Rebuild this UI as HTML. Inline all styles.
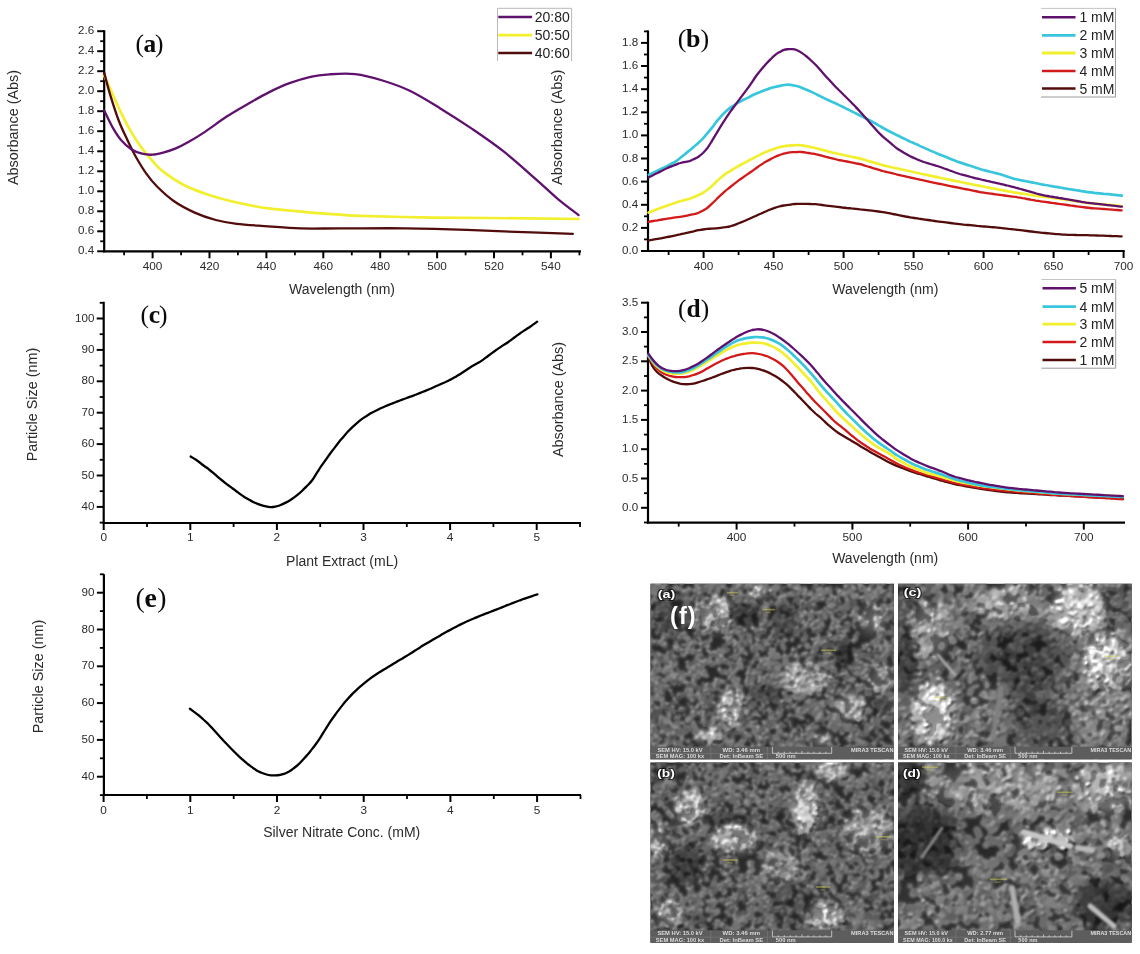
<!DOCTYPE html>
<html><head><meta charset="utf-8"><title>Figure</title>
<style>html,body{margin:0;padding:0;background:#fff;}body{width:1140px;height:954px;overflow:hidden;}svg{display:block;will-change:transform;}</style>
</head><body>
<svg width="1140" height="954" viewBox="0 0 1140 954">
<rect width="1140" height="954" fill="#fff"/>
<defs>
<clipPath id="clipa"><rect x="650.5" y="583.8" width="243.5" height="175.4"/></clipPath>
<clipPath id="clipc"><rect x="898" y="583.8" width="233.7" height="175.4"/></clipPath>
<clipPath id="clipb"><rect x="650.5" y="762.6" width="243.5" height="180.2"/></clipPath>
<clipPath id="clipd"><rect x="898" y="762.6" width="233.7" height="180.2"/></clipPath>
<filter id="bl4" x="-5%" y="-5%" width="110%" height="110%"><feGaussianBlur stdDeviation="4"/></filter>
<filter id="bl06" filterUnits="userSpaceOnUse" x="640" y="575" width="500" height="379" color-interpolation-filters="sRGB"><feGaussianBlur in="SourceGraphic" stdDeviation="0.8" result="b"/><feColorMatrix in="b" type="luminanceToAlpha" result="h"/><feDiffuseLighting in="h" surfaceScale="3" diffuseConstant="1" lighting-color="#fff" result="L"><feDistantLight azimuth="235" elevation="50"/></feDiffuseLighting><feComposite in="b" in2="L" operator="arithmetic" k1="1.38" k2="0" k3="0" k4="0"/></filter>
<filter id="bl06r" filterUnits="userSpaceOnUse" x="640" y="575" width="500" height="379"><feGaussianBlur stdDeviation="0.8"/></filter>
<filter id="grain" filterUnits="userSpaceOnUse" x="640" y="575" width="500" height="379" color-interpolation-filters="sRGB"><feTurbulence type="fractalNoise" baseFrequency="0.28" numOctaves="2" seed="5"/><feColorMatrix type="matrix" values="2.2 0 0 0 -0.6  2.2 0 0 0 -0.6  2.2 0 0 0 -0.6  0 0 0 0 1" result="ng"/><feComposite in="SourceGraphic" in2="ng" operator="arithmetic" k1="0" k2="1" k3="0.22" k4="-0.11"/></filter>
</defs>
<g clip-path="url(#clipa)"><g>
<g filter="url(#bl4)">
<rect x="640.5" y="573.8" width="263.5" height="195.4" fill="#2c2c2c"/>
<ellipse cx="717" cy="615" rx="20" ry="15" fill="#737373" transform="rotate(-20 717 615)"/>
<ellipse cx="761" cy="593" rx="9" ry="5" fill="#737373"/>
<ellipse cx="873" cy="620" rx="13" ry="14" fill="#5a5a5a"/>
<ellipse cx="807" cy="679" rx="22" ry="14" fill="#666666"/>
<ellipse cx="882" cy="680" rx="12" ry="12" fill="#5a5a5a"/>
<ellipse cx="733" cy="710" rx="12" ry="18" fill="#737373"/>
<ellipse cx="852" cy="709" rx="14" ry="12" fill="#666666" transform="rotate(-30 852 709)"/>
<ellipse cx="710" cy="737" rx="12" ry="7" fill="#737373"/>
<ellipse cx="821" cy="741" rx="9" ry="5" fill="#6d6d6d"/>
<ellipse cx="746" cy="615" rx="15" ry="11" fill="#191919"/>
<ellipse cx="845" cy="656" rx="9" ry="13" fill="#151515"/>
<ellipse cx="766" cy="694" rx="17" ry="9" fill="#1d1d1d"/>
<ellipse cx="883" cy="707" rx="10" ry="9" fill="#1d1d1d"/>
<ellipse cx="672" cy="615" rx="20" ry="22" fill="#202020"/>
<ellipse cx="785" cy="620" rx="12" ry="16" fill="#1d1d1d"/>
</g>
<g filter="url(#bl06)" stroke-linecap="round" fill="none">
<path d="M846 658l0 1M750 619l0 1M760 691l0 0M845 653l0 1M744 609l2 1" stroke="#323232" stroke-width="7"/>
<path d="M772 692l0 0M780 627l-1 0M676 633l1 2M887 711l2 0M740 607l0 1M748 624l0 1M778 610l0 0M769 689l0 0M752 611l-1 1M837 658l0 0M791 619l1 2M791 621l0 0M786 625l0 2" stroke="#3c3c3c" stroke-width="7"/>
<path d="M889 702l1 1M754 606l0 2M655 624l0 0M659 625l0 2M669 600l1 0M796 611l0 0M839 644l1 0M658 602l0 0M879 706l0 1M777 615l1 1M774 700l1 1M840 646l0 2M750 625l1 0M784 622l0 1M785 621l2 1M880 715l0 2M658 609l1 0M783 626l0 0" stroke="#464646" stroke-width="7"/>
<path d="M651 708l-1 1M822 719l-1 1M837 589l1 1M776 631l1 0M708 685l1 0M724 646l0 0M746 750l2 1M733 744l0 2M810 708l0 1M787 664l2 1M889 697l1 0M811 594l1 0M669 675l0 0M761 623l0 0M683 618l1 2M683 710l0 0M695 752l1 2M828 590l0 0M775 630l0 0M690 675l2 0M833 598l0 0M691 671l0 0M781 702l-1 1M740 690l0 1M666 664l0 0M814 727l0 0M873 724l-1 1M669 705l-1 0M885 696l1 1M773 695l0 1M832 645l0 1M681 709l0 0M757 632l0 0M696 635l0 1M655 725l-1 0M850 747l0 0M777 747l2 1M692 761l0 0M823 644l0 1M699 709l-1 1M726 594l-1 2M753 602l0 0M675 700l0 0M654 718l0 1M665 639l-1 1M699 651l0 0M758 584l0 0M666 585l0 1M661 725l0 0M813 653l0 0M877 594l0 1M742 629l2 1M846 587l1 2M657 690l0 2M722 659l0 1M728 639l1 2M665 603l-1 2M841 606l-1 1M692 721l0 0M648 675l0 0M743 729l0 2M684 709l0 0M858 754l1 2M879 755l-2 0M789 697l-1 0M883 702l1 1M651 676l0 0M732 671l-1 0M771 741l1 2M720 753l0 0M758 697l0 2M736 745l2 0M878 719l0 1M699 594l0 1M694 713l0 1M750 604l0 1M885 592l2 0M667 622l0 0M747 683l0 0M854 607l0 0M801 749l-1 0M849 687l0 0M720 726l1 0M670 627l0 1M728 753l-1 1M649 713l1 0M867 734l0 0M895 620l-1 0M702 670l1 0M762 731l1 2M766 753l2 0M691 745l0 0M709 706l0 0M757 672l0 2" stroke="#505050" stroke-width="7"/>
<path d="M751 754l1 0M833 722l-2 1M800 591l0 1M883 594l-1 0M821 641l1 0M743 596l0 2M893 599l1 1M761 678l0 1M893 705l1 0M802 608l0 1M689 623l1 0M708 723l0 0M741 586l2 1M722 582l0 2M878 597l-1 1M888 749l-2 0M652 712l0 1M794 650l0 0M692 751l0 1M885 661l0 1M691 646l1 0M766 613l0 0M816 586l-1 1M821 713l-2 0M698 666l0 1M806 706l0 1M698 761l-2 2M650 688l1 0M805 639l-1 1M751 761l0 1M717 686l0 2M866 671l1 0M675 638l1 1M772 651l1 1M763 615l1 2M695 713l0 0M674 674l1 1M663 757l1 0M750 600l-2 1M779 729l0 1M892 736l0 0M652 709l0 0M822 702l-1 2M651 613l-1 0M766 723l0 0M667 663l0 0M737 731l1 1M694 611l0 0M661 642l0 0M706 663l0 0M729 731l0 1M870 694l-2 0M678 743l-2 0M841 726l0 1M687 605l-2 1M758 730l0 0M669 619l-2 0M799 621l0 1M666 587l-1 1M803 630l1 1M834 721l0 1M873 720l0 0M772 713l-1 1M892 595l-1 1M691 650l-1 1M834 624l-1 1M782 742l0 0M648 762l-1 0M795 651l0 1M864 598l-1 2M882 637l-1 1M762 668l-1 0M668 708l2 1M814 653l0 1M648 709l1 0M863 675l-1 1M868 677l0 2M683 654l0 0M886 594l-1 1M847 692l0 0M858 670l1 1M758 636l-1 2M755 723l-1 2M792 749l0 0M894 655l0 2M663 728l0 2M861 586l1 1M797 597l0 0M760 750l1 1M714 653l0 0M683 753l0 0M768 755l0 0M835 682l0 1M870 652l0 1M896 612l1 0M752 581l-2 1M718 661l2 1M895 699l2 1M832 601l0 0M841 618l-1 1M813 602l0 0M718 656l0 1M673 729l0 0M854 602l0 1" stroke="#5a5a5a" stroke-width="7"/>
<path d="M760 682l0 1M658 759l1 1M700 652l0 0M740 663l-1 1M811 727l0 0M867 725l1 1M846 679l0 0M856 617l0 0M847 594l-1 1M770 623l-2 1M793 744l-1 0M654 587l0 1M721 725l-1 1M847 627l0 1M821 718l0 0M839 723l-1 2M726 661l-1 0M729 631l0 0M828 736l0 1M815 713l-1 1M737 748l0 0M830 592l0 0M751 707l0 0M889 747l0 0M781 710l0 0M663 704l0 0M854 732l-1 2M887 607l0 0M824 665l2 1M748 675l0 0M744 740l-1 1M855 613l-1 1M717 683l-1 1M814 649l2 0M845 637l0 2M663 753l0 0M874 754l0 0M891 755l1 1M712 762l1 1M788 755l0 0M648 701l0 2M820 591l-1 1M691 728l-2 0M786 595l0 0M657 680l-1 0M682 675l1 2M846 758l0 0M797 749l1 0M790 741l-1 1M856 654l0 1M732 664l0 1M711 727l2 0M879 760l0 1M752 715l-2 1M754 597l1 0M821 620l0 0M712 664l1 0M867 693l0 0M848 606l-1 1M676 645l0 1M864 656l-1 0M701 755l2 0M760 747l1 2M729 687l1 0M714 595l1 1M717 746l-2 1M650 651l0 2M895 729l0 0M770 760l0 0M779 714l1 1M673 681l1 2M754 748l0 0M819 644l0 0M714 654l0 0M828 600l0 1M797 634l-1 0M658 684l0 0M736 646l0 0M776 664l2 0M746 642l0 2M784 674l1 0M779 583l-2 1M728 689l0 0M729 663l0 0M752 595l1 0M867 666l1 1M839 760l-2 0M654 681l-1 0M769 679l0 1M765 641l0 0M877 657l0 0M883 659l0 0M778 603l1 1M781 732l0 0M698 688l0 1M854 747l0 0M679 729l1 1M876 754l-1 1M832 611l-1 1M873 582l1 0M893 727l0 1M670 730l1 1M866 744l0 0M728 691l0 2M683 635l-1 0M834 729l1 1M668 755l0 1M835 755l-1 2M810 603l1 0M737 582l0 0M873 750l1 1M773 762l-1 2M707 642l0 2M870 588l1 0" stroke="#646464" stroke-width="7"/>
<path d="M697 659l1 2M814 736l-2 0M648 730l0 0M762 583l0 0M726 744l0 0M738 685l-1 1M823 751l-2 1M856 727l-1 1M741 744l-1 1M662 687l0 1M685 637l0 0M694 652l0 0M682 680l0 1M773 725l-1 1M885 749l0 2M855 694l-2 1M667 657l0 2M893 671l1 0M867 760l0 2M836 720l0 2M828 684l0 1M686 594l0 2M849 689l-1 1M850 585l1 2M769 676l-1 0M772 718l-2 0M701 732l0 2M742 651l0 0M770 662l0 2M856 671l-1 1M676 744l0 0M653 592l-1 0M821 625l1 0M808 758l1 0M738 655l0 0M780 746l1 1M723 584l0 1M893 751l0 0M792 594l-1 0M880 649l-1 0M802 692l1 0M824 593l-2 0M833 705l-1 0M648 723l0 1M701 698l0 1M800 710l0 0M658 753l-1 1M844 614l0 2M861 688l-2 1M718 662l0 0M657 663l1 1M874 600l-2 0M761 682l2 0M657 759l-1 0M754 758l-2 1M656 661l-1 0M862 743l1 2M790 585l1 1M692 715l1 0M820 629l0 0M694 669l0 0M655 589l1 1M667 751l0 1M654 750l1 1M830 716l0 2M749 736l0 1M786 661l-1 0M794 733l-1 1M798 751l1 1M858 618l-1 1M777 736l-1 1M808 703l1 0M885 693l-1 0M730 692l0 0M829 701l0 0M687 691l0 0M729 758l1 1M659 697l-2 1M875 666l1 0M774 750l0 0M774 757l1 1M822 612l0 0M661 699l1 1M686 728l0 0M750 672l-1 1M843 630l0 0M809 730l0 1M757 646l2 1M740 692l-1 2M831 715l1 0M701 673l0 0M669 743l-2 1M718 590l0 1M799 592l1 0M894 669l2 1M894 609l-2 0M894 640l0 1M803 749l0 0M709 587l2 1M770 761l0 0M873 745l0 1M803 602l0 1M732 740l0 2M795 696l1 1M827 686l1 1M892 695l-2 0M700 696l0 0M804 696l-2 1M812 665l1 1M843 727l1 1M818 693l1 1M752 724l0 1M652 738l0 0" stroke="#6e6e6e" stroke-width="7"/>
<path d="M771 638l1 0M695 626l2 0M651 687l0 0M885 618l2 1M740 645l1 0M695 662l0 1M840 691l0 1M801 689l0 1M877 627l1 0M697 583l0 1M648 632l0 1M766 666l0 0M678 649l0 0M820 664l0 0M697 621l1 2M716 582l-1 1M804 711l-1 0M711 744l0 1M697 589l-1 1M876 619l0 0M794 680l0 0" stroke="#787878" stroke-width="7"/>
<path d="M818 675l2 1M716 731l2 0M707 631l0 0M884 689l0 0M867 623l-2 1M740 726l-1 2M740 702l-2 0M716 621l0 0M730 623l2 1M796 664l-1 1M787 688l0 1M882 619l0 0M752 595l1 1" stroke="#828282" stroke-width="7"/>
<path d="M698 612l-1 0M867 709l1 2M732 706l-1 1M724 628l2 0M805 692l-1 1M698 736l-1 1M840 703l-2 0M876 618l2 0M732 710l2 1" stroke="#8c8c8c" stroke-width="7"/>
<path d="M857 706l2 1M721 712l0 2M797 692l0 0M809 688l-1 1M737 712l0 0M709 740l1 1M714 600l1 1M824 675l0 0M721 707l-1 1M796 666l0 1M799 680l0 1M721 615l1 1" stroke="#969696" stroke-width="7"/>
<path d="M807 677l1 1M725 719l0 0M858 708l1 1M877 690l0 0M733 725l-1 1M720 603l1 1M712 738l-1 1M822 684l-1 1M854 710l-1 0M858 703l1 2" stroke="#a0a0a0" stroke-width="7"/>
<path d="M853 714l0 0M857 718l2 1M861 702l0 0M723 613l1 1" stroke="#aaaaaa" stroke-width="7"/>
<path d="M803 680l-1 2M855 710l0 0M724 712l0 0M716 737l2 0M797 687l-1 2M727 699l0 0" stroke="#b4b4b4" stroke-width="7"/>
<path d="M847 649l-2 1" stroke="#282828" stroke-width="6"/>
<path d="M750 608l1 1M844 665l-1 1M841 649l1 1" stroke="#323232" stroke-width="6"/>
<path d="M789 628l0 1M749 607l0 2M752 607l-1 0M741 608l0 1M668 627l1 2M788 631l-2 1M756 693l1 0M793 627l0 0M782 619l1 0M683 621l0 0M784 605l-1 1M660 613l-2 1M739 613l1 0M671 616l-1 0M848 666l1 1M667 611l1 1M784 626l0 0M889 714l1 0M891 704l-1 2M840 658l0 0M748 613l0 0M883 709l1 0M759 616l1 1M775 696l0 0M684 614l0 0" stroke="#3c3c3c" stroke-width="6"/>
<path d="M668 611l1 1M677 639l0 0M843 642l0 1M762 696l-1 0M663 629l0 0M689 625l1 0M796 617l0 0M663 598l0 0M684 615l1 0M688 611l0 0M789 631l0 0M749 696l0 0M683 594l0 0M784 601l-1 1M659 614l0 0M882 713l0 1M786 609l-1 0" stroke="#464646" stroke-width="6"/>
<path d="M730 756l1 0M691 642l0 0M872 596l-1 1M826 646l0 1M671 704l-1 0M844 730l-1 0M895 729l1 1M747 645l0 0M803 732l0 1M759 688l0 0M755 693l0 2M808 593l-2 1M885 645l0 1M688 592l-1 1M701 662l1 2M691 758l0 1M697 677l-2 1M813 640l2 1M746 631l0 1M726 731l0 0M791 626l1 1M784 702l-1 1M848 630l0 0M736 652l0 1M832 609l0 0M664 623l0 1M818 613l0 1M769 734l1 1M668 667l1 2M844 683l0 0M662 721l1 1M708 759l0 0M667 747l-1 1M739 586l1 2M674 740l0 0M874 742l1 1M678 676l-1 1M785 666l-1 0M894 712l0 1M756 585l-1 0M716 680l0 0M780 589l0 1M804 591l-1 1M876 652l0 0M821 620l1 1M751 691l0 2M869 757l0 2M846 726l0 1M773 656l-1 1M846 624l0 0M755 747l-1 1M756 604l1 1M661 669l0 1M704 713l1 1M754 629l0 1M807 645l0 2M702 596l0 2M682 590l0 2M650 690l0 1M760 642l0 0M871 748l1 1M783 703l-1 1M694 681l0 1M855 726l0 0M862 663l-2 1M783 598l-2 1M777 688l1 0M807 727l0 2M652 733l-1 1M676 728l1 0M777 679l2 0M806 661l-1 2M659 605l1 1M796 589l0 2M648 762l0 1M864 655l1 1M879 754l0 0M793 653l1 0M706 689l0 0M803 736l0 0M846 642l1 1M779 642l0 1M657 714l0 0M779 588l1 1M853 595l1 0M775 617l-1 1M692 688l-1 0M727 757l-2 0M657 610l0 1M753 744l0 1M732 750l2 1M846 738l0 0M722 762l-1 0M653 689l1 2M684 623l0 0M743 737l0 0M893 749l0 1M662 613l0 0M882 650l0 0M685 593l0 0M732 639l-1 1M825 709l0 0M742 601l-2 1M839 603l-1 1M826 609l0 0M800 759l0 1M733 631l-1 0M682 696l-2 1M820 637l0 0M664 690l-1 2M662 680l1 2M687 754l1 0M679 682l0 2M665 606l-1 0M885 653l-2 1M837 603l0 0M660 711l-1 0M831 607l-1 2M701 673l0 0M869 646l0 1M811 609l-1 0M797 733l0 0M780 758l0 2M774 687l1 0M732 638l-1 1M877 753l1 1M851 682l0 0M765 735l0 0M729 751l0 0M675 734l1 1M761 661l1 0M733 733l1 1M890 734l0 0M670 755l1 1" stroke="#505050" stroke-width="6"/>
<path d="M896 733l0 0M787 735l1 1M863 685l0 1M895 740l0 2M658 709l2 0M885 665l0 1M761 628l0 2M668 636l1 0M838 675l-1 0M778 710l1 0M894 751l-1 1M780 589l0 0M656 665l0 2M706 581l0 0M784 694l1 2M887 647l0 1M876 594l1 2M734 584l0 1M782 595l0 0M740 667l-1 0M802 755l0 1M716 711l-1 1M748 699l0 0M860 669l2 1M839 628l-1 0M894 606l-2 0M701 594l0 2M772 720l0 0M818 760l0 1M675 588l-1 1M858 651l1 0M651 663l0 0M809 711l0 1M660 656l1 1M654 599l1 1M875 702l-2 1M708 599l1 1M728 650l-1 1M827 693l-1 2M766 725l0 2M825 660l1 1M804 736l0 1M816 631l1 1M869 671l-1 1M896 710l-2 0M826 643l1 0M754 704l1 1M819 629l1 1M853 613l0 0M760 728l-1 1M737 587l2 1M771 719l0 0M666 706l0 0M800 758l0 0M719 680l0 2M699 631l1 0M759 674l0 0M830 664l-1 2M795 756l0 0M671 652l1 2M673 673l-1 2M854 615l-1 0M757 734l1 1M760 750l-2 0M809 701l-1 2M843 695l1 1M652 705l2 0M767 609l1 0M653 729l0 0M687 615l-1 1M854 736l2 0M648 709l0 0M813 730l-1 0M821 623l1 0M830 726l0 1M802 752l0 0M807 604l0 0M858 657l-1 0M724 650l-1 2M666 612l0 0M716 653l0 0M833 668l0 0M815 606l0 0M754 605l-1 0M657 642l-1 1M699 761l-2 1M791 744l0 0M842 628l0 0M869 603l0 1M750 636l0 0M662 724l1 1M813 595l0 1M809 661l0 1M702 584l0 0M803 742l0 1M700 675l0 0M663 598l1 0M845 673l1 0M651 675l1 0M850 587l-1 1M816 630l-1 1M648 656l0 1M774 677l-1 0M730 743l-1 1M756 726l0 0M699 654l-1 0M854 693l-1 1M828 696l1 1M689 667l0 2M713 696l-2 1M660 678l0 1M662 757l1 0M672 725l1 1M684 592l0 0M780 741l-1 0M861 750l-1 1M709 701l2 0M778 748l-1 0M718 597l-1 0M722 760l0 1M830 588l0 0M765 606l1 1M761 659l-1 0M789 708l-1 0M801 709l0 0M795 656l0 0M752 585l0 1M874 719l0 0M793 737l0 1M715 655l2 1M857 755l0 0M789 605l1 1M814 625l-1 2M754 760l-1 2M868 710l0 1M766 603l-1 0M697 604l1 1M896 636l1 0M782 734l0 0M659 584l1 1M755 659l0 0M808 654l-2 1M694 662l0 0M648 612l-1 2M662 719l-1 0M835 669l0 2M791 705l0 0M702 633l1 1M762 632l2 0M887 643l-1 0M880 583l0 1" stroke="#5a5a5a" stroke-width="6"/>
<path d="M892 700l0 0M747 726l1 0M805 654l-2 1M650 645l0 0M737 630l-1 1M739 602l-2 0M771 678l1 2M681 745l1 1M684 755l0 1M658 585l-2 0M676 663l0 0M850 725l-2 1M833 619l1 1M688 644l0 1M653 670l0 1M715 685l0 0M656 737l1 1M819 719l-2 1M750 636l-1 0M838 716l0 1M663 733l0 0M783 642l0 0M854 614l2 0M891 633l1 0M886 718l-1 1M751 674l-1 1M895 662l1 1M762 583l-1 2M841 609l1 0M857 687l0 0M690 697l0 1M819 620l-1 2M874 662l0 0M797 630l0 0M757 654l0 1M819 622l-2 0M812 626l0 1M773 637l0 0M704 590l-2 0M890 719l0 1M786 759l0 1M764 741l0 1M864 655l-1 1M735 647l1 0M896 711l2 1M862 664l0 0M761 709l0 0M813 701l1 0M844 672l1 0M730 612l0 1M805 595l0 1M711 752l-1 1M740 686l1 1M880 735l1 1M687 683l0 1M683 651l1 0M651 722l0 0M687 731l-1 1M692 754l1 1M843 675l0 0M749 638l1 2M742 583l-1 0M658 691l0 1M681 673l-2 0M701 590l-1 1M773 593l1 1M733 590l0 2M687 600l1 1M874 754l0 1M833 662l0 1M676 724l1 1M701 645l1 1M654 745l1 2M660 747l-1 1M748 719l0 2M776 739l0 0M873 642l-1 1M670 662l0 0M888 653l-1 2M819 709l-2 1M785 601l1 1M819 614l0 0M897 640l0 0M649 591l-1 0M673 677l-1 0M739 588l-1 1M760 684l0 0M675 648l1 1M724 682l-1 0M872 728l-2 0M827 667l0 0M685 634l-2 1M765 679l2 1M866 592l1 0M816 584l0 0M778 753l-1 0M832 599l1 1M873 721l0 1M888 692l0 0M738 750l0 0M870 590l-1 1M821 712l0 1M836 598l2 1M831 614l1 1M867 590l0 0M757 630l0 0M688 749l-2 1M748 596l-1 0M781 602l1 1M654 600l0 0M734 757l1 1M806 754l0 0M805 637l0 2M771 659l-1 1M758 728l-1 1M802 618l1 1M856 740l0 0M873 723l0 0M824 705l-1 0M704 704l0 2M749 586l1 0M832 605l0 0M722 657l1 2M693 622l0 0M895 742l0 2M753 685l-1 1M891 616l-1 1M757 739l1 1M779 730l-1 0M803 708l0 1M856 638l-1 0M778 605l0 0M711 761l1 1M735 597l-1 2M889 632l1 1M832 671l0 0M657 744l0 0M689 688l0 2M829 702l1 0M753 649l0 0M852 729l-1 1M705 672l0 0M783 647l1 0M699 606l-1 1M772 592l-1 1" stroke="#646464" stroke-width="6"/>
<path d="M666 680l-1 1M876 645l0 2M788 669l2 0M848 592l0 0M730 752l-1 0M754 674l1 2M808 646l0 1M706 661l1 1M662 643l-1 0M729 641l0 2M741 637l0 1M778 655l1 2M659 694l1 0M700 656l0 0M782 684l2 1M713 729l0 0M864 646l0 2M897 733l0 0M838 623l0 0M649 622l1 1M826 667l1 1M664 744l1 1M864 757l1 2M770 757l-1 0M776 588l1 1M669 715l0 2M763 662l-1 0M831 726l-2 1M679 649l-1 0M887 645l0 1M836 621l0 0M865 677l-1 1M810 618l2 0M781 674l-1 1M681 679l2 1M670 735l-1 1M731 753l-1 0M705 692l1 0M663 589l1 1M747 682l0 1M787 663l1 1M788 700l2 1M876 597l-2 0M756 674l-1 1M840 759l0 1M812 705l1 1M861 588l0 2M765 659l-1 0M842 638l1 1M759 667l0 0M769 710l1 1M654 727l-1 1M737 657l0 0M739 632l-1 1M710 640l-2 1M880 637l0 1M724 725l-2 0M775 673l-1 0M798 714l0 1M719 650l-1 2M842 732l0 1M766 610l1 0M738 760l0 1M858 597l0 0M688 663l0 1M859 674l-1 0M741 594l-1 2M691 691l0 2M704 700l-1 1M817 720l0 0M683 654l1 1M712 721l0 1M703 720l0 1M800 617l0 0M714 719l1 1M653 732l-1 0M752 662l0 0M712 654l0 0M761 739l1 1M676 588l0 0M887 618l0 2M698 675l0 2M650 587l1 1M811 615l-1 0M880 752l0 0M863 734l0 1M785 657l1 0M748 586l0 1M771 651l0 2M846 748l1 1M841 592l-1 2M680 589l-1 0M888 611l1 0M811 620l1 1M652 700l-1 1M784 676l-1 1M817 711l0 0M777 684l0 2M818 596l0 2M817 706l-1 0M851 738l-1 0M878 697l2 1M892 647l0 0M828 664l-1 0M672 678l0 0M773 633l0 2M810 730l0 0M677 718l0 1M867 666l0 1M733 622l-1 0M696 671l0 0M867 599l0 0M870 711l-1 1M728 743l1 1M707 753l-1 1M762 626l1 0M720 751l0 1M780 598l0 1M738 692l0 0M801 589l0 1M689 639l1 1M765 724l0 0M670 762l-2 1M783 752l0 0M857 667l-1 1M662 718l1 0M682 583l0 0M772 591l1 1M733 679l0 0M664 672l2 1M846 697l0 0M716 687l0 1M823 581l1 0M746 757l2 0M762 588l1 1M754 731l1 1M696 592l0 1M876 592l-1 0M694 724l1 2M890 596l0 0M848 601l-1 2M694 696l0 0M696 675l0 2M817 644l-1 1" stroke="#6e6e6e" stroke-width="6"/>
<path d="M852 697l-2 0M720 713l0 2M774 756l-1 1M864 674l0 1M651 653l-1 1M832 638l-1 0M721 707l1 0M667 669l1 0M704 721l0 1M779 677l1 0M703 604l0 0M792 669l0 1M732 622l1 0M752 674l0 0M729 754l0 2M857 661l1 1M668 687l0 0M827 677l-1 1M662 748l0 1M888 648l1 1M787 676l1 1M705 632l0 1M864 718l1 1M687 591l-1 1M780 599l1 1M702 604l0 0M666 722l1 1M657 732l0 1M897 693l2 0M649 735l0 0" stroke="#787878" stroke-width="6"/>
<path d="M712 730l0 0M829 744l1 1M852 714l1 0M860 710l0 1M881 610l0 0M746 713l1 0M878 667l-1 1M823 681l1 2M758 589l-1 0" stroke="#828282" stroke-width="6"/>
<path d="M740 725l0 0M720 736l1 0M831 678l1 1M877 689l-1 0M893 682l-1 0M788 688l0 1M880 669l-1 0M746 711l1 1M862 698l-1 1M736 721l0 0M763 591l1 1M784 682l-1 0M891 685l0 0" stroke="#8c8c8c" stroke-width="6"/>
<path d="M877 620l-2 1M862 619l-1 0M809 665l1 0M878 621l0 1M885 672l1 1M716 628l1 1M799 683l-1 0M815 687l-1 0M719 738l2 0M736 715l1 2M813 679l0 1M883 678l0 0M805 682l1 0M857 714l0 0M807 672l-1 0" stroke="#969696" stroke-width="6"/>
<path d="M732 700l-1 0M719 736l1 2M799 681l1 1M724 600l-1 1M877 627l0 2M861 715l1 1M713 735l1 0" stroke="#a0a0a0" stroke-width="6"/>
<path d="M726 711l-2 1M795 674l0 1M709 736l0 0M804 675l-1 0M814 690l0 0" stroke="#aaaaaa" stroke-width="6"/>
<path d="M725 606l1 0M711 615l0 1M853 709l0 0M843 710l0 1M824 739l0 1M725 699l0 0" stroke="#b4b4b4" stroke-width="6"/>
<path d="M726 702l-2 0M714 737l0 0M710 619l0 0" stroke="#bebebe" stroke-width="6"/>
<path d="M846 666l-1 1M845 662l0 1" stroke="#282828" stroke-width="5"/>
<path d="M838 661l1 1M735 612l1 1M779 624l1 0M735 615l1 0M785 616l-1 1M749 607l-1 0M885 706l0 0" stroke="#323232" stroke-width="5"/>
<path d="M660 616l0 0M779 624l0 0M665 614l0 0M672 598l0 2M669 622l0 0M658 624l-1 1M679 613l1 1M678 596l-1 1M771 689l-1 1M676 598l1 1M745 619l0 1M749 620l0 0M653 621l0 0M790 612l1 1M768 691l0 0M773 693l0 0M772 700l-1 0M678 628l0 1M681 622l0 0M740 614l0 0M767 688l-1 1M660 602l0 1M881 703l0 1M796 623l-1 0M734 617l0 0M794 616l1 0" stroke="#3c3c3c" stroke-width="5"/>
<path d="M777 697l1 1M782 635l1 1M665 603l1 0M879 702l0 0M783 616l1 0M667 606l0 1M759 612l0 0M670 597l0 0M671 632l-1 0M681 615l-1 1M689 619l0 0M654 602l0 0M750 699l1 0M653 614l0 0M664 633l0 1M763 702l-1 0M767 698l1 1M849 667l0 0M768 704l0 0M846 643l0 1M690 613l0 2M677 608l-1 1M674 631l0 0M779 621l2 1" stroke="#464646" stroke-width="5"/>
<path d="M765 759l-1 1M692 682l1 1M840 640l0 0M868 690l0 0M785 720l1 0M872 667l-1 0M881 712l0 1M703 686l-1 1M652 614l-1 1M670 658l0 1M653 652l1 0M661 627l0 1M664 743l0 0M705 717l-1 0M774 683l2 1M715 707l0 1M854 650l1 0M846 693l-1 1M656 615l-1 1M688 587l0 1M784 736l1 0M763 744l0 1M679 711l1 0M852 671l1 0M854 606l1 0M844 684l1 0M707 648l0 2M693 673l0 0M802 617l1 0M703 708l1 1M728 589l-1 1M833 618l1 0M833 693l1 1M843 614l-1 0M806 736l1 0M775 637l1 0M737 669l1 0M747 679l1 0M889 698l1 0M832 603l-1 0M856 658l0 1M844 695l0 0M840 616l0 0M667 645l0 1M709 715l1 0M649 737l0 1M756 689l0 1M689 705l0 0M716 682l-1 0M828 694l0 1M869 588l1 0M794 759l0 0M670 654l0 1M798 622l1 1M736 644l-1 0M752 758l0 0M795 755l-1 0M837 683l-1 0M877 729l1 0M714 717l1 0M752 670l0 1M836 607l-1 0M874 653l-1 1M796 752l1 0M765 649l-1 0M681 598l0 0M889 730l0 1M667 711l-1 0M889 614l1 0M756 694l1 1M885 755l0 0M806 703l0 0M825 598l0 1M703 683l0 2M855 623l0 0M865 729l0 0M835 622l0 1M797 713l1 0M893 586l-1 1M871 592l1 0M723 743l0 0M854 663l0 2M876 762l0 2M762 614l-1 1M780 706l0 1M764 735l0 0M748 686l0 1M858 727l-1 0M855 610l1 1M675 711l0 0M741 628l-1 0M834 610l0 0M755 751l0 1M775 702l0 0M794 612l0 0M763 609l-1 1M703 656l0 1M748 701l1 0M784 587l0 1M717 728l-1 0M774 621l0 0M705 726l0 0M797 620l1 0M747 722l0 0M770 672l-1 1M663 694l1 1M795 633l0 0M688 621l0 1M819 716l1 1M810 595l2 0M690 684l0 1M687 666l0 0M805 587l-1 0M884 583l0 1M697 705l0 1M845 675l-1 1M873 589l-1 1M651 619l0 0M676 758l0 0" stroke="#505050" stroke-width="5"/>
<path d="M850 745l1 1M785 695l0 0M834 748l0 0M757 726l-1 0M709 646l0 1M687 732l0 0M648 625l0 0M881 758l-1 0M844 592l0 0M683 652l0 0M770 683l0 1M683 694l0 1M755 584l1 1M772 745l1 1M766 646l0 0M830 685l0 1M711 634l1 1M694 623l-1 1M829 753l0 0M752 679l1 1M808 757l0 0M807 656l-1 0M863 673l1 1M824 662l0 1M710 634l0 0M859 666l-1 1M812 706l0 1M820 716l-1 0M658 632l-1 1M746 748l0 1M833 719l-1 1M877 636l0 0M698 634l1 0M831 636l-1 1M678 636l1 1M731 670l0 0M830 692l0 0M792 656l-1 0M704 586l0 1M839 633l-1 1M768 611l0 0M785 600l-1 0M751 754l-1 0M676 719l0 1M849 677l0 0M746 704l-1 0M700 715l0 0M669 663l0 0M652 586l0 0M846 638l0 0M866 735l-2 0M651 639l-1 1M875 601l-1 1M812 594l0 1M851 692l0 0M814 598l1 1M791 715l2 1M883 584l0 0M807 594l1 1M863 749l0 2M733 674l1 1M681 638l-1 1M757 635l0 0M688 665l1 1M689 697l-1 0M809 758l1 1M809 623l0 1M844 731l-1 0M679 760l1 1M705 696l0 0M895 742l0 1M673 734l1 1M692 751l1 0M764 722l-1 0M648 687l0 0M725 638l-1 0M784 692l1 0M846 630l0 1M813 728l0 1M753 704l0 0M856 731l2 0M878 717l0 0M877 739l0 1M665 703l-1 1M870 594l0 0M748 602l-1 1M879 585l0 1M763 746l-1 1M759 686l-1 1M792 606l1 1M819 640l1 1M677 678l-1 0M814 700l1 1M691 607l1 1M834 598l0 0M732 747l-1 1M652 625l0 2M893 718l-1 1M798 589l-1 0M732 738l0 1M878 594l0 0M677 666l-1 1M704 645l0 0M660 722l1 0M648 727l1 0M768 587l-1 0M812 620l-1 0M826 637l-1 1M749 584l0 1M746 601l0 1M774 670l-1 1M676 702l1 1M831 689l-1 0M835 620l1 1M654 596l1 0M796 741l0 1M671 664l1 1M795 601l-1 0M772 602l1 2M860 686l-1 0M659 733l-1 1M761 663l0 0M833 655l-1 0M822 589l1 0M697 632l0 0M693 708l-2 0M697 694l0 0M806 705l0 1M780 752l-2 0M831 629l1 0M828 613l0 1M768 582l-1 0M883 750l0 1M799 727l1 0M781 735l0 0M685 599l-1 1M806 636l1 0M884 605l1 1M781 758l1 0M875 667l-1 0M766 669l0 0M849 623l0 2M826 702l-1 1M800 587l0 0M695 682l0 0M764 758l-1 0M694 676l-1 1M708 701l-1 1M710 725l0 0M710 695l0 0M791 727l0 0M704 676l0 0M666 728l-1 1M801 749l1 1M694 645l0 0M784 597l0 1M704 703l-1 1M669 635l0 1M662 660l-1 1M735 679l1 0M660 668l0 1M742 733l0 0M651 582l-1 1M810 700l-1 0M790 605l0 1M857 634l-1 1M790 722l0 1M694 731l-1 1M689 600l0 0M735 609l0 1M874 705l0 1M825 648l-1 1M878 662l0 0M719 669l0 0M829 633l0 0M796 704l-1 1M763 629l-1 1M857 757l0 0M653 697l0 0M653 582l0 1M877 648l0 1M673 732l-1 1M716 720l-1 0M813 602l0 0M843 756l0 0" stroke="#5a5a5a" stroke-width="5"/>
<path d="M828 604l1 2M698 678l0 0M756 649l0 0M712 728l1 1M718 585l-1 0M851 668l1 1M652 641l0 0M691 675l0 0M789 745l-1 0M696 733l0 0M813 724l0 1M836 625l0 0M725 588l1 1M794 666l0 0M838 759l-1 1M674 750l0 0M774 752l0 0M871 585l1 0M877 640l-2 0M655 659l0 2M694 676l0 0M814 707l0 0M713 690l0 0M818 710l0 0M750 667l-2 0M723 743l1 1M723 691l-2 0M869 753l0 1M676 679l0 1M896 694l-1 1M726 731l0 1M665 647l0 0M650 612l0 0M831 681l-1 1M844 592l0 0M757 728l0 0M831 597l0 0M795 707l0 1M668 653l0 2M660 671l-1 0M743 636l0 0M723 672l-1 1M893 628l0 0M809 734l-1 0M842 690l0 0M748 681l-1 0M851 678l1 0M714 725l-1 1M719 684l0 0M759 730l2 0M709 690l-1 1M659 654l0 0M836 649l1 0M848 608l0 1M707 747l-1 1M752 727l-1 0M836 599l0 1M829 713l1 1M732 760l0 0M661 655l1 0M758 737l0 0M733 633l-1 1M868 659l2 0M680 758l1 1M730 678l-1 1M866 673l0 0M869 601l0 0M789 716l0 0M700 668l2 0M858 608l0 1M716 704l-1 0M885 600l0 0M786 696l1 2M827 589l1 1M763 663l-1 1M718 730l-1 0M836 754l0 1M729 757l1 1M871 762l0 1M840 721l1 1M879 588l-1 1M759 753l0 0M814 613l-1 0M756 712l0 0M836 640l-1 0M676 697l0 0M785 758l-1 0M812 744l-1 1M696 663l-1 0M879 720l0 2M733 593l-1 1M720 697l0 0M756 670l-1 0M656 672l1 0M675 728l-1 0M767 643l0 0M831 627l0 1M861 584l-1 0M780 668l0 0M714 653l1 1M811 707l0 0M869 604l0 1M721 672l0 0M656 761l0 0M648 691l0 0M682 738l1 1M811 659l1 0M707 745l0 0M691 590l0 0M832 724l1 1M822 614l0 0M753 680l-1 1M864 587l0 1M825 719l-1 1M858 660l0 0M735 754l1 1M785 747l0 1M802 711l0 0M776 725l-1 1M692 701l1 0M754 647l0 1M727 739l-1 1M844 727l0 0M652 675l0 1M810 620l0 1M853 682l0 0" stroke="#646464" stroke-width="5"/>
<path d="M747 734l1 0M801 718l2 0M781 724l1 1M839 720l0 0M687 718l1 0M672 668l-1 0M746 734l0 0M686 751l-1 0M681 709l1 0M825 654l0 0M710 657l0 1M726 671l0 0M855 640l-1 1M734 682l0 1M770 668l0 1M653 674l-1 0M819 752l1 1M743 730l0 0M771 591l1 0M882 605l0 1M656 595l1 0M781 686l2 0M664 644l-1 1M818 727l-1 1M718 752l0 2M867 593l-1 1M799 700l0 0M676 586l0 0M889 651l0 0M830 737l0 0M809 702l0 1M806 594l0 0M670 722l0 1M668 659l0 0M668 678l0 1M790 585l0 1M768 731l0 1M652 676l1 1M723 696l-1 1M763 760l0 0M738 644l-2 0M739 679l0 1M724 652l0 0M884 656l-1 1M831 744l0 1M886 646l0 0M765 629l0 0M874 593l1 1M650 602l1 1M698 612l0 0M673 682l-1 0M809 739l-1 1M699 673l1 0M797 581l0 0M775 657l0 1M715 684l-1 0M822 715l-1 1M857 751l-1 1M785 597l0 0M858 583l0 0M829 653l1 1M741 642l-1 0M811 701l-1 0M789 758l1 1M848 729l0 1M874 725l0 0M656 663l-1 1M652 682l-1 0M825 617l1 1M889 688l0 0M706 676l1 0M799 745l0 0M719 654l0 1M776 669l1 0M802 755l0 0M648 645l1 0M798 585l0 0M689 741l-1 1M744 748l-1 0M696 753l0 0M773 587l0 0M694 642l1 1M795 750l0 0M847 726l-1 0M712 582l-1 1M682 723l1 0M890 589l1 1M845 595l-1 0M775 654l0 0M801 613l0 0M791 666l1 0M886 731l1 2M749 594l0 0M784 759l-2 1M882 651l0 0M663 707l0 0M699 592l0 0M746 653l0 1M661 586l-1 0M797 753l1 0M674 678l0 0M755 603l0 0M819 665l2 0M716 680l0 1M650 740l0 1M896 641l1 1M870 689l0 0M773 677l0 0M766 607l0 1M749 751l0 0M792 639l0 1M868 732l0 0M652 593l-2 0M777 740l1 0M727 633l0 1M854 589l1 0M697 729l-1 0M786 640l0 0M704 750l-2 0M703 721l1 1M817 600l0 0M822 596l-1 1M742 666l0 2M853 750l1 0M806 613l0 1M825 654l0 0M668 743l0 0M707 687l0 0M702 664l1 2M798 716l0 0M731 672l-1 0M883 634l1 1M654 600l0 0M682 740l-1 1M652 751l1 0M797 657l1 0M650 674l-1 0M686 750l-1 0M827 655l-2 1M784 649l0 1M700 695l-1 0M861 688l1 0M817 639l1 1M650 644l0 0M836 637l0 2" stroke="#6e6e6e" stroke-width="5"/>
<path d="M837 717l-1 1M880 647l1 0M729 613l0 0M737 687l0 0M725 737l0 0M753 726l0 0M859 741l0 0M883 688l0 1M720 719l-1 0M826 611l-1 1M819 692l-1 0M720 670l0 0M785 673l0 2M718 582l-1 1M717 598l1 0M726 728l-1 0M882 743l0 0M879 609l0 1M730 694l-1 1M881 589l-2 0M822 598l1 1M832 629l-1 0M657 684l-2 0M720 733l0 0M895 739l0 0M807 680l0 0M796 670l1 1M884 631l-1 0M739 663l0 1M772 650l2 0M883 685l1 1M853 597l1 1" stroke="#787878" stroke-width="5"/>
<path d="M698 738l0 1M789 681l-1 1M865 622l1 0M884 693l-1 1M812 678l0 0M762 588l0 0M821 690l0 0M879 633l-1 0M829 740l-1 1M725 703l0 0M863 626l0 0M735 600l0 0M859 702l1 1M889 686l0 1" stroke="#828282" stroke-width="5"/>
<path d="M811 694l-1 0M738 697l1 1M841 707l0 0M801 692l-2 1M788 678l0 0M756 589l-1 1M797 667l0 0M790 688l1 1M825 741l-1 1M821 676l0 0M712 605l0 1M738 697l0 0M721 703l0 0M715 598l0 1M806 673l-1 1M723 606l1 1" stroke="#8c8c8c" stroke-width="5"/>
<path d="M717 611l0 0M846 715l1 0M798 666l0 0M739 698l-1 1M821 741l0 1M801 670l0 0M842 710l1 0M817 674l0 1M720 712l0 0M798 685l0 0M795 680l1 0M794 689l0 2M731 693l1 1M885 688l0 1M820 690l-1 0M882 629l0 1M817 669l1 0M753 595l-1 0M720 736l0 1M851 699l0 0M858 719l0 0M823 676l-1 1M876 609l0 1M714 730l0 2" stroke="#969696" stroke-width="5"/>
<path d="M717 610l0 0M878 622l0 1M789 676l1 1M788 681l0 0M799 690l-1 0M848 715l-1 1M805 688l1 1M811 684l0 0M726 604l-2 0M721 610l1 1M790 671l0 0M877 688l1 1M843 704l1 1M849 717l0 0" stroke="#a0a0a0" stroke-width="5"/>
<path d="M811 683l0 0M821 680l-1 0M854 699l0 2M707 619l1 0M727 616l-1 0M813 675l2 1M727 717l-1 0M842 709l0 1M880 675l1 0" stroke="#aaaaaa" stroke-width="5"/>
<path d="M726 606l-1 1M709 628l1 0M705 738l-1 0M714 619l0 0M709 623l0 2M863 704l1 0M703 734l0 1M731 719l0 0M797 671l0 0M706 622l0 0M816 687l-1 1" stroke="#b4b4b4" stroke-width="5"/>
<path d="M736 716l1 1" stroke="#bebebe" stroke-width="5"/>
<path d="M744 611l0 1M755 610l0 0M794 615l0 0M755 612l0 0M743 610l0 0" stroke="#323232" stroke-width="4"/>
<path d="M662 615l0 1M885 714l-1 1M670 622l1 0M876 704l1 1M683 617l-1 0M671 607l1 1M685 627l-1 1M785 623l0 0M765 697l0 1M768 690l0 1M661 599l0 0M765 693l0 0M687 614l0 0M748 626l0 0" stroke="#3c3c3c" stroke-width="4"/>
<path d="M754 694l0 0M796 621l0 0M688 618l0 0M878 704l1 1M739 615l-1 0M663 610l-1 0M683 627l0 1M664 625l0 0M655 631l1 0M662 633l0 0M663 595l1 0M777 623l0 1M684 631l0 0M841 670l0 0M883 706l1 0M779 634l0 0M736 616l-1 0M688 625l-1 0M689 619l-1 1M792 604l0 1M670 606l-1 0M682 610l0 1M784 615l0 1M771 698l0 0" stroke="#464646" stroke-width="4"/>
<path d="M874 729l-1 0M654 731l0 0M653 616l0 0M695 594l0 1M684 614l-1 0M761 618l0 0M793 746l0 0M828 613l0 0M844 670l-1 1M784 653l0 0M784 601l0 1M691 714l0 0M743 645l1 1M708 640l0 0M797 737l0 0M889 591l-1 0M677 598l0 1M848 640l0 0M856 733l0 1M700 582l0 1M676 697l0 1M761 673l1 0M709 722l1 0M886 704l0 0M820 703l0 0M778 636l0 1M804 604l0 1M829 632l0 0M734 667l0 0M771 726l0 0M715 748l-1 0M668 588l0 1M739 656l0 1M802 609l-1 1M735 622l0 0M839 695l-1 0M752 600l0 0M883 597l0 1M725 746l0 1M851 640l0 0M870 661l0 0M750 642l1 0M669 616l0 0M798 616l0 1M677 635l0 0M744 659l1 1M692 642l0 0M852 689l0 1M765 700l1 1M876 762l0 0M831 617l0 0M885 634l0 0M738 755l0 0M697 690l0 1M794 729l0 0M777 693l0 0M841 603l-1 0M765 656l0 0M742 693l0 1M686 716l-1 1M669 690l1 0M817 752l1 1M737 748l0 0M840 617l0 1M673 656l0 0M648 701l-1 0M749 740l1 1M661 713l0 0M807 747l1 1M675 676l-1 1M650 646l1 0M804 632l0 1M766 627l0 1M748 676l0 0M679 657l0 0M812 632l0 0M689 613l0 0M857 684l0 1M890 605l0 0M770 660l0 0M835 660l0 1M876 649l1 0M871 726l0 0M714 714l0 0M810 622l0 0M700 675l0 0M707 708l0 1M700 666l0 0M793 662l0 0M649 685l1 0M800 614l-1 0M648 589l1 1M727 581l0 1M838 754l0 1M870 732l0 0M788 715l0 1M761 749l0 0M673 682l-1 1M680 693l0 0M804 741l1 0M792 591l0 0M672 658l0 0M668 602l0 1M662 623l-1 0M885 744l1 0M864 596l0 0M756 676l0 0M885 744l-1 0M768 622l0 0M799 629l1 0M811 705l0 0M884 637l0 0M767 738l1 0M695 699l0 0M657 617l0 0" stroke="#505050" stroke-width="4"/>
<path d="M805 725l0 0M677 657l-1 1M765 710l0 0M753 724l1 0M895 649l0 0M662 637l1 1M670 730l0 0M830 761l0 0M725 674l1 0M653 685l0 1M755 755l1 1M884 639l1 1M873 725l0 0M856 602l0 1M672 743l0 0M702 760l0 0M705 717l1 0M672 723l0 1M843 641l0 0M766 584l1 0M876 732l0 1M671 741l0 1M863 673l0 0M796 729l0 1M868 750l0 0M725 584l-1 0M664 634l0 0M692 672l-1 0M782 704l0 1M667 595l-1 0M849 736l0 1M805 643l0 0M805 746l0 0M764 726l1 1M797 700l0 1M838 682l1 0M674 741l0 0M700 723l0 0M824 584l-1 0M837 738l0 0M736 599l-1 1M762 666l0 0M852 617l-1 0M781 679l0 0M754 656l0 0M829 758l0 1M772 586l0 0M711 759l0 0M729 688l1 1M850 615l-1 0M727 674l1 0M796 715l-1 0M700 652l1 0M718 759l0 1M799 603l-1 1M687 591l0 0M699 750l1 1M814 699l1 0M667 753l-1 0M857 669l0 0M859 634l0 0M678 695l0 0M812 747l0 1M665 739l1 0M671 661l0 0M807 606l-1 0M712 759l1 0M891 700l-1 0M733 626l0 0M764 735l0 0M809 595l0 0M802 646l0 0M776 645l0 1M714 745l0 0M868 672l0 0M694 663l-1 1M651 747l0 0M857 660l0 0M683 671l0 1M752 629l0 0M657 749l0 0M750 733l0 0M797 662l0 0M751 715l1 1M768 685l-1 0M726 760l-1 0M858 632l-1 1M664 705l-1 1M767 721l-1 0M721 746l0 0M818 728l0 0M798 599l1 0M879 736l0 1M844 696l-1 0M782 750l1 1M848 625l0 0M865 657l-1 0M675 735l0 1M683 729l0 0M892 627l1 0M652 615l0 1M708 691l-1 1M749 749l0 1M819 734l1 1M741 596l0 0M773 761l-1 0M775 758l1 0M775 720l1 1M766 678l2 0M798 628l0 1M772 643l0 0M743 761l1 0M880 643l0 1M789 717l0 0M666 647l0 0M677 761l0 0M781 592l1 1M706 591l-1 0M733 626l1 1M845 591l1 0M704 719l0 1M667 676l0 0M787 721l0 0M692 600l0 1M654 627l-1 0M878 666l1 1M659 738l0 1M821 656l-1 1M862 723l0 0M853 624l0 1M797 634l-1 1M883 605l0 1M751 662l-1 0M753 588l-1 0M738 627l0 0M795 758l0 0M883 657l0 0M679 742l-1 0M755 711l0 0M876 754l1 1M774 758l0 1M896 674l0 0M700 665l1 1M885 748l0 1M784 726l-1 0M854 585l0 1M695 644l-1 0M696 670l0 0M702 673l0 0M843 676l-1 0M700 596l1 1M797 711l0 0M699 674l0 0M666 733l0 1M718 687l0 0M881 635l0 1M828 657l0 0M737 646l-1 1M859 670l0 0" stroke="#5a5a5a" stroke-width="4"/>
<path d="M822 755l0 0M668 717l0 0M674 713l0 0M875 756l0 1M886 668l-1 1M848 584l0 0M837 760l1 0M707 588l0 0M733 657l0 1M735 659l0 0M752 651l0 1M665 760l-1 1M821 614l1 0M798 662l0 0M830 722l0 0M723 673l0 0M721 722l0 0M766 729l0 0M860 741l1 1M761 659l-1 0M779 671l-1 1M740 641l1 1M680 722l0 0M695 735l1 0M659 653l0 0M751 675l0 0M854 622l0 1M864 715l-1 0M660 708l-1 1M718 681l1 0M770 653l-1 1M711 654l0 1M867 644l-1 0M828 719l1 0M882 592l1 1M843 752l1 1M705 599l-1 1M821 597l-1 1M855 609l1 1M836 611l1 0M674 707l0 0M736 584l-1 0M858 735l0 1M659 756l-1 0M818 600l1 0M784 726l1 0M734 624l1 1M780 733l0 0M879 726l-1 0M814 707l1 1M769 644l0 1M795 706l0 1M700 592l0 0M867 607l1 1M653 697l-1 1M672 694l0 1M808 721l0 0M749 674l0 0M678 650l0 1M775 597l0 0M700 713l0 1M868 731l-1 0M857 618l0 0M833 725l0 0M763 651l0 0M771 716l0 1M700 589l-1 0M757 721l0 0M660 708l0 0M897 628l0 0M825 611l1 1M882 727l0 0M764 760l0 0M675 730l1 0M740 647l0 1M675 657l-1 1M848 631l0 0M695 625l1 0M717 655l1 0M695 739l-1 0M818 706l1 1M865 686l0 1M721 745l0 1M776 674l0 1M825 668l0 0M772 722l0 1M872 584l0 1M672 677l0 0M801 759l1 0M728 642l-1 1M763 607l0 0M825 702l0 0M784 647l-1 1M738 582l-1 1M887 633l0 1M756 715l-1 0M748 591l0 0M679 671l0 0M739 692l-1 0M823 625l1 1M657 586l-1 0M819 703l1 0M655 666l0 0M668 737l1 1M860 740l0 0M800 713l1 1M733 655l0 0M766 616l1 0M694 596l-1 0M852 740l0 0M885 744l0 0M687 641l0 0M697 762l-1 0M763 647l0 1M679 735l1 1M724 582l0 0M872 738l0 0M824 725l0 0M705 643l0 0M882 635l0 0M869 727l0 0M684 734l-1 1M709 652l1 0M867 713l0 0M792 745l-1 0M829 665l0 1M890 648l0 0M778 719l0 0M668 688l0 0M849 626l0 0M812 705l-1 0M753 646l-1 0M649 636l1 0M836 671l-1 1M811 591l0 1M660 747l0 0M649 693l0 0M802 640l0 1M836 602l0 0M796 588l0 0M684 593l-1 0M768 738l0 0M677 675l0 1M864 675l-1 1M718 754l0 1M797 583l-1 1M860 732l0 0M764 713l0 0M846 674l0 1M845 693l0 0M737 588l1 1M700 753l0 0M655 656l0 1M861 588l0 0M719 753l-1 0M748 753l1 1M751 643l0 0" stroke="#646464" stroke-width="4"/>
<path d="M858 744l0 1M689 674l-1 1M857 594l-1 1M752 747l0 0M735 672l0 1M789 745l0 0M698 696l0 0M838 714l1 1M773 684l0 1M775 761l1 1M835 686l0 0M775 739l0 1M725 739l0 0M849 581l-1 1M810 665l0 0M706 687l0 0M850 726l0 0M896 677l0 0M745 697l0 1M743 596l-1 0M696 642l0 1M763 705l1 1M768 605l1 0M854 758l-1 0M655 668l0 0M689 683l0 1M701 643l-1 0M888 648l1 0M766 753l-1 1M688 653l0 0M648 592l0 1M834 690l0 0M805 623l-1 1M838 629l-1 0M700 639l0 0M832 701l0 0M758 656l0 0M738 643l0 1M655 677l1 0M766 620l-1 1M658 759l0 0M738 669l-1 1M691 599l1 0M680 759l0 0M677 650l-1 0M851 734l1 1M661 739l-1 1M694 684l1 1M716 584l0 0M793 596l0 0M669 735l0 0M857 616l-1 0M674 674l0 0M695 754l0 1M701 748l0 0M793 753l0 1M828 592l1 0M855 637l0 0M741 659l0 1M894 651l1 0M855 679l0 0M787 736l-1 0M866 712l0 1M884 629l0 0M692 643l0 0M757 640l0 0M714 722l0 1M697 599l0 1M657 678l0 1M881 647l0 1M691 713l0 0M836 747l-1 1M724 587l0 1M845 724l1 0M776 759l0 1M807 626l0 1M686 649l1 1M742 742l-1 0M848 762l0 0M836 741l1 0M802 616l1 1M730 657l0 0M710 713l0 0M735 641l-1 1M716 727l-1 1M860 756l0 0M687 674l0 1M710 593l-1 0M847 674l1 1M884 584l0 0M669 717l0 0M760 716l-1 0M832 698l1 1M707 689l0 0M845 633l0 0M849 741l1 0M766 604l1 1M701 641l0 0M678 694l1 1M802 639l1 1M766 752l0 0M671 691l0 0M799 740l-1 0M755 735l0 0M855 628l0 0M845 597l0 0M861 759l0 0M890 588l0 1M828 633l0 0M801 738l0 1M839 745l0 0M828 733l0 0M700 704l-1 0M763 751l0 0M753 755l1 1M658 583l0 0M659 670l1 0M723 682l0 0M727 741l-1 0M751 641l0 1M669 662l0 0M798 659l0 0M788 672l1 1M874 744l1 0M870 681l1 1M680 717l0 0M717 718l0 0M701 675l0 0M805 627l-1 1" stroke="#6e6e6e" stroke-width="4"/>
<path d="M869 605l0 0M865 613l0 1M800 646l-1 1M744 722l0 0M817 680l0 0M699 618l-1 0M712 630l0 1M855 589l0 0M897 700l1 0M871 729l0 0M887 614l-1 0M684 645l-1 0M673 674l0 0M730 730l0 0M715 745l0 0M853 681l0 0M687 721l1 1M893 751l-1 0M806 590l0 0M703 732l-1 0M895 741l0 1M769 659l-1 0M759 731l0 0M721 706l0 0M792 665l0 0M722 632l1 1M766 589l0 0M830 682l0 0M775 760l-1 0" stroke="#787878" stroke-width="4"/>
<path d="M713 730l1 0M798 676l0 0M800 665l1 1M883 630l1 1M788 675l0 0M738 707l-1 1M880 618l-1 1M836 714l0 1M817 677l0 0M849 712l0 1M805 689l0 0M711 627l1 0M861 698l1 0M743 695l-1 1M811 685l1 0" stroke="#828282" stroke-width="4"/>
<path d="M855 699l1 1M817 737l0 0M742 698l-1 1M719 615l1 0M703 607l0 0M875 606l0 0M702 732l1 0M839 706l-1 1M862 619l0 0M820 684l0 0M849 716l0 0M884 615l0 0M740 709l1 0M874 684l0 1M726 695l1 0M880 687l0 1M730 620l0 1M887 668l0 0M728 610l0 0M704 608l0 0M875 621l-1 0M753 596l0 1M817 666l1 1M885 675l0 1" stroke="#8c8c8c" stroke-width="4"/>
<path d="M759 592l1 0M759 595l1 1M738 724l0 0M795 686l-1 1M798 667l0 1M717 617l0 1M756 597l0 1M729 611l0 0M850 712l0 0M839 708l0 0M728 703l0 1M798 681l-1 0M828 738l0 0M743 698l0 0" stroke="#969696" stroke-width="4"/>
<path d="M719 610l0 1M733 700l0 1M889 681l1 0M846 716l0 0M814 685l1 1M868 622l0 0M726 717l0 0M702 735l1 0" stroke="#a0a0a0" stroke-width="4"/>
<path d="M760 590l0 1M851 703l0 0M709 608l-1 0M741 705l0 0M739 702l0 0" stroke="#aaaaaa" stroke-width="4"/>
<path d="M730 723l0 0M708 619l-1 1M709 733l-1 1" stroke="#b4b4b4" stroke-width="4"/>
<path d="M705 624l1 1M727 609l0 0M725 704l0 0M713 733l0 0" stroke="#bebebe" stroke-width="4"/>
<path d="M747 622l0 1" stroke="#464646" stroke-width="4"/>
<path d="M739 606l0 1M784 620l1 1M782 625l0 0" stroke="#505050" stroke-width="4"/>
<path d="M783 621l0 1" stroke="#5a5a5a" stroke-width="4"/>
<path d="M774 628l0 0M654 622l0 0" stroke="#646464" stroke-width="4"/>
<path d="M810 726l0 0M832 596l0 0M657 601l0 0M654 588l1 1M775 663l1 0" stroke="#6e6e6e" stroke-width="4"/>
<path d="M739 662l-1 1M821 718l-1 1M799 590l0 1M694 625l1 0M761 581l0 0M745 749l1 1M732 742l0 1M694 751l1 1M681 679l0 1M662 702l0 0M886 606l0 0M877 596l-1 1M823 664l1 1M769 661l0 1M690 645l1 0M787 754l0 0M756 631l0 0M822 643l0 1M771 649l1 1M860 686l-1 1M656 662l1 1M664 638l-1 1M711 662l1 0M655 758l-1 0M677 647l0 0M728 686l1 0M819 628l0 0M793 732l-1 1M878 754l-1 0M689 649l-1 1M833 623l-1 1M881 636l-1 1M653 680l-1 0M813 652l0 1M756 644l1 1M791 748l0 0M812 600l0 0" stroke="#787878" stroke-width="4"/>
<path d="M657 758l1 1M855 615l0 0M820 717l0 0M728 629l0 0M651 711l0 1M793 649l0 0M697 760l-1 1M778 727l0 1M845 586l1 1M789 584l1 1M727 638l1 1M704 662l0 0M657 683l0 0M727 688l0 0M863 597l-1 1M647 708l1 0M693 712l0 1M746 682l0 0M802 748l0 0" stroke="#828282" stroke-width="4"/>
<path d="M891 669l1 0M657 751l-1 1M759 745l1 1M739 691l-1 1" stroke="#8c8c8c" stroke-width="4"/>
<path d="M795 665l0 1" stroke="#969696" stroke-width="4"/>
<path d="M804 691l-1 1M710 743l0 1" stroke="#a0a0a0" stroke-width="4"/>
<path d="M875 617l1 0" stroke="#aaaaaa" stroke-width="4"/>
<path d="M876 689l0 0" stroke="#b4b4b4" stroke-width="4"/>
<path d="M856 705l1 1M731 704l-1 1M723 626l1 0M793 679l0 0" stroke="#bebebe" stroke-width="4"/>
<path d="M719 601l1 1" stroke="#c8c8c8" stroke-width="4"/>
<path d="M846 648l-1 1M845 665l-1 1M840 648l1 1" stroke="#3c3c3c" stroke-width="3"/>
<path d="M845 657l0 1M749 618l0 1M747 612l0 0M743 608l1 1M843 664l-1 1M733 616l0 0" stroke="#464646" stroke-width="3"/>
<path d="M740 607l0 1M839 645l0 1M751 610l-1 1M836 657l0 0" stroke="#505050" stroke-width="3"/>
<path d="M881 711l0 1M787 630l-1 1M688 622l1 0M755 692l1 0M753 605l0 1M670 631l-1 0M795 616l0 0M658 623l0 1M675 598l1 1M686 614l-1 1M687 610l0 0M666 610l1 1M762 701l-1 0M766 697l1 1M662 597l1 0M882 708l1 0M767 688l-1 1M656 609l0 1M683 622l0 0M790 618l1 1M774 695l0 0M664 605l-1 0M673 630l0 0M658 613l0 0M873 704l0 1M881 712l0 1M778 620l1 1M657 608l1 0" stroke="#5a5a5a" stroke-width="3"/>
<path d="M660 626l0 1M659 612l-1 1M683 614l1 0M675 632l1 1M650 611l-1 0M888 713l1 0M748 695l0 0M761 613l-1 1M777 609l0 0M749 603l0 1M788 603l1 1M796 619l1 0M773 686l1 0" stroke="#646464" stroke-width="3"/>
<path d="M667 635l1 0M788 744l-1 0M888 696l1 0M747 698l0 0M684 636l0 0M674 587l-1 1M761 582l-1 1M667 655l0 1M844 683l1 0M692 672l0 0M820 624l1 0M755 673l-1 1M677 595l-1 1M672 733l1 1M845 623l0 0M691 753l1 1M664 702l-1 1M686 599l1 1M662 756l1 0M866 691l0 0M660 724l0 0M741 627l1 1M747 718l0 1M653 613l0 0M767 586l-1 0M711 720l0 1M784 600l1 1M759 682l0 0M805 702l0 0M771 650l0 1M679 588l-1 0M820 711l0 1M877 696l1 1M773 749l0 0M741 600l-1 1M777 602l1 1M751 584l0 1M663 689l-1 1M660 667l0 1M682 752l0 0M879 714l0 1M765 751l1 0M777 604l0 0M648 611l-1 1M650 618l0 0" stroke="#6e6e6e" stroke-width="3"/>
<path d="M764 758l-1 1M699 651l0 0M786 734l1 1M657 708l1 0M650 707l-1 1M833 747l0 0M871 595l-1 1M729 751l-1 0M753 673l1 1M707 684l1 0M746 644l0 0M779 588l0 0M846 593l-1 1M843 591l0 0M742 595l0 1M737 684l-1 1M783 693l1 1M802 730l0 1M838 758l-1 1M832 618l1 1M778 654l1 1M772 744l1 1M725 670l0 0M875 593l1 1M736 686l0 0M666 668l1 0M733 681l0 1M807 591l-1 1M806 655l-1 0M859 668l1 1M703 720l0 1M725 660l-1 0M778 676l1 0M724 736l0 0M687 591l-1 1M839 690l0 1M885 717l-1 1M696 676l-1 1M808 710l0 1M655 594l1 0M648 620l1 1M829 591l0 0M690 696l0 1M765 724l0 1M690 669l0 0M707 647l0 1M866 758l0 1M812 625l0 1M725 730l0 1M817 612l0 1M750 753l-1 0M675 718l0 1M830 725l-1 1M669 721l0 1M768 675l-1 0M831 596l0 0M794 706l0 1M832 617l1 0M668 652l0 1M813 597l1 1M716 682l-1 1M790 714l1 1M675 743l0 0M652 675l1 1M784 665l-1 0M893 711l0 1M704 691l1 0M663 588l1 1M760 708l0 0M738 678l0 1M819 590l-1 1M695 633l0 1M883 656l-1 1M849 746l0 0M696 582l0 1M804 594l0 1M698 630l1 0M791 593l-1 0M794 755l0 0M772 655l-1 1M672 671l-1 1M658 653l0 0M752 601l0 0M823 591l-1 0M865 670l1 0M700 697l0 1M752 726l-1 0M766 608l1 0M747 601l-1 1M812 729l-1 0M732 589l0 1M750 698l1 0M757 737l0 0M760 681l1 0M801 751l0 0M865 672l0 0M812 652l0 0M876 593l0 1M700 754l1 0M656 689l0 1M676 665l-1 1M873 641l-1 1M861 742l1 1M647 726l1 0M832 667l0 0M691 690l0 1M728 753l0 1M762 662l-1 1M688 740l-1 1M887 652l-1 1M818 708l-1 1M676 727l1 0M776 678l1 0M660 641l0 0M896 639l0 0M795 588l0 1M878 587l-1 1M878 753l0 0M738 587l-1 1M649 586l1 1M748 735l0 1M778 713l1 1M812 594l0 1M723 681l-1 0M784 757l-1 0M808 660l0 1M856 660l1 1M701 583l0 0M840 725l0 1M784 656l1 0M747 585l0 1M732 593l-1 1M815 629l-1 1M742 727l0 1M778 641l0 1M826 666l0 0M719 696l0 0M773 676l-1 0M684 633l-1 1M764 678l1 1M665 586l-1 1M796 712l1 0M673 678l0 0M729 742l-1 1M776 683l0 1M833 719l0 1M807 702l1 0M693 707l-1 0M872 720l0 1M738 749l0 0M688 666l0 1M768 703l0 0M647 761l-1 0M659 677l0 1M780 667l0 0M835 597l1 1M747 685l0 1M830 613l1 1M731 669l-1 0M658 696l-1 1M891 646l0 0M719 751l0 0M838 759l-1 0M874 664l1 0M772 631l0 1M866 589l0 0M676 717l0 1M740 627l-1 0M892 748l0 1M687 748l-1 1M780 601l1 1M732 621l-1 0M788 707l-1 0M869 709l-1 1M727 742l1 1M761 625l1 0M709 694l0 0M780 731l0 0M816 599l0 0M800 588l0 1M688 638l1 1M801 617l1 1M798 591l1 0M687 590l-1 1M764 723l0 0M748 585l1 0M741 665l0 1M762 608l-1 1M678 728l1 1M832 604l0 0M852 750l1 0M754 722l-1 1M856 754l0 0M741 732l0 0M748 700l1 0M648 712l1 0M830 606l-1 1M752 684l-1 1M765 601l-1 0M682 739l-1 1M704 726l0 0M779 598l1 1M834 681l0 1M695 591l0 1M796 732l0 0M781 733l0 0M794 695l1 1M719 668l0 0M809 601l1 0M665 721l1 1M771 649l1 0M717 660l1 1M860 687l1 0M656 743l0 0M894 698l1 1M731 637l-1 1M831 600l0 0M856 756l0 0M876 751l1 1M692 700l1 0M661 718l-1 0M834 668l0 1M752 648l0 0M704 671l0 0M889 733l0 0M886 642l-1 0" stroke="#787878" stroke-width="3"/>
<path d="M759 681l0 1M895 732l0 0M730 755l1 0M867 689l0 0M891 699l0 0M862 684l0 1M894 739l0 1M770 637l1 0M750 753l1 0M884 664l0 1M804 653l-1 1M773 755l-1 1M882 593l-1 0M863 673l0 1M671 667l-1 0M893 750l-1 1M836 716l-1 1M655 663l0 1M657 584l-1 0M728 640l0 1M650 686l0 0M760 677l0 1M766 645l0 0M704 716l-1 0M733 582l0 1M781 683l1 1M656 736l1 1M818 718l-1 1M838 627l-1 0M893 604l-1 0M700 593l0 1M771 719l0 0M827 589l0 0M700 661l1 1M736 747l0 0M838 622l0 0M831 635l-1 1M659 655l1 1M884 747l0 1M745 630l0 1M791 655l-1 0M856 686l0 0M767 610l0 0M873 661l0 0M735 651l0 1M831 608l0 0M835 719l0 1M803 735l0 1M740 585l1 1M888 650l0 0M762 661l-1 0M802 616l1 0M868 670l-1 1M668 704l-1 0M678 648l-1 0M666 746l-1 1M886 644l0 1M825 642l1 0M835 620l0 0M741 650l0 0M832 692l1 1M854 612l-1 1M813 647l1 0M844 636l0 1M738 585l1 1M841 689l0 0M853 612l0 0M669 734l-1 1M677 675l-1 1M734 646l1 0M895 710l1 1M873 752l0 0M890 754l1 1M755 583l-1 0M716 679l0 0M861 663l0 0M746 681l0 1M875 651l0 0M808 622l0 1M830 743l0 1M860 587l0 1M691 750l1 0M686 682l0 1M682 650l1 0M691 760l0 0M841 636l1 1M758 666l0 0M698 707l-1 1M845 757l0 0M653 726l-1 1M666 644l0 1M878 716l0 0M842 694l1 1M651 704l1 0M842 674l0 0M741 582l-1 0M703 712l1 1M828 712l1 1M700 589l-1 1M694 712l0 0M821 714l-1 1M647 631l0 1M647 708l0 0M785 596l0 0M878 759l0 1M688 704l0 0M873 753l0 1M832 661l0 1M732 632l-1 1M873 599l-1 0M819 639l1 1M759 641l0 0M806 603l0 0M765 609l1 0M730 677l-1 1M833 597l0 0M857 656l-1 0M700 644l1 1M857 596l0 0M687 662l0 1M765 665l0 0M740 593l-1 1M715 652l0 0M715 703l-1 0M693 680l0 1M648 644l1 0M814 605l0 0M782 597l-1 1M656 641l-1 1M765 722l0 0M836 753l0 1M835 606l-1 0M651 732l-1 1M693 668l0 0M711 653l0 0M894 727l0 0M841 627l0 0M844 594l-1 0M672 676l-1 0M792 651l1 0M813 612l-1 0M671 663l1 1M674 647l1 1M885 730l1 1M771 601l1 1M699 673l0 0M818 643l0 0M691 720l0 0M802 735l0 0M797 749l1 1M840 591l-1 1M821 588l1 0M651 699l-1 1M817 710l0 0M735 645l0 0M892 585l-1 1M674 727l-1 0M870 591l1 0M662 747l0 1M852 593l1 0M887 646l1 1M827 696l1 1M748 751l0 0M779 751l-1 0M794 650l0 1M686 690l0 0M671 724l1 1M684 591l0 0M827 663l-1 0M866 665l1 1M874 666l-1 0M773 756l1 1M727 632l0 1M848 622l0 1M684 592l0 0M731 638l-1 1M695 670l0 0M749 671l-1 1M824 707l0 0M800 708l0 0M808 729l0 1M884 591l1 0M825 608l0 0M799 758l0 1M770 658l-1 1M703 675l0 0M819 636l0 0M821 595l-1 1M872 722l0 0M823 704l-1 0M703 703l0 1M686 753l1 0M893 668l1 1M719 725l1 0M846 691l0 0M690 589l0 0M669 760l-1 1M873 717l0 0M792 736l0 1M727 752l-1 1M824 653l0 0M893 608l-1 0M715 686l0 1M813 624l-1 1M860 585l1 1M745 756l1 0M883 630l-1 0M696 602l1 1M865 742l0 0M868 645l0 1M796 656l1 0M802 601l0 1M784 746l0 1M869 650l0 1M659 583l1 1M834 754l-1 1M779 757l0 1M809 595l1 0M807 653l-1 1M699 694l-1 0M847 600l-1 1M816 638l1 1M850 681l0 0M803 695l-1 1M764 734l0 0M816 643l-1 1M674 733l1 1M761 630l1 0M715 719l-1 0" stroke="#828282" stroke-width="3"/>
<path d="M831 636l-1 0M662 732l0 0M827 735l0 1M650 662l0 0M812 639l1 1M707 598l1 1M783 701l-1 1M675 678l0 1M818 621l-1 0M747 674l0 0M759 727l-1 1M722 582l0 1M674 699l0 0M839 615l0 0M799 709l0 0M753 628l0 1M653 744l1 1M797 589l-1 0M729 756l1 1M728 730l0 1M647 761l0 1M760 738l1 1M753 747l0 0M667 686l0 0M887 610l1 0M660 585l-1 0M783 675l-1 1M870 589l-1 1M851 737l-1 0M868 603l0 1M745 712l1 0M704 631l0 1M881 649l0 0M867 676l0 1M877 666l-1 1M805 753l0 0M721 656l1 1M806 612l0 1M872 581l1 0M845 696l0 0M727 689l0 1M714 597l0 1M651 674l0 1M879 582l0 1" stroke="#8c8c8c" stroke-width="3"/>
<path d="M719 712l0 1M787 668l1 0M706 630l0 0M746 703l-1 0M818 691l-1 0M892 681l-1 0M787 687l0 1M698 611l0 0M731 621l1 0M717 729l-1 0M861 697l-1 1M881 628l0 1M717 596l-1 0M786 687l0 1M737 691l0 0M698 605l-1 1" stroke="#969696" stroke-width="3"/>
<path d="M739 724l0 0M796 691l0 0M729 611l0 1M739 725l-1 1M820 690l0 0M702 603l0 0M811 664l1 1" stroke="#a0a0a0" stroke-width="3"/>
<path d="M711 729l0 0M697 610l-1 0M697 737l0 1M830 677l1 1M770 591l1 0M876 688l-1 0M716 597l1 0M880 609l0 0M730 693l-1 1M696 620l1 1M804 681l1 0M826 685l1 1M888 685l0 1" stroke="#aaaaaa" stroke-width="3"/>
<path d="M715 730l1 0M728 612l0 0M861 618l-1 0M800 691l-1 1M708 627l1 0M790 687l1 1M720 706l-1 1M826 676l-1 1M729 622l1 1M862 625l0 0M852 708l0 0M820 675l0 0M890 684l0 0M713 729l0 1" stroke="#b4b4b4" stroke-width="3"/>
<path d="M876 619l-1 1M717 609l0 0M851 713l1 0M724 605l1 0M798 680l1 1M877 620l0 1M856 717l1 1M788 675l1 1M739 701l-1 0M825 740l-1 1M731 718l0 0M812 674l1 1M752 594l-1 0M876 626l0 1M860 714l1 1M795 669l1 1" stroke="#bebebe" stroke-width="3"/>
<path d="M876 626l1 0M736 711l0 0M731 724l-1 1M798 682l-1 0M814 686l-1 0M723 711l0 0M711 604l0 1M881 618l0 0M724 698l0 0M875 608l0 1M722 605l1 1M806 671l-1 0" stroke="#c8c8c8" stroke-width="3"/>
<path d="M725 710l-1 1M713 736l0 0M707 618l1 0M709 618l0 0M737 696l0 0M796 686l-1 1M735 715l1 1M757 588l-1 0" stroke="#d2d2d2" stroke-width="3"/>
<path d="M725 701l-1 0M722 612l1 1M736 720l0 0M712 734l1 0" stroke="#dcdcdc" stroke-width="3"/>
<path d="M743 610l0 1M736 616l-1 0" stroke="#464646" stroke-width="2"/>
<path d="M837 661l1 1M779 623l1 0M773 693l0 0M755 609l0 0" stroke="#505050" stroke-width="2"/>
<path d="M683 614l-1 0M878 701l0 0M665 613l0 0M682 617l-1 0M676 597l0 1M670 606l1 1M663 610l-1 0M759 611l0 0M785 622l0 0M764 696l0 1M764 699l1 1M768 685l-1 0M776 693l0 0M767 690l0 0M680 598l0 0M883 706l1 0M688 612l0 0M784 616l-1 1M669 605l-1 0M765 693l0 0M667 601l0 1M662 623l-1 0M783 615l0 1M771 697l0 0" stroke="#5a5a5a" stroke-width="2"/>
<path d="M795 621l0 0M781 634l1 1M651 613l-1 1M664 634l0 0M682 627l0 1M684 626l-1 1M670 596l0 0M688 618l0 0M676 634l0 0M660 599l0 0M652 615l0 1M794 611l0 0M657 617l0 0" stroke="#646464" stroke-width="2"/>
<path d="M662 636l1 1M683 693l0 1M761 659l-1 0M854 649l1 0M694 734l1 0M783 735l1 0M795 729l0 1M752 725l0 0M766 753l-1 1M843 591l0 0M667 677l0 1M770 726l0 0M654 676l1 0M736 598l-1 1M871 729l0 0M870 660l0 0M750 641l1 0M699 591l0 0M890 700l-1 0M802 645l0 0M868 671l0 0M662 594l1 0M695 753l0 0M783 646l-1 1M834 621l0 1M746 653l0 1M819 702l1 0M882 749l0 1M835 660l0 1M869 726l0 0M670 690l0 0M785 639l0 0M647 589l1 1M672 682l-1 1M738 627l0 0M653 599l0 0M753 646l0 1" stroke="#6e6e6e" stroke-width="2"/>
<path d="M781 723l1 1M856 594l-1 1M813 723l0 1M685 750l-1 0M681 708l1 0M825 653l0 0M769 682l0 1M799 645l-1 1M693 675l0 0M848 580l-1 1M842 640l0 0M769 667l0 1M797 737l0 0M813 706l0 0M742 596l-1 0M750 674l0 0M853 757l-1 0M818 709l0 0M731 669l0 0M868 750l0 0M725 584l-1 0M659 707l-1 1M701 643l-1 0M760 673l1 0M664 646l0 0M819 702l0 0M828 718l1 0M667 658l0 0M828 631l0 0M882 591l1 1M699 638l0 0M747 680l-1 0M680 637l-1 1M738 655l0 1M801 608l-1 1M691 598l1 0M806 735l1 0M699 722l0 0M737 668l1 0M780 732l0 0M693 683l1 1M715 583l0 0M705 695l0 0M668 734l0 0M894 741l0 1M763 721l-1 0M794 705l0 1M684 644l-1 0M856 616l-1 0M649 601l1 1M698 749l1 1M724 638l-1 0M652 696l-1 1M673 673l0 0M667 752l-1 0M855 730l1 0M808 720l0 0M749 673l0 0M677 649l0 1M793 753l0 1M714 683l-1 0M673 673l0 0M711 758l1 0M740 659l0 1M896 627l0 0M798 621l1 1M868 600l0 0M650 746l0 0M736 643l-1 0M855 678l0 0M857 659l0 0M657 748l0 0M700 667l1 0M738 755l0 0M713 717l1 0M756 639l0 0M847 630l0 0M775 668l1 0M726 759l-1 0M857 632l-1 1M841 602l-1 0M716 654l1 0M870 761l0 1M674 734l0 1M675 701l1 1M775 758l0 1M805 590l0 0M774 653l0 0M891 626l1 0M671 676l0 0M762 606l0 0M748 593l0 0M824 701l0 0M847 761l0 0M673 655l0 0M886 632l0 1M755 715l-1 0M774 757l1 0M774 719l1 1M797 627l0 1M822 624l1 1M650 646l1 0M879 642l0 1M789 716l0 0M686 673l0 1M881 588l-1 0M895 640l1 1M748 676l0 0M773 676l0 0M767 642l0 0M765 615l1 0M884 583l0 0M830 628l1 0M857 683l0 1M770 660l0 0M831 698l1 1M883 605l1 1M857 726l-1 0M700 640l0 0M674 710l0 0M691 599l0 1M648 690l0 0M678 693l1 1M875 648l1 0M754 750l0 1M798 739l-1 0M792 744l-1 0M682 737l1 1M754 734l0 0M828 664l0 1M695 681l0 0M894 738l0 0M820 655l-1 1M854 627l0 0M792 661l0 0M861 758l0 0M790 726l0 0M889 587l0 1M827 632l0 0M702 655l0 1M734 678l1 0M870 731l0 0M797 715l0 0M831 723l1 1M650 581l-1 1M810 699l-1 0M863 586l0 1M835 601l0 0M700 704l-1 0M803 740l1 0M676 675l0 1M794 632l0 0M885 743l-1 0M853 585l0 1M798 628l1 0M846 673l0 1M699 673l0 0M736 588l1 1M665 732l0 1M700 674l0 0M859 669l0 0" stroke="#787878" stroke-width="2"/>
<path d="M747 733l1 0M676 656l-1 1M840 640l0 0M653 731l0 0M871 666l-1 0M752 723l1 0M709 646l0 1M793 745l0 0M690 674l0 0M837 759l1 0M879 646l1 0M745 733l0 0M706 587l0 0M674 749l0 0M828 612l0 0M754 755l1 1M751 650l0 1M873 725l0 0M665 759l-1 1M773 751l0 0M854 640l-1 1M671 722l0 1M710 633l1 1M860 740l1 1M807 756l0 0M779 670l-1 1M709 633l0 0M658 653l0 0M688 682l0 1M829 691l0 0M868 752l0 1M770 653l-1 1M710 653l0 1M691 672l-1 0M806 594l0 0M804 622l-1 1M703 707l1 1M651 585l0 0M842 752l1 1M845 637l0 0M758 655l0 0M673 707l0 0M892 627l0 0M837 681l1 0M736 583l-1 0M732 674l1 1M857 734l0 1M713 724l-1 1M823 584l-1 0M737 643l-1 0M838 694l-1 0M836 738l0 0M688 696l-1 0M677 649l-1 0M852 616l-1 0M728 688l1 1M747 678l1 0M718 683l0 0M726 674l1 0M700 651l1 0M769 644l0 1M856 669l0 0M700 747l0 0M699 713l0 1M857 617l0 0M854 636l0 0M762 650l0 0M700 588l-1 0M763 734l0 0M776 644l0 1M714 745l0 0M875 761l0 0M732 746l-1 1M739 646l0 1M881 743l0 0M797 662l0 0M877 593l0 0M703 644l0 0M692 642l0 0M660 721l1 0M714 722l0 1M663 705l-1 1M748 584l0 1M817 727l0 0M695 739l-1 0M781 749l1 1M892 750l-1 0M723 587l0 1M830 688l-1 0M742 692l0 1M685 715l-1 1M796 740l0 1M800 613l0 0M708 690l-1 1M748 748l0 1M740 596l0 0M738 581l-1 1M835 740l1 0M894 741l0 1M855 622l0 0M865 728l0 0M832 654l-1 0M678 670l0 0M806 747l1 1M675 675l-1 1M765 677l1 0M735 640l-1 1M678 656l0 0M799 712l1 1M861 583l-1 0M851 740l0 0M714 652l1 1M798 726l1 0M687 641l0 0M704 719l0 1M734 599l0 0M655 760l0 0M705 642l0 0M833 609l0 0M713 714l0 0M853 588l1 0M878 665l1 1M707 707l0 1M658 737l0 1M810 658l1 0M845 596l0 0M693 644l0 0M777 718l0 0M706 686l0 0M762 750l0 0M775 759l-1 0M722 681l0 0M875 753l1 1M756 675l0 0M773 757l0 1M662 693l1 1M699 665l1 1M828 632l0 0M818 715l1 1M702 673l0 0M767 622l0 0M842 675l-1 0M680 716l0 0M860 731l0 0M810 704l0 0M766 738l1 0M747 752l1 1M844 674l-1 1M828 657l0 0M812 601l0 0M736 645l-1 1M750 642l0 0" stroke="#828282" stroke-width="2"/>
<path d="M873 728l-1 0M822 755l0 0M820 613l1 0M744 721l0 0M854 621l0 1M717 680l1 0M838 632l-1 1M799 699l0 0M687 653l0 0M796 699l0 1M737 642l0 1M767 730l0 1M836 598l0 1M731 759l0 0M812 747l0 1M714 745l0 0M733 626l0 0M879 632l-1 0M675 729l1 0M811 620l-1 0M836 713l0 1M806 625l0 1M741 741l-1 0M812 743l-1 1M859 685l-1 0M759 715l-1 0M890 605l0 0M845 632l0 0M708 651l1 0M699 665l0 0M721 631l1 1M839 744l0 0M752 587l-1 0M660 747l0 0M876 647l0 1M842 755l0 0" stroke="#8c8c8c" stroke-width="2"/>
<path d="M883 692l-1 1M719 718l-1 0M882 629l1 1M838 706l-1 1M886 613l-1 0M761 587l0 0M887 668l0 0M861 698l1 0M829 681l0 0" stroke="#969696" stroke-width="2"/>
<path d="M886 668l-1 1M811 693l-1 0M799 664l1 1M884 629l0 0M720 706l0 0M857 719l0 0" stroke="#a0a0a0" stroke-width="2"/>
<path d="M865 613l0 1M810 664l0 0M698 617l-1 0M797 667l0 1M787 677l0 0M787 674l0 0M861 619l0 0M726 694l1 0M879 687l0 1M876 687l1 1M869 680l1 1" stroke="#aaaaaa" stroke-width="2"/>
<path d="M810 682l0 0M816 737l0 0M797 665l0 0M817 680l0 0M730 692l1 1M878 609l0 1M873 684l0 1M755 596l0 1M799 689l-1 0M806 679l0 0M752 595l0 1M811 685l1 0M742 698l0 0" stroke="#b4b4b4" stroke-width="2"/>
<path d="M758 594l1 1M738 696l1 1M795 686l-1 1M733 699l0 1M851 703l0 0M889 680l1 0M709 607l-1 0M848 716l0 0M741 704l0 0M725 716l0 0M828 739l-1 1M729 610l0 0M726 608l0 0M701 734l1 0M858 702l1 1M806 672l-1 1" stroke="#bebebe" stroke-width="2"/>
<path d="M724 702l0 0M725 704l0 0M728 610l0 0M843 703l1 1" stroke="#c8c8c8" stroke-width="2"/>
<path d="M718 615l1 0M719 609l0 1M760 589l0 1M728 702l0 1M709 733l-1 1" stroke="#d2d2d2" stroke-width="2"/>
<path d="M758 591l1 0M726 717l-1 0" stroke="#dcdcdc" stroke-width="2"/>
</g>
</g></g>
<rect x="650.5" y="746.7" width="243.5" height="12.5" fill="#5d5d5d"/>
<path d="M650.5 753.6H771.5 M710.8 746.7V759.2 M767.5 746.7V759.2" stroke="#7c7c7c" stroke-width="0.6" fill="none"/>
<text x="657.4" y="751.7" font-family='"Liberation Sans", sans-serif' font-size="4.6" font-weight="bold" fill="#dcdcdc" textLength="45.2" lengthAdjust="spacingAndGlyphs">SEM HV: 15.0 kV</text>
<text x="655.8" y="757.9" font-family='"Liberation Sans", sans-serif' font-size="4.6" font-weight="bold" fill="#dcdcdc" textLength="48.4" lengthAdjust="spacingAndGlyphs">SEM MAG: 100 kx</text>
<text x="722.6" y="751.7" font-family='"Liberation Sans", sans-serif' font-size="4.6" font-weight="bold" fill="#dcdcdc" textLength="37.4" lengthAdjust="spacingAndGlyphs">WD: 3.46 mm</text>
<text x="719.5" y="757.9" font-family='"Liberation Sans", sans-serif' font-size="4.6" font-weight="bold" fill="#dcdcdc" textLength="43.7" lengthAdjust="spacingAndGlyphs">Det: InBeam SE</text>
<text x="775.8" y="757.9" font-family='"Liberation Sans", sans-serif' font-size="4.6" font-weight="bold" fill="#dcdcdc" textLength="20" lengthAdjust="spacingAndGlyphs">500 nm</text>
<text x="851.1" y="751.7" font-family='"Liberation Sans", sans-serif' font-size="4.6" font-weight="bold" fill="#dcdcdc" textLength="42.4" lengthAdjust="spacingAndGlyphs">MIRA3 TESCAN</text>
<path d="M772.4 747V753.3H831.7V747M778.3 753.3V751.7M784.3 753.3V751.7M790.2 753.3V751.7M796.1 753.3V751.7M802 753.3V750.9M808 753.3V751.7M813.9 753.3V751.7M819.8 753.3V751.7M825.8 753.3V751.7" stroke="#e8e8e8" stroke-width="0.7" fill="none"/>
<g clip-path="url(#clipc)"><g>
<g filter="url(#bl4)">
<rect x="888" y="573.8" width="253.7" height="195.4" fill="#2e2e2e"/>
<ellipse cx="907" cy="609" rx="12" ry="28" fill="#242424"/>
<ellipse cx="1118" cy="608" rx="16" ry="26" fill="#282828"/>
<ellipse cx="1079" cy="610" rx="25" ry="26" fill="#878787"/>
<ellipse cx="1108" cy="662" rx="24" ry="29" fill="#7e7e7e"/>
<ellipse cx="1100" cy="658" rx="14" ry="15" fill="#9a9a9a"/>
<ellipse cx="931" cy="630" rx="19" ry="27" fill="#5a5a5a"/>
<ellipse cx="1010" cy="605" rx="32" ry="18" fill="#5a5a5a"/>
<ellipse cx="1022" cy="662" rx="40" ry="40" fill="#1d1d1d"/>
<ellipse cx="1040" cy="722" rx="25" ry="25" fill="#202020"/>
<ellipse cx="906" cy="665" rx="12" ry="30" fill="#191919"/>
<ellipse cx="934" cy="714" rx="20" ry="30" fill="#8e8e8e"/>
<ellipse cx="985" cy="710" rx="25" ry="32" fill="#343434"/>
<ellipse cx="1104" cy="718" rx="29" ry="27" fill="#404040"/>
<ellipse cx="963" cy="650" rx="14" ry="14" fill="#2a2a2a"/>
</g>
<g filter="url(#bl06)" stroke-linecap="round" fill="none">
<path d="M912 650l2 4M1026 693l0 1M903 686l1 2M909 680l-4 1M906 659l-2 1M1012 675l0 3" stroke="#323232" stroke-width="9"/>
<path d="M989 649l-1 0M1013 658l-1 1M1044 656l-1 4M898 682l1 5M913 646l0 0M1016 696l2 1M1033 637l1 0M1029 649l3 1M903 641l-1 0M988 662l1 1M902 683l-1 3M909 694l-2 1M1037 707l0 0M1036 690l-1 2M1003 673l-3 0M1037 675l1 2" stroke="#3c3c3c" stroke-width="9"/>
<path d="M987 654l-4 4M998 664l-1 3M1007 684l0 0M1036 664l2 0M1000 678l1 1M898 677l-5 1M1027 742l0 0M1024 686l-4 1M994 667l0 2M1029 640l-4 1M1035 629l-3 3M904 645l0 0M992 632l2 3M917 676l4 1M1016 710l3 4M897 642l-3 0M1009 684l-1 3M1055 699l2 2M1031 691l-1 2M1045 739l1 1M1024 733l-1 4" stroke="#464646" stroke-width="9"/>
<path d="M1005 760l3 1M1053 629l-1 1M1049 682l0 0M1037 731l1 1M899 687l2 4M1055 711l-5 3M970 663l-5 2M996 651l3 3M981 635l2 4M1048 754l0 1M913 593l3 4M1071 676l-3 1M1059 720l0 1M1001 626l5 1M1115 588l-2 0M1020 736l4 2M994 642l-2 3M1048 651l0 2M1041 619l4 0M1117 628l1 1M951 681l-2 3M1021 746l1 1M1061 710l0 5M992 742l0 0M1121 594l0 0M1010 632l-5 1M939 663l-4 4M1048 584l-5 2" stroke="#505050" stroke-width="9"/>
<path d="M963 664l1 1M1056 628l1 2M1021 586l-3 4M914 691l0 0M917 598l2 1M1007 755l-1 1M930 762l1 1M926 665l-3 0M924 747l0 2M1067 706l1 1M982 649l2 2M1050 760l0 3M960 629l1 2M976 646l-3 1M1056 647l-5 1M1060 680l-1 3M933 671l-4 3M1084 748l0 0M1119 598l-4 1M908 708l2 2M1069 669l-4 4M970 586l-2 1" stroke="#5a5a5a" stroke-width="9"/>
<path d="M957 740l0 0M899 582l2 1M1128 698l5 1M927 760l0 0M980 723l-1 2M994 708l5 2M950 596l-2 1M1013 722l3 4M903 619l2 1M955 619l-5 1M1044 592l0 2M940 751l-2 0M1028 622l0 2M1088 705l0 1M1015 749l-1 4M1106 755l-2 4M1121 743l-1 1M1129 757l-4 1M934 759l-1 2M956 615l0 3M1133 648l-2 1M920 754l1 0M900 702l-4 2M1047 581l2 1M962 686l-4 3M1099 704l-1 2M992 745l-2 4M896 747l3 0M1003 735l1 1M1109 696l-4 2M1087 698l2 2M1132 608l3 0M1001 719l2 4M956 685l-5 1M1125 604l0 4M1124 737l-1 2M1007 703l2 4M1119 624l1 1M1128 625l0 4" stroke="#646464" stroke-width="9"/>
<path d="M997 734l4 1M963 620l0 1M1080 685l0 0M1106 708l-3 0M1022 744l1 0M903 713l-5 1M971 733l3 4M903 739l1 5M974 737l1 2M919 654l-1 1M1082 661l-1 0M960 632l4 3M998 618l-5 1M1079 727l-5 1M1014 623l0 0M1106 723l0 3M1073 762l3 4M1008 619l-2 2M970 724l1 1M1111 703l-1 5M927 605l0 4M972 744l0 4M1083 715l4 2M1003 743l-1 1M1106 581l0 0M954 670l2 1M949 744l-3 0M948 614l3 4M1080 581l-3 1M1005 760l0 1M953 601l-2 4M1122 697l-2 1M964 634l1 1M997 740l1 2M897 755l-1 0M1010 617l-1 3M897 729l-5 0M1001 761l0 1M1133 761l0 0M961 661l0 0M966 733l0 0M985 694l4 3M1100 587l3 2" stroke="#6e6e6e" stroke-width="9"/>
<path d="M968 731l4 3M1035 603l3 3M942 645l-1 2M1128 700l-1 0M960 634l3 3M969 722l-3 3M927 640l-3 3M1096 737l4 2M956 714l0 4M963 707l-4 4M1077 657l-4 4M968 721l3 4M974 605l-5 2M945 607l0 0M1095 722l-1 1M1023 613l-1 0M1080 718l-4 2M957 702l-4 3M952 640l1 1M1052 624l-4 2M1084 677l-1 2M1129 750l-2 4M1099 709l3 2" stroke="#787878" stroke-width="9"/>
<path d="M917 739l1 3M1128 709l-2 1M917 739l2 1M943 607l-2 1M1103 732l-2 2M997 716l1 2M924 647l0 0M1095 629l-2 1M1003 702l1 4" stroke="#828282" stroke-width="9"/>
<path d="M992 618l1 2M997 600l-3 1M1088 674l-2 2M1084 662l0 0M1091 681l2 1M1059 625l0 2" stroke="#8c8c8c" stroke-width="9"/>
<path d="M942 625l-2 2M1084 604l-1 0M1104 613l1 5M944 727l-3 4M1120 679l-1 1M930 627l1 0M1082 639l2 2" stroke="#969696" stroke-width="9"/>
<path d="M1001 606l5 1M949 698l-1 3M1110 642l0 1M938 702l0 0M935 702l-2 0M1120 652l0 0M1101 658l2 2M1022 591l2 2" stroke="#a0a0a0" stroke-width="9"/>
<path d="M1115 645l0 1M1067 623l-5 3M1128 672l0 1M1107 651l0 2M1131 667l4 0M1096 600l-1 3M1093 655l5 2" stroke="#aaaaaa" stroke-width="9"/>
<path d="M951 702l1 2M1058 603l1 2M923 689l3 1M1096 593l0 3M1081 607l3 4" stroke="#b4b4b4" stroke-width="9"/>
<path d="M1112 668l2 2M1123 671l0 1M1095 663l5 0" stroke="#bebebe" stroke-width="9"/>
<path d="M1067 622l0 0" stroke="#c8c8c8" stroke-width="9"/>
<path d="M935 700l-5 0" stroke="#d2d2d2" stroke-width="9"/>
<path d="M1023 678l0 5M909 662l1 1M902 679l0 3M907 679l-4 3" stroke="#323232" stroke-width="8"/>
<path d="M1032 695l-3 1M908 664l0 0M1052 645l1 1M1038 696l5 1M1029 660l1 4M902 687l-3 2M1028 725l0 3M1025 661l-2 2M1024 674l-1 3M1009 648l0 2M1031 695l2 3M1011 646l1 3M1034 672l1 0M1049 652l1 3M1023 625l0 0M913 667l-3 1M1050 678l0 1M897 670l4 1M1050 643l0 2M913 684l-1 0M911 677l-2 2M898 675l0 0M1020 712l-1 1M1036 670l5 2M902 690l2 3M915 678l2 2" stroke="#3c3c3c" stroke-width="8"/>
<path d="M1055 731l0 1M904 646l2 4M1033 628l-3 1M1048 664l4 3M900 622l2 1M1018 638l1 2M1033 690l0 0M1020 666l0 0M1053 638l-2 2M906 655l0 0M1001 669l2 0M907 662l1 1M1026 720l4 2M1040 739l0 1M1054 706l-1 0M916 591l4 1M906 608l-1 4M1068 722l0 1M896 651l-1 0M908 620l-4 0M1008 683l2 3" stroke="#464646" stroke-width="8"/>
<path d="M915 682l-1 4M1045 719l0 0M957 748l4 2M1050 728l-2 2M1042 695l-2 4M1025 625l2 4M987 668l-1 3M1014 754l0 1M986 644l0 4M1045 658l4 1M967 607l-1 1M910 755l2 1M1046 750l0 1M1035 623l1 2M1016 646l2 0M1034 716l4 1M1031 744l3 3M1049 725l-5 0M1018 741l2 4M1019 702l-2 0M976 655l-1 2M930 583l0 2M898 606l-1 1M960 660l4 1M1054 654l-1 2M940 581l-1 1M1009 716l2 0M1022 696l-2 1M913 693l2 2M1022 627l1 2M1014 704l-2 3M1020 727l-1 1M913 584l4 0" stroke="#505050" stroke-width="8"/>
<path d="M1050 692l-2 4M1072 650l-4 2M922 593l1 0M988 727l-3 2M917 683l1 0M1064 659l3 4M908 732l-1 1M905 698l-4 2M907 717l-1 2M1121 586l-1 3M969 739l-1 0M956 649l1 3M955 609l-4 3M905 715l0 1M1129 711l-3 0M1076 700l-1 1M1087 696l4 2M979 718l2 4M1073 731l4 2M904 715l1 0M959 700l1 1M1081 686l0 1M1106 755l-4 3M991 692l0 4M943 597l2 3M982 759l-3 2M969 728l0 4M919 663l2 1M1132 602l0 1M958 624l0 0M1007 722l3 2M908 597l-1 0M930 760l1 1M959 606l-4 2M996 632l0 2M923 591l5 2M1064 733l1 1M1134 608l2 2M1064 731l-3 4" stroke="#5a5a5a" stroke-width="8"/>
<path d="M1077 756l-4 1M1050 753l0 1M912 618l-2 0M1133 610l-1 0M984 755l1 3M1115 605l2 0M896 636l-1 3M928 584l1 0M1079 736l-1 2M1079 660l-1 2M1119 707l2 0M932 676l1 1M1081 732l3 2M1016 624l1 5M1062 761l0 0M939 596l0 2M897 706l3 1M1001 750l-2 3M1130 636l2 2M972 587l2 1M899 696l1 1M980 755l-2 0M976 582l-1 2M1077 713l0 0M901 707l-3 3M963 601l1 3M1026 587l0 1M1059 760l2 3M1115 739l-1 1M1121 694l3 2M971 610l2 3M950 622l-2 0M1124 762l4 1M896 641l0 5M960 761l-2 3M1133 610l0 2M984 588l-4 1M970 670l2 1M967 631l0 0M1108 731l-4 2M1104 738l2 5M976 701l-3 0M1125 718l1 4M1042 594l0 0" stroke="#646464" stroke-width="8"/>
<path d="M1126 638l4 3M999 723l-1 0M902 714l0 2M1115 583l-1 0M932 659l0 0M1076 717l-2 0M972 607l1 4M1080 693l2 0M904 712l0 5M961 597l0 1M1062 703l-2 1M1055 757l-2 5M917 743l0 0M1071 699l-4 1M1049 612l-2 2M1128 601l0 1M955 610l0 0M988 620l-2 5M1113 711l-1 1M999 738l4 3M922 675l-1 3M1078 665l-2 1M1121 741l0 1M953 618l1 3M1045 615l-4 3M992 620l1 1M920 666l1 0M899 719l0 0M1010 585l-2 3M904 711l3 0M923 605l1 2M960 596l1 1M903 724l4 2M910 618l0 2M1123 746l-3 1M1108 753l-3 3M1042 602l1 1M971 690l-1 3M956 630l3 0" stroke="#6e6e6e" stroke-width="8"/>
<path d="M983 726l-4 3M984 695l1 1M1101 623l0 2M1090 756l0 4M1133 679l0 0M1010 722l2 4M966 592l0 0M976 761l0 1M923 641l-3 0M922 655l-3 1M1133 669l-2 1M1099 738l1 4M1077 751l-2 1M1100 632l-3 4M966 741l1 0M914 730l0 1M1124 697l2 2M1130 697l-1 0M1064 637l0 0M959 625l2 1M1004 717l1 4M1125 730l-1 4M974 713l1 0M952 625l-2 2M1003 728l1 0M978 725l5 2M986 707l1 3M908 734l-4 2M1003 594l1 0M949 635l0 0M1088 684l-1 3M974 719l2 0M1000 692l-3 2M1094 705l-2 2M950 585l1 5M1129 704l3 2M1089 720l-2 1M1014 605l-2 0" stroke="#787878" stroke-width="8"/>
<path d="M1073 636l1 1M1088 730l-1 0M948 742l-2 2M1133 715l-1 1M1105 734l-2 3M1041 615l3 0M967 719l0 0M942 619l0 1M1090 724l0 2M1004 617l-4 2M1026 600l1 3M1095 683l-1 5" stroke="#828282" stroke-width="8"/>
<path d="M944 616l1 2M1025 599l-5 1M1115 701l2 4M1084 596l-1 1M951 697l0 0M926 625l-2 4M1041 611l5 1M1022 587l-3 3M977 598l-3 4M1078 627l-2 3M917 632l-3 1M1129 669l-3 3M1090 726l1 1M1109 693l-5 1M932 685l1 5M935 620l-1 5M991 604l-3 1M1099 714l3 0M1059 602l0 3" stroke="#8c8c8c" stroke-width="8"/>
<path d="M943 697l3 2M1059 614l-3 3M930 707l0 0M1108 643l-1 2M1065 601l2 4M923 694l-1 3M1109 681l-3 4M1092 621l-4 0" stroke="#969696" stroke-width="8"/>
<path d="M945 706l4 3M1094 659l-2 1M1094 597l-1 2M1100 624l0 2M994 614l2 2M986 598l-2 0M1125 656l1 1M1093 606l-5 2M942 634l1 0M935 617l-1 2M1119 689l0 0M1115 643l0 1M1095 621l-1 0M1061 611l3 1M930 648l-1 2M1099 609l3 2" stroke="#a0a0a0" stroke-width="8"/>
<path d="M941 687l3 3M1061 624l-1 0M1055 610l-1 0M1067 597l-1 1M944 690l0 0M1071 592l0 3M944 711l2 2M921 720l1 0M1101 668l3 0M942 707l1 0M1075 590l0 0M933 740l-2 0M1100 624l0 0" stroke="#aaaaaa" stroke-width="8"/>
<path d="M1107 659l-4 1M946 709l-2 3M1076 631l2 2M1066 624l0 1M946 722l0 0M945 711l1 4" stroke="#b4b4b4" stroke-width="8"/>
<path d="M1073 615l1 1M944 705l-1 1M1094 605l4 0" stroke="#bebebe" stroke-width="8"/>
<path d="M939 726l0 3M1094 608l0 0M1102 670l-1 2M935 691l-4 3M1074 604l4 0" stroke="#c8c8c8" stroke-width="8"/>
<path d="M1102 670l0 1" stroke="#dcdcdc" stroke-width="8"/>
<path d="M899 679l-2 3M1036 637l-1 2M902 680l-2 1M1011 673l-2 1M908 654l0 0" stroke="#323232" stroke-width="7"/>
<path d="M1041 674l-3 1M999 654l4 2M905 640l-1 1M1038 666l-3 3M1039 663l0 0M907 683l1 2M1031 729l0 0M1053 713l0 0M898 670l0 1M909 690l-1 2M1050 706l1 4M1060 723l-2 0M904 663l-3 2M1048 734l-3 3M1059 709l3 1M1036 654l4 2M1047 682l-2 4M1031 628l1 2M916 649l1 1M1012 658l0 1M1009 680l-3 3M1037 726l-3 3" stroke="#3c3c3c" stroke-width="7"/>
<path d="M903 675l2 1M1053 734l0 1M1038 630l0 0M1036 631l1 2M1024 642l-2 1M911 603l0 0M1042 629l3 1M1029 711l2 0M898 687l-1 3M1031 737l0 2M1014 649l2 2M1026 679l3 0M1024 734l1 2M1016 639l1 1M1018 641l-1 3M983 675l-1 1M1042 628l-3 3M1030 707l0 0M1011 683l0 0M991 670l-1 3M1055 708l-2 0M1052 662l-5 1M905 604l0 1M1047 640l0 0M1046 683l-2 3M1030 737l0 1M1021 639l-3 0M1016 693l-1 2M912 690l1 1" stroke="#464646" stroke-width="7"/>
<path d="M903 614l-4 2M1030 728l0 3M1058 666l-2 2M898 633l1 3M1056 674l0 1M897 727l0 0M895 650l-4 1M1021 734l3 1M1066 659l1 2M992 648l2 2M1044 650l-1 4M1056 632l-1 1M1008 675l0 1M949 605l-3 1M1021 753l-3 2M1021 650l0 0M1043 700l-2 1M910 624l-2 0M1066 675l0 2M1032 723l4 1M1057 702l0 4M900 629l2 3M1048 734l-3 0M982 585l1 3M950 666l0 0M904 619l-3 1M1045 745l-3 1M1035 584l2 2M1027 741l0 0M1015 740l4 2M1061 671l-2 0M922 676l0 0M1042 728l0 1M1126 605l-3 1M1120 583l-4 1M1024 738l-2 0" stroke="#505050" stroke-width="7"/>
<path d="M960 687l-1 0M1026 586l-2 0M990 723l-1 1M1076 739l-1 0M1004 686l1 1M983 634l-1 2M1110 755l0 0M1103 587l-2 1M1054 582l3 1M1096 747l0 0M1002 625l1 0M971 668l1 4M935 761l4 0M1078 755l2 1M1119 614l0 4M958 651l1 1M1020 624l2 1M1073 669l4 1M1082 752l2 3M1045 693l-4 1M1108 586l1 2M1007 689l0 2M944 759l1 4M1024 742l-1 3M1066 698l0 0M967 675l-4 3M1017 731l3 3M936 585l0 0M983 760l-1 3M992 630l2 2M993 728l-1 3M963 583l-4 1M959 737l0 0M992 700l1 1M959 695l3 0M963 748l-4 2M934 600l0 1M910 728l1 0M971 710l-2 3M926 762l-2 1M1088 752l1 1M944 750l5 1M981 663l1 1M1130 584l1 1M1091 757l-4 1M1071 700l0 1M908 585l4 1M983 677l-1 2M1087 747l0 0" stroke="#5a5a5a" stroke-width="7"/>
<path d="M1084 761l0 1M1007 722l1 3M1103 586l-1 0M1006 688l2 1M996 752l1 2M1100 694l-2 3M1028 619l0 1M1054 756l2 0M964 723l-1 1M939 673l-2 2M898 753l4 0M1070 691l-1 4M1132 596l2 1M1113 749l-2 0M929 664l3 4M957 611l0 0M992 720l2 2M1112 745l-2 3M1011 718l2 1M910 727l-2 1M950 595l-1 0M969 617l1 4M1047 755l4 1M959 692l-1 0M1042 592l-1 1M1120 699l-4 1M1068 639l1 1M1073 710l1 1M1120 622l1 2M998 691l3 2M1091 710l0 0M956 724l0 4M984 586l-2 2M945 582l0 0M1033 758l-3 2M1084 700l-3 3M907 722l2 2M936 599l3 3M902 743l0 1M901 722l2 4M1005 692l2 1M907 748l-2 1M914 614l-1 3M1037 619l-3 0M969 708l-2 1M1130 612l0 2M907 701l-2 3M1030 762l1 3M1117 617l4 0M1062 759l-1 1M1073 707l-1 3M902 698l-2 0M1098 736l0 1" stroke="#646464" stroke-width="7"/>
<path d="M1075 687l-2 2M1113 706l-3 1M1004 754l0 0M1084 682l0 2M945 744l2 2M955 669l0 4M1064 687l0 3M1131 642l3 3M976 737l0 1M1126 632l0 0M1047 608l1 0M979 642l-2 2M1118 718l0 0M955 701l2 0M904 731l-2 1M927 657l-1 3M1130 695l1 1M1111 699l0 2M983 756l0 2M1108 724l-3 0M947 626l-1 1M961 662l-3 2M977 650l2 1M1098 589l-1 2M975 678l-3 0M1012 706l1 1M1084 689l1 3M959 654l3 1M1081 639l0 0M969 607l0 2M1121 745l0 0M1124 618l-2 1M1079 645l1 4M950 742l0 0M938 590l-4 1M963 631l-3 2M1047 604l2 1M907 731l-2 4M957 751l1 1M973 759l2 1M1123 694l3 0M1128 755l1 0M996 750l-2 3M1019 760l2 1M1044 753l0 0M1114 616l0 0" stroke="#6e6e6e" stroke-width="7"/>
<path d="M1091 682l1 2M932 744l1 1M984 625l0 0M1089 684l1 1M983 709l-3 0M906 734l-1 3M946 748l1 3M1083 641l-3 0M1083 732l1 1M1040 604l1 1M1056 584l-1 0M939 681l3 0M1083 750l0 0M1077 740l1 1M1123 700l0 3M1116 714l2 1M962 623l-4 2M901 732l0 1M992 738l-1 1M946 629l-1 1M1133 746l0 0M987 685l0 1M1090 751l0 1M1028 615l0 1M1094 745l0 3M1093 686l1 1M1120 633l2 2M1092 739l-1 4M993 593l-4 1" stroke="#787878" stroke-width="7"/>
<path d="M992 612l3 3M1094 729l-1 1M998 599l3 0M1032 596l-2 2M936 632l0 0M925 621l-1 2M943 607l4 1M979 596l0 0M1013 614l0 1M935 612l0 0M1089 739l-2 0M1114 692l2 2M915 636l0 1M1082 669l3 1M1130 682l0 1M923 631l0 0M953 709l2 2M1089 715l0 0M1110 699l-1 0M990 713l-1 0M1060 588l0 0" stroke="#828282" stroke-width="7"/>
<path d="M1079 713l-1 0M941 607l2 1M1091 677l0 0M918 724l3 1M1101 623l0 1M914 636l1 1M1115 636l-3 0M1078 585l0 0M1121 728l-4 1M977 611l-1 0M924 640l0 0M1101 678l-3 3M928 612l0 0M1013 593l0 0M1123 637l0 0" stroke="#8c8c8c" stroke-width="7"/>
<path d="M930 643l-1 1M1116 657l1 0M995 591l-3 2M980 600l3 1M1099 611l0 0M950 705l1 0M1120 660l-2 0M999 593l1 1M1074 622l2 1M923 643l1 1M996 616l1 4M1005 613l1 0" stroke="#969696" stroke-width="7"/>
<path d="M1083 597l1 1M951 734l-1 2M982 610l0 1M998 605l0 1M930 743l1 1M1076 609l0 0M1081 608l-1 4M1098 599l2 0M930 687l0 1M1094 608l3 2M1098 671l-3 0M926 651l0 4M1024 611l2 1M926 733l0 2M998 600l0 0M920 706l3 3" stroke="#a0a0a0" stroke-width="7"/>
<path d="M921 625l1 3M917 718l-3 1M996 594l1 0M989 607l1 0M1061 602l0 0M1094 616l3 3M916 711l-1 1M926 630l-4 2M1103 638l-1 0M929 696l0 2" stroke="#aaaaaa" stroke-width="7"/>
<path d="M940 699l0 5M926 726l2 2M1112 684l2 3M937 734l-1 1M1094 682l-3 1M920 729l-1 2M915 706l2 3M927 710l-4 1M1071 586l0 2M1107 673l3 4M1092 589l3 3" stroke="#b4b4b4" stroke-width="7"/>
<path d="M1062 622l0 0M1073 593l0 0M1082 612l0 1M1103 638l-4 2M1065 593l2 0M1072 599l2 1M942 729l0 3M1080 622l0 1M1088 588l0 1M1116 644l0 0" stroke="#bebebe" stroke-width="7"/>
<path d="M1092 625l2 4M1073 595l3 2M942 709l0 3M939 705l-1 0M1095 664l1 4M1115 648l0 0M1089 601l0 3M1119 652l4 1M1093 671l1 0M926 700l2 2" stroke="#c8c8c8" stroke-width="7"/>
<path d="M918 705l0 2M943 734l3 2M1099 653l-1 0M1065 620l-1 1" stroke="#d2d2d2" stroke-width="7"/>
<path d="M1087 658l3 0" stroke="#dcdcdc" stroke-width="7"/>
<path d="M1108 658l0 1" stroke="#e6e6e6" stroke-width="7"/>
<path d="M1028 665l2 3M909 649l2 0M910 679l3 2M1002 654l2 3" stroke="#323232" stroke-width="6"/>
<path d="M897 676l1 0M1030 631l2 0M1000 650l2 1M916 664l0 1M1035 653l-4 2M902 644l0 0M1052 640l0 2M910 642l2 2M1054 675l3 2M1038 684l1 2M918 675l-2 1M1051 722l-1 3M1008 634l0 2M1030 665l-2 0" stroke="#3c3c3c" stroke-width="6"/>
<path d="M1047 635l0 0M1015 695l-3 3M1015 676l-4 0M1039 747l-1 0M1036 656l2 1M1053 634l0 0M1045 628l1 1M1052 702l-1 1M990 645l0 1M900 600l0 1M1060 650l0 0M1117 605l-1 1M1043 675l-3 1M1039 660l-1 1M902 608l1 1M1015 647l-3 1M1042 698l0 0M1012 685l0 1M997 629l0 0M1047 663l-3 1M898 650l-2 3M1020 633l-1 0M1055 679l0 0M1057 687l2 1" stroke="#464646" stroke-width="6"/>
<path d="M1019 724l0 0M980 627l0 0M1060 646l0 0M901 744l0 0M977 652l-1 2M977 762l1 0M1040 624l0 2M899 720l0 0M1002 676l1 0M910 730l0 2M1054 726l2 2M1025 620l-1 1M1056 652l0 0M899 608l0 2M1015 723l3 1M1062 649l2 1M914 581l-1 2M907 610l1 1M907 717l0 1M1053 629l-1 2M1130 614l0 0M1056 742l-1 2M1067 753l-2 1M1053 719l3 0M898 718l2 1M1044 632l-2 1M1066 674l0 1M1050 704l-1 1M943 667l0 2M968 623l-1 2M961 599l-2 1M1013 693l1 1M1047 619l-3 2M1060 689l1 3M1035 736l2 1M896 762l1 0M1064 731l-2 3M1021 713l1 0M1081 757l2 1M1118 754l-1 1M965 660l0 4" stroke="#505050" stroke-width="6"/>
<path d="M976 646l3 0M1038 621l2 3M941 665l-3 2M895 643l0 2M1072 644l3 3M983 628l2 1M1088 754l0 3M902 631l1 1M986 713l0 0M925 587l1 4M906 701l1 3M1030 742l0 0M974 615l0 2M943 750l2 1M1115 760l2 2M960 750l0 2M974 658l0 0M1075 747l-2 0M1113 603l-1 0M936 754l3 0M1051 630l1 1M1064 648l0 1M1022 585l0 1M1058 677l1 1M948 663l-1 1M903 582l2 1M1059 639l0 1M915 608l-2 3M1005 702l0 1M1133 752l-1 1M961 609l-2 2M979 714l2 0M955 663l0 1M951 674l2 2M1086 753l1 1M900 759l3 2M1056 687l2 2M991 729l3 1M958 609l-1 0M1071 675l0 0M956 668l0 4" stroke="#5a5a5a" stroke-width="6"/>
<path d="M974 699l0 0M1117 700l2 2M985 747l-3 2M1110 612l0 3M1115 723l0 1M1053 695l1 1M983 724l1 1M1125 701l0 2M1071 645l2 3M1073 761l0 0M1029 752l-1 1M1065 670l0 3M981 635l1 2M973 734l1 0M961 652l2 0M904 761l0 1M973 674l-1 1M964 610l-2 1M1132 595l-2 0M1040 618l1 2M992 694l0 0M902 730l2 2M991 634l3 1M1120 605l-2 1M973 587l3 0M1057 635l-2 1M1002 697l0 2M999 685l1 1M1128 599l0 0M1100 755l0 3M920 762l1 3M1108 691l3 1M961 631l0 4M899 742l-1 2M958 738l1 3M1008 706l-2 2M952 611l2 2M939 585l0 0M1102 589l0 0M1009 728l0 1M1131 683l0 0M930 663l3 1M895 744l0 1" stroke="#646464" stroke-width="6"/>
<path d="M1068 760l-3 1M1132 593l-3 0M1101 695l1 0M993 624l0 4M976 611l0 0M972 642l-1 0M1127 760l-3 1M1073 668l1 1M1086 750l1 2M972 733l0 0M898 710l3 1M959 612l0 1M900 728l-1 2M955 730l-1 1M977 686l-3 1M913 730l-3 1M1057 696l0 1M984 739l0 1M954 631l-2 1M1103 730l-1 1M920 584l-1 1M969 600l0 0M1074 716l2 1M903 712l3 2M991 721l0 1M957 733l2 3M997 622l-2 3M934 757l-2 1M1005 732l0 0M970 648l-1 4M951 676l2 0M1108 720l1 1M958 751l0 0M1046 610l1 1M1129 751l0 1M975 724l-3 1M1009 706l-4 1M973 589l0 2M959 669l-2 2M1124 755l0 0M1054 751l0 1M905 742l-1 0M980 593l-2 1M970 643l0 2" stroke="#6e6e6e" stroke-width="6"/>
<path d="M971 680l-1 2M931 759l1 1M994 694l1 4M981 756l0 1M1083 700l1 0M1084 762l-3 1M964 628l4 1M959 612l0 0M1084 680l0 0M1021 609l-1 2M923 758l0 0M1075 696l1 1M977 737l1 1M1100 700l-4 1M913 620l0 1M1087 747l0 0M1119 717l-2 3M933 680l1 2M973 633l1 1M958 722l0 3M933 615l3 0M1086 690l2 1M948 737l-1 1M955 607l-2 2M1084 677l1 1M1103 603l-2 0M972 734l-1 1M1033 618l-1 2M963 601l1 0M1015 610l-3 2M913 623l1 2M982 589l0 0M983 693l-2 2" stroke="#787878" stroke-width="6"/>
<path d="M1088 635l0 1M1122 710l0 0M975 701l0 1M973 608l2 2M1071 583l0 0M941 602l0 0M922 624l0 0M1073 582l-1 0M930 629l0 0M1038 599l0 0M1016 591l-1 2M928 636l1 0M917 731l0 0M937 628l0 0M1105 696l-2 1M1026 619l2 1M1080 672l0 0M1101 637l0 0M1023 592l0 4M954 694l0 1M945 692l0 1M928 684l1 1M1083 681l0 2" stroke="#828282" stroke-width="6"/>
<path d="M989 618l0 0M927 636l-1 1M1120 633l4 0M1068 616l3 1M1095 703l1 1M1102 624l3 1M1090 615l2 2M1052 618l-2 1" stroke="#8c8c8c" stroke-width="6"/>
<path d="M939 699l-3 1M1071 585l-1 2M1088 664l-1 1M952 724l-1 2M1014 589l-3 2M929 726l-3 1M925 649l-2 1M1128 649l1 0M1120 660l-1 0M924 741l-3 1" stroke="#969696" stroke-width="6"/>
<path d="M1022 609l1 1M1087 626l-2 3M1105 649l0 1M1119 656l2 0M1113 671l-2 4M953 710l2 0M1065 614l1 3M1003 592l0 2M1081 627l3 2M923 736l0 0M1091 629l3 1M931 632l0 2" stroke="#a0a0a0" stroke-width="6"/>
<path d="M1099 642l0 2M1092 615l-4 1M1112 671l0 0M1115 658l2 2M1097 687l-2 1M1063 602l-1 3M921 714l0 1" stroke="#aaaaaa" stroke-width="6"/>
<path d="M1095 654l0 1M950 720l1 2M1101 604l-1 4M1061 625l1 0M1090 595l2 2M1069 603l0 0M1093 648l-4 1M1100 619l2 1M1108 667l-1 2M1117 652l0 0" stroke="#b4b4b4" stroke-width="6"/>
<path d="M1104 643l0 0M922 731l-3 2M1097 602l-1 0M1094 665l1 1M934 737l-1 1M1117 655l2 1M1109 656l3 2" stroke="#bebebe" stroke-width="6"/>
<path d="M1082 606l-1 0M1112 665l3 1M1096 672l0 2" stroke="#c8c8c8" stroke-width="6"/>
<path d="M1086 604l4 0M935 703l-1 0" stroke="#d2d2d2" stroke-width="6"/>
<path d="M1094 649l0 0M1105 658l0 1" stroke="#dcdcdc" stroke-width="6"/>
<path d="M897 679l-2 1M901 658l1 0M906 646l1 1" stroke="#323232" stroke-width="5"/>
<path d="M1014 662l1 0M1021 710l0 0M1038 657l-1 1M1051 721l0 1M1034 688l-1 0M1029 726l-2 1M1024 687l0 0M912 683l0 1M1021 722l0 1M1026 671l0 1M1035 714l-1 0M1042 658l1 3M1018 674l-1 2M1041 683l-1 2M1052 656l0 1M1060 725l3 1M1033 686l1 0" stroke="#3c3c3c" stroke-width="5"/>
<path d="M994 649l-2 1M906 620l1 2M1042 742l0 0M1013 701l-2 2M1012 662l1 2M902 593l-1 3M911 694l-3 0M1061 710l0 3M1029 685l2 2M1063 709l3 1M1044 638l-1 1M1018 690l2 0M1051 720l0 0M991 633l1 2M1009 630l-3 2M913 646l-2 2M1050 678l-2 1M1023 670l-3 1" stroke="#464646" stroke-width="5"/>
<path d="M898 597l-2 1M1007 760l-2 0M967 642l-1 0M1050 721l1 0M897 605l-1 2M1057 731l0 0M1052 738l0 0M981 636l-1 1M996 652l0 1M1121 758l1 0M1077 653l-1 1M903 599l-3 1M1068 646l1 1M1001 669l3 1M1121 593l1 0M1024 705l1 1M1116 613l-2 1M969 634l0 0M1077 683l-2 0M1040 733l-3 1M1039 697l2 1M1026 708l0 0M1127 620l1 2M1047 629l0 2M910 754l1 1M1050 685l-1 2M990 650l0 0M1060 653l1 2M1125 581l-1 1M934 674l-1 0M1014 645l-1 0M980 675l0 1M1062 740l2 2M1063 682l1 0M999 680l1 0M982 657l3 0" stroke="#505050" stroke-width="5"/>
<path d="M1074 682l0 0M963 712l-1 0M1076 746l0 0M1058 736l0 0M978 666l0 1M963 736l-1 2M1064 739l1 1M955 617l1 2M911 616l2 2M1010 728l0 0M1122 627l0 0M961 655l1 0M972 585l1 1M954 652l0 0M1064 643l-2 1M924 750l2 1M1037 756l0 0M1124 754l1 2M1110 624l1 2M1000 721l2 0M966 640l1 1M914 641l0 0M980 754l0 3M926 677l-1 0M1001 713l0 3M1001 733l1 1M954 583l-1 1M1004 759l-1 2M958 633l3 1M1053 753l1 0M915 690l-2 0M1071 684l0 0M1015 761l0 0M1069 702l-1 2M910 698l-1 0M910 741l-3 1M1107 595l2 1M932 666l0 0M1117 622l0 1M951 669l1 0M1042 695l0 3M1039 617l-1 0" stroke="#5a5a5a" stroke-width="5"/>
<path d="M1042 587l0 2M902 711l-1 0M1107 621l1 0M990 703l-1 1M942 593l-3 0M979 737l-2 2M941 747l0 0M1090 691l1 3M966 631l0 1M1097 697l0 1M1125 693l0 0M1080 675l0 0M904 709l1 0M1080 688l2 2M1128 751l0 2M1093 717l1 1M971 666l0 0M1002 623l0 1M1066 743l1 1M989 741l-1 0M989 721l2 1M1056 746l-1 2M1009 732l-2 1M988 706l2 1M1009 747l0 0M996 714l1 3M1111 602l2 2M963 754l-1 0M950 653l0 0M1074 740l1 0M1044 600l-1 2M973 585l0 0M1097 745l0 0M1022 756l-1 0M1047 746l0 0M1070 750l0 0M1065 675l-3 0M1116 762l0 1M1062 753l0 0M914 756l1 3M977 709l1 2M953 692l0 0M1113 706l0 1M1077 668l1 1M907 709l-2 0M897 751l1 0M919 756l1 2M934 663l0 0M1030 749l1 2M1000 736l0 0M1050 593l-2 0M932 757l0 2M984 678l2 2" stroke="#646464" stroke-width="5"/>
<path d="M1054 760l-2 1M1033 754l-2 0M1098 588l-3 1M955 673l2 0M1135 677l0 2M1116 737l-2 1M1133 598l-1 3M1082 721l2 0M956 740l0 2M973 723l-3 1M1027 747l-1 0M1081 666l0 0M1027 759l0 0M924 601l0 0M1063 756l-2 1M1039 617l-1 1M1057 587l0 2M896 691l-1 0M902 762l1 2M1067 697l2 2M1119 583l3 0M958 713l-2 1M913 632l-1 1M983 620l0 1M958 682l0 1M1128 692l0 2M1080 727l-1 2M956 716l0 2M1067 585l3 0M966 739l-1 1M953 656l0 2M991 723l-2 1" stroke="#6e6e6e" stroke-width="5"/>
<path d="M973 600l1 2M933 620l0 1M954 724l-1 1M964 746l-1 1M931 631l-2 1M1124 636l0 0M916 755l0 0M1111 749l0 2M1023 617l-2 1M952 678l0 0M1117 736l1 2M944 618l-2 0M999 717l1 0M1134 582l-2 0M1036 617l-1 0M951 694l0 0M903 746l0 3M1087 705l1 0M923 636l2 0M955 602l0 1M977 717l1 2M997 716l0 0M1001 703l-1 3M939 586l2 0M916 726l-1 0M1072 710l-1 1M980 711l-2 1M1006 729l-1 2M1094 755l0 0M1033 582l-3 0M948 625l0 0M962 706l-2 1M1122 707l1 0M1086 745l2 2M1091 584l1 2M987 698l3 1M1082 584l0 0M950 614l-1 0M1042 606l0 0M1068 704l0 0M972 675l-1 3M928 642l2 2" stroke="#787878" stroke-width="5"/>
<path d="M934 621l0 3M993 618l1 1M1102 735l0 3M913 700l0 1M1056 590l0 0M1035 592l0 1M978 610l0 0M1126 684l0 0M1125 724l0 1M1085 737l2 1M954 696l0 1M954 723l1 1M1078 705l0 1M919 624l-1 3M932 643l-3 0M1091 586l1 1" stroke="#828282" stroke-width="5"/>
<path d="M1083 637l-1 1M1090 606l-2 1M915 621l-2 1M1061 591l0 0M1104 717l-3 1M935 657l2 3M1099 678l-3 1M1018 614l0 0M1082 638l0 0M1092 685l-2 1M936 630l2 2M1055 625l0 1" stroke="#8c8c8c" stroke-width="5"/>
<path d="M939 610l2 2M1073 585l0 2M1089 625l3 2M913 705l0 3M1086 591l0 0M1068 620l1 1M930 626l0 0M1070 614l0 1M1062 602l-2 1M1122 648l0 1M945 726l1 1" stroke="#969696" stroke-width="5"/>
<path d="M1082 587l1 1M930 632l0 1" stroke="#a0a0a0" stroke-width="5"/>
<path d="M1069 609l1 2M1115 654l1 1M1072 607l0 0M940 616l0 3M1016 592l-1 2M1074 635l1 1M1105 658l-1 2M1016 607l-1 1M1098 636l0 0M1079 593l1 0M948 727l1 0M1028 607l0 1" stroke="#aaaaaa" stroke-width="5"/>
<path d="M1077 598l-3 1M1068 622l-1 2M1081 618l1 1M1077 613l0 2M941 694l1 1M1108 677l0 0" stroke="#b4b4b4" stroke-width="5"/>
<path d="M1098 601l1 1M1069 621l-2 1M947 718l0 0M948 734l0 1M1105 657l2 2M1097 672l0 1M942 738l-2 1M1092 658l-2 1" stroke="#bebebe" stroke-width="5"/>
<path d="M1066 605l1 1M1092 621l0 3M1097 609l2 2M1085 613l0 0" stroke="#c8c8c8" stroke-width="5"/>
<path d="M1099 663l0 0" stroke="#d2d2d2" stroke-width="5"/>
<path d="M1103 654l-1 0" stroke="#dcdcdc" stroke-width="5"/>
<path d="M1108 650l2 1" stroke="#e6e6e6" stroke-width="5"/>
<path d="M1002 639l-1 2M1035 679l0 1" stroke="#3c3c3c" stroke-width="4"/>
<path d="M960 678l0 0M1048 709l2 0M1055 734l1 2M1029 740l0 2M1060 722l0 3M1118 614l1 0" stroke="#505050" stroke-width="4"/>
<path d="M976 625l0 1M976 720l-1 2M1011 715l0 0M1010 733l2 0M1006 584l0 0" stroke="#5a5a5a" stroke-width="4"/>
<path d="M1108 582l-2 1M972 753l-2 0M940 681l-1 2M966 669l1 1M969 748l1 0M1094 738l-1 1M948 678l0 0" stroke="#646464" stroke-width="4"/>
<path d="M946 684l1 0M934 618l-2 0M985 716l0 0M1116 742l2 1" stroke="#6e6e6e" stroke-width="4"/>
<path d="M1120 717l2 0M986 593l2 0M1003 589l0 0M1098 734l-1 1" stroke="#787878" stroke-width="4"/>
<path d="M926 739l1 2M939 745l1 0M950 691l1 0M1114 635l-3 1" stroke="#828282" stroke-width="4"/>
<path d="M941 680l0 0M1105 632l0 0" stroke="#8c8c8c" stroke-width="4"/>
<path d="M943 616l2 2M926 722l-2 0" stroke="#a0a0a0" stroke-width="4"/>
<path d="M1004 592l1 2M1087 648l-2 1" stroke="#aaaaaa" stroke-width="4"/>
<path d="M1093 611l1 2" stroke="#bebebe" stroke-width="4"/>
<path d="M903 643l0 0" stroke="#464646" stroke-width="5"/>
<path d="M1032 636l1 0M901 682l-1 2M993 641l-1 2M1046 650l0 1" stroke="#505050" stroke-width="5"/>
<path d="M986 652l-2 2M1023 684l-2 1M897 680l1 3M1015 694l1 1M1002 672l-2 0M1023 732l-1 2M1009 630l-3 1" stroke="#5a5a5a" stroke-width="5"/>
<path d="M1012 621l0 0" stroke="#6e6e6e" stroke-width="5"/>
<path d="M1027 620l0 1M1114 586l-1 0M963 632l1 1M896 754l-1 0M956 700l-2 2M1001 701l1 2M1006 701l1 2" stroke="#787878" stroke-width="5"/>
<path d="M899 701l-2 1M968 585l-1 1" stroke="#828282" stroke-width="5"/>
<path d="M1079 683l0 0M1082 746l0 0M1108 694l-2 1" stroke="#8c8c8c" stroke-width="5"/>
<path d="M1054 626l1 1M1132 647l-1 1M1094 735l2 1M1099 585l2 1" stroke="#969696" stroke-width="5"/>
<path d="M1087 703l0 1M1007 618l-1 1" stroke="#a0a0a0" stroke-width="5"/>
<path d="M990 616l1 1" stroke="#aaaaaa" stroke-width="5"/>
<path d="M926 604l0 2M996 598l-2 1" stroke="#b4b4b4" stroke-width="5"/>
<path d="M1083 603l-1 0" stroke="#c8c8c8" stroke-width="5"/>
<path d="M1080 606l2 2" stroke="#e6e6e6" stroke-width="5"/>
<path d="M902 685l1 1M897 669l0 1M912 665l-2 1M901 677l0 2" stroke="#464646" stroke-width="4"/>
<path d="M1022 677l0 3M997 663l-1 2M903 644l1 2M907 663l0 0M1017 637l1 1M896 676l-3 1M1023 660l-1 1M1027 638l-2 1M1033 671l1 0M991 647l1 1M1020 649l0 0M896 668l2 1M912 683l-1 0M904 658l-1 1M1030 690l-1 1M1021 695l-1 1" stroke="#505050" stroke-width="4"/>
<path d="M1035 636l-1 1M914 681l-1 2M1054 730l0 1M1032 627l-2 1M1052 732l0 1M1035 729l1 1M898 685l1 2M1037 694l3 1M1023 641l-1 1M986 666l-1 2M1028 659l1 2M995 649l2 2M1044 656l2 1M1010 645l1 2M1034 628l-2 2M1013 648l1 1M1025 678l2 0M1055 645l-3 1M915 674l2 1M907 693l-1 1M1031 722l2 1M1051 661l-3 1M1046 681l-1 2M1046 639l0 0M1034 669l3 1M1019 726l-1 1" stroke="#5a5a5a" stroke-width="4"/>
<path d="M1023 623l1 2M1028 710l1 0M1030 736l0 1M912 591l2 2M1022 623l0 0M990 631l1 2M1018 701l-1 0M1025 719l2 1M1039 738l0 1M1047 733l-2 2M904 603l0 1M903 618l-2 1M907 596l-1 0M1021 626l1 1M911 689l1 1" stroke="#646464" stroke-width="4"/>
<path d="M915 597l1 1M916 682l1 0M981 647l1 1M1025 740l0 0M1034 622l1 1M897 695l1 1M1052 637l-1 1M975 644l-2 1M1000 625l3 1M1059 678l-1 2M897 604l-1 1M915 590l2 1M905 606l-1 2M1053 698l1 1M1060 708l0 3M1118 596l-2 1M915 647l1 1M1133 607l1 1M1063 729l-2 2" stroke="#6e6e6e" stroke-width="4"/>
<path d="M962 618l0 1M898 580l1 1M921 592l1 0M1003 753l0 0M1006 754l-1 1M975 760l0 1M959 596l0 1M1060 702l-1 1M1128 756l-2 1M915 741l0 0M975 581l-1 1M1063 636l0 0M1127 599l0 1M962 600l1 2M1072 729l2 1M966 674l-2 2M942 596l1 2M982 759l-1 2M909 623l-1 0M991 629l1 1M959 659l2 1M999 759l0 1M1019 745l1 1M1131 607l2 0M973 718l1 0M958 595l1 1M909 617l0 1M1122 744l-2 1M959 660l0 0M1090 755l-2 1M948 584l1 3M1070 698l0 1M972 758l1 1M922 589l3 1M1043 752l0 0M1046 583l-3 1" stroke="#787878" stroke-width="4"/>
<path d="M910 617l-1 0M955 747l2 1M927 583l1 0M963 722l-1 1M931 675l1 1M991 719l1 1M969 661l-3 1M965 591l0 0M1114 581l-1 0M909 725l-1 1M905 733l-1 2M1000 749l-1 2M1054 756l-1 3M906 716l-1 1M1120 585l-1 2M1070 675l-2 1M1081 749l0 0M1072 668l2 1M1075 698l-1 1M1107 585l1 1M1046 580l1 1M1105 580l0 0M996 714l1 1M961 706l-2 2M951 624l-1 1M981 758l-2 1M970 609l1 2M977 723l3 1M1076 664l-1 1M1083 687l1 2M1120 740l0 1M952 617l1 2M896 727l-3 0M968 606l0 1M966 717l0 0M903 709l2 0M1007 714l1 0M951 638l1 1M1087 751l1 1M1029 761l1 2M1034 583l1 1M921 675l0 0M1041 593l0 0M989 712l-1 0M984 692l2 2M955 628l2 0" stroke="#828282" stroke-width="4"/>
<path d="M959 685l-1 0M1126 696l3 1M1078 658l-1 1M1114 700l1 2M973 735l1 1M998 722l-1 0M928 663l2 2M1132 678l0 0M968 720l-2 2M1087 728l-1 0M1061 760l0 0M921 654l-2 1M1079 691l1 0M1130 640l2 2M966 605l-1 1M1047 753l0 1M1076 749l-1 1M968 737l-1 0M1076 712l0 0M953 607l-2 2M978 595l0 0M1072 708l1 1M1086 695l2 1M1025 586l0 1M1105 753l-2 2M1076 656l-2 2M1097 703l-1 1M991 737l-1 1M1120 693l2 1M921 673l-1 2M985 706l1 2M907 733l-2 1M1044 614l-2 2M991 741l0 0M921 603l1 1M913 613l-1 2M975 700l-2 0M928 759l1 1M1124 717l1 2M1061 757l-1 1M1097 735l0 1" stroke="#8c8c8c" stroke-width="4"/>
<path d="M996 733l2 1M1105 706l-2 0M1126 698l-1 0M1075 715l-1 0M1117 716l0 0M926 656l-1 2M1132 714l-1 1M1048 611l-1 1M978 716l1 2M947 743l-2 0M1112 710l-1 1M1104 732l-1 2M949 620l-1 0M1026 614l0 1M1093 704l-1 1" stroke="#969696" stroke-width="4"/>
<path d="M1127 707l-1 1M942 605l-1 1M1100 622l0 1M1020 586l-2 2M976 596l-2 2M1109 702l-1 3M946 612l2 2M1002 593l1 0M1022 611l-1 0M1087 719l-1 1M1119 631l1 1" stroke="#a0a0a0" stroke-width="4"/>
<path d="M1072 634l1 1M940 606l1 1M988 606l1 0M913 728l0 1M915 631l-2 1M1129 681l0 1M934 619l-1 3M990 603l-2 1M1098 713l2 0" stroke="#aaaaaa" stroke-width="4"/>
<path d="M1090 681l1 1M981 609l0 1M935 630l0 0M1094 628l-1 1M1086 672l-1 1M948 634l0 0M941 617l0 1M1003 616l-2 1M1025 599l1 2M1099 623l0 0" stroke="#b4b4b4" stroke-width="4"/>
<path d="M1053 608l-1 0M1121 669l0 1M933 615l-1 1M1013 604l-1 0" stroke="#bebebe" stroke-width="4"/>
<path d="M1091 624l1 2M1100 622l0 1M930 743l1 1M999 604l3 1M1090 676l0 0M1114 634l-2 0M1070 591l0 2M1128 668l-2 2M1065 623l0 1M1130 665l2 0M1098 608l2 1" stroke="#c8c8c8" stroke-width="4"/>
<path d="M925 725l1 1M950 700l1 1M945 708l-1 2M1093 606l0 0M943 689l0 0M1124 655l1 1M1073 603l2 0" stroke="#d2d2d2" stroke-width="4"/>
<path d="M1072 614l1 1M1111 667l1 1M1092 596l-1 1M936 733l-1 1M1076 626l-1 2M1114 644l0 1M934 690l-2 2M928 685l0 1M1114 641l0 1M925 732l0 1M1059 609l2 1M1065 620l0 0" stroke="#dcdcdc" stroke-width="4"/>
<path d="M1057 602l1 1M1093 657l-1 1M1101 669l0 1M1092 605l-3 1M1063 600l1 2M925 709l-2 1M1108 680l-2 2M944 710l1 2" stroke="#e6e6e6" stroke-width="4"/>
<path d="M939 698l0 3M942 695l2 1M944 705l2 2M934 699l-3 0M1066 621l-3 2M1100 666l2 0M1107 656l0 1M1106 649l0 1M1093 662l3 0M945 720l0 0M1091 653l3 1" stroke="#f0f0f0" stroke-width="4"/>
<path d="M897 649l-1 2" stroke="#464646" stroke-width="3"/>
<path d="M898 678l-1 2M1040 673l-2 1M906 681l1 1M995 651l0 1M1010 672l-1 1M1037 683l1 1M989 669l-1 2M1018 689l1 0M1015 692l-1 1M907 653l0 0M1022 670l-2 1" stroke="#505050" stroke-width="3"/>
<path d="M896 675l1 0M1013 661l1 0M1018 723l0 0M1014 694l-2 2M1037 656l-1 1M999 649l1 1M1035 655l1 1M993 648l-1 1M1042 674l-2 1M1011 684l0 1M1000 668l2 1M1049 704l1 2M1057 676l1 1M1047 733l-2 0M1029 736l0 1M1001 653l1 2" stroke="#5a5a5a" stroke-width="3"/>
<path d="M902 613l-2 1M1038 746l-1 0M1052 633l0 0M1057 665l-1 1M901 630l1 1M1055 672l0 1M894 649l-2 1M1033 687l-1 0M1051 639l0 1M1041 697l0 0M906 609l1 1M1044 692l-2 1M1038 696l1 1M1046 628l0 1M917 673l-1 1M1052 718l2 0M1054 707l-1 0M1049 703l-1 1M909 697l-1 0M999 679l1 0M1034 735l1 1" stroke="#646464" stroke-width="3"/>
<path d="M1059 645l0 0M976 651l-1 1M1044 627l1 1M896 605l-1 1M1012 701l-1 1M903 598l-2 1M902 592l-1 2M1112 602l-1 0M1016 729l2 2M1050 629l1 1M1063 647l0 1M1056 634l-1 1M1058 638l0 1M1118 582l2 0M1123 617l-1 1M1059 687l1 2M1116 622l0 1M1029 748l1 1M1023 736l-1 0M1063 730l-1 2" stroke="#6e6e6e" stroke-width="3"/>
<path d="M1074 686l-1 1M975 645l2 0M1037 620l1 2M1132 592l-2 0M931 758l1 1M1071 643l2 2M910 615l1 1M1088 753l0 2M1126 759l-2 1M1102 586l-1 1M1072 667l1 1M1079 687l1 1M1001 624l1 0M1116 604l-1 1M970 667l1 2M1114 759l1 1M970 665l0 0M1026 758l0 0M996 628l0 0M1067 645l1 1M1074 746l-1 0M1055 745l-1 1M961 622l-2 1M1056 695l0 1M1119 620l1 1M961 661l-2 1M1001 732l1 1M1066 752l-1 1M896 690l-1 0M958 736l0 0M957 750l0 0M960 598l-1 1M1068 703l0 0M950 673l1 1M925 761l-1 1M976 708l1 1M1046 618l-2 1M932 665l0 0M904 741l-1 0M956 750l1 1M895 760l1 0M995 749l-1 2M932 756l0 1M1113 614l0 0M964 659l0 2" stroke="#787878" stroke-width="3"/>
<path d="M962 711l-1 0M983 633l-1 1M1063 738l1 1M1027 618l0 1M938 672l-1 1M980 755l0 1M980 634l1 1M972 733l1 0M960 651l1 0M958 610l0 0M897 709l2 1M1074 695l1 1M1041 591l-1 1M913 580l-1 1M1081 751l1 2M1008 746l0 0M935 753l2 0M1065 697l0 0M983 738l0 1M998 684l1 1M991 699l1 1M1099 754l0 2M1022 755l-1 0M897 717l1 1M969 647l-1 2M1065 673l0 1M1067 696l1 1M958 653l2 1M1007 705l-1 1M906 746l-1 1M1004 701l0 1M1086 689l1 1M1068 702l-1 1M978 713l1 0M972 588l0 1M929 662l2 1M1085 752l1 1M900 758l2 1M1080 671l0 0M1070 674l0 0M990 722l-1 1M1127 754l1 0M1080 756l1 1" stroke="#828282" stroke-width="3"/>
<path d="M1112 705l-2 1M900 743l0 0M916 754l0 0M1115 736l-1 1M1024 619l-1 1M972 732l0 0M913 634l1 1M1111 744l-1 2M998 716l1 0M934 760l2 0M1055 589l0 0M954 601l0 1M963 609l-1 1M977 716l1 1M1000 702l-1 2M1119 698l-2 1M1039 617l1 1M989 740l-1 0M900 731l0 1M919 583l-1 1M972 586l2 0M1043 599l-1 1M1084 736l1 1M1001 696l0 1M1004 731l0 0M958 693l2 0M957 721l0 2M957 737l1 2M938 584l0 0M986 697l2 1M972 733l-1 1M1101 588l0 0M1109 698l-1 0M979 592l-1 1M983 677l1 1M1086 746l0 0" stroke="#8c8c8c" stroke-width="3"/>
<path d="M1117 699l1 1M975 610l0 0M981 708l-2 0M1082 699l1 0M1119 632l2 0M950 693l0 0M976 736l1 1M1099 699l-2 1M996 713l1 2M990 719l0 1M1107 719l1 1M912 631l-1 1" stroke="#969696" stroke-width="3"/>
<path d="M1123 636l0 0M1114 722l0 1M1124 700l0 1M1088 683l1 1M1081 720l1 0M954 729l-1 1M954 700l1 0M1122 699l0 2M1124 723l0 1M1101 623l2 1M1037 598l0 0" stroke="#a0a0a0" stroke-width="3"/>
<path d="M1087 634l0 1M1022 608l1 1M994 589l-2 1M1086 704l1 0M938 679l2 0M1012 613l0 1M934 656l1 2M1107 690l2 1M954 722l1 1M922 630l0 0M1102 602l-1 0M952 707l1 1M1023 609l1 1M1104 694l-1 1" stroke="#aaaaaa" stroke-width="3"/>
<path d="M1072 584l0 1M951 723l-1 1M1096 686l-1 1M997 604l0 1M1013 588l-2 1M947 736l-1 1M995 615l1 2M925 649l0 2M1091 585l1 1" stroke="#b4b4b4" stroke-width="3"/>
<path d="M930 630l-1 1M1070 584l-1 1M1101 603l-1 2M1060 590l0 0M934 610l0 0M1012 591l0 0M917 730l0 0M930 631l0 1" stroke="#bebebe" stroke-width="3"/>
<path d="M1081 586l1 1M1119 659l-1 0M921 623l0 0M1073 621l1 1M1093 681l-2 1M929 631l0 1M1122 647l0 1M941 737l-1 1M944 691l0 1M927 683l1 1" stroke="#c8c8c8" stroke-width="3"/>
<path d="M1066 604l1 1M1103 641l0 0M1111 682l1 2M1111 670l0 0M1082 605l-1 0M1114 657l1 1M1088 624l2 1M1069 620l-1 1M1075 608l0 0M1112 670l-1 2M921 713l0 1M1080 626l2 1M1071 598l1 1M1079 621l0 1" stroke="#d2d2d2" stroke-width="3"/>
<path d="M1072 594l2 1M1068 608l1 1M1061 621l0 0M949 719l1 1M917 704l0 1M1092 647l-2 1M1067 619l1 1M1093 614l2 2M1097 598l1 0M1099 618l1 1M1104 657l-1 1M940 693l1 1M1120 659l-1 0M1115 643l0 0" stroke="#dcdcdc" stroke-width="3"/>
<path d="M1094 653l0 1M1098 640l0 1M1091 620l0 2M1086 625l-1 2M1060 601l0 0M1093 648l0 0M1099 677l-2 1M1062 601l-1 2M1116 651l0 0" stroke="#e6e6e6" stroke-width="3"/>
<path d="M939 698l-2 1M1087 663l-1 1M949 704l1 0M1072 592l0 0M1072 606l0 0M928 725l-2 1M1080 606l-1 2M1098 652l-1 0M1104 656l0 1M1116 653l1 1M1095 671l0 1M1097 670l-2 0M1102 653l-1 0M928 695l0 1" stroke="#f0f0f0" stroke-width="3"/>
<path d="M911 682l0 1" stroke="#464646" stroke-width="2"/>
<path d="M1024 686l0 0M1020 722l0 1M1028 685l1 1M900 657l1 0" stroke="#505050" stroke-width="2"/>
<path d="M1002 638l-1 1M1051 720l0 1M1049 720l1 0M1051 737l0 0M1029 725l-1 1M1025 707l0 0M1017 673l-1 1M1034 679l0 1M1013 644l-1 0M1050 677l-1 1" stroke="#5a5a5a" stroke-width="2"/>
<path d="M1020 710l0 0M1047 709l1 0" stroke="#646464" stroke-width="2"/>
<path d="M953 652l0 0M1063 642l-1 1M1111 601l1 1M913 640l0 0M949 652l0 0M1126 619l1 1M1062 708l2 1M1065 675l-2 0" stroke="#6e6e6e" stroke-width="2"/>
<path d="M1073 681l0 0M977 665l0 1M941 593l-2 0M951 677l0 0M1127 750l0 1M1076 653l-1 1M980 753l0 2M1006 729l-1 1M954 582l-1 1M913 756l1 2M1076 667l1 1M1117 614l1 0" stroke="#787878" stroke-width="2"/>
<path d="M1041 586l0 1M902 710l-1 0M962 736l-1 1M1032 754l-1 0M1110 748l0 1M1010 727l0 0M980 636l-1 1M976 719l-1 1M963 753l-1 0M1001 712l0 2M1056 586l0 1M973 584l0 0M909 753l1 1M947 677l0 0M982 620l0 1M1107 594l1 1M999 735l0 0" stroke="#828282" stroke-width="2"/>
<path d="M979 736l-1 1M1134 581l-1 0M1035 617l-1 0M1035 591l0 1M987 705l1 1M1093 738l-1 1M1033 581l-2 0M1079 726l-1 1M1115 741l1 1" stroke="#8c8c8c" stroke-width="2"/>
<path d="M1116 735l1 1M1092 716l1 1M923 600l0 0M1096 744l0 0M984 715l0 0M1077 704l0 1M1097 733l-1 1M1112 705l0 1M1055 624l0 1" stroke="#969696" stroke-width="2"/>
<path d="M940 680l-1 1M954 695l0 1M947 625l0 0M939 744l1 0M955 716l0 1" stroke="#a0a0a0" stroke-width="2"/>
<path d="M1102 734l0 2M977 609l0 0M935 629l1 1" stroke="#aaaaaa" stroke-width="2"/>
<path d="M932 620l0 1M947 733l0 1" stroke="#b4b4b4" stroke-width="2"/>
<path d="M1082 636l-1 1M1004 591l1 1M1086 647l-1 1" stroke="#bebebe" stroke-width="2"/>
<path d="M1080 617l1 1M1073 634l1 1" stroke="#c8c8c8" stroke-width="2"/>
<path d="M1089 605l-1 1M1115 654l1 1M1069 613l0 1" stroke="#d2d2d2" stroke-width="2"/>
<path d="M926 739l1 1M1062 601l-1 1M1107 676l0 0" stroke="#dcdcdc" stroke-width="2"/>
<path d="M926 721l-1 0M1105 656l1 1M948 726l1 0" stroke="#e6e6e6" stroke-width="2"/>
<path d="M1067 621l-1 1M1076 612l0 1M1097 671l0 1" stroke="#f0f0f0" stroke-width="2"/>
</g>
<path d="M938 655L955 675" stroke="#aaaaaa" stroke-width="3" stroke-linecap="round" filter="url(#bl06r)"/>
<path d="M1001 688L993 738" stroke="#808080" stroke-width="5" stroke-linecap="round" filter="url(#bl06r)"/>
</g></g>
<rect x="898" y="746.7" width="233.7" height="12.5" fill="#5d5d5d"/>
<path d="M898 753.6H1014.1 M955.9 746.7V759.2 M1010.3 746.7V759.2" stroke="#7c7c7c" stroke-width="0.6" fill="none"/>
<text x="904.6" y="751.7" font-family='"Liberation Sans", sans-serif' font-size="4.6" font-weight="bold" fill="#dcdcdc" textLength="43.4" lengthAdjust="spacingAndGlyphs">SEM HV: 15.0 kV</text>
<text x="903.1" y="757.9" font-family='"Liberation Sans", sans-serif' font-size="4.6" font-weight="bold" fill="#dcdcdc" textLength="46.5" lengthAdjust="spacingAndGlyphs">SEM MAG: 100 kx</text>
<text x="967.2" y="751.7" font-family='"Liberation Sans", sans-serif' font-size="4.6" font-weight="bold" fill="#dcdcdc" textLength="35.9" lengthAdjust="spacingAndGlyphs">WD: 3.46 mm</text>
<text x="964.2" y="757.9" font-family='"Liberation Sans", sans-serif' font-size="4.6" font-weight="bold" fill="#dcdcdc" textLength="41.9" lengthAdjust="spacingAndGlyphs">Det: InBeam SE</text>
<text x="1018.3" y="757.9" font-family='"Liberation Sans", sans-serif' font-size="4.6" font-weight="bold" fill="#dcdcdc" textLength="19.2" lengthAdjust="spacingAndGlyphs">500 nm</text>
<text x="1090.5" y="751.7" font-family='"Liberation Sans", sans-serif' font-size="4.6" font-weight="bold" fill="#dcdcdc" textLength="40.7" lengthAdjust="spacingAndGlyphs">MIRA3 TESCAN</text>
<path d="M1015 747V753.3H1071.9V747M1020.7 753.3V751.7M1026.4 753.3V751.7M1032.1 753.3V751.7M1037.8 753.3V751.7M1043.5 753.3V750.9M1049.1 753.3V751.7M1054.8 753.3V751.7M1060.5 753.3V751.7M1066.2 753.3V751.7" stroke="#e8e8e8" stroke-width="0.7" fill="none"/>
<g clip-path="url(#clipb)"><g>
<g filter="url(#bl4)">
<rect x="640.5" y="752.6" width="263.5" height="200.2" fill="#2a2a2a"/>
<ellipse cx="691" cy="809" rx="15" ry="17" fill="#7a7a7a"/>
<ellipse cx="808" cy="810" rx="13" ry="22" fill="#878787"/>
<ellipse cx="832" cy="771" rx="15" ry="9" fill="#737373"/>
<ellipse cx="735" cy="839" rx="21" ry="13" fill="#7a7a7a"/>
<ellipse cx="659" cy="842" rx="9" ry="16" fill="#5a5a5a"/>
<ellipse cx="870" cy="830" rx="23" ry="21" fill="#5a5a5a"/>
<ellipse cx="825" cy="917" rx="17" ry="12" fill="#878787"/>
<ellipse cx="670" cy="915" rx="12" ry="14" fill="#606060"/>
<ellipse cx="780" cy="867" rx="20" ry="15" fill="#4f4f4f"/>
<ellipse cx="730" cy="819" rx="27" ry="6" fill="#1d1d1d"/>
<ellipse cx="776" cy="829" rx="19" ry="14" fill="#282828"/>
<ellipse cx="687" cy="865" rx="16" ry="17" fill="#191919"/>
<ellipse cx="793" cy="907" rx="19" ry="21" fill="#222222"/>
</g>
<g filter="url(#bl06)" stroke-linecap="round" fill="none">
<path d="M666 789l0 1M674 773l-2 1M778 892l0 0M806 875l1 1M705 764l-1 0M720 814l1 1M737 877l1 0M872 857l0 0M866 777l2 1M845 928l0 0M888 888l-1 0M803 880l1 1M671 940l0 0M652 888l2 0M833 887l1 1" stroke="#505050" stroke-width="8"/>
<path d="M834 795l-1 1M742 888l0 0M807 876l-1 0M707 871l0 0M845 898l-2 1M854 809l1 1M762 929l-1 1M767 898l0 0" stroke="#5a5a5a" stroke-width="8"/>
<path d="M825 880l-1 0M887 765l2 1M776 848l0 0M662 825l0 2M749 917l0 0" stroke="#646464" stroke-width="8"/>
<path d="M801 936l0 1M709 909l2 1M893 806l1 2M846 887l0 2M877 855l0 0M742 916l2 1M858 791l-1 1" stroke="#6e6e6e" stroke-width="8"/>
<path d="M871 827l-1 1" stroke="#828282" stroke-width="8"/>
<path d="M726 839l2 1" stroke="#8c8c8c" stroke-width="8"/>
<path d="M722 841l1 0" stroke="#a0a0a0" stroke-width="8"/>
<path d="M804 803l2 0" stroke="#b4b4b4" stroke-width="8"/>
<path d="M811 821l-2 1" stroke="#c8c8c8" stroke-width="8"/>
<path d="M678 863l2 1M676 860l-1 1" stroke="#323232" stroke-width="7"/>
<path d="M674 862l0 0M685 852l-1 0M678 850l-1 1M694 851l-1 1M681 875l-1 1M694 864l1 2M691 880l0 1M671 858l2 0M686 864l1 2" stroke="#3c3c3c" stroke-width="7"/>
<path d="M692 854l0 1M685 881l0 1M702 868l-1 0M789 828l2 1M674 870l0 2M731 815l0 1M787 924l-2 1M734 823l2 1M679 849l1 1M787 834l1 2M787 889l2 0M752 821l0 0M786 898l-1 1M687 855l0 1M717 824l0 0M796 907l1 0M716 814l0 0M736 813l0 0M669 864l0 0" stroke="#464646" stroke-width="7"/>
<path d="M835 894l1 1M699 932l-1 0M858 899l-1 1M725 943l-2 0M832 829l1 1M655 909l2 0M686 840l0 2M659 881l0 0M724 926l-1 1M714 881l-1 2M815 941l-1 0M858 766l1 1M888 792l-2 0M869 896l1 2M755 883l-2 1M841 811l0 0M884 796l2 1M754 821l2 1M833 833l0 0M728 929l1 1M784 907l0 2M878 913l0 2M715 776l0 0M732 784l1 0M887 921l0 2M726 940l0 1M857 764l-1 0M705 828l-2 1M801 897l0 1M673 769l-1 0M821 847l-1 1M753 883l1 1M834 800l0 0M717 921l0 0M743 810l0 0M868 860l0 0M749 873l0 1M709 867l0 0M696 785l-2 0M879 892l-1 0M787 919l-1 2M756 822l-2 1M875 765l2 1M858 788l0 1M859 927l0 1M858 803l2 1M744 813l-1 0M772 782l-2 0M782 841l0 0M668 826l0 1M862 939l-1 0M707 766l-1 1M733 825l0 1M795 833l0 0M725 941l0 2M891 766l0 0M688 779l0 0M714 799l0 0M755 819l-1 0M849 898l0 0M874 904l0 0M728 903l-1 1M848 900l0 0M838 941l0 2M723 800l1 0M858 943l-1 1M776 909l-2 1M862 873l0 0M656 813l0 0M810 770l-1 0M693 762l0 0M748 890l1 2M848 917l2 0M649 766l0 1M743 783l0 0M671 769l-1 1M654 889l0 1M698 774l0 0M792 809l-1 2M707 797l-1 0M688 886l1 1M874 923l-1 1M682 930l0 2M763 883l0 0M862 800l0 1M700 910l0 2M783 886l0 0M856 796l0 0M873 858l1 0M727 814l-1 1M891 787l-1 0M731 902l1 2M757 767l2 1M787 781l0 1M802 933l0 1M788 887l1 1M663 863l0 0M753 760l0 0M766 924l1 2M723 885l0 1M831 811l0 1M789 795l0 1M726 775l1 1M740 920l0 1M730 799l1 2M711 891l1 1M695 910l0 2M849 760l2 1M841 935l-2 1M766 827l-1 0M896 943l2 1M738 797l1 1M771 926l1 2M736 929l-2 0M664 932l2 1M849 944l1 1M693 916l0 0M815 841l0 0" stroke="#505050" stroke-width="7"/>
<path d="M768 840l1 0M767 944l0 0M661 878l2 2M835 837l1 0M693 835l1 0M769 816l-1 0M748 913l-1 1M870 932l0 1M865 804l2 2M871 762l0 1M838 839l-1 1M863 888l0 1M862 865l0 1M885 766l0 2M729 883l-1 2M802 915l0 0M834 848l0 2M782 896l2 1M700 775l0 0M648 856l-1 1M874 778l0 1M837 857l-1 2M753 929l2 2M760 805l1 1M706 784l-1 1M773 885l0 0M801 904l0 0M722 787l2 2M882 945l0 0M673 898l1 0M875 769l0 0M880 933l0 0M858 879l0 0M802 904l0 0M666 785l0 0M770 770l1 2M765 802l1 1M743 913l0 0M752 914l0 0M773 922l2 0M691 897l0 1M812 782l0 1M767 915l-2 1M828 836l-2 1M774 814l0 0M843 866l2 1M853 904l-2 1M811 846l0 0M819 875l-1 1M656 795l-1 1M758 936l-2 0M663 794l-1 0M856 931l0 1M826 760l-2 0M707 826l1 1M735 896l0 2M884 859l1 0M830 859l-1 1M755 797l1 1M779 910l-1 0M815 785l0 0M762 765l0 0M866 923l0 2M862 920l0 0M800 895l0 0M776 798l1 1M818 882l-1 1M787 798l-1 1M666 809l1 0M861 903l0 0M748 773l-1 1M658 818l0 2M698 838l0 0M804 855l-1 2M704 844l0 0M889 808l1 0M895 764l0 1M887 940l1 0M682 769l-1 1M713 790l0 2M740 797l0 1M822 788l0 1M863 915l2 0M880 942l0 1M655 863l-1 0M825 844l0 2M777 791l1 1M885 881l0 1M785 891l0 2M779 777l0 1M690 891l2 1M660 817l-1 2M749 803l-2 1M734 858l1 0M707 864l0 0M702 784l0 0M689 946l1 0M774 921l-2 1M713 906l-1 0M799 926l-1 1M847 937l0 1M730 767l0 1M692 783l1 2M767 837l-2 0M820 833l0 0M681 943l-1 0M811 864l1 1M683 790l0 0M867 882l0 1" stroke="#5a5a5a" stroke-width="7"/>
<path d="M833 848l-1 1M730 940l-2 1M691 835l1 2M849 789l0 0M818 934l0 2M752 943l0 1M731 789l0 1M845 904l2 2M810 940l0 1M733 801l-1 0M787 930l-1 1M671 815l1 1M772 920l0 0M692 839l1 0M737 913l-1 1M667 782l-1 1M874 924l0 1M651 826l0 0M888 802l-2 1M697 911l-2 0M830 885l2 1M866 803l2 2M843 861l0 0M829 781l-1 0M669 793l0 1M770 903l0 2M691 887l-2 1M695 913l-2 0M815 867l1 1M711 845l1 1M675 896l-1 1M718 762l0 0M838 828l1 2M732 796l0 2M675 944l0 0M876 794l-2 0M760 908l1 2M691 894l-1 1M720 760l0 0M840 896l1 0M793 770l0 0M711 763l0 0M691 906l1 1M671 896l0 1M751 866l0 1M650 913l0 0M875 773l0 0M847 767l1 1M821 901l1 1M721 791l0 1M802 782l0 1M862 911l-1 1M852 889l1 1M862 935l-2 2M780 836l1 1M858 915l0 1M839 861l0 0M716 774l0 0M893 803l1 0M848 904l-2 0M791 785l2 1M850 880l0 0M793 797l2 0M703 825l0 1M889 921l0 1M766 943l0 1M741 936l-2 1M752 863l0 0M824 837l-1 0M776 827l-1 1M848 939l-1 0M777 805l-1 1M840 878l-2 1M771 887l0 1M768 798l1 1M717 887l1 1M860 861l0 0M805 857l2 0M657 869l0 0M837 940l0 0M668 784l0 1M699 901l-1 0M881 885l0 0M739 795l0 1M751 801l-1 0M775 922l0 0M667 933l0 1M848 846l1 1M881 853l0 0M699 847l-1 0M808 851l-2 1M825 818l0 1M863 938l1 0M649 795l-1 1M747 801l-1 2M865 872l-2 0M822 863l1 2M705 891l1 0M894 894l1 0M716 797l1 1M763 828l0 2M662 797l-1 0M781 803l1 2M896 878l0 1M723 900l0 2M823 834l-1 1M733 788l0 1M826 894l0 0M683 791l0 1M855 858l0 1M736 938l1 1M873 915l1 2M709 846l0 1M743 876l0 1M805 852l0 0M766 848l-1 2M818 878l0 0M741 921l0 2M807 923l0 0M782 796l-2 0M694 932l0 2M694 909l0 1M784 835l1 2M738 775l0 0M841 868l-2 1M785 805l1 0M773 791l0 0M851 860l0 2M792 934l0 1M812 784l0 0M875 930l0 2M659 762l0 2M649 877l-1 1M769 828l0 1M757 937l0 2M824 872l-2 2M854 934l0 3M839 942l0 0M789 881l-1 1M753 889l0 1M728 882l1 1M652 922l1 2M771 826l0 1M687 940l0 2M874 941l1 1" stroke="#646464" stroke-width="7"/>
<path d="M860 868l-1 2M775 889l0 0M724 860l1 0M769 857l0 1M730 940l-2 1M805 859l2 1M893 876l0 2M880 923l1 0M729 880l0 0M683 900l-1 2M895 897l0 0M717 911l-1 2M857 913l1 0M822 936l1 2M669 778l-2 1M882 898l0 0M871 863l0 1M757 886l0 1M705 834l-1 0M866 895l-2 0M850 788l0 0M871 791l0 0M888 896l-2 1M875 766l0 1M743 789l0 0M848 765l0 1M749 886l0 0M865 795l-1 1M739 787l0 0M769 908l0 0M759 800l-1 2M768 760l2 0M854 799l-1 1M850 928l2 1M732 785l-2 0M877 874l-1 2M757 782l-2 1M877 809l1 0M891 856l0 2M867 853l0 0M725 860l2 1M809 916l0 0M820 842l-1 1M848 806l-1 1M784 834l1 1M790 796l1 1M704 894l-1 1M824 882l1 1M764 806l2 1M742 924l-1 0M761 878l0 2M686 924l1 0M782 870l-1 1M648 815l-1 0M879 864l0 2M862 916l-1 2M845 783l0 1M892 855l0 2M859 781l-2 0M658 788l0 2M815 763l-1 1M849 939l-1 1M751 897l-1 0M731 792l1 1M672 840l1 2M735 900l1 1M819 788l0 1M690 778l0 1M726 787l1 2M870 806l-1 1M692 932l0 0M851 781l-2 1M750 769l0 0M683 903l0 0M809 873l-1 1M884 867l0 0M777 773l-2 1M782 885l-1 1M777 852l0 0M795 785l0 0M882 774l-2 1M695 784l-1 1M764 930l0 0M841 782l0 1M882 859l1 0M867 924l2 1M726 826l-1 0M762 806l0 0M655 942l1 1M849 856l-1 1M714 901l1 1M760 895l-1 1M660 846l0 0M704 931l-2 1M717 790l-2 1M755 909l0 0M738 930l0 0M818 868l1 0M857 910l0 1M816 940l2 0M816 861l0 0M829 796l1 2M845 934l-1 2M655 798l0 1M837 873l0 0M878 795l0 1M761 803l-1 2M834 860l0 1M750 872l1 0M754 814l0 0M648 928l0 1M696 897l1 1M722 861l0 1M749 908l0 0M893 940l0 1M707 772l-2 0M847 929l-1 2M893 940l-2 1M835 867l0 1M671 785l2 1M855 926l1 1M788 780l1 2M657 857l-1 2M736 922l0 0M650 839l0 2M736 809l0 2M888 878l-1 1M818 940l1 1" stroke="#6e6e6e" stroke-width="7"/>
<path d="M672 903l0 1M658 910l0 2M860 813l-2 0M712 842l1 2M771 854l1 1M809 834l0 1M804 863l0 0M806 784l1 0M678 906l-1 0M792 876l-1 1M874 815l1 0M890 846l0 0M759 839l-2 0M846 832l0 1" stroke="#787878" stroke-width="7"/>
<path d="M772 869l1 2M779 865l0 0M817 772l0 0M892 837l2 1M862 850l0 1M791 878l-2 1M693 792l-1 1M806 787l0 1M753 846l0 0M864 829l1 1M884 823l-1 0M697 819l-2 2M676 906l0 0M726 849l0 0M849 824l1 0M871 846l-1 0" stroke="#828282" stroke-width="7"/>
<path d="M877 845l0 1M814 789l0 0M840 763l0 1M876 828l0 2M701 798l1 2M686 809l0 0M870 819l0 1M843 913l1 0M818 929l0 0M799 825l1 0M718 848l1 2M858 836l-1 1M731 829l0 0M823 773l1 1M658 854l-1 0M781 856l-1 2M836 778l0 0M661 857l0 1M878 842l-1 0M859 825l-2 0M848 830l-2 1M818 810l0 0M712 837l0 2M855 821l1 1M700 813l-2 1" stroke="#8c8c8c" stroke-width="7"/>
<path d="M831 762l-1 0M683 819l0 0M722 839l1 1M842 920l0 0M810 922l-2 0M891 827l0 0M826 773l1 0M755 837l0 0M713 836l0 0M768 869l0 1M834 919l1 0M878 835l2 0M707 811l1 1M886 828l-1 1M812 800l0 0M825 909l-1 2M853 828l2 0M826 914l1 0M826 918l1 0M833 769l0 0M772 872l0 0M718 843l0 0" stroke="#969696" stroke-width="7"/>
<path d="M800 808l-2 0M839 764l-2 1M793 860l-1 0M693 798l-2 1M674 920l1 1M751 836l0 0M731 830l0 0M881 830l1 0M696 793l1 1M830 771l-2 0M720 836l1 1" stroke="#a0a0a0" stroke-width="7"/>
<path d="M727 834l2 0M738 828l-1 0M836 914l-2 1M795 808l-2 1M749 843l-1 1M807 830l0 0M881 817l-2 0M726 845l1 0" stroke="#aaaaaa" stroke-width="7"/>
<path d="M824 766l1 0M832 771l-1 0M809 825l1 0M819 922l-2 0" stroke="#b4b4b4" stroke-width="7"/>
<path d="M678 810l1 0M822 768l0 0M834 764l-1 1M699 805l-1 2" stroke="#bebebe" stroke-width="7"/>
<path d="M801 804l1 1M806 808l1 1" stroke="#c8c8c8" stroke-width="7"/>
<path d="M801 819l2 1" stroke="#d2d2d2" stroke-width="7"/>
<path d="M697 866l-1 0M695 860l2 1M682 875l0 0" stroke="#323232" stroke-width="6"/>
<path d="M781 914l1 0M714 819l1 0M800 892l1 1M789 908l-1 1M682 867l0 0M689 847l0 0M693 879l0 1M720 815l-2 1M718 820l-2 0M740 821l-1 0M775 908l0 0M680 877l0 0" stroke="#3c3c3c" stroke-width="6"/>
<path d="M781 908l1 0M778 899l0 1M718 814l-1 0M796 905l0 1M802 926l-2 1M689 870l0 0M799 889l1 1M734 823l1 2M680 849l1 1M804 916l-1 2M796 899l0 2M704 871l0 0M698 857l0 0M781 889l-1 0M680 877l1 0" stroke="#464646" stroke-width="6"/>
<path d="M818 932l-1 2M859 803l-1 0M738 918l0 0M838 832l0 0M891 799l2 1M755 792l-1 1M879 802l-1 0M792 796l2 0M825 881l-1 0M689 885l0 0M813 888l-2 1M713 865l0 0M778 846l-2 1M800 908l0 1M723 782l-1 0M773 900l0 0M659 867l2 0M727 904l-1 0M851 928l-2 0M867 892l-1 0M779 890l0 0M704 892l1 0M825 882l0 0M894 944l-1 0M875 765l0 1M771 812l0 0M661 880l1 1M877 786l0 0M738 892l1 0M883 899l0 0M733 899l0 0M799 907l0 2M716 793l0 0M701 845l-1 2M884 778l0 1M792 800l1 1M700 882l0 1M703 933l0 1M834 836l-1 1M850 939l0 2M744 922l0 1M691 903l1 0M655 887l-1 0M895 915l0 1M664 763l0 1M888 939l0 1M824 871l0 0M704 770l1 1M813 850l0 0M804 762l1 0M681 933l1 0M775 918l0 1M870 917l2 1M698 876l1 0M747 932l-1 1M892 785l0 2M867 765l0 1M730 898l0 1M706 789l2 1M812 929l0 2M851 855l-1 1M846 904l1 1M766 841l0 1M750 806l0 1M724 903l1 1M670 864l0 2M672 856l0 1M717 818l0 0M675 894l0 1M717 922l0 1M716 877l0 0M693 928l1 1M755 809l1 0M712 897l1 0M760 824l-2 0M849 911l2 1M682 883l0 0M664 880l1 0M651 814l0 0M846 897l1 0M812 882l0 0M845 845l0 1M895 851l-1 0M802 842l-1 2M772 762l-1 1M887 858l1 1M805 879l1 0M775 838l1 0M660 891l0 0M881 768l0 2M849 917l0 0M881 857l0 0M780 896l1 1M676 785l0 1M660 899l-2 1M840 867l0 1M831 831l0 0M750 878l-1 1M659 801l1 0M650 883l0 0M852 806l0 1M769 848l0 2M822 942l-1 0M733 938l1 1M657 880l0 0M714 769l0 0M865 923l0 1M792 941l0 0M876 896l0 2M666 823l0 0M843 869l-1 1M834 807l-1 1M878 802l-2 0M781 899l0 0M859 939l0 0M711 887l2 0M772 889l-1 1M791 893l-1 1M657 890l1 1M896 775l0 0M682 906l0 2" stroke="#505050" stroke-width="6"/>
<path d="M722 871l0 1M871 792l0 1M743 899l0 0M650 830l-2 1M691 775l0 1M782 932l-1 1M831 826l0 0M648 873l-1 1M682 840l0 1M701 766l0 0M685 919l-1 0M720 809l-1 1M657 787l-1 0M712 938l0 1M893 814l2 0M833 813l2 1M780 827l0 0M826 798l0 1M805 879l1 1M770 791l0 1M832 857l1 0M688 945l-1 2M711 802l-2 0M763 893l-1 0M768 944l-1 0M666 891l-2 0M830 937l0 0M754 775l-1 1M789 767l-1 0M716 937l1 0M856 924l-1 0M741 898l0 0M701 917l2 1M896 875l0 1M818 937l0 0M859 943l0 0M700 894l-1 2M723 873l0 0M820 900l0 2M762 891l-1 2M720 774l0 1M782 785l0 0M707 840l1 1M839 816l0 1M854 806l0 0M790 846l-1 1M757 921l0 1M658 874l1 0M791 912l-2 1M714 892l1 0M838 818l-1 0M682 834l1 1M832 856l1 0M773 917l-1 0M837 905l1 1M865 856l1 1M865 939l0 0M811 933l0 1M798 887l0 1M845 847l0 0M746 944l1 1M887 860l-1 0M891 899l0 1M732 867l-1 0M648 910l0 0M806 769l0 0M849 889l1 1M670 867l1 0M796 853l0 1M808 862l0 0M733 872l-1 1M733 938l0 0M876 908l1 1M892 894l-1 2M835 939l0 0M815 837l-1 1M786 799l-1 1M804 776l1 0M837 814l2 1M895 906l0 1M889 788l0 1M708 793l0 1M786 812l2 1M763 938l0 0M888 811l0 0M775 844l0 1M833 793l-1 1M716 946l1 1M827 800l0 0M723 937l-2 1M707 853l1 0M709 836l2 1M712 916l-1 1M858 885l-2 0M731 858l-1 0M692 768l0 1M751 875l0 0M799 785l0 2M766 792l-2 0M850 776l2 1M782 780l0 1M700 845l0 0M814 869l-1 0M848 854l0 2M728 912l0 0M683 945l1 1M753 799l-1 0M881 900l-1 1M664 787l-1 1M662 825l-1 1M753 813l0 1M770 790l0 0M800 831l0 0M651 878l1 2M864 933l0 0M653 876l0 0M749 904l0 2M751 944l-1 1M877 917l-2 1M680 942l1 1M715 879l0 0M659 801l0 2M855 879l0 1M772 763l0 1M870 912l1 1M649 864l0 0M709 943l2 0M752 797l1 1M850 921l1 1M745 918l0 0M756 789l0 2M666 876l2 0" stroke="#5a5a5a" stroke-width="6"/>
<path d="M683 913l0 0M843 802l0 1M775 928l0 0M829 937l1 0M721 885l-1 2M844 852l0 1M826 794l-1 1M687 782l0 1M708 850l-1 1M762 762l-2 1M649 769l1 0M810 887l-1 1M877 924l-2 1M759 920l1 1M850 877l1 0M762 772l0 0M719 761l0 0M672 783l0 2M859 870l0 1M874 913l1 1M778 942l1 0M759 832l-1 2M660 860l-1 0M829 885l2 0M886 766l1 1M837 944l1 1M690 912l-2 1M795 848l0 0M710 806l0 1M785 927l0 0M691 922l0 1M736 806l0 1M869 807l0 0M661 886l1 2M862 778l-1 1M791 802l0 1M869 922l0 0M774 822l2 1M752 913l0 0M815 892l1 1M711 793l0 1M731 789l0 0M763 771l0 1M701 911l0 1M787 798l0 1M760 816l0 1M725 859l0 0M707 879l0 1M650 857l0 0M754 935l0 2M886 946l2 0M760 919l0 0M824 902l1 1M697 905l0 0M715 884l-1 1M848 784l0 2M885 774l1 2M687 925l0 1M891 875l0 0M661 877l0 0M896 877l0 1M680 793l0 1M893 886l0 0M692 902l-1 1M807 927l-1 1M711 769l1 2M819 763l0 0M862 850l1 0M837 942l1 0M787 761l-2 0M662 866l-1 1M685 937l0 2M691 837l0 1M794 778l0 0M747 794l0 1M688 771l2 0M755 830l-1 1M782 937l2 0M828 807l0 0M702 774l0 0M886 765l-1 0M828 938l1 0M872 785l-1 0M719 785l1 0M888 760l0 0M759 777l2 1M649 912l1 1M855 813l0 0M661 927l0 0M846 912l0 1M828 792l0 0M824 832l0 0M782 764l0 0M799 870l0 1M826 843l-2 0M863 942l0 1M869 776l1 1M888 879l-1 0M859 785l2 1M827 849l1 1M858 782l1 0M729 915l0 0M845 899l-1 1M748 930l0 2M764 800l1 0M714 797l2 0M850 783l1 0M659 859l0 1M817 893l1 1M773 829l-2 0M746 764l1 0M671 798l0 1M844 896l-1 1M754 782l1 0M766 900l0 0M890 876l0 0M762 899l0 0M707 778l0 0M737 869l0 0M766 768l0 0M887 781l0 1M704 943l-1 0M883 909l0 0M726 927l0 1M778 845l-1 1M670 813l-2 1M702 832l0 0M880 938l2 1M784 939l0 1M727 770l0 1M894 781l0 1M874 792l-1 0M814 850l-1 0" stroke="#646464" stroke-width="6"/>
<path d="M852 781l1 0M672 780l1 1M671 815l1 2M871 924l1 0M805 880l-2 0M651 890l-1 0M755 787l0 0M797 880l-1 1M672 784l1 0M758 878l-1 1M854 910l-1 1M696 791l1 0M783 865l0 0M669 770l0 1M870 934l0 0M860 882l0 1M748 935l0 0M741 770l1 1M834 938l0 1M860 923l-2 1M749 863l1 1M892 895l1 1M653 862l-1 0M870 887l0 0M768 768l2 0M717 780l1 1M868 868l0 0M738 919l0 1M773 944l0 1M766 909l1 0M750 915l-2 0M706 828l0 1M732 929l1 1M719 792l0 0M653 816l-1 1M682 906l0 1M700 894l0 0M753 870l0 0M824 870l-1 2M888 933l0 0M718 911l0 1M837 944l0 1M769 889l0 0M660 822l-1 1M662 828l-2 0M724 770l1 2M857 889l0 1M854 885l0 1M683 941l1 1M892 787l0 0M818 784l1 0M735 917l0 0M803 763l-1 1M726 874l-1 0M870 945l0 1M870 808l0 0M748 803l-2 1M853 933l1 1M710 902l0 0M849 788l0 1M814 840l0 0M714 777l0 1M648 847l2 0M758 886l1 0M761 892l0 1M890 839l-1 1M725 892l-1 1M705 892l0 1M791 808l0 1M722 900l-1 0M814 760l0 1M863 905l0 0M772 937l-2 0M809 941l0 0M786 761l0 2M689 829l2 1M803 786l0 0M770 776l1 0M699 832l1 2M867 888l2 1M748 771l1 1M695 937l1 1M678 843l0 0M793 793l2 0M824 885l0 1M783 773l-1 1M860 765l-1 0M655 859l1 0M750 882l0 1M723 777l-1 1M774 770l1 1M794 943l-1 2M765 804l-2 1M772 801l2 0M894 774l1 2M708 911l0 0M869 875l1 1M819 834l-2 0M702 904l0 0M856 921l0 0M832 889l0 1M793 872l-1 1M893 798l0 0M709 779l-1 1M853 777l0 0M825 863l0 1M680 827l0 2M783 871l0 0M844 868l-1 2M736 924l-1 0" stroke="#6e6e6e" stroke-width="6"/>
<path d="M834 762l0 0M821 810l0 0M656 849l0 1M697 790l0 0M662 923l2 1M826 930l0 1M862 835l0 2M699 820l1 1M821 800l-1 1M665 846l0 1M823 763l0 0M706 810l0 0M663 925l0 0M864 826l0 1M841 927l0 0M801 791l0 1M794 805l1 1M765 868l0 0M766 853l0 0M780 872l0 0M677 905l0 1M786 850l0 1M858 829l-2 0M821 903l0 0M698 791l0 0M791 880l0 0" stroke="#787878" stroke-width="6"/>
<path d="M692 792l-1 1M851 845l1 2M719 850l1 0M704 797l1 1M777 864l0 0M725 850l-1 0M890 829l0 0M666 848l-1 0M766 879l-1 0M891 826l1 1M652 848l1 1M783 876l-1 0M880 828l0 0M678 799l-2 1M651 835l-1 2M819 777l1 0M871 814l1 0M749 846l-1 1M847 822l1 0M865 821l1 1M764 873l0 0M847 831l0 1M661 826l0 1M738 839l-1 0" stroke="#828282" stroke-width="6"/>
<path d="M818 906l1 0M769 858l0 0M680 916l-1 0M753 844l0 0M866 836l2 0M796 870l0 2M890 822l1 1M785 859l0 0M661 915l1 1M656 856l0 1M802 829l1 1M697 803l-1 1M829 928l-1 1M698 811l-1 1M865 834l-1 1M788 874l0 1M870 833l-1 1M687 826l0 0M664 913l0 2M694 806l0 0M702 813l-2 1M788 881l0 0M838 765l0 0M700 800l1 0" stroke="#8c8c8c" stroke-width="6"/>
<path d="M831 768l2 1M864 825l0 1M817 791l1 0M681 805l0 0M878 849l1 0M842 915l-1 1M870 827l-1 0M789 865l0 1M877 834l0 1M670 920l0 0M774 874l-1 1M679 804l1 1M857 829l0 0M814 814l0 1M813 788l2 1M718 841l1 0M778 874l1 0M687 812l1 0M857 826l-1 2M668 903l0 0M680 922l0 0M866 851l1 0M802 831l-1 2M665 906l-1 0M891 827l-1 1" stroke="#969696" stroke-width="6"/>
<path d="M874 820l0 0M659 850l1 0M863 835l0 1M860 814l0 0M743 845l0 0M680 910l0 0M815 796l0 1" stroke="#a0a0a0" stroke-width="6"/>
<path d="M686 794l1 0M697 808l1 0M883 826l0 2M867 831l0 2M828 923l0 0M829 778l-1 0M808 794l0 0M656 845l-1 1M829 779l0 1M690 823l1 1M728 828l0 0M836 925l0 2" stroke="#aaaaaa" stroke-width="6"/>
<path d="M730 843l0 0M832 778l0 0M829 764l1 1M841 770l1 0M700 814l1 0M689 799l-1 0M815 806l0 2" stroke="#b4b4b4" stroke-width="6"/>
<path d="M805 817l1 0M798 815l1 1M807 800l0 0M798 813l0 1M815 808l-1 1" stroke="#bebebe" stroke-width="6"/>
<path d="M809 817l0 0M800 820l1 1M803 813l0 0M695 798l-1 0" stroke="#c8c8c8" stroke-width="6"/>
<path d="M694 864l0 1M689 877l0 0" stroke="#323232" stroke-width="5"/>
<path d="M803 913l-1 1M701 856l0 1M681 865l0 0M797 901l-1 1M684 869l1 1M677 875l0 1M683 881l0 0M685 856l-1 0M698 853l-1 1M680 872l0 0M692 872l0 0M698 876l1 0M789 910l-1 1M688 878l1 1M749 821l0 0" stroke="#3c3c3c" stroke-width="5"/>
<path d="M728 812l1 1M781 843l-1 0M783 906l-1 1M787 922l-1 1M679 853l1 0M797 896l0 1M770 818l-1 0M701 878l0 1M797 920l-1 2M692 883l-1 1M747 822l0 0M750 821l0 0M727 822l0 0M687 881l1 1M726 823l0 0M803 915l1 1M717 818l0 0M779 921l0 1M694 858l-1 0" stroke="#464646" stroke-width="5"/>
<path d="M864 793l1 0M673 842l0 1M704 825l1 1M783 894l0 0M687 909l1 0M783 896l0 0M818 860l-2 1M717 803l1 0M835 833l1 1M880 788l0 1M703 898l1 0M876 869l0 0M889 807l0 0M801 930l0 2M787 775l1 0M885 871l0 0M666 802l1 0M879 935l0 1M726 784l-2 0M852 939l0 0M831 943l1 1M737 863l0 1M704 920l-1 0M844 850l0 0M719 769l1 0M801 912l-2 0M713 924l0 0M838 853l0 0M739 803l0 0M704 925l0 0M823 847l-2 0M681 781l0 0M712 802l1 1M885 887l0 0M699 782l0 0M859 891l-1 0M701 920l-1 1M782 912l1 1M865 773l-1 1M738 760l1 1M723 926l1 0M660 777l0 0M869 930l0 0M710 859l0 1M862 802l0 0M769 779l-1 0M737 901l0 1M865 897l1 0M747 914l-1 0M854 768l0 0M894 915l0 0M721 923l1 0M786 940l0 1M710 943l1 1M729 868l0 0M763 803l0 1M872 867l0 2M795 783l-1 0M832 792l0 2M781 907l0 0M717 778l0 0M780 767l0 0M716 930l0 0M694 901l0 1M781 887l0 2M777 810l2 0M757 814l1 1M709 943l0 1M788 926l0 0M737 873l0 0M648 929l1 1M865 870l-1 1M683 844l1 1M880 927l1 0M748 817l0 1M884 937l0 0M701 882l0 2M679 894l1 0M882 802l0 0M890 770l-1 1M674 844l0 0M648 811l1 2M805 877l0 0M751 910l0 0M769 837l2 0M767 844l-1 1M700 843l1 1M734 771l-1 1M878 883l-1 1M784 798l0 2M772 907l0 0M737 900l0 1M755 885l0 0M758 764l1 0M885 856l0 1M671 830l0 0M880 911l0 2M701 883l-2 0" stroke="#505050" stroke-width="5"/>
<path d="M703 795l1 1M897 905l0 0M786 826l0 0M769 820l0 0M769 902l0 0M790 840l-1 1M707 788l0 1M746 888l0 0M777 887l0 0M751 769l0 1M773 922l-1 0M826 946l0 1M818 788l-1 0M874 893l0 1M656 888l0 0M729 905l-1 2M884 858l0 1M880 903l0 1M814 764l1 1M815 841l0 1M761 942l0 0M878 934l-1 1M866 927l-1 1M870 940l0 1M771 918l0 0M818 783l-1 0M862 912l0 0M792 910l0 0M649 892l0 0M816 882l-2 1M681 788l0 1M819 762l1 1M850 934l1 0M865 801l0 1M655 927l0 1M714 784l1 0M743 919l0 0M832 788l0 1M807 917l-1 1M807 781l-1 0M851 872l0 2M751 882l0 1M746 875l-1 1M659 903l0 0M827 934l0 2M897 789l0 0M698 936l0 1M732 903l0 1M654 885l0 0M782 781l1 1M750 792l0 0M844 844l-1 0M704 934l-1 0M725 796l-1 1M708 934l-1 0M889 899l-1 0M661 879l-2 0M759 840l0 0M815 899l0 0M854 937l0 0M705 843l1 1M730 858l-1 1M653 900l0 1M761 829l-1 1M829 827l0 1M812 902l0 1M700 937l0 1M699 773l-1 0M867 918l-1 1M806 882l0 0M869 886l0 0M751 862l0 1M672 780l0 1M831 857l-1 1M848 859l0 0M888 941l-1 0M649 861l0 1M720 799l0 0M755 824l0 0M756 919l-1 2M705 789l0 0M885 858l0 0M809 771l-1 1M882 857l0 0M745 941l0 0M762 903l1 1M739 884l0 1M845 819l0 0M699 936l-1 0M696 922l-1 1M808 893l0 0M767 883l-1 1M829 902l0 0M656 911l0 2M815 859l0 0M703 888l-1 1M793 883l0 0M779 778l-1 1M734 884l0 1M657 907l1 0M740 813l0 0M773 942l0 1M674 828l0 0M718 790l0 1M861 865l1 0M648 783l0 0M856 872l0 0M652 801l-1 1M767 940l0 0M775 942l0 0M792 920l0 2M787 794l0 0M793 941l0 0M756 900l-1 0M743 895l0 0M731 886l1 1M770 889l-1 0M763 801l0 0M652 775l1 1M784 821l0 0M700 827l0 1M709 935l0 0M832 845l0 0M764 780l-1 1M719 854l-1 0M800 928l-1 0M764 830l1 1M677 832l0 0M674 941l0 0M889 887l0 0M806 765l0 0M654 943l1 0M688 772l0 0M867 932l0 0M889 785l-1 1M867 945l-1 0M837 869l0 0M797 784l0 1M814 937l-1 1M858 908l2 0M739 915l1 1M785 844l1 1M865 867l-2 0M719 939l0 1M660 933l0 0M829 897l0 0M747 884l1 0M804 882l0 0M758 896l0 0M749 894l0 1M750 897l0 0M739 887l0 0M786 784l0 0M862 900l-1 0M751 876l0 0M672 937l1 0M886 794l0 0M765 910l0 1M843 904l0 0" stroke="#5a5a5a" stroke-width="5"/>
<path d="M876 868l0 0M842 800l1 0M749 767l0 0M845 791l0 0M889 907l-1 1M720 922l0 0M816 851l0 0M760 938l-1 0M795 795l0 1M689 910l0 1M684 898l1 0M769 899l0 1M861 760l1 0M717 799l1 0M779 825l0 0M794 840l0 1M859 907l-1 1M823 810l1 0M825 854l0 0M762 935l1 1M848 782l0 1M793 796l1 1M773 823l-1 0M712 813l-1 1M844 783l0 1M677 935l-1 1M652 876l1 0M753 794l0 0M810 769l-1 1M659 775l1 2M868 792l0 0M669 836l0 1M807 942l0 1M825 842l1 1M661 784l0 1M793 788l0 2M873 878l0 0M795 789l0 0M653 775l0 0M671 837l-1 0M694 939l-1 1M770 802l0 0M760 889l1 1M865 853l0 1M847 901l0 1M873 863l0 0M859 857l0 1M660 802l0 0M792 794l-1 0M717 926l0 0M891 930l0 0M761 838l1 1M858 913l1 0M708 858l1 0M730 796l0 0M723 773l0 1M779 930l0 0M877 869l-1 0M700 900l0 0M839 780l0 0M711 858l2 0M648 805l1 0M745 920l-1 0M897 761l1 1M883 898l1 0M840 942l1 1M828 942l0 0M754 903l-1 0M726 912l0 0M827 870l0 0M789 930l0 1M857 868l0 1M814 765l1 0M764 808l1 0M833 902l1 1M673 894l0 1M808 887l1 0M871 928l-1 1M702 942l0 2M792 935l-1 1M880 926l1 1M692 943l0 0M792 820l-1 0M721 851l1 1M814 832l0 0M895 853l0 1M663 886l0 1M880 766l-1 1M762 858l0 0M660 769l0 0M672 891l1 1M749 792l0 1M824 832l0 0M829 843l0 0M773 821l2 1M888 863l1 0M897 766l0 0M815 890l0 0M716 795l-1 1M766 761l0 2M678 937l2 0M886 915l0 0M897 762l-1 0M727 786l1 0M877 782l-1 1M770 945l0 0M825 802l1 0M850 790l-1 0M742 811l-1 0M728 774l1 0M880 860l0 0M662 894l-1 1M680 941l0 0M654 906l2 0M687 899l0 1M889 946l0 1M832 831l0 1M770 794l-1 0M655 893l0 1M655 859l0 1M651 886l-1 0M830 850l0 0M715 805l0 1M736 764l-1 1M893 842l0 0" stroke="#646464" stroke-width="5"/>
<path d="M734 925l0 0M736 908l1 1M654 788l1 1M792 764l1 0M796 864l0 0M677 890l-1 1M772 774l0 0M702 832l0 0M687 842l-1 1M721 760l-1 1M868 906l-1 0M706 889l-1 0M827 853l0 1M877 908l0 0M746 922l0 0M780 770l-1 1M753 902l-1 0M865 780l-2 1M727 867l-1 0M818 763l0 0M897 814l-1 1M765 866l-2 0M675 841l1 0M681 833l1 1M829 902l1 1M774 930l-1 0M852 846l1 1M895 928l2 1M709 766l1 0M848 760l1 0M662 893l0 1M700 783l0 0M872 812l0 0M886 876l0 0M856 921l1 1M866 780l1 1M840 876l1 0M831 833l0 0M846 841l0 0M832 864l0 0M890 907l-1 0M708 910l0 0M870 930l0 0M751 852l-1 0M863 761l1 0M670 934l0 0M667 850l0 0M728 799l1 0M718 795l0 1M697 772l0 0M727 810l0 1M731 763l0 1M673 886l-1 0M799 881l0 0M855 871l0 1M813 929l1 1M744 918l0 1M879 854l0 1M694 766l0 0M832 760l1 1M702 762l0 0M659 941l1 0M753 923l0 1M847 869l0 0M780 769l0 0M888 769l0 1M729 857l0 2M838 812l0 0M838 881l1 1M893 805l0 1M727 874l0 1M791 857l0 0M851 907l0 0M654 819l1 0M887 881l1 0M824 818l0 0M649 884l-1 0M710 919l-1 0M654 895l0 0M786 779l-1 0M770 768l0 0M891 776l-1 1M659 894l0 0M829 807l0 0M862 786l2 0M711 768l-1 1M709 942l-1 1M649 868l0 0M853 805l1 1M872 878l0 0M871 770l1 1M736 773l0 0M761 853l0 1M881 806l0 2M885 863l1 1M829 831l-1 0M712 806l0 0M795 821l-1 0M761 792l0 1M655 897l-1 0M720 886l2 0M777 843l1 1M751 909l-1 2M876 768l0 0M809 766l0 0M773 874l1 0M758 901l0 0" stroke="#6e6e6e" stroke-width="5"/>
<path d="M794 816l1 1M893 838l0 1M772 867l-1 0M878 831l1 0M661 831l0 1M826 931l-1 1M847 830l1 1M713 840l1 1M842 835l-1 1M820 792l-1 0M844 840l-1 1M755 834l-1 1M762 856l0 0M858 828l1 0M817 930l0 0M866 805l0 0M682 919l0 1M849 823l1 0M865 823l0 0M667 837l2 1M787 867l1 1" stroke="#787878" stroke-width="5"/>
<path d="M815 827l0 0M796 870l1 1M879 846l0 0M870 842l0 1M675 919l0 1M860 830l0 1M700 806l0 0M768 860l-1 0M779 873l1 1M854 843l-1 1M834 762l0 1M840 778l0 0M762 874l-1 1M681 915l0 1M832 761l0 0M732 826l-1 1M779 864l0 1M668 910l0 0M797 862l1 1M762 874l1 1M797 823l0 0M755 838l1 0" stroke="#828282" stroke-width="5"/>
<path d="M774 856l1 1M656 849l1 0M652 832l1 0M792 869l-1 0M892 837l1 1M817 818l1 0M735 838l-2 1M795 819l0 1M734 853l0 0M754 843l-1 1M664 908l0 1M823 907l0 1M766 865l0 0M789 859l0 1M681 911l1 1M794 864l-1 1M663 846l0 0M878 851l0 1M793 811l1 1M700 796l-1 0M661 831l1 1M680 918l1 1" stroke="#8c8c8c" stroke-width="5"/>
<path d="M846 768l0 1M682 807l0 1M826 769l0 0M845 774l0 1M876 819l0 0M798 794l1 1M841 912l-1 1M676 926l0 0M862 819l0 1M833 775l-1 0M695 793l0 0M863 849l-1 1M806 797l0 0M808 804l1 0" stroke="#969696" stroke-width="5"/>
<path d="M819 773l0 0M742 848l-1 1M855 842l0 0M800 825l-1 1M886 822l-1 1M756 839l0 0M836 921l-1 1M688 809l1 0M742 828l0 1M822 905l1 1M811 794l0 1" stroke="#a0a0a0" stroke-width="5"/>
<path d="M822 928l0 1M690 807l0 0M818 799l0 0M798 798l0 1" stroke="#aaaaaa" stroke-width="5"/>
<path d="M685 801l0 0M733 828l0 0M745 847l0 0M811 791l1 1M802 800l1 1M808 791l0 0" stroke="#b4b4b4" stroke-width="5"/>
<path d="M736 840l0 2M733 849l1 1M728 842l-2 0M688 806l0 0M808 814l0 0" stroke="#bebebe" stroke-width="5"/>
<path d="M827 912l-1 1M803 803l0 0M829 923l1 1M693 819l0 0" stroke="#c8c8c8" stroke-width="5"/>
<path d="M801 807l0 0M804 820l-1 1M825 919l0 0" stroke="#d2d2d2" stroke-width="5"/>
<path d="M678 876l0 1M691 877l1 1M724 822l0 1M674 863l0 1M687 863l0 0" stroke="#323232" stroke-width="4"/>
<path d="M707 819l0 0M794 911l0 1M695 859l0 1M694 881l-1 1M681 856l0 1M724 820l0 0M678 865l0 0M686 862l1 1M740 822l1 1" stroke="#3c3c3c" stroke-width="4"/>
<path d="M803 908l0 0M799 924l-1 0M704 871l0 0M692 876l-1 1M698 874l0 1M769 819l0 1M741 821l0 0M790 924l0 0M684 850l0 1M804 921l0 0M676 853l0 1" stroke="#464646" stroke-width="4"/>
<path d="M761 790l0 0M751 915l1 1M676 826l0 0M749 785l0 0M809 875l0 0M728 856l-1 1M752 907l-1 1M733 909l-1 1M675 766l0 0M769 928l0 0M830 838l0 1M677 838l0 0M776 770l0 1M716 908l-1 0M767 919l0 1M757 919l-1 1M778 763l0 0M767 916l0 0M743 782l0 1M768 813l1 0M728 932l0 1M871 940l-1 1M664 763l1 0M808 912l0 1M739 913l1 1M890 911l0 0M838 816l0 0M680 849l1 0M888 933l0 0M756 785l0 1M852 926l0 0M791 898l-1 0M652 871l0 0M758 932l1 1M675 780l0 1M736 766l1 1M709 892l0 1M767 818l1 0M658 789l1 0M672 858l0 0M833 830l0 1M857 884l0 0M709 854l1 0M744 903l0 0M811 854l1 0M774 847l1 0M693 768l-1 0M766 937l1 0M679 761l-1 1M749 775l0 1M873 784l1 0M654 870l-1 1M860 869l0 0M891 935l0 0M723 805l1 1M847 890l-1 1M690 931l1 0M739 766l0 1M745 763l1 0M666 794l0 0M858 908l0 1M809 775l0 0M703 776l0 0M730 861l1 0M797 902l0 1M747 864l0 0M827 880l0 0M888 796l0 1M729 774l-1 0M649 763l0 0M704 772l0 0M882 925l-1 0M651 898l0 0M736 886l0 1M867 937l0 0M772 908l1 1M746 800l-1 1M672 822l0 0M780 886l-1 0M764 854l1 0M801 768l0 1M773 771l1 0M783 805l-1 0M707 901l0 1M721 942l1 0M760 829l0 0M686 840l1 1M677 837l0 0M856 778l0 1M672 834l0 1M809 854l0 2M648 896l0 1M869 764l1 0M706 875l-1 0M892 766l0 1M707 927l0 0M778 895l-1 1M861 912l1 0M876 915l0 0M809 762l-1 0M661 769l-1 1M723 940l1 0M821 788l0 0M879 804l0 0M768 920l0 0M684 848l0 0M710 788l0 0M833 815l1 0M719 819l0 0M818 782l-1 1M746 777l0 1M783 901l1 0M812 857l0 0M848 906l-1 0M875 894l0 0M717 821l1 0M774 842l0 0M887 791l0 1M696 831l0 0M842 825l0 0M662 796l0 1M853 919l0 0M706 839l0 0M873 793l1 1M746 789l1 0M680 849l0 0M847 919l1 1M754 815l1 0M766 916l1 0M808 845l-1 1" stroke="#505050" stroke-width="4"/>
<path d="M878 915l1 0M776 800l0 0M826 803l1 1M760 831l0 1M849 785l0 0M883 894l-1 1M740 890l0 0M694 913l0 0M651 921l0 1M802 837l0 0M711 917l-1 1M674 766l1 1M662 872l0 0M771 779l0 0M862 883l-1 0M802 936l1 1M890 901l-1 1M689 779l1 0M708 774l0 0M722 891l0 1M720 944l0 0M688 777l0 0M702 784l0 0M732 774l1 1M882 802l1 0M865 934l0 0M758 857l1 1M788 795l0 0M750 776l0 0M721 777l0 0M697 894l-1 0M870 856l0 0M774 765l0 1M670 816l-1 0M725 864l0 0M736 809l1 0M759 828l0 1M657 782l0 0M653 883l0 1M797 942l0 1M705 928l-1 0M844 844l0 1M787 784l0 0M701 926l1 1M722 926l-1 1M838 836l0 0M870 865l0 0M873 893l0 0M891 805l0 0M671 942l0 1M851 922l-1 0M755 942l0 0M669 932l0 0M669 782l0 0M769 911l0 0M706 791l-1 1M804 889l-1 0M710 852l1 1M849 780l0 0M844 873l-1 0M798 912l0 1M838 855l0 0M654 800l1 1M873 786l-1 1M755 890l-1 0M797 829l0 1M694 768l1 1M817 873l0 0M722 853l-1 0M745 938l-1 1M859 941l0 0M739 932l0 1M707 943l0 0M807 891l-1 1M738 760l-1 0M670 889l0 1M704 793l0 0M822 849l0 1M775 794l0 0M885 879l1 1M734 825l0 1M842 941l-1 1M842 844l-1 1M771 915l1 0M717 869l0 0M723 940l1 0M666 898l0 1M690 911l0 0M773 838l0 0M766 793l0 1M828 877l1 0M787 883l1 1M867 934l0 0M772 772l-1 0M855 866l-1 0M703 854l-1 0M825 932l0 0M890 815l1 1M865 942l0 0M724 857l1 1M856 856l0 0M839 798l1 1M877 893l0 0M865 887l0 1M834 832l-1 0M652 780l-1 1M685 845l-1 1M728 897l0 0M734 764l0 0M881 890l0 1M729 899l0 1M757 853l1 0M660 876l0 0M879 863l-1 1M758 762l0 1M848 861l1 0" stroke="#5a5a5a" stroke-width="4"/>
<path d="M799 935l0 1M777 940l0 1M773 803l-1 1M659 776l-1 1M680 906l-1 0M759 799l1 0M864 916l-1 0M817 891l0 0M867 879l0 1M725 767l0 0M656 885l-1 0M696 768l1 0M776 775l0 1M769 917l-1 0M652 859l0 0M777 792l0 0M721 769l-1 0M825 862l0 1M687 836l0 0M799 784l0 1M889 864l-1 0M652 869l-1 0M820 791l-1 1M722 882l1 0M891 822l0 0M711 834l0 1M742 810l0 1M854 883l-1 0M721 922l0 1M894 893l-1 0M832 876l0 0M875 773l1 1M879 779l0 1M884 885l0 0M848 873l-1 0M889 812l0 0M684 841l0 0M893 875l0 0M674 794l1 0M703 931l1 0M692 928l0 0M763 852l-1 0M659 873l0 1M808 919l1 0M748 784l0 1M676 945l-1 0M876 768l1 0M802 869l0 1M857 810l0 0M844 938l1 0M798 790l1 0M754 945l-1 1M648 858l0 0M757 781l-1 0M809 837l-1 0M877 780l0 0M700 776l0 1M773 810l-1 0M892 868l0 1M873 776l0 1M717 811l0 1M771 922l1 0M662 783l0 0M656 786l-1 0M816 849l-1 1M775 771l0 0M677 929l-1 0M810 853l-1 0M801 848l0 1M834 843l0 1M692 785l0 1M664 876l0 0M777 833l0 0M683 762l0 0M725 920l0 0M737 762l0 0M653 894l0 0M876 945l0 0M770 841l1 1M681 840l0 0M675 936l1 1M874 760l0 0M874 792l0 0M807 929l0 1M693 910l0 0M884 857l1 0M858 788l1 1M668 829l0 0M655 935l1 1M881 926l1 1M888 782l0 1M847 909l0 0M860 903l0 1M888 921l-1 0M704 849l1 1M782 844l0 1M753 917l-1 1M848 843l1 1M890 922l0 0M674 817l0 1M784 805l0 0M822 850l1 0M787 817l-1 1M686 765l0 1M875 761l0 0M824 892l1 0M685 784l0 0M810 860l0 1M653 767l1 0M755 845l1 0M671 851l-1 1M871 764l1 1M892 869l-1 1M755 891l1 0M846 764l0 0M747 893l0 0M758 891l0 1M822 786l0 1M766 921l0 1M862 878l0 1M743 883l0 1M858 798l-1 0M684 785l1 1M656 858l0 0M763 855l-1 0M867 876l0 0M740 919l0 0M830 814l0 1M890 799l0 0M733 900l0 0M785 843l0 1M769 883l0 1M755 877l-1 0M746 812l0 0M727 900l0 0" stroke="#646464" stroke-width="4"/>
<path d="M887 786l0 0M756 810l0 0M792 802l0 0M744 812l0 1M862 916l1 1M772 787l1 0M829 880l0 0M737 895l0 1M717 943l0 1M854 883l0 0M846 794l0 0M759 825l0 0M760 903l1 1M822 826l0 0M740 920l0 1M739 880l1 1M751 891l-1 0M660 806l-1 0M668 934l0 0M800 771l-1 0M653 803l-1 1M710 892l0 1M730 779l1 0M870 883l0 0M652 930l-1 1M733 893l0 0M786 792l1 1M862 902l-1 1M713 787l0 0M868 888l0 0M852 778l0 1M854 935l0 0M893 873l1 0M876 939l0 0M885 775l0 1M796 771l-1 0M882 897l0 1M845 782l0 1M765 778l0 0M866 895l0 1M808 855l-1 0M710 921l-1 0M860 797l0 1M885 787l0 1M810 933l0 0M748 777l0 0M658 903l0 0M855 920l-1 1M755 877l0 0M662 803l1 1M836 930l0 0M796 861l0 0M703 943l0 0M860 901l0 0M875 939l0 0M777 780l0 0M792 820l0 0M662 893l0 1M764 784l0 0M863 760l0 1M758 880l0 0M807 942l1 0M765 892l0 0M893 920l0 1M709 901l-1 1M847 909l0 0M707 778l0 1M705 788l1 0M774 779l1 1M832 761l0 0M767 897l0 0M826 941l0 0M777 785l0 1M876 902l0 0M704 936l1 1M656 928l0 0M804 872l-1 0M778 786l1 0M877 793l1 1M664 875l0 0M842 930l-1 0M836 823l0 0M690 767l0 1M666 887l0 1M681 895l0 1M809 852l-1 0M867 861l1 1M878 884l0 0M753 884l0 0M886 840l1 0M840 817l1 1M866 800l1 1M755 943l1 1M772 920l1 0M799 876l0 0M749 766l-1 0M739 804l1 1M835 891l0 1M854 786l0 0M716 828l1 1M659 815l-1 1M771 934l0 0" stroke="#6e6e6e" stroke-width="4"/>
<path d="M839 781l0 1M853 850l0 0M850 829l0 1M676 929l0 1M823 821l0 0M856 825l0 1M782 882l0 0M684 825l0 0M869 805l0 0M854 812l0 1M663 828l0 0M814 767l0 1M884 811l-1 1M790 854l0 0M876 823l0 1M746 826l-1 1M801 787l-1 0" stroke="#787878" stroke-width="4"/>
<path d="M769 868l1 0M772 883l1 0M673 928l0 1M787 877l-1 0M885 824l0 1M833 927l0 0M815 792l0 1M857 837l0 0M799 823l1 1M857 816l1 0M793 877l0 1M732 829l0 1M864 839l0 0M766 872l0 0M892 825l0 1M787 854l0 0M841 914l0 1M845 827l1 0" stroke="#828282" stroke-width="4"/>
<path d="M749 847l0 0M690 812l-1 0M668 927l0 0M652 850l0 0M885 812l0 1M867 818l0 0M848 774l0 1M695 800l0 0M669 902l-1 0M660 838l0 0M701 815l1 1M841 778l0 0" stroke="#8c8c8c" stroke-width="4"/>
<path d="M697 799l-1 0M851 831l-1 0M728 852l-1 0M687 821l0 0M854 838l1 0M845 776l-1 0M855 819l0 0M841 911l0 0M881 815l0 0M657 843l-1 1M662 910l0 0M826 906l0 1M806 800l-1 1M721 830l0 1M836 779l-1 0" stroke="#969696" stroke-width="4"/>
<path d="M658 850l0 0M675 904l0 0M723 847l1 1M670 913l0 1M666 913l0 0M676 807l0 0M815 911l0 0M729 852l0 0M745 834l0 0M877 840l0 0M682 803l0 0" stroke="#a0a0a0" stroke-width="4"/>
<path d="M738 829l0 0M656 840l0 1M836 908l0 0M701 800l1 0M719 832l0 1M844 770l0 0M704 812l0 0M715 838l0 1M746 831l0 0M669 910l0 1M839 776l1 1M699 800l1 1M815 925l1 1" stroke="#aaaaaa" stroke-width="4"/>
<path d="M682 808l0 1M842 774l0 0M741 830l0 0M699 815l0 1M685 820l-1 0" stroke="#b4b4b4" stroke-width="4"/>
<path d="M817 919l-1 1M748 834l0 0M839 773l0 1M835 775l0 0M796 811l0 1" stroke="#bebebe" stroke-width="4"/>
<path d="M692 799l1 1M806 809l0 0M825 922l0 0M724 843l0 1" stroke="#c8c8c8" stroke-width="4"/>
<path d="M816 814l0 1" stroke="#d2d2d2" stroke-width="4"/>
<path d="M800 896l0 1M786 918l-1 1M677 849l-1 1M732 823l0 1M778 908l-1 0M670 857l1 0" stroke="#646464" stroke-width="4"/>
<path d="M857 897l-1 1M654 908l1 0M770 919l0 0M864 793l-1 1M699 774l0 0M777 891l0 0M720 785l1 1M858 926l0 1M751 862l0 0M794 832l0 0M687 777l0 0M761 928l-1 1M786 797l-1 1M857 942l-1 1M887 887l-1 0M817 866l1 0M748 916l0 0M895 877l0 1M735 937l1 1M742 875l0 1M753 813l0 0M721 859l0 1" stroke="#6e6e6e" stroke-width="4"/>
<path d="M848 788l0 0M730 787l0 1M724 942l-1 0M682 899l-1 1M685 839l0 1M668 777l-1 1M664 788l0 1M723 925l-1 1M887 790l-1 0M849 787l0 0M868 894l1 1M869 931l0 1M758 798l-1 1M767 759l1 0M820 845l-1 1M673 772l-1 1M775 847l0 0M674 895l-1 1M708 866l0 0M788 794l1 1M649 912l0 0M740 922l-1 0M861 910l-1 1M805 874l1 1M667 824l0 1M730 791l1 1M734 895l0 1M754 795l1 1M881 773l-1 1M694 783l-1 1M766 897l0 0M664 808l1 0M713 900l1 1M893 893l1 0M862 913l1 0M689 889l1 1M748 802l-1 1M772 790l0 0M850 859l0 1M802 878l1 1M892 939l-1 1M648 875l-1 1M694 909l0 1M770 925l1 1M814 840l0 0" stroke="#787878" stroke-width="4"/>
<path d="M660 876l1 1M857 764l1 1M865 893l-1 0M874 765l0 1M742 787l0 0M748 885l0 0M727 881l-1 1M828 780l-1 0M741 887l0 0M752 928l1 1M819 841l-1 1M750 865l0 1M803 862l0 0M851 888l1 1M806 875l-1 0M705 870l0 0M852 903l-1 1M850 780l-1 1M871 856l0 0M865 775l1 1M761 764l0 0M817 881l-1 1M807 850l-1 1M824 817l0 1M655 812l0 0M876 854l0 0M803 853l-1 1M820 861l1 1M828 795l1 1M854 856l0 1M782 885l0 0M654 862l-1 0M760 802l-1 1M737 774l0 0M873 929l0 1M670 939l0 0M737 795l1 1M691 782l1 1M735 920l0 0M726 881l1 1M651 921l1 1M651 887l1 0" stroke="#828282" stroke-width="4"/>
<path d="M649 838l0 1" stroke="#8c8c8c" stroke-width="4"/>
<path d="M657 909l0 1M805 782l1 0M788 879l-1 1" stroke="#969696" stroke-width="4"/>
<path d="M866 851l0 0" stroke="#a0a0a0" stroke-width="4"/>
<path d="M838 762l-1 1M790 877l-1 1M873 813l1 0M804 786l0 1" stroke="#aaaaaa" stroke-width="4"/>
<path d="M859 812l-1 0M841 918l0 0" stroke="#b4b4b4" stroke-width="4"/>
<path d="M671 902l0 1M875 826l0 1M857 835l-1 1M659 844l0 0M696 817l-1 1" stroke="#bebebe" stroke-width="4"/>
<path d="M730 828l0 0M698 812l-1 1" stroke="#c8c8c8" stroke-width="4"/>
<path d="M737 827l-1 0M698 803l-1 1M717 842l0 0" stroke="#d2d2d2" stroke-width="4"/>
<path d="M833 763l-1 1" stroke="#dcdcdc" stroke-width="4"/>
<path d="M673 861l0 0M696 865l-1 0M694 859l1 1M679 876l1 0M681 874l0 0M693 857l-1 0M679 876l0 0" stroke="#464646" stroke-width="3"/>
<path d="M713 818l1 0M681 864l0 0M692 878l0 1M693 850l-1 1M680 873l-1 1M717 819l-1 0" stroke="#505050" stroke-width="3"/>
<path d="M701 866l-1 0M788 907l-1 1M697 875l1 0M733 822l1 1M679 848l1 1M719 814l-1 1M780 906l0 0M726 812l-1 1M739 820l-1 0" stroke="#5a5a5a" stroke-width="3"/>
<path d="M803 912l-1 1M700 855l0 1M800 903l0 0M798 888l1 1M785 897l-1 1M780 888l-1 0" stroke="#646464" stroke-width="3"/>
<path d="M870 791l0 1M780 907l1 0M742 898l0 0M735 907l1 1M767 838l1 0M780 842l-1 0M786 921l-1 1M688 884l0 0M768 815l-1 0M853 909l-1 1M887 895l-1 1M762 892l-1 0M794 847l0 0M891 894l1 1M674 840l1 0M648 891l0 0M816 881l-1 1M704 827l-1 1M752 882l1 1M801 925l-1 1M890 854l0 1M719 773l0 1M773 821l1 1M702 932l0 1M850 938l0 1M786 797l0 1M707 933l-1 0M790 911l-1 1M820 900l1 1M649 856l0 0M801 780l0 1M894 914l0 1M795 788l0 0M773 916l-1 0M844 782l0 1M790 784l1 1M764 801l1 1M797 886l0 1M856 888l0 1M765 942l0 1M690 896l0 1M895 876l0 1M767 797l1 1M806 926l-1 1M875 906l1 1M656 868l0 0M684 936l0 1M737 759l1 1M814 836l-1 1M883 866l0 0M883 858l1 0M701 773l0 0M716 921l0 1M707 792l0 1M832 792l-1 1M871 784l-1 0M692 927l1 1M761 805l0 0M861 864l1 0M697 836l0 0M831 791l0 1M804 878l1 0M699 844l0 0M847 853l0 1M727 912l0 0M747 770l1 1M708 844l0 1M703 870l0 0M787 925l0 0M823 884l0 1M802 914l1 1M859 764l-1 0M836 871l0 0M679 941l1 1M851 805l0 1M662 862l0 0M843 895l-1 1M761 898l0 0M658 761l0 1M725 774l1 1M884 862l1 1M864 866l-1 0M765 826l-1 0M823 871l-1 1M648 863l0 0M771 906l0 0M766 836l-1 0M720 885l1 0" stroke="#6e6e6e" stroke-width="3"/>
<path d="M818 930l-1 1M837 831l0 0M851 780l1 0M842 801l0 1M670 814l1 1M729 938l-1 1M720 884l-1 1M754 791l-1 1M892 875l0 1M698 931l-1 0M719 921l0 0M686 781l0 1M789 839l-1 1M720 759l-1 1M700 766l0 0M757 877l-1 1M870 862l0 1M756 885l0 1M712 864l0 0M720 808l-1 1M876 907l0 0M754 882l-1 1M832 812l1 1M779 826l0 0M869 933l0 0M778 824l0 0M718 760l0 0M793 839l0 1M832 832l0 0M858 906l-1 1M885 765l1 1M859 922l-1 1M711 801l-1 0M748 862l1 1M767 943l-1 0M834 832l1 1M824 853l0 0M731 783l1 0M652 861l-1 0M886 920l0 1M861 911l0 0M709 805l0 1M770 810l0 0M819 761l1 1M647 855l-1 1M882 898l0 0M652 875l1 0M873 777l0 1M732 898l0 0M713 783l1 0M710 844l1 1M831 787l0 1M767 767l1 0M717 761l0 0M759 804l1 1M761 890l-1 1M781 784l0 0M709 766l1 0M730 788l0 0M731 903l0 1M661 892l0 1M701 910l0 1M703 893l-1 1M705 827l0 1M670 895l0 1M874 772l0 0M743 921l0 1M690 902l1 0M655 886l-1 0M755 821l-1 1M823 900l1 1M838 852l0 0M652 899l0 1M836 943l0 1M665 784l0 0M771 781l-1 0M810 932l0 1M781 839l0 0M717 925l0 0M772 921l1 0M746 930l-1 1M698 781l0 0M731 866l-1 0M811 780l0 1M717 794l0 1M850 854l-1 1M839 877l-1 1M818 787l0 1M722 772l0 1M710 767l1 1M725 786l1 1M765 840l0 1M744 940l0 0M825 759l-1 0M709 901l0 0M744 919l-1 0M682 902l0 0M722 925l1 0M808 871l-1 1M785 798l-1 1M746 793l0 1M882 897l1 0M827 806l0 0M865 922l0 1M840 926l0 0M775 797l1 1M768 778l-1 0M715 945l1 1M698 845l-1 0M813 759l0 1M722 936l-1 1M759 823l-1 0M845 911l0 1M691 767l0 1M650 813l0 0M763 808l1 0M871 867l0 1M894 850l-1 0M746 800l-1 1M657 816l0 1M808 886l1 0M771 761l-1 1M886 857l1 1M791 934l-1 1M730 885l1 1M859 783l1 1M880 767l0 1M844 933l-1 1M694 936l1 1M857 781l1 0M677 842l0 0M792 792l1 0M651 774l1 1M664 786l-1 1M675 784l0 1M739 796l0 1M659 898l-1 1M654 797l0 1M864 869l-1 1M713 796l1 0M785 778l-1 0M683 843l1 1M722 776l-1 1M749 877l-1 1M781 795l-1 0M658 893l0 0M677 936l1 0M649 882l0 0M693 931l0 1M732 936l1 1M883 936l0 0M816 892l1 1M772 828l-1 0M765 922l1 1M701 881l0 1M830 810l0 1M713 768l0 0M753 781l1 0M695 896l1 1M647 810l1 1M791 940l0 0M729 797l1 1M706 777l0 0M842 868l-1 1M766 767l0 0M768 836l1 0M833 806l-1 1M877 801l-1 0M848 759l1 1M670 784l1 1M699 843l1 1M895 942l1 1M729 766l0 1M777 844l-1 1M669 812l-1 1M761 791l0 1M849 920l1 1M738 886l0 0M785 783l0 0M887 877l-1 1M756 788l0 1M665 875l1 0" stroke="#787878" stroke-width="3"/>
<path d="M721 869l0 1M782 931l-1 1M830 825l0 0M834 893l1 1M890 798l1 1M676 889l-1 1M804 879l-1 0M686 908l1 0M701 831l0 0M648 872l-1 1M754 786l0 0M809 886l-1 1M658 879l0 0M834 836l1 0M692 834l1 0M813 887l-1 1M777 845l-1 1M752 901l-1 0M804 878l1 1M747 934l0 0M761 770l0 0M671 782l0 1M833 937l0 1M726 866l-1 0M728 904l-1 1M814 840l0 1M829 884l1 0M690 910l-1 1M702 897l1 0M715 936l1 0M855 923l-1 0M893 943l-1 0M874 764l0 1M768 902l0 1M869 886l0 0M836 856l-1 1M851 871l0 1M772 883l0 0M790 801l0 1M825 841l1 1M883 777l0 1M765 907l1 0M748 872l0 1M808 915l0 0M853 805l0 0M789 845l-1 1M737 862l0 1M657 873l1 0M885 875l0 0M874 767l0 0M738 802l0 0M831 855l1 0M759 888l1 1M857 802l1 1M703 769l1 1M891 854l0 1M769 769l1 1M864 855l1 1M864 938l0 0M687 924l0 1M849 879l0 0M660 876l0 0M702 824l0 1M670 933l0 0M750 896l-1 0M853 884l0 1M679 792l0 1M842 865l1 1M734 916l0 0M807 861l0 0M732 871l-1 1M810 844l0 0M892 885l0 0M731 762l0 1M869 944l0 1M818 762l0 0M732 937l0 0M747 802l-1 1M662 793l-1 0M890 765l0 0M749 805l0 1M814 839l0 0M667 782l0 1M848 897l0 0M880 884l0 0M655 910l0 1M814 858l0 0M794 784l0 0M885 764l-1 0M827 937l1 0M887 810l0 0M763 928l0 0M881 858l1 0M711 896l1 0M728 856l0 1M857 884l-1 0M730 857l-1 0M771 936l-1 0M827 791l0 0M751 873l0 0M747 772l-1 1M785 760l0 1M832 901l1 1M809 769l-1 0M759 894l-1 1M726 874l0 1M703 930l-1 1M716 789l-1 1M648 764l0 1M870 927l-1 1M670 767l-1 1M769 775l1 0M825 842l-1 0M856 909l0 1M755 899l-1 0M888 807l1 0M715 795l1 1M715 929l0 0M879 766l-1 1M887 878l-1 0M753 797l-1 0M880 856l0 0M855 795l0 0M769 789l0 0M863 932l0 0M782 772l-1 1M748 903l0 1M879 926l1 0M773 769l1 1M806 922l0 0M771 800l1 0M893 773l1 1M693 908l0 1M707 910l0 0M745 763l1 0M818 833l-1 0M765 899l0 0M865 922l0 1M804 876l0 0M661 893l-1 1M679 940l0 0M760 852l0 1M880 806l0 1M785 843l1 1M854 925l1 1M859 938l0 0M746 883l1 0M838 941l0 0M701 831l0 0M736 899l0 1M751 796l1 1M769 793l-1 0M895 774l0 0M783 938l0 1M651 885l-1 0M757 763l1 0M885 793l0 0" stroke="#828282" stroke-width="3"/>
<path d="M797 879l-1 1M891 836l1 1M695 790l1 0M842 911l1 0M696 789l0 0M828 901l1 1M837 904l1 1M766 882l-1 1M814 784l0 0M847 845l1 1M660 926l0 0" stroke="#8c8c8c" stroke-width="3"/>
<path d="M768 857l0 0M846 829l1 1M770 853l1 1M734 852l0 0M820 799l-1 1M667 849l0 0M854 812l0 0M797 861l1 1M790 856l0 0M661 824l-1 1M655 858l1 0M658 858l0 1M790 879l0 0" stroke="#969696" stroke-width="3"/>
<path d="M682 912l0 0M691 791l-1 1M889 821l1 1M808 833l0 1M825 929l0 1M755 833l-1 1M788 864l0 1M854 841l0 0M705 809l0 0M752 845l0 0M889 838l-1 1M797 793l1 1M841 911l-1 1M686 825l0 0M764 867l0 0M798 869l0 1M779 871l0 0M799 830l0 0M761 873l1 1M846 821l1 0M846 830l0 1M890 826l-1 1" stroke="#a0a0a0" stroke-width="3"/>
<path d="M773 855l1 1M845 767l0 1M878 845l0 0M792 859l-1 0M655 848l0 1M660 830l0 1M713 839l1 1M862 834l0 1M876 833l0 1M862 849l1 0M680 914l0 1M651 847l1 1M863 827l1 1M655 844l-1 1M879 827l0 0M777 873l1 0M866 850l1 0M656 856l-1 1M664 905l-1 0" stroke="#aaaaaa" stroke-width="3"/>
<path d="M771 868l1 1M782 864l0 0M700 797l1 1M795 869l0 1M833 761l0 1M717 847l1 1M875 818l0 0M767 868l0 1M800 790l0 1M695 792l1 1M812 787l1 1M727 827l0 0M677 798l-1 1M679 917l1 1" stroke="#b4b4b4" stroke-width="3"/>
<path d="M735 839l0 1M679 915l-1 0M865 835l1 0M861 834l0 1M754 836l0 0M822 772l1 1M802 828l1 1M866 830l0 1M880 829l1 0M831 770l-1 0M657 853l-1 0M693 805l0 0M840 769l1 0M798 797l0 1M883 822l-1 0M856 825l-1 1M857 828l-1 0M660 831l1 1" stroke="#bebebe" stroke-width="3"/>
<path d="M655 848l1 0M752 843l0 0M729 842l0 0M659 849l1 0M803 812l0 0M660 914l1 1M669 919l0 0M664 845l0 1M696 802l-1 1M673 919l1 1M806 799l0 0M689 822l1 1M717 840l1 0M688 798l-1 0M814 795l0 1M837 764l0 0M835 924l0 1" stroke="#c8c8c8" stroke-width="3"/>
<path d="M835 913l-1 1M800 818l1 1M836 920l-1 1M835 777l0 0" stroke="#d2d2d2" stroke-width="3"/>
<path d="M686 808l0 0M697 807l1 0M811 799l0 0M829 763l1 1M825 912l1 0M825 916l1 0M814 805l0 1" stroke="#dcdcdc" stroke-width="3"/>
<path d="M799 819l1 1M827 922l0 0M813 813l0 1M817 809l0 0" stroke="#e6e6e6" stroke-width="3"/>
<path d="M805 796l0 0" stroke="#f0f0f0" stroke-width="3"/>
<path d="M678 853l1 0M684 855l-1 0M686 861l1 1" stroke="#464646" stroke-width="2"/>
<path d="M677 876l0 1M697 874l0 1M750 820l0 0M723 819l0 0M677 865l0 0M688 876l0 0M697 875l1 0M716 820l1 0M674 862l0 1" stroke="#505050" stroke-width="2"/>
<path d="M707 819l0 0M671 858l0 0M789 923l0 0M716 817l0 0M683 850l0 1M740 821l1 1M680 849l0 0" stroke="#5a5a5a" stroke-width="2"/>
<path d="M793 910l0 1M807 912l0 1M680 848l1 0M803 908l0 0M796 900l-1 1M791 919l0 1M697 852l-1 1M799 927l-1 0M789 909l-1 1" stroke="#646464" stroke-width="2"/>
<path d="M727 811l1 1M653 787l1 1M783 893l0 0M785 825l0 0M882 893l-1 1M716 942l0 1M846 793l0 0M759 825l0 0M769 927l0 0M878 778l0 1M786 791l1 1M670 816l-1 0M791 897l-1 0M750 881l0 1M658 872l0 1M875 939l0 0M875 767l1 0M698 935l0 1M749 791l0 0M799 923l-1 0M766 936l1 0M716 810l0 1M738 765l0 1M857 907l0 1M782 911l1 1M739 883l0 1M872 785l-1 1M770 841l1 1M708 900l-1 1M739 812l0 0M773 941l0 1M846 909l0 0M773 779l1 1M806 891l-1 1M655 928l0 0M694 900l0 1M781 886l0 1M769 888l-1 0M827 876l1 0M860 912l1 0M783 820l0 0M680 895l0 1M660 769l-1 1M703 854l-1 0M885 914l0 0M723 856l1 1M856 855l0 0M653 942l1 0M824 801l1 0M783 900l1 0M684 845l-1 1M829 831l-1 0M858 797l-1 0M735 763l-1 1" stroke="#6e6e6e" stroke-width="2"/>
<path d="M755 809l0 0M878 914l1 0M825 802l1 1M760 831l0 1M750 914l1 1M768 819l0 0M815 850l0 0M848 785l0 0M676 825l0 0M829 879l0 0M694 912l0 0M809 874l0 0M745 887l0 0M661 872l0 0M860 759l1 0M821 825l0 0M750 768l0 1M824 861l0 1M686 836l0 0M798 783l0 1M889 900l-1 1M864 779l-1 1M708 773l0 0M715 907l-1 0M719 943l0 0M883 857l0 1M688 776l0 0M817 762l0 0M778 763l0 0M767 916l0 0M878 934l-1 1M732 774l1 1M864 933l0 0M890 910l0 0M847 872l-1 0M652 802l-1 1M838 815l0 0M729 778l1 0M749 775l0 0M869 883l0 0M888 933l0 0M773 764l0 1M742 918l0 0M851 777l0 1M806 941l0 1M735 808l1 0M807 918l1 0M766 818l1 0M658 788l1 0M847 759l1 0M888 898l-1 0M718 768l1 0M661 879l-1 0M843 843l0 1M648 858l0 0M853 936l0 0M654 869l-1 1M858 856l0 1M892 867l0 1M810 933l0 0M690 930l1 0M760 837l1 1M671 942l0 1M666 793l0 0M648 860l0 1M697 771l0 0M835 930l0 0M705 788l0 0M809 770l-1 1M854 870l0 1M791 819l0 0M849 779l0 0M768 819l0 1M800 848l0 1M661 892l0 1M683 762l0 0M709 859l0 1M703 771l0 0M779 768l0 0M875 944l0 0M733 883l0 1M892 919l0 1M864 896l1 0M785 939l0 1M707 943l0 0M780 886l-1 0M654 934l1 1M892 804l0 1M879 926l1 1M803 872l-1 0M777 785l1 0M671 833l0 1M868 763l1 0M781 844l0 1M757 813l1 1M891 765l0 1M772 837l0 0M890 921l0 0M666 886l0 1M866 933l0 0M829 842l0 0M647 928l1 1M652 766l1 0M715 795l-1 1M722 940l1 0M821 788l0 0M879 803l0 0M767 919l0 0M806 765l0 0M708 942l-1 1M867 860l1 1M876 893l0 0M852 805l1 1M890 769l-1 1M812 857l0 0M870 770l1 1M892 868l-1 1M866 931l0 0M753 883l0 0M727 773l1 0M774 841l0 0M735 772l0 0M651 780l-1 1M758 890l0 1M822 785l0 1M687 898l0 1M861 878l0 1M878 882l-1 1M733 763l0 0M804 881l0 0M829 814l0 1M834 890l0 1M732 899l0 0M842 824l0 0M661 796l0 1M853 918l0 0M705 838l0 0M745 788l1 0M756 852l1 0M829 850l0 0M753 814l1 0M765 915l1 0M878 862l-1 1M758 761l0 1" stroke="#787878" stroke-width="2"/>
<path d="M799 934l0 1M863 792l1 0M673 842l0 1M775 799l0 0M791 801l0 0M845 790l0 0M791 763l1 0M772 786l1 0M794 794l0 1M724 766l0 0M688 910l0 1M651 920l0 1M752 907l-1 1M853 882l0 0M732 908l-1 1M771 779l0 0M676 837l0 0M688 778l1 0M651 868l-1 0M750 891l-1 0M721 890l0 1M880 902l0 1M756 919l-1 1M702 783l0 0M667 934l0 0M767 812l1 0M865 926l-1 1M871 939l-1 1M683 840l0 0M893 874l0 0M862 901l-1 1M691 928l0 0M854 934l0 0M892 872l1 0M762 851l-1 0M757 931l1 1M842 834l-1 1M759 827l0 1M795 771l-1 0M656 781l0 0M747 783l0 1M856 884l0 0M796 941l0 1M652 774l0 0M678 760l-1 1M828 826l0 1M845 840l0 0M873 862l0 0M710 920l-1 0M859 868l0 0M700 925l1 1M891 934l0 0M700 775l0 1M722 804l1 1M885 786l0 1M750 851l-1 0M750 861l0 1M773 809l-1 0M890 804l0 0M754 941l0 0M727 798l1 0M668 781l0 0M769 910l0 0M661 782l0 0M705 790l-1 1M647 804l1 0M656 785l-1 0M864 773l-1 1M698 935l-1 0M676 928l-1 0M887 795l0 1M648 763l0 0M757 880l0 0M652 893l0 0M680 840l0 0M796 828l0 1M893 915l0 0M858 940l0 0M705 787l1 0M673 827l0 0M857 787l1 1M795 782l-1 0M885 878l1 1M881 926l1 1M841 940l-1 1M701 941l0 1M855 777l0 1M665 897l0 1M814 767l0 1M663 874l0 0M808 853l0 1M662 885l0 1M659 768l0 0M685 765l0 1M875 915l0 0M809 852l-1 0M709 934l0 0M888 862l1 0M824 932l0 0M809 859l0 1M839 797l1 1M709 788l0 0M727 785l1 0M687 771l0 0M678 893l1 0M871 877l0 0M673 843l0 0M769 944l0 0M817 781l-1 1M847 905l-1 0M888 784l-1 1M845 763l0 0M797 783l0 1M813 936l-1 1M865 799l1 1M653 905l1 0M888 945l0 1M711 805l0 0M696 830l0 0M750 896l0 0M654 859l0 1M745 812l0 0M670 830l0 0M750 875l0 0M847 918l1 1M848 860l1 0" stroke="#828282" stroke-width="2"/>
<path d="M853 849l0 0M869 856l0 0M822 820l0 0M844 818l0 0M762 855l0 0M832 760l0 0M673 816l0 1M890 814l1 1M883 810l-1 1M789 853l0 0M844 827l1 0" stroke="#8c8c8c" stroke-width="2"/>
<path d="M793 815l1 1M822 809l1 0M759 840l0 0M754 845l1 0M796 822l0 0M655 858l0 0M801 786l-1 0" stroke="#969696" stroke-width="2"/>
<path d="M679 905l-1 0M781 882l0 0M755 838l0 0" stroke="#a0a0a0" stroke-width="2"/>
<path d="M764 866l-1 0M885 823l0 1M683 825l0 0M840 910l0 0M657 843l-1 1M814 831l0 0M892 824l0 1M841 913l0 1" stroke="#aaaaaa" stroke-width="2"/>
<path d="M818 772l0 0M732 827l0 0M728 851l0 0M732 825l-1 1M669 902l-1 0M714 838l0 1" stroke="#b4b4b4" stroke-width="2"/>
<path d="M697 798l-1 0M850 830l-1 0M870 841l0 1M842 774l0 0M849 828l0 1M667 927l0 0M859 829l0 1M845 773l0 1M855 819l0 0M662 909l0 0M864 823l0 0M755 837l1 0" stroke="#bebebe" stroke-width="2"/>
<path d="M691 798l1 1M663 907l0 1M719 831l0 1M687 805l0 0M689 807l0 0M741 827l0 1M814 924l1 1M698 814l0 1M835 778l-1 0" stroke="#c8c8c8" stroke-width="2"/>
<path d="M740 829l0 0M806 808l0 0M821 927l0 1M704 812l0 0M832 774l-1 0M698 799l1 1" stroke="#d2d2d2" stroke-width="2"/>
<path d="M682 807l0 1M681 806l0 1M727 841l-1 0M825 906l0 1M732 828l0 1" stroke="#dcdcdc" stroke-width="2"/>
<path d="M684 801l0 0M686 821l0 0M732 848l1 1M824 921l0 0" stroke="#e6e6e6" stroke-width="2"/>
</g>
</g></g>
<rect x="650.5" y="930.3" width="243.5" height="12.5" fill="#5d5d5d"/>
<path d="M650.5 937.2H771.5 M710.8 930.3V942.8 M767.5 930.3V942.8" stroke="#7c7c7c" stroke-width="0.6" fill="none"/>
<text x="657.4" y="935.3" font-family='"Liberation Sans", sans-serif' font-size="4.6" font-weight="bold" fill="#dcdcdc" textLength="45.2" lengthAdjust="spacingAndGlyphs">SEM HV: 15.0 kV</text>
<text x="655.8" y="941.5" font-family='"Liberation Sans", sans-serif' font-size="4.6" font-weight="bold" fill="#dcdcdc" textLength="48.4" lengthAdjust="spacingAndGlyphs">SEM MAG: 100 kx</text>
<text x="722.6" y="935.3" font-family='"Liberation Sans", sans-serif' font-size="4.6" font-weight="bold" fill="#dcdcdc" textLength="37.4" lengthAdjust="spacingAndGlyphs">WD: 3.46 mm</text>
<text x="719.5" y="941.5" font-family='"Liberation Sans", sans-serif' font-size="4.6" font-weight="bold" fill="#dcdcdc" textLength="43.7" lengthAdjust="spacingAndGlyphs">Det: InBeam SE</text>
<text x="775.8" y="941.5" font-family='"Liberation Sans", sans-serif' font-size="4.6" font-weight="bold" fill="#dcdcdc" textLength="20" lengthAdjust="spacingAndGlyphs">500 nm</text>
<text x="851.1" y="935.3" font-family='"Liberation Sans", sans-serif' font-size="4.6" font-weight="bold" fill="#dcdcdc" textLength="42.4" lengthAdjust="spacingAndGlyphs">MIRA3 TESCAN</text>
<path d="M772.4 930.6V936.9H831.7V930.6M778.3 936.9V935.3M784.3 936.9V935.3M790.2 936.9V935.3M796.1 936.9V935.3M802 936.9V934.5M808 936.9V935.3M813.9 936.9V935.3M819.8 936.9V935.3M825.8 936.9V935.3" stroke="#e8e8e8" stroke-width="0.7" fill="none"/>
<g clip-path="url(#clipd)"><g>
<g filter="url(#bl4)">
<rect x="888" y="752.6" width="253.7" height="200.2" fill="#2e2e2e"/>
<ellipse cx="997" cy="790" rx="80" ry="25" fill="#4a4a4a"/>
<ellipse cx="1106" cy="787" rx="27" ry="25" fill="#6d6d6d"/>
<ellipse cx="910" cy="777" rx="18" ry="17" fill="#151515"/>
<ellipse cx="925" cy="843" rx="35" ry="38" fill="#141414"/>
<ellipse cx="990" cy="846" rx="31" ry="32" fill="#2c2c2c"/>
<ellipse cx="1020" cy="892" rx="60" ry="36" fill="#313131"/>
<ellipse cx="1090" cy="828" rx="16" ry="10" fill="#191919"/>
<ellipse cx="926" cy="903" rx="29" ry="25" fill="#323232"/>
<ellipse cx="1105" cy="905" rx="28" ry="25" fill="#171717"/>
<ellipse cx="1105" cy="840" rx="28" ry="25" fill="#343434"/>
<ellipse cx="1121" cy="847" rx="12" ry="12" fill="#6d6d6d"/>
<ellipse cx="1047" cy="840" rx="26" ry="7" fill="#929292" transform="rotate(-12 1047 840)"/>
</g>
<g filter="url(#bl06)" stroke-linecap="round" fill="none">
<path d="M922 857l1 1M1100 911l0 0M924 774l-2 3M902 770l3 4M904 782l2 2" stroke="#282828" stroke-width="10"/>
<path d="M933 855l1 2M913 822l0 0M905 777l5 2M897 865l0 0M1085 909l-4 2M919 808l2 2M938 823l-2 0M912 871l-5 2M920 774l-5 1M913 776l-5 3M1086 892l-3 3" stroke="#323232" stroke-width="10"/>
<path d="M921 876l0 2M1094 898l-5 3M1128 916l-1 2M904 817l2 2M953 844l-1 0M1110 928l-3 3M1119 897l3 1M1109 907l-1 0M916 777l-5 0M1113 887l-1 0" stroke="#3c3c3c" stroke-width="10"/>
<path d="M933 878l5 0M949 811l0 0M941 807l4 4" stroke="#464646" stroke-width="10"/>
<path d="M953 916l3 2M1012 822l0 2M1079 861l3 4M1029 932l3 2M936 888l-2 2M941 810l4 5M960 855l-2 2M1052 762l-1 5" stroke="#505050" stroke-width="10"/>
<path d="M977 884l0 5M1066 882l3 4M1025 837l0 0M1066 760l-2 2M984 922l-2 1M1047 924l-2 3M1132 837l-2 0M962 838l2 4M1080 861l1 5M1038 879l-3 3M948 880l-2 0M986 886l0 5M1012 848l-2 5M941 762l-2 2M1030 820l0 0M996 825l-3 4M1037 853l-5 4M909 922l0 4M1072 884l1 1M1119 864l3 1M978 894l-2 5M1009 934l0 0" stroke="#5a5a5a" stroke-width="10"/>
<path d="M1047 878l6 0M1044 919l-1 5M935 887l4 2M982 761l-6 0M1044 827l4 2M1060 819l-3 4M977 872l0 0M1032 893l-4 1M1061 785l-1 4M1030 916l-3 1M1057 773l0 2M1118 942l1 5M1007 887l-2 6M1111 871l5 2M1091 869l0 1M1070 879l-3 3M898 876l2 0" stroke="#646464" stroke-width="10"/>
<path d="M992 787l0 1M931 769l-3 3M1066 909l0 0M1057 879l0 1M1133 763l0 0M1055 814l-6 0M997 762l-6 2M1078 870l-3 0M1069 913l0 1M941 917l5 4M960 915l2 0M1105 824l3 5M968 891l-1 1M973 932l0 3" stroke="#6e6e6e" stroke-width="10"/>
<path d="M1031 786l-1 6M1045 899l-6 0M1115 765l-2 1M967 919l1 0M1135 776l-1 1M954 897l3 0M904 907l-1 2M940 896l0 6M1024 794l-2 2M1051 901l4 4M1081 816l3 0M1065 822l6 2M910 938l3 3M1130 829l0 2M1018 876l3 2M1120 832l-2 1M952 897l-2 1M928 889l-1 1M1079 879l3 1M1011 784l1 3M939 769l0 1" stroke="#787878" stroke-width="10"/>
<path d="M967 778l0 0M964 795l-3 3M1015 782l0 0M1119 794l-1 1M962 779l-3 4M1121 791l4 1M1105 791l3 0M1085 774l1 5M935 771l-3 1M1065 773l3 3" stroke="#828282" stroke-width="10"/>
<path d="M990 790l0 0" stroke="#8c8c8c" stroke-width="10"/>
<path d="M948 784l4 2M1111 780l0 0M1034 790l-4 2" stroke="#969696" stroke-width="10"/>
<path d="M1122 770l-1 6M1127 848l0 0" stroke="#aaaaaa" stroke-width="10"/>
<path d="M1113 774l-3 2" stroke="#b4b4b4" stroke-width="10"/>
<path d="M1110 774l2 4" stroke="#bebebe" stroke-width="10"/>
<path d="M1043 843l0 2" stroke="#c8c8c8" stroke-width="10"/>
<path d="M1064 841l-1 4" stroke="#d2d2d2" stroke-width="10"/>
<path d="M903 785l3 5M925 819l0 0M929 838l0 0M916 832l4 1M1102 884l1 6M912 823l1 4M911 835l5 2M911 848l-3 3M934 812l0 0M913 815l4 4M930 860l5 1M925 847l-3 4M932 821l-2 3M923 854l-4 1" stroke="#282828" stroke-width="9"/>
<path d="M908 763l0 5M920 845l2 1M921 829l2 5M949 861l-4 4M1098 901l1 1M954 848l0 0M936 816l0 1M1112 915l-2 0M915 836l-1 3M946 861l2 1M933 873l4 2M1107 885l0 1M950 862l-3 2M907 868l1 0M943 836l2 3M918 863l0 0M941 851l0 0M934 810l-1 0M929 819l-3 3M906 816l-3 1M934 841l0 0M1117 889l3 1M911 810l-2 5M920 870l0 3" stroke="#323232" stroke-width="9"/>
<path d="M1121 925l1 1M1122 916l0 1M919 772l2 1M1085 896l0 0" stroke="#3c3c3c" stroke-width="9"/>
<path d="M1084 888l0 2M906 810l1 0M1116 930l0 0M935 878l-3 1" stroke="#464646" stroke-width="9"/>
<path d="M930 774l0 1M1047 873l-1 2M967 761l1 2M1099 941l5 2M1062 936l2 0M1092 942l0 0M1130 882l-1 1M1006 841l0 0M927 782l-3 1M1130 893l0 2M1017 822l-2 1M1050 939l-4 1M957 818l1 2M1077 893l-1 0M1074 822l0 3M1085 761l1 5M972 850l-1 1M926 938l1 2M1059 873l-2 4M912 801l0 0M957 851l5 2M1023 867l2 3" stroke="#505050" stroke-width="9"/>
<path d="M993 861l1 0M978 920l4 1M1124 877l4 1M1070 929l3 2M1076 775l-2 1M1046 875l3 2M1069 867l-2 5M925 883l0 0M1026 898l-3 3M983 868l-2 3M895 884l2 0M1114 823l2 1M1127 926l-4 4M972 844l-3 2M1026 931l2 3M917 939l-2 4M1083 865l2 2M1026 864l1 3M1038 910l-1 3M977 873l-6 0M969 847l-3 4M1079 819l-5 2M1003 851l1 3M1104 865l6 1M904 930l-3 0M1033 855l-1 2M1029 864l-3 2M1040 893l-3 3M985 899l-2 4M986 819l0 4M985 905l-1 1M917 930l-5 2M1092 848l-2 4M1014 763l0 3" stroke="#5a5a5a" stroke-width="9"/>
<path d="M914 908l2 5M991 903l0 1M948 915l-3 1M1091 833l2 4M1019 825l1 1M1029 877l3 4M1126 933l0 0M1043 825l3 4M1003 765l3 0M1023 787l-1 1M1014 764l0 0M991 890l-1 3M983 889l-1 1M1102 830l1 2M989 939l0 4M1072 786l1 2M970 906l2 2M1023 835l-1 1M1042 908l2 2M1071 822l3 2M1062 877l-1 1M1126 927l-3 2M922 878l1 0M1050 946l0 1M1041 903l0 6M977 830l2 5M1006 812l1 3M1022 864l-1 0M962 898l1 3M931 800l1 0M1029 875l0 0M1009 768l0 0M1042 760l-1 2M1058 820l0 0M1133 884l1 5M987 886l-3 3M958 821l-5 1M1000 855l0 3M899 808l1 2" stroke="#646464" stroke-width="9"/>
<path d="M1037 899l-1 2M1115 821l0 0M944 909l0 4M1134 944l0 3M1013 905l3 1M922 881l0 2M1082 773l2 2M1033 801l0 4M1092 938l3 1M1009 770l1 3M969 789l-3 3M993 921l2 4M972 855l-1 5M1117 934l-3 3M981 932l-2 2M1101 854l-2 2M1051 925l2 2M1065 793l-2 4M899 911l2 5M1046 789l0 0M915 892l-2 2M1058 881l-5 2M1061 898l-1 3M998 944l2 4M1069 925l0 0M998 912l-5 3M1056 798l-1 5M1130 825l3 0M1012 778l-4 3M1027 928l0 0M903 914l2 0M1051 852l-4 3M1046 910l-5 1M1038 942l-2 5M958 907l1 4M1038 856l-2 2M1003 812l-2 3M958 877l1 0M1026 783l3 2M962 788l0 1M1015 803l-2 2M941 767l-1 0M1005 795l-5 2M1061 790l-1 1M970 904l1 1M1017 917l3 4" stroke="#6e6e6e" stroke-width="9"/>
<path d="M1051 783l2 3M1070 830l3 4M1000 793l2 1M968 774l-4 0M1080 837l-2 4M965 944l0 0M956 808l-1 3M1133 806l-1 0M1007 870l4 5M986 863l0 2M1020 945l-2 0M986 905l2 4M937 885l0 6M954 899l-4 2M1054 797l-4 1M1015 783l-2 2M936 782l0 0M989 816l3 4M985 908l0 0M959 902l3 0M1005 875l0 2M932 765l0 4M1100 849l-1 1M1070 938l3 0M968 937l1 4M1102 836l3 4M997 840l-2 1M1129 794l-1 1M1064 790l0 0M921 892l0 1M1114 818l0 0M1020 929l-3 1M1041 799l-2 0M1060 829l2 1M973 769l3 3M960 799l3 3M991 760l-2 4M979 874l0 0M1079 839l2 0M1003 893l1 2" stroke="#787878" stroke-width="9"/>
<path d="M973 773l1 0M962 796l3 2M975 802l0 0M1082 804l0 5M1027 813l-4 2M958 800l0 0M1118 780l2 3M1034 803l0 0M1022 789l1 2M1055 782l-4 1M1011 772l0 1M1107 792l-5 2M978 806l-1 4" stroke="#828282" stroke-width="9"/>
<path d="M1048 781l-1 4M1089 769l1 0M1051 779l1 0M1129 772l4 1M994 766l2 1M1111 783l1 0M1089 788l-2 0M1077 787l0 2M1058 844l-4 0M1023 770l0 2M1033 782l2 2" stroke="#8c8c8c" stroke-width="9"/>
<path d="M1045 795l-2 0M1093 805l0 0M1016 805l1 4M1076 789l2 2M1110 790l-2 5M1019 801l0 2M935 791l-1 2M975 773l-1 2" stroke="#969696" stroke-width="9"/>
<path d="M1085 797l-4 1" stroke="#a0a0a0" stroke-width="9"/>
<path d="M1073 837l3 2M1085 776l3 1M1070 834l0 0M1048 832l1 2" stroke="#aaaaaa" stroke-width="9"/>
<path d="M1050 837l0 0M1098 792l3 1M1029 842l3 3" stroke="#bebebe" stroke-width="9"/>
<path d="M922 867l3 3M913 817l0 3M904 831l-5 1M923 810l3 1M938 864l-2 3M905 835l-2 4M950 857l0 1M937 818l-4 2M914 785l1 0M928 872l-1 4M924 829l-3 3M924 855l0 1M910 774l2 5" stroke="#282828" stroke-width="8"/>
<path d="M904 820l3 2M1090 917l-1 4M1085 913l2 0M953 863l-4 2M948 823l-2 0M903 770l-4 0M1111 900l4 2M933 821l-1 0M935 859l3 2M1085 897l-2 3M1089 912l0 0M948 859l-1 0M904 861l0 0M913 815l2 3M954 834l2 2M1106 914l-4 2M930 825l-1 2M928 816l1 2M1125 895l-1 1M909 860l-2 2M944 857l-2 3M904 780l1 1M1092 912l2 2M909 766l-3 0M1092 920l0 0M895 854l0 1M921 854l-1 1M1093 907l1 1" stroke="#323232" stroke-width="8"/>
<path d="M896 820l-3 3M941 870l2 1M1101 899l1 5M919 811l-1 2M1076 823l1 3M1089 885l0 3M935 874l1 0M1084 910l-1 0M1082 899l0 3M1130 908l-2 4M1127 910l0 1M1112 882l0 4M1090 895l3 0M922 875l2 2" stroke="#3c3c3c" stroke-width="8"/>
<path d="M1088 929l0 0M1130 895l-2 0M1084 886l3 2M1079 899l-1 1M953 819l-1 4M960 830l1 0" stroke="#464646" stroke-width="8"/>
<path d="M909 933l3 3M925 786l-3 0M910 938l-1 0M1081 882l1 5M900 942l0 2M1036 940l-4 1M1134 863l3 2M1091 945l-1 0M1083 821l1 1M1079 893l1 2M1119 931l-4 1M992 872l4 3M898 888l-1 4M1085 878l-3 1M1128 881l-1 4" stroke="#505050" stroke-width="8"/>
<path d="M1059 893l0 5M1002 874l-2 0M1103 875l-1 1M1087 853l-3 3M987 812l2 0M925 903l-1 0M1009 911l2 0M974 919l0 1M909 908l0 5M1107 853l1 2M1015 880l3 1M1022 936l1 3M921 923l-2 3M1016 821l0 2M980 910l0 0M1043 767l2 1M1076 824l4 3M920 879l0 3M1051 886l0 2M1075 879l-1 3M1034 912l-2 2M898 873l3 0M1051 873l-4 1M906 929l0 4M1071 857l4 0M1074 876l1 0M1023 903l4 3M898 936l2 1M1120 818l-1 3M1134 944l3 1M966 851l1 5M1080 888l1 1M997 862l-1 0M960 945l-3 3M1071 879l-4 4M949 911l3 3M1038 828l0 3M956 890l0 2M923 793l-1 1M964 861l-2 3M1094 850l-1 4M899 760l2 3" stroke="#5a5a5a" stroke-width="8"/>
<path d="M1066 897l-2 4M1018 921l2 2M995 927l-4 3M1074 896l2 4M1076 810l2 4M966 894l-4 1M1005 834l-1 1M972 767l-1 2M1022 944l0 0M920 927l1 0M1010 810l0 0M1032 919l0 0M936 880l-1 0M1014 828l3 3M989 941l1 0M1006 862l0 0M965 943l0 3M1056 936l5 2M1131 890l0 2M935 943l5 1M914 937l0 1M968 845l1 1M1134 872l0 1M1082 881l4 1M1041 871l-1 2M1063 816l-1 1M1020 932l4 1M1074 918l0 1M964 904l-2 3M931 928l-5 1M1000 906l-1 0M1107 835l1 4M1018 871l-3 2M999 840l2 2M969 838l2 4M976 906l-2 2M1075 819l-2 4M1036 835l0 1M991 840l4 0" stroke="#646464" stroke-width="8"/>
<path d="M988 932l-5 0M1003 836l4 3M1103 822l0 0M1074 854l-4 0M1128 830l1 1M1029 918l-3 1M1071 899l2 5M995 894l1 3M967 920l0 2M987 803l1 1M959 891l2 2M1066 870l-1 1M1034 782l0 0M1128 867l-1 0M1066 813l-4 1M1081 929l0 1M1028 852l2 3M942 932l-4 1M932 776l1 2M1000 873l-1 1M1007 791l1 2M1031 928l-2 2M935 785l0 3M1059 764l0 2M1076 879l-3 2M996 863l-4 3M1070 828l3 1M1097 864l-1 1M987 844l-1 1M1070 823l-2 2M967 809l-1 1M1045 793l-1 0M974 791l-1 1M1094 826l-2 3M971 917l-3 0M1081 762l0 0M1074 760l0 1M1065 820l2 1M1093 828l1 0M1064 802l2 1M1054 930l-1 1M1066 805l4 1M923 760l-1 1M1066 929l0 2M1093 862l1 1M1050 798l-1 5M989 828l2 2M973 762l-1 2M1078 764l-4 1M983 776l2 0M1092 840l0 0M980 859l-1 4M910 922l4 1M987 921l-1 3M1000 815l-1 2M959 933l0 2" stroke="#6e6e6e" stroke-width="8"/>
<path d="M942 780l1 4M1058 856l0 1M1080 930l0 0M947 792l0 3M1116 835l-1 0M1009 918l-5 0M917 906l4 3M990 887l0 2M1031 761l-1 5M1087 829l1 3M1132 803l1 1M1123 764l2 2M974 915l0 2M1106 833l-1 1M933 914l-2 1M1132 763l-1 4M1132 806l0 0M975 902l0 1M1134 934l-1 3M1052 887l2 3M1091 848l-2 4M1095 866l0 0M976 911l0 2M1032 939l1 0M1002 891l-4 2M964 932l0 0M1060 828l0 0M973 762l0 1M993 771l0 2M1069 783l4 2M1021 861l-3 0M1026 849l-1 2M987 905l-1 1M1043 942l-4 3M1088 864l0 0M1083 836l4 0M1022 853l-1 1M1016 941l0 0M953 786l2 0M1107 872l-1 3M921 922l0 0M976 804l1 2M1038 767l-3 4M1040 863l3 0M1006 782l-4 1" stroke="#787878" stroke-width="8"/>
<path d="M957 794l-5 1M1090 804l0 1M995 780l-3 0M1017 776l1 2M1116 827l0 0M1015 768l2 4M1047 809l0 5M1002 790l0 0M1055 780l-1 3M1040 769l1 2M1077 800l3 4M1083 800l-4 2M1115 777l-5 3" stroke="#828282" stroke-width="8"/>
<path d="M967 792l-1 1M1023 776l0 0M1130 848l-3 4M1126 780l2 1M1027 838l1 1M1101 800l-4 1M1022 782l2 2M980 809l-1 3M1039 795l-1 3M1026 779l-4 1M1121 811l-2 3M1028 777l1 0" stroke="#8c8c8c" stroke-width="8"/>
<path d="M1000 774l-1 2M1035 803l0 0M996 786l-2 4M1091 790l2 4M1032 838l0 2M1056 835l-3 0M980 787l0 1M1039 776l3 0M1010 786l3 1M1050 781l4 1M955 792l1 1M978 778l1 0M1050 790l1 2M1005 801l-1 4M1040 784l2 3" stroke="#969696" stroke-width="8"/>
<path d="M1108 784l2 5M1095 808l0 2" stroke="#a0a0a0" stroke-width="8"/>
<path d="M1121 846l0 2M1097 782l-3 3M1056 833l1 3" stroke="#aaaaaa" stroke-width="8"/>
<path d="M1060 837l3 4M1128 790l1 0" stroke="#b4b4b4" stroke-width="8"/>
<path d="M1112 844l2 2M1041 844l1 1" stroke="#bebebe" stroke-width="8"/>
<path d="M938 840l0 0M931 869l1 0M941 871l0 0M899 845l2 1M910 829l0 1M927 842l0 0M925 870l-1 2M909 825l0 4M923 854l-1 0M916 847l0 0M933 813l0 4M934 818l-4 2M937 823l2 0M940 853l0 1" stroke="#282828" stroke-width="7"/>
<path d="M904 782l-4 0M926 811l1 2M1113 893l3 0M898 833l1 3M949 856l0 0M910 784l-3 3M1100 888l-2 2M1109 926l-2 3M917 808l-2 2M1120 886l1 2M899 772l0 0M1082 908l2 3M930 830l0 1M1102 926l2 1M909 849l-2 4M926 870l-1 1M923 785l1 0M915 864l-4 0" stroke="#323232" stroke-width="7"/>
<path d="M903 762l-3 3M946 820l-2 1M1114 891l-3 2M1122 889l0 2M924 787l-2 2M1089 926l2 0M1103 924l0 1M911 773l-2 0M1084 888l-1 3M1097 908l-3 2M1092 888l0 0" stroke="#3c3c3c" stroke-width="7"/>
<path d="M958 859l0 2M907 811l2 1M1128 892l0 0M900 872l-1 1M960 850l1 1M921 879l-1 3" stroke="#464646" stroke-width="7"/>
<path d="M1057 820l0 0M910 806l2 1M951 813l1 1M940 805l1 2M928 771l-2 1M1128 922l1 1M902 815l2 1M1104 877l0 5M898 807l0 0M1130 869l0 2M1114 946l1 0M1068 858l1 1M914 937l-1 3M1073 825l1 4M1078 864l-3 1M971 861l-1 1M1028 828l1 2M1073 910l-1 3M1117 930l1 1M902 946l3 1M1115 928l0 3M961 919l-4 1M1111 869l-3 2M938 760l-4 0M955 899l0 0M940 883l-2 2M913 917l-3 0M957 836l0 0M1054 848l0 4M1065 879l-1 1" stroke="#505050" stroke-width="7"/>
<path d="M1025 945l0 0M1073 887l-2 2M923 878l3 2M1013 923l1 0M1023 884l2 3M934 918l2 3M1053 869l0 4M905 934l3 1M1017 891l2 3M1063 910l-2 1M990 833l0 2M994 880l-2 0M984 816l4 0M998 904l1 3M1027 869l0 1M985 878l-1 3M1033 862l4 1M989 910l2 1M1092 860l1 2M1122 945l3 2M964 864l1 0M965 841l2 4M919 911l-1 4M989 945l0 1M1006 840l1 0M900 904l-1 1M910 906l1 2M899 914l-1 1M1134 939l-5 0M1109 937l1 4M972 910l1 3M1021 922l1 0M1128 876l2 2M1107 826l1 3M983 939l0 0" stroke="#5a5a5a" stroke-width="7"/>
<path d="M1040 771l3 1M1095 875l1 0M909 923l1 4M1030 766l-1 5M960 855l-1 2M909 907l3 2M1000 917l-1 1M1095 840l-1 2M964 941l-1 2M997 820l0 2M1050 794l0 2M916 925l2 1M910 803l0 0M1077 847l0 0M999 897l0 1M1058 900l2 1M953 880l0 2M1079 940l3 3M1117 863l0 0M918 890l-1 2M964 825l-2 1M1123 861l-2 1M1027 918l-1 1M953 915l3 1M1048 861l0 1M934 798l1 1M979 866l3 1M1037 931l0 1M955 942l0 2M1032 902l1 1M1013 905l0 0M910 886l0 0M1089 941l1 2M1040 762l-2 3M928 911l0 0M1068 912l0 0M962 813l2 3M1090 829l2 4M977 841l-1 0M1050 945l1 4M923 939l1 4M999 894l0 1M959 928l0 3" stroke="#646464" stroke-width="7"/>
<path d="M972 870l4 0M952 920l4 1M1055 882l-4 0M944 907l-1 2M1037 942l1 1M1076 860l0 5M1079 922l1 1M1122 945l2 2M977 802l0 0M970 815l4 0M1032 885l2 1M1073 797l-2 3M900 940l1 3M1031 877l0 1M1002 920l0 0M918 912l1 2M1003 807l0 0M1011 815l-1 1M923 800l-1 2M928 763l-1 4M979 888l0 2M1130 944l1 0M1003 908l0 1M1046 902l3 4M1057 877l2 0M996 861l-1 1M1100 813l3 1M1062 921l0 2M1083 878l-4 2M983 823l1 1M1050 914l0 0M982 884l3 1M1080 841l0 0M1111 940l-3 3M1079 779l1 1M1050 814l-1 1M1004 819l-3 1M980 876l-1 0M995 829l-3 2M1002 889l-2 3M1124 879l1 0" stroke="#6e6e6e" stroke-width="7"/>
<path d="M990 873l-2 3M938 923l1 2M1053 802l-1 1M1036 796l0 2M1005 779l-4 0M903 923l3 4M1131 771l-1 3M1061 908l1 2M1000 915l0 1M988 789l-1 2M1000 899l1 0M964 760l0 2M1049 904l1 0M976 800l1 3M1060 806l0 0M1026 881l-2 0M900 944l-1 0M953 893l0 0M975 873l3 2M1036 815l-3 4M992 911l0 0M1028 783l1 1M986 877l0 0" stroke="#787878" stroke-width="7"/>
<path d="M1052 783l-1 2M981 789l3 1M1040 777l1 2M1013 804l-3 0M941 781l-2 0M1028 810l4 2M1099 793l0 0M993 771l1 1M1000 766l-2 0M1025 811l0 0" stroke="#828282" stroke-width="7"/>
<path d="M1025 803l2 3M998 766l2 0M983 797l0 0M1053 787l1 3M1041 811l-1 0M941 779l-4 3M1089 794l-1 3M934 780l-3 3M1109 772l-3 2M1059 800l-2 1M1007 787l-3 1M1047 789l-2 0" stroke="#8c8c8c" stroke-width="7"/>
<path d="M980 782l3 3M1121 777l-1 2M981 798l4 0M1060 802l0 0M1049 833l1 3M977 796l-2 3M1000 787l3 3M1132 776l-4 0M1053 794l0 4" stroke="#969696" stroke-width="7"/>
<path d="M1116 841l0 0M1125 840l-2 1" stroke="#a0a0a0" stroke-width="7"/>
<path d="M1097 787l0 4M1102 776l-4 1M1039 847l3 0M1104 793l-1 0" stroke="#aaaaaa" stroke-width="7"/>
<path d="M1102 791l0 1M1114 807l2 1" stroke="#b4b4b4" stroke-width="7"/>
<path d="M1108 768l2 1M1120 843l1 3" stroke="#bebebe" stroke-width="7"/>
<path d="M912 831l0 3M899 849l-3 0M920 830l2 0M921 828l-3 2M902 836l0 0M920 858l0 0M941 862l-1 1M951 830l-2 2M920 822l0 0" stroke="#282828" stroke-width="6"/>
<path d="M937 844l0 1M1129 911l1 3M924 782l-2 3M1130 895l0 3M915 762l1 2M938 863l-1 3M934 861l0 0M925 809l-2 0M1099 900l0 0M938 845l1 1M923 835l0 2M942 872l1 2M915 783l2 3M1114 901l2 0M907 836l3 1M914 831l0 2M1126 914l1 2M947 842l-3 2M901 819l-1 3M1100 896l1 0M1096 897l-3 0M1102 912l-3 2M922 810l0 0" stroke="#323232" stroke-width="6"/>
<path d="M940 808l-2 2M1130 919l-2 0M896 860l3 1M1080 898l1 2M1087 902l-1 0M1126 918l1 0M1095 906l-2 0M1093 894l-1 0M1101 911l-2 0M1120 920l-1 3M906 767l1 3M955 822l0 0M1079 914l-2 1" stroke="#3c3c3c" stroke-width="6"/>
<path d="M1086 882l-2 1M1075 907l-2 1M954 843l1 1M901 812l-2 1M1078 893l1 0M955 864l-2 1M1081 895l-3 2M1099 928l2 1M954 861l2 3M927 782l2 0M928 874l1 2M927 807l-3 1" stroke="#464646" stroke-width="6"/>
<path d="M923 763l-3 1M1072 941l-3 1M963 833l1 1M1086 817l1 4M962 938l0 2M1013 838l0 0M1112 935l-1 0M959 827l0 0M1076 926l-1 0M1010 831l1 1M1129 935l3 0M1072 770l-2 2M1124 932l2 0M1079 925l0 0" stroke="#505050" stroke-width="6"/>
<path d="M1026 935l-2 3M1060 876l2 2M1032 919l0 1M955 938l2 1M1064 872l1 4M923 934l-2 1M1108 878l-2 0M948 902l-1 3M1090 848l-2 1M991 887l0 1M1008 895l-1 3M1071 847l-1 2M987 889l-2 2M1029 898l2 1M1062 817l-3 2M971 903l-1 1M1000 897l0 2M922 897l0 1M920 877l0 3M953 930l0 1M951 873l-1 1M1088 841l0 0M991 823l0 0M1079 832l1 1M914 796l-1 2M932 887l1 2M1078 853l0 1M954 918l-3 1M959 851l-1 3M1058 922l-2 2M950 936l1 1M901 937l-2 1M1010 839l-1 1M976 911l0 1M1052 927l-2 2M1017 824l0 0M1051 769l-2 0M1043 944l0 0M1079 823l0 0M1072 901l-3 0M951 811l1 0M899 805l-1 1M1116 866l2 1" stroke="#5a5a5a" stroke-width="6"/>
<path d="M991 762l1 2M966 894l-1 1M1080 814l0 0M915 909l0 0M1098 943l-1 2M1007 852l2 2M1012 781l-3 1M1101 857l-2 0M1010 795l0 0M998 766l-1 0M919 895l0 0M979 941l1 1M975 879l1 1M988 891l0 0M995 843l-3 1M1061 794l-2 2M938 768l0 0M1066 876l0 0M1082 945l0 0M1080 760l1 3M1084 880l-1 2M1080 923l0 0M1068 938l0 3M1129 764l0 1M1082 884l2 1M1043 914l-1 1M1047 857l0 2M928 905l1 0M993 823l-1 1M952 934l3 3M979 896l-1 1M1093 831l-2 1M999 845l1 1M987 839l2 0M1077 922l4 0M939 891l0 0M966 921l1 1M947 910l0 0M940 886l0 1M1015 825l0 2M1052 942l1 3M1074 832l-2 1M1067 782l-2 1M986 905l-1 0M1078 938l-2 2M1129 926l0 0M1090 762l3 3" stroke="#646464" stroke-width="6"/>
<path d="M1023 799l0 0M975 859l0 2M936 803l1 3M1017 813l-1 4M1088 878l-2 2M1054 800l0 3M1003 931l2 1M1024 925l0 0M1081 926l0 0M918 904l0 0M958 765l0 1M1122 812l-2 3M1087 850l3 2M976 791l2 1M1009 871l-1 0M987 907l0 0M1028 893l1 2M1074 881l3 3M1046 896l0 0M923 905l0 1M928 895l3 1M929 783l-1 0M1071 815l0 0M906 937l-1 3M1050 803l0 0M930 796l2 0M1119 820l0 2M1030 763l-1 0M1065 936l2 3M973 863l3 0M1055 868l0 0M908 923l1 0M1010 934l0 0M1029 914l-2 2M946 778l2 0M1046 887l-1 2M951 908l0 1M1058 877l0 0M1061 794l4 1" stroke="#6e6e6e" stroke-width="6"/>
<path d="M1051 929l2 2M1048 817l-1 2M989 814l1 0M943 785l-2 1M1017 760l2 3M967 888l0 1M958 876l2 1M1019 925l-2 0M925 792l0 0M1009 931l0 0M958 804l-2 1M1051 867l1 1M999 777l1 3M982 801l2 0M1105 844l1 2M1099 866l1 0M1082 839l-4 1M912 923l-3 2M1019 937l1 1M1134 838l0 1M1024 806l1 1M960 910l1 0M968 860l0 4M1011 934l0 2M1059 912l1 0M976 795l0 0M964 909l2 2M1018 819l3 1M1098 871l0 0M1026 809l-1 0M1059 906l2 2M990 910l0 0M914 927l0 0M1097 825l-1 1M1118 817l0 3M915 919l1 0M1010 798l-3 2M984 801l0 1M1009 793l0 1M1050 791l-2 3M956 791l1 2M931 796l0 0M933 907l-2 3" stroke="#787878" stroke-width="6"/>
<path d="M1074 798l2 0M1001 785l0 0M1088 762l-3 0M1058 773l1 0M1031 797l0 1M999 786l0 0M988 765l0 0M983 812l1 0M1099 770l-1 1M1080 802l3 1M1007 789l0 1M1012 777l2 2M1091 800l2 1M1043 796l-3 2M988 797l0 0M1103 856l-3 1M1024 804l3 1M1095 834l0 3M1106 796l1 2" stroke="#828282" stroke-width="6"/>
<path d="M1096 768l0 0M1130 787l-2 2M1109 845l3 1M1040 811l2 2M1090 785l-3 2M936 783l-3 2M1087 807l-1 3M1010 796l0 0M963 796l0 1M1044 776l2 2M981 771l3 2M1127 845l1 2M1074 835l2 2" stroke="#8c8c8c" stroke-width="6"/>
<path d="M1121 806l1 2M1112 793l0 1M962 789l2 0M1036 798l2 1M1024 803l-1 2M988 774l-3 0M958 797l3 0M1088 793l-3 1M1119 808l-3 3" stroke="#969696" stroke-width="6"/>
<path d="M1048 834l-2 3" stroke="#a0a0a0" stroke-width="6"/>
<path d="M1122 769l0 1M1111 846l2 1M1122 854l0 1M1102 776l3 1" stroke="#aaaaaa" stroke-width="6"/>
<path d="M1108 768l0 0" stroke="#b4b4b4" stroke-width="6"/>
<path d="M1027 843l-2 1" stroke="#bebebe" stroke-width="6"/>
<path d="M1050 838l0 2" stroke="#c8c8c8" stroke-width="6"/>
<path d="M1031 845l0 3" stroke="#d2d2d2" stroke-width="6"/>
<path d="M1084 914l0 0M904 851l0 2M915 869l-1 0" stroke="#282828" stroke-width="5"/>
<path d="M1103 909l-2 1M1096 901l-2 1M1092 925l0 3M1114 905l-3 1M916 859l2 0M953 847l0 1M1116 912l1 2M902 830l1 0M1117 926l0 1" stroke="#323232" stroke-width="5"/>
<path d="M1101 886l2 1M1114 898l0 2M926 872l0 0" stroke="#3c3c3c" stroke-width="5"/>
<path d="M899 793l0 2M902 791l-1 0" stroke="#464646" stroke-width="5"/>
<path d="M920 927l1 3M1019 862l1 0M1126 762l-2 1M962 820l0 0M1089 925l1 1" stroke="#505050" stroke-width="5"/>
<path d="M984 915l1 1M934 898l-3 0M1056 886l2 1M1036 900l0 1M1021 920l0 2M1007 901l-1 1M1103 871l-1 3M1045 872l2 3M1072 903l2 1M904 912l1 1M1075 874l-3 0M1060 897l-1 2M1075 892l-2 1M1027 891l0 1M1039 885l2 0" stroke="#5a5a5a" stroke-width="5"/>
<path d="M976 852l0 1M996 797l0 1M1057 912l0 0M1052 938l1 0M1031 774l1 1M1080 875l2 1M1100 862l0 0M973 869l-3 1M1098 824l0 0M915 930l-2 1M940 894l3 0M1063 911l0 1" stroke="#646464" stroke-width="5"/>
<path d="M984 774l1 3M1042 812l3 1M949 887l1 2M1040 867l1 1M1026 809l-2 1M1006 762l0 1M1025 919l1 0M1069 846l0 0M1082 828l-2 1M1133 787l0 2M1078 876l0 0M1090 761l-1 0M986 908l0 0M1008 847l1 3M1003 854l-1 2M952 810l0 0M999 855l0 0M969 859l-1 3" stroke="#6e6e6e" stroke-width="5"/>
<path d="M1127 837l0 1M1061 856l1 1M987 934l1 2M1097 849l2 0M1071 900l-1 2M1005 902l0 0M1050 798l0 0M1049 870l0 0M1029 791l-1 0M1021 890l0 1" stroke="#787878" stroke-width="5"/>
<path d="M1022 779l0 0M1067 801l-2 3M1096 764l1 2" stroke="#828282" stroke-width="5"/>
<path d="M963 806l0 0M1021 777l2 1" stroke="#8c8c8c" stroke-width="5"/>
<path d="M998 792l0 1M1116 845l2 2M1113 796l2 1" stroke="#969696" stroke-width="5"/>
<path d="M1109 774l-2 0" stroke="#a0a0a0" stroke-width="5"/>
<path d="M911 820l0 0M902 783l2 3M923 817l0 0M910 821l1 2M910 869l-3 1M929 858l3 1M902 781l1 1M931 819l-1 2M922 852l-2 1" stroke="#3c3c3c" stroke-width="5"/>
<path d="M921 856l1 1M1121 914l0 1M1096 899l1 1M1083 908l-2 1M909 847l-2 2M902 815l1 1M901 768l2 2M911 774l-3 2M917 861l0 0M1117 896l2 1M923 845l-2 2" stroke="#464646" stroke-width="5"/>
<path d="M1126 915l-1 1M905 814l-2 1M1116 888l2 1" stroke="#505050" stroke-width="5"/>
<path d="M1119 923l1 1M940 809l2 3M1109 927l-2 2M909 808l-1 3" stroke="#5a5a5a" stroke-width="5"/>
<path d="M1114 929l0 0M940 806l2 2" stroke="#646464" stroke-width="5"/>
<path d="M960 836l1 2M931 877l3 0" stroke="#6e6e6e" stroke-width="5"/>
<path d="M992 859l1 0M990 901l0 1M966 917l1 0M1042 826l2 1M1128 880l-1 1M980 931l-1 1M984 904l1 2M1078 859l1 3M1131 761l0 0M1016 820l-1 1M1061 876l-1 1M1049 938l-2 1M1011 846l-1 3M1069 936l2 0M958 913l1 0M1070 883l1 1M1132 883l1 3" stroke="#787878" stroke-width="5"/>
<path d="M1046 876l4 0M1061 934l1 0M1090 936l2 1M1079 836l-1 2M1059 818l-2 2M983 920l-1 1M976 870l0 0M1005 840l0 0M952 895l2 0M988 938l0 2M947 878l-1 0M996 943l1 2M940 915l3 2M1117 940l1 3M994 823l-2 2M1035 851l-3 2M1017 875l2 1M961 896l1 2M1117 862l2 1M903 928l-2 0M977 892l-1 3M983 904l-1 1" stroke="#828282" stroke-width="5"/>
<path d="M1045 871l-1 1M1012 903l2 1M930 767l-2 2M991 919l1 2M934 887l-1 1M1037 877l-2 2M1028 914l-2 1M1004 873l0 1M967 936l1 2M1005 886l-1 4M1029 818l0 0M1082 864l1 1M1024 862l1 2M1036 855l-1 1M1018 927l-2 1M1058 871l-1 2M934 770l-2 1" stroke="#8c8c8c" stroke-width="5"/>
<path d="M1044 794l-1 0M960 794l2 1M981 759l-4 0M1089 831l1 2M1008 769l1 2M1045 787l0 0M1055 772l0 1M1103 823l2 3M1024 781l2 1M1033 788l-2 1" stroke="#969696" stroke-width="5"/>
<path d="M1030 785l-1 4M989 789l0 0M1017 799l0 1M1118 831l-1 1" stroke="#a0a0a0" stroke-width="5"/>
<path d="M973 801l0 0M1047 779l-1 2M1075 787l1 1M1023 793l-1 1M1020 787l1 1M1049 778l1 0M1011 776l-2 2M1013 802l-1 1M977 804l-1 2M959 797l2 2M1060 788l-1 1" stroke="#aaaaaa" stroke-width="5"/>
<path d="M972 772l1 0M999 791l1 1M1010 771l0 1" stroke="#b4b4b4" stroke-width="5"/>
<path d="M1117 778l1 2M1104 789l2 0M1083 772l1 3M1110 778l0 0" stroke="#bebebe" stroke-width="5"/>
<path d="M1110 782l1 0" stroke="#c8c8c8" stroke-width="5"/>
<path d="M1108 789l-1 3M1120 790l2 1" stroke="#d2d2d2" stroke-width="5"/>
<path d="M1112 773l-2 1" stroke="#dcdcdc" stroke-width="5"/>
<path d="M1028 840l2 2M1069 832l0 0" stroke="#e6e6e6" stroke-width="5"/>
<path d="M937 839l0 0M921 866l2 2M918 810l-1 1M909 828l0 1M903 830l-3 1M948 855l0 0M932 819l-1 0M946 857l-1 0M936 863l-1 2M921 853l-1 0M949 856l0 1M926 814l1 1M906 866l1 0M932 812l0 2M933 816l-2 1M908 858l-1 1M942 856l-1 2M912 814l2 2M919 852l-1 1" stroke="#3c3c3c" stroke-width="4"/>
<path d="M903 819l2 1M1084 912l1 0M1100 897l1 3M953 833l1 1M1101 883l1 4M916 807l-1 1M1124 894l-1 1M932 811l0 0M1096 907l-2 1M921 783l1 0M1092 905l1 1" stroke="#464646" stroke-width="4"/>
<path d="M953 846l0 0M1080 897l0 2M932 872l2 1M1129 906l-1 2M1078 898l-1 1M933 808l-1 0" stroke="#505050" stroke-width="4"/>
<path d="M1088 883l0 2M1118 885l1 1M1111 880l0 2M921 873l1 1" stroke="#5a5a5a" stroke-width="4"/>
<path d="M1075 822l1 2M1088 925l1 0M1130 888l0 1M1083 884l2 1M1074 822l2 2M1116 929l1 1M1082 820l1 1M956 835l0 0M898 759l1 2" stroke="#646464" stroke-width="4"/>
<path d="M1102 876l0 3M956 816l1 1M1072 908l-1 2M971 848l-1 1M958 829l1 0M898 806l1 1" stroke="#6e6e6e" stroke-width="4"/>
<path d="M929 773l0 1M1058 892l0 3M1102 820l0 0M1073 852l-2 0M1057 855l0 1M1052 868l0 2M988 940l1 0M971 853l-1 3M973 917l0 1M1064 869l-1 1M953 898l-2 1M902 921l2 2M919 878l0 2M969 904l1 1M1070 820l2 1M1133 932l-1 2M978 887l0 1M1025 917l-1 1M1129 943l1 0M967 843l1 1M1025 927l0 0M1031 937l1 0M1076 891l-1 0M901 944l2 1M921 877l1 0M1062 815l-1 1M1053 928l-1 1M1019 931l2 1M925 936l1 1M1021 901l2 2M1064 927l0 1M957 875l1 0M1133 943l2 1M988 826l1 1M963 902l-1 2M986 904l-1 1M899 942l-1 0M948 910l2 2M998 838l1 1M1127 880l-1 2" stroke="#787878" stroke-width="4"/>
<path d="M1017 919l1 1M1072 886l-1 1M908 921l1 2M1075 808l1 2M1004 833l-1 1M1036 941l1 1M1074 858l0 3M1101 874l-1 1M963 940l-1 1M919 926l1 0M1127 828l1 1M1125 932l0 0M1091 940l0 0M1030 760l-1 3M1065 811l-2 1M1086 827l1 2M1116 932l-2 2M990 888l-1 2M935 884l0 4M1044 874l2 1M1132 861l2 1M1068 826l2 1M1042 766l1 1M997 902l1 2M984 876l-1 2M934 942l3 1M1069 822l-1 1M1078 939l2 2M1022 834l-1 1M1077 863l-2 1M1132 870l0 1M1094 865l0 0M1070 856l2 0M901 913l1 0M894 882l1 0M1047 860l0 1M1092 827l1 0M1061 920l0 1M1039 901l0 4M1076 763l-2 1M1081 834l2 0M959 944l-2 2M979 857l-1 2M1056 819l0 0M984 897l-1 2M986 919l-1 2M1078 837l1 0M1064 878l-1 1M916 928l-3 1M963 859l-1 2M1074 818l-1 2M1001 888l-1 2M1013 762l0 2M982 937l0 0" stroke="#828282" stroke-width="4"/>
<path d="M1054 881l-2 0M993 926l-2 2M1133 943l0 2M921 880l0 1M966 919l0 1M1132 804l-1 0M1013 879l2 1M899 941l0 1M1122 763l1 1M1105 832l-1 1M987 814l2 2M1046 808l0 3M1056 898l1 1M984 906l0 0M1113 944l1 0M933 779l-2 2M1025 896l-2 2M1050 885l0 1M1041 906l1 1M1033 911l-1 1M1027 827l1 1M1049 872l-2 1M1056 875l1 0M920 891l0 1M1000 889l-2 1M1091 860l1 1M1059 804l0 0M1020 859l-2 0M1012 904l0 0M1027 873l0 0M1110 938l-2 2M940 765l-1 0M1003 817l-2 1M1106 833l1 2M1028 862l-2 1M1038 892l-2 2M920 921l0 0M1066 911l0 0M912 915l-2 0M1039 862l2 0" stroke="#8c8c8c" stroke-width="4"/>
<path d="M956 793l-3 1M1050 781l1 2M999 773l-1 1M967 773l-2 0M924 901l-1 0M1025 812l-2 1M931 913l-1 1M1011 803l-2 0M1131 804l0 0M1027 809l2 1M1039 767l1 1M987 788l-1 1M1090 846l-1 2M971 760l-1 1M1120 810l-1 2" stroke="#969696" stroke-width="4"/>
<path d="M1039 769l2 1M1015 803l1 2M986 802l1 1M1130 801l1 1M1054 780l-2 1M973 789l-1 1M972 767l2 2M999 765l-1 0M1005 780l-2 1M1024 809l0 0" stroke="#a0a0a0" stroke-width="4"/>
<path d="M1022 774l0 0M982 796l0 0M971 765l-1 1M1014 766l1 2M1038 774l2 0M1044 792l-1 0M1001 789l0 0M1054 797l-1 3M1008 785l2 1M1094 806l0 1M1021 780l1 1M1049 789l1 1M1008 767l0 0" stroke="#aaaaaa" stroke-width="4"/>
<path d="M1092 803l0 0M1115 839l0 0M1125 779l1 1M1105 790l-3 1M1100 799l-2 1M1049 797l-1 3M1077 778l1 1M1047 831l1 1M1082 798l-2 1" stroke="#b4b4b4" stroke-width="4"/>
<path d="M1113 806l1 1M1114 776l-3 2" stroke="#d2d2d2" stroke-width="4"/>
<path d="M1031 837l0 1M1055 833l-2 0" stroke="#dcdcdc" stroke-width="4"/>
<path d="M1054 832l1 2" stroke="#f0f0f0" stroke-width="4"/>
<path d="M902 781l-2 0M930 868l1 0M898 848l-2 0M945 818l-1 1M937 862l-1 2M926 841l0 0M922 834l0 1M1113 904l-2 1M914 782l1 2M920 857l0 0M913 830l0 1M946 841l-2 1M908 848l-1 2M921 809l0 0M901 829l1 0M914 862l-2 0" stroke="#3c3c3c" stroke-width="3"/>
<path d="M912 830l0 2M1128 909l1 2M940 869l0 0M925 810l1 1M903 850l0 1M923 781l-1 2M914 761l1 1M1113 890l-2 1M1095 900l-1 1M1121 888l0 1M898 770l0 0M1100 910l-1 0M1081 907l1 2M936 822l1 0M1125 912l1 1M919 821l0 0" stroke="#464646" stroke-width="3"/>
<path d="M1100 885l1 1M1083 913l0 0M953 842l1 1M895 859l2 1M1125 917l1 0M906 809l1 1M942 871l1 1M1081 894l-2 1M953 860l1 2M952 846l0 1M1101 925l1 1M900 818l-1 2" stroke="#505050" stroke-width="3"/>
<path d="M939 807l-1 1M902 760l-2 2M1088 924l1 1M1079 913l-1 1M926 806l-2 1M901 790l-1 0M1116 925l0 1" stroke="#5a5a5a" stroke-width="3"/>
<path d="M1129 918l-1 0M1107 877l-1 0M957 858l0 1" stroke="#646464" stroke-width="3"/>
<path d="M922 762l-2 1M950 812l1 1M1077 892l1 0M1081 883l1 1M919 876l0 2M950 810l1 0M1078 923l0 0" stroke="#6e6e6e" stroke-width="3"/>
<path d="M1097 942l-1 1M1085 816l1 2M1002 930l1 1M1023 924l0 0M949 886l1 1M1008 930l0 0M1031 884l1 1M1096 848l1 0M1070 899l-1 1M915 924l1 1M909 801l0 0M999 896l0 1M1079 759l1 2M1083 879l-1 1M1012 837l0 0M1067 937l0 2M1098 866l1 0M1069 845l0 0M1026 868l0 1M1032 861l2 1M967 858l0 2M1018 818l2 1M1051 937l1 0M986 838l1 0M965 920l1 1M1082 877l-2 1M1118 819l0 1M961 819l0 0M900 936l-1 1M1014 824l0 1M1051 926l-1 1M1027 890l0 1M1071 900l-2 0M922 938l1 2M899 804l-1 1M968 858l-1 2" stroke="#787878" stroke-width="3"/>
<path d="M1094 874l1 0M1025 934l-1 2M983 914l1 1M1060 855l1 1M1071 940l-2 1M1006 851l1 1M1090 847l-1 1M1087 877l-1 1M1121 944l1 1M987 890l0 0M990 886l0 1M1080 924l0 0M1055 885l1 1M962 937l0 1M1020 919l0 1M998 896l0 1M1081 944l0 0M970 902l-1 1M1056 912l0 0M1025 918l1 0M1001 919l0 0M921 896l0 1M1018 935l1 1M1075 925l-1 0M928 782l-1 0M927 904l1 0M1044 871l1 2M1097 870l0 0M931 886l1 1M1077 852l0 1M1057 921l-1 1M978 865l2 1M1126 761l-1 1M954 941l0 1M1051 941l1 2M1007 846l1 2M1054 867l0 0M908 922l1 0M952 809l0 0M1074 891l-1 1M1010 933l0 0M939 882l-1 1M1128 925l0 0M1021 889l0 1M1057 876l0 0M958 927l0 2" stroke="#828282" stroke-width="3"/>
<path d="M990 761l1 1M989 813l1 0M1087 761l-2 0M969 813l2 0M924 791l0 0M987 764l0 0M1036 899l0 1M986 888l-1 1M958 764l0 1M1040 810l-1 0M1027 892l1 1M1030 876l0 1M1043 913l-1 1M1129 868l0 1M1133 837l0 1M1090 760l-1 0M1018 861l1 0M999 898l1 0M946 908l0 0M949 935l1 1M939 885l0 1M988 944l0 1M1071 769l-1 1M1124 931l1 0M980 883l2 1M975 910l0 1M1060 896l-1 1M1066 800l-1 2M1016 823l0 0M1117 816l0 2M985 904l-1 0M939 893l2 0M1045 886l-1 1M998 893l0 1" stroke="#8c8c8c" stroke-width="3"/>
<path d="M1073 797l1 0M943 906l-1 1M937 922l1 1M976 801l0 0M982 811l1 0M1035 796l1 1M980 797l2 0M981 799l1 0M1039 810l1 1M933 797l1 1M1099 812l2 1M1020 776l1 1M1028 790l-1 0M1097 823l0 0M930 795l0 0" stroke="#969696" stroke-width="3"/>
<path d="M1023 798l0 0M983 773l1 2M980 788l2 1M1121 811l-1 2M1072 796l-1 2M975 790l1 1M929 795l1 0M976 795l-1 2M983 800l0 1M1049 790l-1 2" stroke="#a0a0a0" stroke-width="3"/>
<path d="M943 784l-1 1M1009 794l0 0M1051 781l-1 1M997 791l0 1M999 776l1 2M1023 802l-1 1M1006 788l0 1M1050 797l0 0M1009 795l0 0M975 799l1 2M1118 807l-2 2" stroke="#aaaaaa" stroke-width="3"/>
<path d="M1120 805l1 1M1126 836l0 1M1120 776l-1 1M1107 767l0 0M987 773l-2 0M957 796l2 0M1049 801l0 0M992 770l1 1M945 777l1 0" stroke="#b4b4b4" stroke-width="3"/>
<path d="M1110 845l1 1M1098 792l0 0M1105 795l1 1" stroke="#bebebe" stroke-width="3"/>
<path d="M1111 792l0 1M1088 793l-1 2M1090 799l1 1" stroke="#c8c8c8" stroke-width="3"/>
<path d="M1030 844l0 2M1115 844l1 1" stroke="#d2d2d2" stroke-width="3"/>
<path d="M1026 842l-1 1M1089 784l-2 1M1112 795l1 1" stroke="#dcdcdc" stroke-width="3"/>
<path d="M1048 833l-1 2M1038 845l2 0" stroke="#e6e6e6" stroke-width="3"/>
</g>
<path d="M1024 832L1070 846" stroke="#c8c8c8" stroke-width="6" stroke-linecap="round" filter="url(#bl06r)"/>
<path d="M1078 848L1092 850" stroke="#b9b9b9" stroke-width="6" stroke-linecap="round" filter="url(#bl06r)"/>
<path d="M1090 906L1114 926" stroke="#bebebe" stroke-width="5" stroke-linecap="round" filter="url(#bl06r)"/>
<path d="M1012 888L1018 922" stroke="#afafaf" stroke-width="6" stroke-linecap="round" filter="url(#bl06r)"/>
<path d="M922 857L942 828" stroke="#8c8c8c" stroke-width="3" stroke-linecap="round" filter="url(#bl06r)"/>
</g></g>
<rect x="898" y="930.3" width="233.7" height="12.5" fill="#5d5d5d"/>
<path d="M898 937.2H1014.1 M955.9 930.3V942.8 M1010.3 930.3V942.8" stroke="#7c7c7c" stroke-width="0.6" fill="none"/>
<text x="904.6" y="935.3" font-family='"Liberation Sans", sans-serif' font-size="4.6" font-weight="bold" fill="#dcdcdc" textLength="43.4" lengthAdjust="spacingAndGlyphs">SEM HV: 15.0 kV</text>
<text x="903.1" y="941.5" font-family='"Liberation Sans", sans-serif' font-size="4.6" font-weight="bold" fill="#dcdcdc" textLength="49.6" lengthAdjust="spacingAndGlyphs">SEM MAG: 100.0 kx</text>
<text x="967.2" y="935.3" font-family='"Liberation Sans", sans-serif' font-size="4.6" font-weight="bold" fill="#dcdcdc" textLength="35.9" lengthAdjust="spacingAndGlyphs">WD: 2.77 mm</text>
<text x="964.2" y="941.5" font-family='"Liberation Sans", sans-serif' font-size="4.6" font-weight="bold" fill="#dcdcdc" textLength="41.9" lengthAdjust="spacingAndGlyphs">Det: InBeam SE</text>
<text x="1018.3" y="941.5" font-family='"Liberation Sans", sans-serif' font-size="4.6" font-weight="bold" fill="#dcdcdc" textLength="19.2" lengthAdjust="spacingAndGlyphs">500 nm</text>
<text x="1090.5" y="935.3" font-family='"Liberation Sans", sans-serif' font-size="4.6" font-weight="bold" fill="#dcdcdc" textLength="40.7" lengthAdjust="spacingAndGlyphs">MIRA3 TESCAN</text>
<path d="M1015 930.6V936.9H1071.9V930.6M1020.7 936.9V935.3M1026.4 936.9V935.3M1032.1 936.9V935.3M1037.8 936.9V935.3M1043.5 936.9V934.5M1049.1 936.9V935.3M1054.8 936.9V935.3M1060.5 936.9V935.3M1066.2 936.9V935.3" stroke="#e8e8e8" stroke-width="0.7" fill="none"/>
<rect x="727" y="591.8" width="11" height="1.6" fill="#d0cc50" opacity="0.5"/>
<rect x="730.3" y="594.8" width="3.8" height="1.3" fill="#c8c448" opacity="0.4"/>
<rect x="762" y="608.8" width="13" height="1.6" fill="#d0cc50" opacity="0.5"/>
<rect x="765.9" y="611.8" width="4.5" height="1.3" fill="#c8c448" opacity="0.4"/>
<rect x="821" y="649.5" width="15" height="1.6" fill="#d0cc50" opacity="0.5"/>
<rect x="825.5" y="652.5" width="5.2" height="1.3" fill="#c8c448" opacity="0.4"/>
<rect x="1104" y="655.5" width="14" height="1.6" fill="#d0cc50" opacity="0.5"/>
<rect x="1108.2" y="658.5" width="4.9" height="1.3" fill="#c8c448" opacity="0.4"/>
<rect x="934" y="696.8" width="13" height="1.6" fill="#d0cc50" opacity="0.5"/>
<rect x="937.9" y="699.8" width="4.5" height="1.3" fill="#c8c448" opacity="0.4"/>
<rect x="723" y="859.2" width="15" height="1.6" fill="#d0cc50" opacity="0.5"/>
<rect x="727.5" y="862.2" width="5.2" height="1.3" fill="#c8c448" opacity="0.4"/>
<rect x="876" y="836" width="15" height="1.6" fill="#d0cc50" opacity="0.5"/>
<rect x="880.5" y="839" width="5.2" height="1.3" fill="#c8c448" opacity="0.4"/>
<rect x="816" y="886.2" width="14" height="1.6" fill="#d0cc50" opacity="0.5"/>
<rect x="820.2" y="889.2" width="4.9" height="1.3" fill="#c8c448" opacity="0.4"/>
<rect x="922" y="766.5" width="16" height="1.6" fill="#d0cc50" opacity="0.5"/>
<rect x="926.8" y="769.5" width="5.6" height="1.3" fill="#c8c448" opacity="0.4"/>
<rect x="1057" y="791.5" width="16" height="1.6" fill="#d0cc50" opacity="0.5"/>
<rect x="1061.8" y="794.5" width="5.6" height="1.3" fill="#c8c448" opacity="0.4"/>
<rect x="990" y="878.5" width="17" height="1.6" fill="#d0cc50" opacity="0.5"/>
<rect x="995.1" y="881.5" width="5.9" height="1.3" fill="#c8c448" opacity="0.4"/>
<text x="657.7" y="598.2" font-family='"Liberation Sans", sans-serif' font-size="10.4" font-weight="bold" fill="#fff" stroke="#000" stroke-opacity="0.55" stroke-width="2" paint-order="stroke" textLength="17.6" lengthAdjust="spacingAndGlyphs">(a)</text>
<text x="903.7" y="596.3" font-family='"Liberation Sans", sans-serif' font-size="10.4" font-weight="bold" fill="#fff" stroke="#000" stroke-opacity="0.55" stroke-width="2" paint-order="stroke" textLength="17.6" lengthAdjust="spacingAndGlyphs">(c)</text>
<text x="657.2" y="777.3" font-family='"Liberation Sans", sans-serif' font-size="10.4" font-weight="bold" fill="#fff" stroke="#000" stroke-opacity="0.55" stroke-width="2" paint-order="stroke" textLength="17.6" lengthAdjust="spacingAndGlyphs">(b)</text>
<text x="902.9" y="777.4" font-family='"Liberation Sans", sans-serif' font-size="10.4" font-weight="bold" fill="#fff" stroke="#000" stroke-opacity="0.55" stroke-width="2" paint-order="stroke" textLength="17.6" lengthAdjust="spacingAndGlyphs">(d)</text>
<text x="670" y="623.5" font-family='"Liberation Sans", sans-serif' font-size="23.5" font-weight="bold" fill="#fff" textLength="25.6" lengthAdjust="spacing">(f)</text>
<line x1="104.2" y1="30.2" x2="104.2" y2="252.3" stroke="#000" stroke-width="2.2"/>
<line x1="97.2" y1="251.3" x2="104.2" y2="251.3" stroke="#000" stroke-width="2"/>
<text x="94.2" y="254.3" font-family='"Liberation Sans", sans-serif' font-size="11.6" fill="#2b2b2b" text-anchor="end" font-weight="normal" >0.4</text>
<line x1="97.2" y1="231.3" x2="104.2" y2="231.3" stroke="#000" stroke-width="2"/>
<text x="94.2" y="234.3" font-family='"Liberation Sans", sans-serif' font-size="11.6" fill="#2b2b2b" text-anchor="end" font-weight="normal" >0.6</text>
<line x1="97.2" y1="211.3" x2="104.2" y2="211.3" stroke="#000" stroke-width="2"/>
<text x="94.2" y="214.3" font-family='"Liberation Sans", sans-serif' font-size="11.6" fill="#2b2b2b" text-anchor="end" font-weight="normal" >0.8</text>
<line x1="97.2" y1="191.3" x2="104.2" y2="191.3" stroke="#000" stroke-width="2"/>
<text x="94.2" y="194.3" font-family='"Liberation Sans", sans-serif' font-size="11.6" fill="#2b2b2b" text-anchor="end" font-weight="normal" >1.0</text>
<line x1="97.2" y1="171.3" x2="104.2" y2="171.3" stroke="#000" stroke-width="2"/>
<text x="94.2" y="174.3" font-family='"Liberation Sans", sans-serif' font-size="11.6" fill="#2b2b2b" text-anchor="end" font-weight="normal" >1.2</text>
<line x1="97.2" y1="151.3" x2="104.2" y2="151.3" stroke="#000" stroke-width="2"/>
<text x="94.2" y="154.3" font-family='"Liberation Sans", sans-serif' font-size="11.6" fill="#2b2b2b" text-anchor="end" font-weight="normal" >1.4</text>
<line x1="97.2" y1="131.2" x2="104.2" y2="131.2" stroke="#000" stroke-width="2"/>
<text x="94.2" y="134.2" font-family='"Liberation Sans", sans-serif' font-size="11.6" fill="#2b2b2b" text-anchor="end" font-weight="normal" >1.6</text>
<line x1="97.2" y1="111.2" x2="104.2" y2="111.2" stroke="#000" stroke-width="2"/>
<text x="94.2" y="114.2" font-family='"Liberation Sans", sans-serif' font-size="11.6" fill="#2b2b2b" text-anchor="end" font-weight="normal" >1.8</text>
<line x1="97.2" y1="91.2" x2="104.2" y2="91.2" stroke="#000" stroke-width="2"/>
<text x="94.2" y="94.2" font-family='"Liberation Sans", sans-serif' font-size="11.6" fill="#2b2b2b" text-anchor="end" font-weight="normal" >2.0</text>
<line x1="97.2" y1="71.2" x2="104.2" y2="71.2" stroke="#000" stroke-width="2"/>
<text x="94.2" y="74.2" font-family='"Liberation Sans", sans-serif' font-size="11.6" fill="#2b2b2b" text-anchor="end" font-weight="normal" >2.2</text>
<line x1="97.2" y1="51.2" x2="104.2" y2="51.2" stroke="#000" stroke-width="2"/>
<text x="94.2" y="54.2" font-family='"Liberation Sans", sans-serif' font-size="11.6" fill="#2b2b2b" text-anchor="end" font-weight="normal" >2.4</text>
<line x1="97.2" y1="31.2" x2="104.2" y2="31.2" stroke="#000" stroke-width="2"/>
<text x="94.2" y="34.2" font-family='"Liberation Sans", sans-serif' font-size="11.6" fill="#2b2b2b" text-anchor="end" font-weight="normal" >2.6</text>
<line x1="100.2" y1="241.3" x2="104.2" y2="241.3" stroke="#000" stroke-width="1.8"/>
<line x1="100.2" y1="221.3" x2="104.2" y2="221.3" stroke="#000" stroke-width="1.8"/>
<line x1="100.2" y1="201.3" x2="104.2" y2="201.3" stroke="#000" stroke-width="1.8"/>
<line x1="100.2" y1="181.3" x2="104.2" y2="181.3" stroke="#000" stroke-width="1.8"/>
<line x1="100.2" y1="161.3" x2="104.2" y2="161.3" stroke="#000" stroke-width="1.8"/>
<line x1="100.2" y1="141.2" x2="104.2" y2="141.2" stroke="#000" stroke-width="1.8"/>
<line x1="100.2" y1="121.2" x2="104.2" y2="121.2" stroke="#000" stroke-width="1.8"/>
<line x1="100.2" y1="101.2" x2="104.2" y2="101.2" stroke="#000" stroke-width="1.8"/>
<line x1="100.2" y1="81.2" x2="104.2" y2="81.2" stroke="#000" stroke-width="1.8"/>
<line x1="100.2" y1="61.2" x2="104.2" y2="61.2" stroke="#000" stroke-width="1.8"/>
<line x1="100.2" y1="41.2" x2="104.2" y2="41.2" stroke="#000" stroke-width="1.8"/>
<line x1="103.2" y1="251.3" x2="581" y2="251.3" stroke="#000" stroke-width="2.2"/>
<line x1="152.6" y1="251.3" x2="152.6" y2="258.3" stroke="#000" stroke-width="2"/>
<text x="152.6" y="270" font-family='"Liberation Sans", sans-serif' font-size="11.8" fill="#2b2b2b" text-anchor="middle" font-weight="normal" >400</text>
<line x1="209.5" y1="251.3" x2="209.5" y2="258.3" stroke="#000" stroke-width="2"/>
<text x="209.5" y="270" font-family='"Liberation Sans", sans-serif' font-size="11.8" fill="#2b2b2b" text-anchor="middle" font-weight="normal" >420</text>
<line x1="266.4" y1="251.3" x2="266.4" y2="258.3" stroke="#000" stroke-width="2"/>
<text x="266.4" y="270" font-family='"Liberation Sans", sans-serif' font-size="11.8" fill="#2b2b2b" text-anchor="middle" font-weight="normal" >440</text>
<line x1="323.3" y1="251.3" x2="323.3" y2="258.3" stroke="#000" stroke-width="2"/>
<text x="323.3" y="270" font-family='"Liberation Sans", sans-serif' font-size="11.8" fill="#2b2b2b" text-anchor="middle" font-weight="normal" >460</text>
<line x1="380.2" y1="251.3" x2="380.2" y2="258.3" stroke="#000" stroke-width="2"/>
<text x="380.2" y="270" font-family='"Liberation Sans", sans-serif' font-size="11.8" fill="#2b2b2b" text-anchor="middle" font-weight="normal" >480</text>
<line x1="437.1" y1="251.3" x2="437.1" y2="258.3" stroke="#000" stroke-width="2"/>
<text x="437.1" y="270" font-family='"Liberation Sans", sans-serif' font-size="11.8" fill="#2b2b2b" text-anchor="middle" font-weight="normal" >500</text>
<line x1="494" y1="251.3" x2="494" y2="258.3" stroke="#000" stroke-width="2"/>
<text x="494" y="270" font-family='"Liberation Sans", sans-serif' font-size="11.8" fill="#2b2b2b" text-anchor="middle" font-weight="normal" >520</text>
<line x1="550.9" y1="251.3" x2="550.9" y2="258.3" stroke="#000" stroke-width="2"/>
<text x="550.9" y="270" font-family='"Liberation Sans", sans-serif' font-size="11.8" fill="#2b2b2b" text-anchor="middle" font-weight="normal" >540</text>
<line x1="124.1" y1="251.3" x2="124.1" y2="255.3" stroke="#000" stroke-width="1.8"/>
<line x1="181.1" y1="251.3" x2="181.1" y2="255.3" stroke="#000" stroke-width="1.8"/>
<line x1="237.9" y1="251.3" x2="237.9" y2="255.3" stroke="#000" stroke-width="1.8"/>
<line x1="294.9" y1="251.3" x2="294.9" y2="255.3" stroke="#000" stroke-width="1.8"/>
<line x1="351.8" y1="251.3" x2="351.8" y2="255.3" stroke="#000" stroke-width="1.8"/>
<line x1="408.6" y1="251.3" x2="408.6" y2="255.3" stroke="#000" stroke-width="1.8"/>
<line x1="465.6" y1="251.3" x2="465.6" y2="255.3" stroke="#000" stroke-width="1.8"/>
<line x1="522.5" y1="251.3" x2="522.5" y2="255.3" stroke="#000" stroke-width="1.8"/>
<line x1="579.4" y1="251.3" x2="579.4" y2="255.3" stroke="#000" stroke-width="1.8"/>
<text transform="translate(12.7,127.5) rotate(-90)" font-family='"Liberation Sans", sans-serif' font-size="14.4" fill="#2b2b2b" text-anchor="middle" dy="0.36em">Absorbance (Abs)</text>
<text x="342" y="293.6" font-family='"Liberation Sans", sans-serif' font-size="14" fill="#2b2b2b" text-anchor="middle" font-weight="normal" >Wavelength (nm)</text>
<text y="51.7" font-family='"Liberation Serif", serif' font-size="25.4" fill="#0a0a0a"><tspan x="135.5">(</tspan><tspan x="143.6" font-weight="bold">a</tspan><tspan x="155.1">)</tspan></text>
<path d="M104.2,75.8 C105.2,78.1 107.7,83.4 110.5,89.5 C113.3,95.6 117.5,105.4 121,112.6 C124.5,119.8 128.1,126.6 131.6,132.6 C135.1,138.6 138.6,143.7 142.1,148.4 C145.6,153.1 149.1,157.1 152.6,161 C156.1,164.9 157.9,167.5 163.2,171.6 C168.5,175.7 177.2,181.6 184.2,185.3 C191.2,189 198.3,191.2 205.3,193.7 C212.3,196.1 219.3,198.2 226.3,200 C233.3,201.8 240.4,203.4 247.4,204.8 C254.4,206.2 261.4,207.5 268.4,208.4 C275.4,209.3 282.5,209.8 289.5,210.5 C296.5,211.2 302.1,211.9 310.5,212.6 C318.9,213.3 331.8,214.2 340,214.7 C348.2,215.2 346.1,215.4 359.6,215.8 C373.1,216.2 399.5,217 421.2,217.4 C442.9,217.8 463.4,217.7 489.6,218 C515.8,218.3 563.8,218.8 578.6,219" fill="none" stroke="#f2ef2e" stroke-width="2.7" stroke-linejoin="round" stroke-linecap="round" opacity="1"/>
<path d="M104.2,72.6 C105.2,76.5 108,87.7 110.5,95.8 C113,103.9 116.1,113.6 118.9,121 C121.7,128.4 124.6,134 127.4,140 C130.2,146 132.7,151.2 135.8,156.8 C139,162.4 142.8,168.8 146.3,173.7 C149.8,178.6 152.2,181.8 156.8,186.3 C161.4,190.9 167.4,196.6 173.7,201 C180,205.4 187.7,209.4 194.7,212.6 C201.7,215.8 208.8,218.1 215.8,220 C222.8,221.9 228,222.8 236.8,223.8 C245.6,224.9 257.9,225.5 268.4,226.3 C278.9,227.1 288.1,228.1 300,228.4 C311.9,228.8 322.4,228.4 340,228.4 C357.6,228.4 384.2,228.1 405.3,228.3 C426.4,228.6 447.1,229.2 466.8,229.9 C486.6,230.6 506.1,231.5 523.8,232.2 C541.5,232.8 564.7,233.5 572.9,233.8" fill="none" stroke="#520c0c" stroke-width="2.3" stroke-linejoin="round" stroke-linecap="round" opacity="1"/>
<path d="M104.2,110.5 C105.6,113.3 109.8,122.5 112.6,127.4 C115.4,132.3 117.8,136.3 121,140 C124.2,143.7 128.1,147.2 131.6,149.5 C135.1,151.8 138.6,152.8 142.1,153.7 C145.6,154.6 149.1,154.9 152.6,154.7 C156.1,154.5 159.3,153.6 163.2,152.6 C167.1,151.6 171.6,150.2 175.8,148.4 C180,146.7 183.5,144.9 188.4,142.1 C193.3,139.3 199,135.8 205.3,131.6 C211.6,127.4 219.3,121.4 226.3,116.8 C233.3,112.2 240.4,108.2 247.4,104.2 C254.4,100.2 261.4,96.1 268.4,92.6 C275.4,89.1 282.5,85.8 289.5,83.2 C296.5,80.6 303.8,78.3 310.5,76.8 C317.2,75.3 322.1,74.8 329.5,74.3 C336.9,73.8 346.3,73.1 355.1,74.1 C363.9,75.1 373.4,77.7 382.5,80.5 C391.6,83.3 400.3,86.2 409.8,90.8 C419.3,95.4 429.2,101.6 439.5,107.9 C449.8,114.2 460.8,121.2 471.4,128.4 C482,135.6 492.7,142.8 503.3,151.2 C513.9,159.6 526.1,170.6 535.2,178.6 C544.3,186.6 550.8,193 558,199.1 C565.2,205.2 575.2,212.4 578.6,215.1" fill="none" stroke="#60116e" stroke-width="2.3" stroke-linejoin="round" stroke-linecap="round" opacity="1"/>
<path d="M497.5,61 V8.3 H571.6 V61" fill="none" stroke="#b8b8b8" stroke-width="1"/>
<line x1="498.3" y1="17.1" x2="532.1" y2="17.1" stroke="#60116e" stroke-width="2.5"/>
<text x="534.8" y="22.2" font-family='"Liberation Sans", sans-serif' font-size="14" fill="#222" text-anchor="start" font-weight="normal" >20:80</text>
<line x1="498.3" y1="35.1" x2="532.1" y2="35.1" stroke="#f2ef2e" stroke-width="2.8"/>
<text x="534.8" y="40.2" font-family='"Liberation Sans", sans-serif' font-size="14" fill="#222" text-anchor="start" font-weight="normal" >50:50</text>
<line x1="498.3" y1="52.9" x2="532.1" y2="52.9" stroke="#520c0c" stroke-width="2.5"/>
<text x="534.8" y="58" font-family='"Liberation Sans", sans-serif' font-size="14" fill="#222" text-anchor="start" font-weight="normal" >40:60</text>
<line x1="648" y1="30.4" x2="648" y2="252" stroke="#000" stroke-width="2.2"/>
<line x1="641" y1="251" x2="648" y2="251" stroke="#000" stroke-width="2"/>
<text x="638.2" y="254" font-family='"Liberation Sans", sans-serif' font-size="11.6" fill="#2b2b2b" text-anchor="end" font-weight="normal" >0.0</text>
<line x1="641" y1="227.9" x2="648" y2="227.9" stroke="#000" stroke-width="2"/>
<text x="638.2" y="230.9" font-family='"Liberation Sans", sans-serif' font-size="11.6" fill="#2b2b2b" text-anchor="end" font-weight="normal" >0.2</text>
<line x1="641" y1="204.8" x2="648" y2="204.8" stroke="#000" stroke-width="2"/>
<text x="638.2" y="207.8" font-family='"Liberation Sans", sans-serif' font-size="11.6" fill="#2b2b2b" text-anchor="end" font-weight="normal" >0.4</text>
<line x1="641" y1="181.6" x2="648" y2="181.6" stroke="#000" stroke-width="2"/>
<text x="638.2" y="184.6" font-family='"Liberation Sans", sans-serif' font-size="11.6" fill="#2b2b2b" text-anchor="end" font-weight="normal" >0.6</text>
<line x1="641" y1="158.5" x2="648" y2="158.5" stroke="#000" stroke-width="2"/>
<text x="638.2" y="161.5" font-family='"Liberation Sans", sans-serif' font-size="11.6" fill="#2b2b2b" text-anchor="end" font-weight="normal" >0.8</text>
<line x1="641" y1="135.4" x2="648" y2="135.4" stroke="#000" stroke-width="2"/>
<text x="638.2" y="138.4" font-family='"Liberation Sans", sans-serif' font-size="11.6" fill="#2b2b2b" text-anchor="end" font-weight="normal" >1.0</text>
<line x1="641" y1="112.3" x2="648" y2="112.3" stroke="#000" stroke-width="2"/>
<text x="638.2" y="115.3" font-family='"Liberation Sans", sans-serif' font-size="11.6" fill="#2b2b2b" text-anchor="end" font-weight="normal" >1.2</text>
<line x1="641" y1="89.2" x2="648" y2="89.2" stroke="#000" stroke-width="2"/>
<text x="638.2" y="92.2" font-family='"Liberation Sans", sans-serif' font-size="11.6" fill="#2b2b2b" text-anchor="end" font-weight="normal" >1.4</text>
<line x1="641" y1="66" x2="648" y2="66" stroke="#000" stroke-width="2"/>
<text x="638.2" y="69" font-family='"Liberation Sans", sans-serif' font-size="11.6" fill="#2b2b2b" text-anchor="end" font-weight="normal" >1.6</text>
<line x1="641" y1="42.9" x2="648" y2="42.9" stroke="#000" stroke-width="2"/>
<text x="638.2" y="45.9" font-family='"Liberation Sans", sans-serif' font-size="11.6" fill="#2b2b2b" text-anchor="end" font-weight="normal" >1.8</text>
<line x1="644" y1="239.4" x2="648" y2="239.4" stroke="#000" stroke-width="1.8"/>
<line x1="644" y1="216.3" x2="648" y2="216.3" stroke="#000" stroke-width="1.8"/>
<line x1="644" y1="193.2" x2="648" y2="193.2" stroke="#000" stroke-width="1.8"/>
<line x1="644" y1="170.1" x2="648" y2="170.1" stroke="#000" stroke-width="1.8"/>
<line x1="644" y1="147" x2="648" y2="147" stroke="#000" stroke-width="1.8"/>
<line x1="644" y1="123.8" x2="648" y2="123.8" stroke="#000" stroke-width="1.8"/>
<line x1="644" y1="100.7" x2="648" y2="100.7" stroke="#000" stroke-width="1.8"/>
<line x1="644" y1="77.6" x2="648" y2="77.6" stroke="#000" stroke-width="1.8"/>
<line x1="644" y1="54.5" x2="648" y2="54.5" stroke="#000" stroke-width="1.8"/>
<line x1="644" y1="31.4" x2="648" y2="31.4" stroke="#000" stroke-width="1.8"/>
<line x1="647" y1="251" x2="1124.7" y2="251" stroke="#000" stroke-width="2.2"/>
<line x1="703.6" y1="251" x2="703.6" y2="258" stroke="#000" stroke-width="2"/>
<text x="703.6" y="270" font-family='"Liberation Sans", sans-serif' font-size="11.8" fill="#2b2b2b" text-anchor="middle" font-weight="normal" >400</text>
<line x1="773.6" y1="251" x2="773.6" y2="258" stroke="#000" stroke-width="2"/>
<text x="773.6" y="270" font-family='"Liberation Sans", sans-serif' font-size="11.8" fill="#2b2b2b" text-anchor="middle" font-weight="normal" >450</text>
<line x1="843.6" y1="251" x2="843.6" y2="258" stroke="#000" stroke-width="2"/>
<text x="843.6" y="270" font-family='"Liberation Sans", sans-serif' font-size="11.8" fill="#2b2b2b" text-anchor="middle" font-weight="normal" >500</text>
<line x1="913.6" y1="251" x2="913.6" y2="258" stroke="#000" stroke-width="2"/>
<text x="913.6" y="270" font-family='"Liberation Sans", sans-serif' font-size="11.8" fill="#2b2b2b" text-anchor="middle" font-weight="normal" >550</text>
<line x1="983.6" y1="251" x2="983.6" y2="258" stroke="#000" stroke-width="2"/>
<text x="983.6" y="270" font-family='"Liberation Sans", sans-serif' font-size="11.8" fill="#2b2b2b" text-anchor="middle" font-weight="normal" >600</text>
<line x1="1053.6" y1="251" x2="1053.6" y2="258" stroke="#000" stroke-width="2"/>
<text x="1053.6" y="270" font-family='"Liberation Sans", sans-serif' font-size="11.8" fill="#2b2b2b" text-anchor="middle" font-weight="normal" >650</text>
<line x1="1123.6" y1="251" x2="1123.6" y2="258" stroke="#000" stroke-width="2"/>
<text x="1123.6" y="270" font-family='"Liberation Sans", sans-serif' font-size="11.8" fill="#2b2b2b" text-anchor="middle" font-weight="normal" >700</text>
<line x1="668.6" y1="251" x2="668.6" y2="255" stroke="#000" stroke-width="1.8"/>
<line x1="738.6" y1="251" x2="738.6" y2="255" stroke="#000" stroke-width="1.8"/>
<line x1="808.6" y1="251" x2="808.6" y2="255" stroke="#000" stroke-width="1.8"/>
<line x1="878.6" y1="251" x2="878.6" y2="255" stroke="#000" stroke-width="1.8"/>
<line x1="948.6" y1="251" x2="948.6" y2="255" stroke="#000" stroke-width="1.8"/>
<line x1="1018.6" y1="251" x2="1018.6" y2="255" stroke="#000" stroke-width="1.8"/>
<line x1="1088.6" y1="251" x2="1088.6" y2="255" stroke="#000" stroke-width="1.8"/>
<text transform="translate(557,127.3) rotate(-90)" font-family='"Liberation Sans", sans-serif' font-size="14.4" fill="#2b2b2b" text-anchor="middle" dy="0.36em">Absorbance (Abs)</text>
<text x="885.4" y="294" font-family='"Liberation Sans", sans-serif' font-size="14" fill="#2b2b2b" text-anchor="middle" font-weight="normal" >Wavelength (nm)</text>
<text y="47.3" font-family='"Liberation Serif", serif' font-size="26" fill="#0a0a0a"><tspan x="677.8">(</tspan><tspan x="686" font-weight="bold">b</tspan><tspan x="700.6">)</tspan></text>
<path d="M648.6,240.3 C649.4,240.2 651.6,239.8 653.1,239.6 C654.6,239.4 656.1,239.2 657.6,238.9 C659.1,238.7 660.6,238.4 662.1,238.1 C663.6,237.8 665.1,237.5 666.6,237.2 C668.1,236.9 669.6,236.6 671.1,236.3 C672.6,236 674.1,235.7 675.6,235.4 C677.1,235 678.6,234.7 680.1,234.4 C681.6,234 683.1,233.7 684.6,233.4 C686.1,233 687.6,232.7 689.1,232.3 C690.6,232 692.1,231.6 693.6,231.3 C695.1,230.9 696.7,230.5 698.2,230.2 C699.7,230 701.2,229.7 702.7,229.5 C704.2,229.3 705.7,229.1 707.2,228.9 C708.7,228.8 710.2,228.7 711.7,228.6 C713.2,228.5 714.7,228.4 716.2,228.3 C717.7,228.2 719.2,228 720.7,227.8 C722.2,227.7 723.7,227.4 725.2,227.2 C726.7,226.9 728.2,226.8 729.7,226.5 C731.2,226.1 732.7,225.6 734.2,225.1 C735.7,224.6 737.2,223.9 738.7,223.3 C740.2,222.7 741.7,222.1 743.2,221.5 C744.7,220.9 746.2,220.2 747.7,219.5 C749.2,218.9 750.7,218.2 752.2,217.5 C753.7,216.8 755.2,216.2 756.7,215.5 C758.2,214.8 759.7,214.1 761.2,213.5 C762.7,212.8 764.2,212.1 765.7,211.5 C767.2,210.8 768.7,210.1 770.2,209.5 C771.7,208.9 773.2,208.4 774.7,207.9 C776.2,207.4 777.7,206.9 779.2,206.5 C780.7,206.1 782.2,205.8 783.7,205.5 C785.2,205.2 786.7,205.1 788.2,204.9 C789.7,204.7 791.3,204.4 792.8,204.2 C794.3,204.1 795.8,203.9 797.3,203.8 C798.8,203.8 800.3,203.9 801.8,203.9 C803.3,203.9 804.8,203.9 806.3,203.9 C807.8,203.9 809.3,203.9 810.8,204 C812.3,204 813.8,204.1 815.3,204.2 C816.8,204.3 818.3,204.6 819.8,204.7 C821.3,204.9 822.8,205.1 824.3,205.3 C825.8,205.5 827.3,205.6 828.8,205.8 C830.3,206 831.8,206.2 833.3,206.4 C834.8,206.6 836.3,206.7 837.8,206.9 C839.3,207.1 840.8,207.3 842.3,207.5 C843.8,207.6 845.3,207.8 846.8,208 C848.3,208.1 849.8,208.2 851.3,208.4 C852.8,208.5 854.3,208.7 855.8,208.8 C857.3,209 858.8,209.1 860.3,209.3 C861.8,209.4 863.3,209.6 864.8,209.8 C866.3,210 867.8,210.2 869.3,210.4 C870.8,210.6 872.3,210.8 873.8,210.9 C875.3,211.1 876.8,211.3 878.3,211.5 C879.8,211.7 881.3,211.9 882.8,212.1 C884.3,212.3 885.9,212.6 887.4,212.9 C888.9,213.1 890.4,213.5 891.9,213.8 C893.4,214.1 894.9,214.4 896.4,214.7 C897.9,215 899.4,215.3 900.9,215.6 C902.4,215.9 903.9,216.2 905.4,216.5 C906.9,216.7 908.4,217 909.9,217.3 C911.4,217.6 912.9,217.8 914.4,218 C915.9,218.2 917.4,218.4 918.9,218.7 C920.4,218.9 921.9,219.1 923.4,219.3 C924.9,219.6 926.4,219.8 927.9,220 C929.4,220.3 930.9,220.5 932.4,220.7 C933.9,220.9 935.4,221.1 936.9,221.3 C938.4,221.5 939.9,221.7 941.4,221.9 C942.9,222.1 944.4,222.3 945.9,222.4 C947.4,222.6 948.9,222.8 950.4,223 C951.9,223.2 953.4,223.4 954.9,223.6 C956.4,223.8 957.9,224 959.4,224.1 C960.9,224.3 962.4,224.4 963.9,224.6 C965.4,224.7 966.9,224.9 968.4,225 C969.9,225.1 971.4,225.3 972.9,225.4 C974.4,225.6 975.9,225.7 977.4,225.9 C978.9,226 980.5,226.2 982,226.3 C983.5,226.4 985,226.6 986.5,226.7 C988,226.8 989.5,226.9 991,227.1 C992.5,227.2 994,227.3 995.5,227.4 C997,227.6 998.5,227.7 1000,227.8 C1001.5,228 1003,228.1 1004.5,228.3 C1006,228.5 1007.5,228.6 1009,228.8 C1010.5,228.9 1012,229.1 1013.5,229.3 C1015,229.5 1016.5,229.6 1018,229.8 C1019.5,230 1021,230.2 1022.5,230.4 C1024,230.6 1025.5,230.8 1027,231 C1028.5,231.2 1030,231.3 1031.5,231.5 C1033,231.7 1034.5,231.9 1036,232.1 C1037.5,232.3 1039,232.5 1040.5,232.6 C1042,232.8 1043.5,232.9 1045,233 C1046.5,233.2 1048,233.3 1049.5,233.4 C1051,233.6 1052.5,233.7 1054,233.8 C1055.5,234 1057,234.1 1058.5,234.2 C1060,234.4 1061.5,234.5 1063,234.6 C1064.5,234.7 1066,234.7 1067.5,234.8 C1069,234.8 1070.5,234.8 1072,234.9 C1073.5,234.9 1075.1,234.9 1076.6,235 C1078.1,235 1079.6,235 1081.1,235.1 C1082.6,235.1 1084.1,235.1 1085.6,235.1 C1087.1,235.2 1088.6,235.2 1090.1,235.3 C1091.6,235.3 1093.1,235.4 1094.6,235.4 C1096.1,235.5 1097.6,235.5 1099.1,235.6 C1100.6,235.6 1102.1,235.7 1103.6,235.7 C1105.1,235.8 1106.6,235.9 1108.1,235.9 C1109.6,236 1111.1,236 1112.6,236.1 C1114.1,236.1 1115.6,236.2 1117.1,236.2 C1118.6,236.3 1120.8,236.4 1121.6,236.4" fill="none" stroke="#520c0c" stroke-width="2.3" stroke-linejoin="round" stroke-linecap="round" opacity="1"/>
<path d="M648.6,221.8 C649.4,221.7 651.6,221.3 653.1,221 C654.6,220.8 656.1,220.5 657.6,220.3 C659.1,220 660.6,219.8 662.1,219.5 C663.6,219.3 665.1,219.1 666.6,218.8 C668.1,218.6 669.6,218.3 671.1,218.1 C672.6,217.9 674.1,217.7 675.6,217.4 C677.1,217.2 678.6,217 680.1,216.8 C681.6,216.6 683.1,216.5 684.6,216.2 C686.1,215.9 687.6,215.6 689.1,215.2 C690.6,214.9 692.1,214.5 693.6,214.2 C695.1,213.8 696.7,213.6 698.2,213 C699.7,212.4 701.2,211.5 702.7,210.7 C704.2,209.9 705.7,209.1 707.2,208 C708.7,206.9 710.2,205.4 711.7,203.9 C713.2,202.5 714.7,200.9 716.2,199.5 C717.7,198 719.2,196.6 720.7,195.2 C722.2,193.9 723.7,192.4 725.2,191.1 C726.7,189.8 728.2,188.7 729.7,187.5 C731.2,186.3 732.7,185.1 734.2,183.9 C735.7,182.7 737.2,181.5 738.7,180.4 C740.2,179.3 741.7,178.3 743.2,177.2 C744.7,176.2 746.2,175.2 747.7,174.1 C749.2,173.1 750.7,172 752.2,171 C753.7,169.9 755.2,168.9 756.7,167.8 C758.2,166.7 759.7,165.6 761.2,164.6 C762.7,163.6 764.2,162.6 765.7,161.7 C767.2,160.9 768.7,160.1 770.2,159.4 C771.7,158.6 773.2,157.7 774.7,157 C776.2,156.3 777.7,155.6 779.2,155.1 C780.7,154.5 782.2,154.2 783.7,153.7 C785.2,153.3 786.7,152.9 788.2,152.6 C789.7,152.4 791.3,152.3 792.8,152.2 C794.3,152.1 795.8,152 797.3,152 C798.8,151.9 800.3,151.9 801.8,152 C803.3,152.1 804.8,152.4 806.3,152.7 C807.8,152.9 809.3,153.1 810.8,153.3 C812.3,153.6 813.8,153.8 815.3,154.1 C816.8,154.4 818.3,154.9 819.8,155.2 C821.3,155.6 822.8,156 824.3,156.4 C825.8,156.8 827.3,157.2 828.8,157.5 C830.3,157.9 831.8,158.3 833.3,158.7 C834.8,159.1 836.3,159.4 837.8,159.8 C839.3,160.1 840.8,160.4 842.3,160.7 C843.8,161 845.3,161.3 846.8,161.5 C848.3,161.8 849.8,162.1 851.3,162.4 C852.8,162.7 854.3,163 855.8,163.3 C857.3,163.6 858.8,163.9 860.3,164.2 C861.8,164.6 863.3,165.1 864.8,165.6 C866.3,166 867.8,166.5 869.3,166.9 C870.8,167.4 872.3,167.8 873.8,168.3 C875.3,168.7 876.8,169.2 878.3,169.6 C879.8,170.1 881.3,170.5 882.8,171 C884.3,171.4 885.9,171.8 887.4,172.2 C888.9,172.5 890.4,172.9 891.9,173.2 C893.4,173.6 894.9,173.9 896.4,174.3 C897.9,174.6 899.4,175 900.9,175.4 C902.4,175.7 903.9,176.1 905.4,176.4 C906.9,176.8 908.4,177.1 909.9,177.5 C911.4,177.8 912.9,178.1 914.4,178.4 C915.9,178.8 917.4,179.1 918.9,179.4 C920.4,179.7 921.9,180.1 923.4,180.4 C924.9,180.7 926.4,181 927.9,181.3 C929.4,181.7 930.9,182 932.4,182.3 C933.9,182.6 935.4,183 936.9,183.3 C938.4,183.6 939.9,183.9 941.4,184.2 C942.9,184.5 944.4,184.8 945.9,185.1 C947.4,185.5 948.9,185.8 950.4,186.1 C951.9,186.4 953.4,186.7 954.9,187 C956.4,187.3 957.9,187.6 959.4,187.9 C960.9,188.2 962.4,188.5 963.9,188.8 C965.4,189.1 966.9,189.4 968.4,189.7 C969.9,190 971.4,190.3 972.9,190.6 C974.4,190.9 975.9,191.2 977.4,191.5 C978.9,191.8 980.5,192.2 982,192.4 C983.5,192.7 985,192.9 986.5,193.1 C988,193.3 989.5,193.5 991,193.7 C992.5,193.9 994,194.1 995.5,194.3 C997,194.5 998.5,194.7 1000,194.9 C1001.5,195.1 1003,195.3 1004.5,195.5 C1006,195.7 1007.5,195.9 1009,196.1 C1010.5,196.3 1012,196.4 1013.5,196.7 C1015,196.9 1016.5,197.1 1018,197.4 C1019.5,197.6 1021,197.9 1022.5,198.2 C1024,198.4 1025.5,198.7 1027,199 C1028.5,199.2 1030,199.5 1031.5,199.8 C1033,200 1034.5,200.3 1036,200.6 C1037.5,200.8 1039,201.1 1040.5,201.3 C1042,201.5 1043.5,201.7 1045,201.9 C1046.5,202.1 1048,202.3 1049.5,202.5 C1051,202.7 1052.5,203 1054,203.2 C1055.5,203.4 1057,203.6 1058.5,203.8 C1060,204 1061.5,204.2 1063,204.4 C1064.5,204.6 1066,204.8 1067.5,205 C1069,205.2 1070.5,205.5 1072,205.7 C1073.5,205.9 1075.1,206.1 1076.6,206.3 C1078.1,206.5 1079.6,206.7 1081.1,206.9 C1082.6,207.1 1084.1,207.3 1085.6,207.5 C1087.1,207.7 1088.6,207.9 1090.1,208 C1091.6,208.2 1093.1,208.3 1094.6,208.4 C1096.1,208.5 1097.6,208.6 1099.1,208.7 C1100.6,208.8 1102.1,208.9 1103.6,209 C1105.1,209.1 1106.6,209.3 1108.1,209.4 C1109.6,209.5 1111.1,209.6 1112.6,209.7 C1114.1,209.8 1115.6,209.9 1117.1,210 C1118.6,210.1 1120.8,210.3 1121.6,210.4" fill="none" stroke="#d21a1a" stroke-width="2.3" stroke-linejoin="round" stroke-linecap="round" opacity="1"/>
<path d="M648.6,212.6 C649.4,212.3 651.6,211.4 653.1,210.8 C654.6,210.2 656.1,209.6 657.6,209 C659.1,208.5 660.6,207.9 662.1,207.4 C663.6,206.8 665.1,206.3 666.6,205.8 C668.1,205.3 669.6,204.7 671.1,204.2 C672.6,203.7 674.1,203.2 675.6,202.7 C677.1,202.2 678.6,201.7 680.1,201.3 C681.6,200.8 683.1,200.5 684.6,200.1 C686.1,199.7 687.6,199.4 689.1,199 C690.6,198.5 692.1,197.9 693.6,197.3 C695.1,196.7 696.7,196 698.2,195.3 C699.7,194.6 701.2,193.9 702.7,193 C704.2,192.1 705.7,191.1 707.2,190 C708.7,188.9 710.2,187.6 711.7,186.2 C713.2,184.8 714.7,183.2 716.2,181.8 C717.7,180.4 719.2,179 720.7,177.8 C722.2,176.5 723.7,175.2 725.2,174.1 C726.7,173.1 728.2,172.3 729.7,171.3 C731.2,170.4 732.7,169.5 734.2,168.6 C735.7,167.7 737.2,166.8 738.7,166 C740.2,165.1 741.7,164.3 743.2,163.5 C744.7,162.7 746.2,161.9 747.7,161.1 C749.2,160.3 750.7,159.4 752.2,158.7 C753.7,157.9 755.2,157.1 756.7,156.4 C758.2,155.6 759.7,154.8 761.2,154.1 C762.7,153.4 764.2,152.7 765.7,152 C767.2,151.4 768.7,150.9 770.2,150.3 C771.7,149.8 773.2,149.2 774.7,148.7 C776.2,148.2 777.7,147.7 779.2,147.3 C780.7,146.9 782.2,146.7 783.7,146.4 C785.2,146.1 786.7,145.8 788.2,145.6 C789.7,145.4 791.3,145.4 792.8,145.3 C794.3,145.2 795.8,145.1 797.3,145.1 C798.8,145.1 800.3,145.1 801.8,145.3 C803.3,145.5 804.8,145.9 806.3,146.2 C807.8,146.4 809.3,146.7 810.8,147 C812.3,147.4 813.8,147.7 815.3,148 C816.8,148.4 818.3,148.8 819.8,149.2 C821.3,149.6 822.8,150 824.3,150.4 C825.8,150.8 827.3,151.2 828.8,151.6 C830.3,152 831.8,152.4 833.3,152.8 C834.8,153.1 836.3,153.5 837.8,153.8 C839.3,154.1 840.8,154.4 842.3,154.8 C843.8,155.1 845.3,155.4 846.8,155.7 C848.3,156 849.8,156.3 851.3,156.7 C852.8,157 854.3,157.3 855.8,157.6 C857.3,157.9 858.8,158.2 860.3,158.6 C861.8,159 863.3,159.5 864.8,159.9 C866.3,160.3 867.8,160.8 869.3,161.2 C870.8,161.6 872.3,162.1 873.8,162.5 C875.3,162.9 876.8,163.4 878.3,163.8 C879.8,164.2 881.3,164.7 882.8,165.1 C884.3,165.5 885.9,165.9 887.4,166.2 C888.9,166.6 890.4,166.9 891.9,167.2 C893.4,167.6 894.9,167.9 896.4,168.2 C897.9,168.6 899.4,168.9 900.9,169.3 C902.4,169.6 903.9,169.9 905.4,170.3 C906.9,170.6 908.4,170.9 909.9,171.3 C911.4,171.6 912.9,171.9 914.4,172.2 C915.9,172.6 917.4,172.9 918.9,173.2 C920.4,173.5 921.9,173.9 923.4,174.2 C924.9,174.5 926.4,174.8 927.9,175.1 C929.4,175.5 930.9,175.8 932.4,176.1 C933.9,176.4 935.4,176.8 936.9,177.1 C938.4,177.4 939.9,177.7 941.4,178 C942.9,178.4 944.4,178.7 945.9,179 C947.4,179.3 948.9,179.6 950.4,179.9 C951.9,180.3 953.4,180.6 954.9,180.9 C956.4,181.2 957.9,181.5 959.4,181.8 C960.9,182.1 962.4,182.4 963.9,182.7 C965.4,183 966.9,183.3 968.4,183.6 C969.9,183.9 971.4,184.2 972.9,184.5 C974.4,184.8 975.9,185.1 977.4,185.4 C978.9,185.7 980.5,186 982,186.3 C983.5,186.6 985,186.9 986.5,187.2 C988,187.5 989.5,187.8 991,188.1 C992.5,188.4 994,188.6 995.5,188.9 C997,189.2 998.5,189.5 1000,189.8 C1001.5,190.1 1003,190.3 1004.5,190.6 C1006,190.9 1007.5,191.2 1009,191.5 C1010.5,191.7 1012,192 1013.5,192.3 C1015,192.5 1016.5,192.8 1018,193 C1019.5,193.2 1021,193.5 1022.5,193.7 C1024,193.9 1025.5,194.1 1027,194.4 C1028.5,194.6 1030,194.8 1031.5,195.1 C1033,195.3 1034.5,195.5 1036,195.7 C1037.5,196 1039,196.2 1040.5,196.4 C1042,196.6 1043.5,196.8 1045,196.9 C1046.5,197.1 1048,197.3 1049.5,197.5 C1051,197.7 1052.5,197.9 1054,198.1 C1055.5,198.3 1057,198.5 1058.5,198.6 C1060,198.8 1061.5,199 1063,199.2 C1064.5,199.4 1066,199.7 1067.5,199.9 C1069,200.1 1070.5,200.3 1072,200.6 C1073.5,200.8 1075.1,201 1076.6,201.2 C1078.1,201.5 1079.6,201.7 1081.1,201.9 C1082.6,202.1 1084.1,202.4 1085.6,202.6 C1087.1,202.8 1088.6,203 1090.1,203.2 C1091.6,203.3 1093.1,203.4 1094.6,203.6 C1096.1,203.7 1097.6,203.9 1099.1,204 C1100.6,204.1 1102.1,204.3 1103.6,204.4 C1105.1,204.5 1106.6,204.7 1108.1,204.8 C1109.6,205 1111.1,205.1 1112.6,205.2 C1114.1,205.4 1115.6,205.5 1117.1,205.7 C1118.6,205.8 1120.8,206 1121.6,206.1" fill="none" stroke="#f2ef2e" stroke-width="2.7" stroke-linejoin="round" stroke-linecap="round" opacity="1"/>
<path d="M648.9,174.7 C649.7,174.4 651.9,173.3 653.4,172.6 C654.9,171.9 656.4,171.2 657.9,170.5 C659.4,169.8 660.9,169.1 662.4,168.3 C663.9,167.6 665.4,166.8 666.9,166.1 C668.4,165.3 669.9,164.6 671.4,163.8 C672.9,163 674.4,162.3 675.9,161.3 C677.4,160.3 678.9,159 680.4,157.8 C681.9,156.6 683.4,155.4 684.9,154.2 C686.4,152.9 687.9,151.8 689.4,150.5 C690.9,149.3 692.4,148 693.9,146.7 C695.4,145.4 697,144.1 698.5,142.7 C700,141.3 701.5,140 703,138.4 C704.5,136.8 706,135 707.5,133.2 C709,131.4 710.5,129.6 712,127.7 C713.5,125.7 715,123.6 716.5,121.7 C718,119.8 719.5,117.9 721,116.3 C722.5,114.6 724,113.1 725.5,111.7 C727,110.3 728.5,109 730,107.9 C731.5,106.8 733,106 734.5,105 C736,104.1 737.5,103.1 739,102.2 C740.5,101.3 742,100.6 743.5,99.8 C745,99 746.5,98.3 748,97.6 C749.5,96.8 751,96.1 752.5,95.3 C754,94.6 755.5,94 757,93.3 C758.5,92.7 760,92.1 761.5,91.5 C763,90.9 764.5,90.3 766,89.7 C767.5,89.1 769,88.6 770.5,88.1 C772,87.7 773.5,87.4 775,87 C776.5,86.6 778,86.2 779.5,85.9 C781,85.6 782.5,85.2 784,85 C785.5,84.8 787,84.7 788.5,84.7 C790,84.7 791.6,85 793.1,85.3 C794.6,85.5 796.1,85.8 797.6,86.2 C799.1,86.7 800.6,87.4 802.1,87.9 C803.6,88.5 805.1,89.1 806.6,89.7 C808.1,90.4 809.6,91 811.1,91.7 C812.6,92.3 814.1,93.1 815.6,93.9 C817.1,94.6 818.6,95.4 820.1,96.1 C821.6,96.9 823.1,97.7 824.6,98.4 C826.1,99.1 827.6,99.8 829.1,100.5 C830.6,101.2 832.1,101.9 833.6,102.6 C835.1,103.2 836.6,103.9 838.1,104.6 C839.6,105.3 841.1,106 842.6,106.8 C844.1,107.5 845.6,108.3 847.1,109 C848.6,109.8 850.1,110.5 851.6,111.3 C853.1,112 854.6,112.8 856.1,113.5 C857.6,114.3 859.1,115 860.6,115.7 C862.1,116.5 863.6,117.2 865.1,118 C866.6,118.7 868.1,119.5 869.6,120.3 C871.1,121.1 872.6,121.9 874.1,122.8 C875.6,123.6 877.1,124.5 878.6,125.4 C880.1,126.2 881.6,127.1 883.1,128 C884.6,128.8 886.2,129.7 887.7,130.5 C889.2,131.3 890.7,132 892.2,132.7 C893.7,133.5 895.2,134.2 896.7,135 C898.2,135.7 899.7,136.4 901.2,137.2 C902.7,137.9 904.2,138.7 905.7,139.4 C907.2,140.1 908.7,140.9 910.2,141.6 C911.7,142.3 913.2,142.9 914.7,143.6 C916.2,144.3 917.7,144.9 919.2,145.6 C920.7,146.3 922.2,147 923.7,147.6 C925.2,148.3 926.7,149 928.2,149.6 C929.7,150.3 931.2,151 932.7,151.6 C934.2,152.3 935.7,152.9 937.2,153.5 C938.7,154.1 940.2,154.7 941.7,155.3 C943.2,155.9 944.7,156.5 946.2,157.1 C947.7,157.7 949.2,158.3 950.7,158.9 C952.2,159.5 953.7,160.1 955.2,160.7 C956.7,161.3 958.2,161.9 959.7,162.4 C961.2,162.9 962.7,163.4 964.2,163.9 C965.7,164.4 967.2,164.8 968.7,165.3 C970.2,165.8 971.7,166.3 973.2,166.8 C974.7,167.3 976.2,167.8 977.7,168.3 C979.2,168.7 980.8,169.3 982.3,169.7 C983.8,170.1 985.3,170.5 986.8,170.9 C988.3,171.3 989.8,171.6 991.3,172 C992.8,172.4 994.3,172.8 995.8,173.1 C997.3,173.5 998.8,173.9 1000.3,174.3 C1001.8,174.8 1003.3,175.3 1004.8,175.8 C1006.3,176.3 1007.8,176.8 1009.3,177.3 C1010.8,177.7 1012.3,178.3 1013.8,178.7 C1015.3,179.1 1016.8,179.4 1018.3,179.7 C1019.8,180.1 1021.3,180.3 1022.8,180.6 C1024.3,180.9 1025.8,181.2 1027.3,181.5 C1028.8,181.8 1030.3,182.1 1031.8,182.4 C1033.3,182.7 1034.8,183 1036.3,183.3 C1037.8,183.6 1039.3,183.9 1040.8,184.2 C1042.3,184.5 1043.8,184.7 1045.3,185 C1046.8,185.2 1048.3,185.5 1049.8,185.8 C1051.3,186 1052.8,186.3 1054.3,186.6 C1055.8,186.8 1057.3,187.1 1058.8,187.3 C1060.3,187.6 1061.8,187.9 1063.3,188.1 C1064.8,188.4 1066.3,188.6 1067.8,188.9 C1069.3,189.1 1070.8,189.4 1072.3,189.6 C1073.8,189.9 1075.4,190.1 1076.9,190.3 C1078.4,190.6 1079.9,190.8 1081.4,191.1 C1082.9,191.3 1084.4,191.6 1085.9,191.8 C1087.4,192 1088.9,192.2 1090.4,192.4 C1091.9,192.6 1093.4,192.7 1094.9,192.9 C1096.4,193 1097.9,193.2 1099.4,193.3 C1100.9,193.5 1102.4,193.6 1103.9,193.8 C1105.4,193.9 1106.9,194.1 1108.4,194.2 C1109.9,194.4 1111.4,194.5 1112.9,194.7 C1114.4,194.8 1115.9,195 1117.4,195.1 C1118.9,195.3 1121.1,195.5 1121.9,195.6" fill="none" stroke="#38c6dc" stroke-width="2.7" stroke-linejoin="round" stroke-linecap="round" opacity="1"/>
<path d="M648.9,177.2 C649.7,176.8 651.9,175.7 653.4,174.9 C654.9,174.2 656.4,173.4 657.9,172.7 C659.4,172 660.9,171.2 662.4,170.5 C663.9,169.7 665.4,168.9 666.9,168.3 C668.4,167.6 669.9,167 671.4,166.4 C672.9,165.8 674.4,165.2 675.9,164.6 C677.4,164.1 678.9,163.4 680.4,163 C681.9,162.5 683.4,162.3 684.9,162 C686.4,161.6 687.9,161.5 689.4,161.1 C690.9,160.6 692.4,159.9 693.9,159.1 C695.4,158.4 697,157.7 698.5,156.7 C700,155.7 701.5,154.4 703,153 C704.5,151.5 706,150 707.5,147.9 C709,145.9 710.5,143.2 712,140.8 C713.5,138.3 715,135.8 716.5,133.4 C718,130.9 719.5,128.3 721,125.9 C722.5,123.5 724,121.2 725.5,118.9 C727,116.6 728.5,114.4 730,112.2 C731.5,110 733,108 734.5,106 C736,103.9 737.5,101.9 739,99.9 C740.5,97.9 742,95.9 743.5,93.9 C745,91.9 746.5,90 748,87.9 C749.5,85.8 751,83.5 752.5,81.3 C754,79.2 755.5,76.8 757,74.8 C758.5,72.8 760,71 761.5,69.2 C763,67.4 764.5,65.7 766,64 C767.5,62.4 769,60.9 770.5,59.4 C772,57.9 773.5,56.3 775,55.1 C776.5,53.9 778,53 779.5,52.1 C781,51.3 782.5,50.3 784,49.8 C785.5,49.3 787,49.3 788.5,49.2 C790,49.1 791.6,49 793.1,49.2 C794.6,49.5 796.1,49.9 797.6,50.5 C799.1,51.1 800.6,52.1 802.1,53.1 C803.6,54.1 805.1,55.3 806.6,56.5 C808.1,57.7 809.6,59.1 811.1,60.5 C812.6,61.9 814.1,63.3 815.6,64.8 C817.1,66.4 818.6,68.1 820.1,69.8 C821.6,71.5 823.1,73.2 824.6,74.9 C826.1,76.6 827.6,78.2 829.1,79.8 C830.6,81.5 832.1,83.1 833.6,84.7 C835.1,86.3 836.6,87.8 838.1,89.3 C839.6,90.8 841.1,92.2 842.6,93.7 C844.1,95.2 845.6,96.7 847.1,98.2 C848.6,99.7 850.1,101.2 851.6,102.7 C853.1,104.3 854.6,105.8 856.1,107.4 C857.6,109 859.1,110.6 860.6,112.2 C862.1,113.9 863.6,115.5 865.1,117.2 C866.6,118.9 868.1,120.7 869.6,122.4 C871.1,124.1 872.6,125.8 874.1,127.5 C875.6,129.2 877.1,130.9 878.6,132.5 C880.1,134.1 881.6,135.5 883.1,136.9 C884.6,138.2 886.2,139.5 887.7,140.7 C889.2,142 890.7,143.3 892.2,144.5 C893.7,145.8 895.2,147.1 896.7,148.2 C898.2,149.2 899.7,150.1 901.2,151 C902.7,152 904.2,152.9 905.7,153.7 C907.2,154.6 908.7,155.5 910.2,156.2 C911.7,157 913.2,157.6 914.7,158.3 C916.2,159 917.7,159.7 919.2,160.3 C920.7,160.9 922.2,161.5 923.7,162 C925.2,162.5 926.7,162.9 928.2,163.3 C929.7,163.8 931.2,164.2 932.7,164.7 C934.2,165.1 935.7,165.6 937.2,166 C938.7,166.5 940.2,167 941.7,167.5 C943.2,168 944.7,168.6 946.2,169.2 C947.7,169.7 949.2,170.3 950.7,170.8 C952.2,171.4 953.7,172 955.2,172.5 C956.7,173 958.2,173.5 959.7,174 C961.2,174.4 962.7,174.8 964.2,175.2 C965.7,175.6 967.2,176 968.7,176.4 C970.2,176.8 971.7,177.2 973.2,177.6 C974.7,178 976.2,178.4 977.7,178.7 C979.2,179.1 980.8,179.4 982.3,179.8 C983.8,180.1 985.3,180.4 986.8,180.8 C988.3,181.1 989.8,181.4 991.3,181.8 C992.8,182.1 994.3,182.5 995.8,182.8 C997.3,183.2 998.8,183.5 1000.3,183.9 C1001.8,184.3 1003.3,184.6 1004.8,185 C1006.3,185.3 1007.8,185.7 1009.3,186 C1010.8,186.4 1012.3,186.8 1013.8,187.2 C1015.3,187.6 1016.8,188 1018.3,188.4 C1019.8,188.8 1021.3,189.2 1022.8,189.6 C1024.3,190 1025.8,190.4 1027.3,190.9 C1028.8,191.3 1030.3,191.7 1031.8,192.2 C1033.3,192.6 1034.8,193 1036.3,193.5 C1037.8,193.9 1039.3,194.4 1040.8,194.7 C1042.3,195.1 1043.8,195.3 1045.3,195.6 C1046.8,195.9 1048.3,196.1 1049.8,196.4 C1051.3,196.6 1052.8,196.9 1054.3,197.1 C1055.8,197.4 1057.3,197.6 1058.8,197.9 C1060.3,198.1 1061.8,198.4 1063.3,198.6 C1064.8,198.9 1066.3,199.2 1067.8,199.4 C1069.3,199.7 1070.8,200 1072.3,200.2 C1073.8,200.5 1075.4,200.7 1076.9,201 C1078.4,201.3 1079.9,201.5 1081.4,201.8 C1082.9,202.1 1084.4,202.3 1085.9,202.6 C1087.4,202.8 1088.9,203 1090.4,203.2 C1091.9,203.4 1093.4,203.6 1094.9,203.7 C1096.4,203.9 1097.9,204.1 1099.4,204.2 C1100.9,204.4 1102.4,204.6 1103.9,204.7 C1105.4,204.9 1106.9,205 1108.4,205.2 C1109.9,205.4 1111.4,205.5 1112.9,205.7 C1114.4,205.9 1115.9,206 1117.4,206.2 C1118.9,206.4 1121.1,206.6 1121.9,206.7" fill="none" stroke="#60116e" stroke-width="2.3" stroke-linejoin="round" stroke-linecap="round" opacity="1"/>
<path d="M1041,8.4 H1115.5" fill="none" stroke="#c4c4c4" stroke-width="1"/>
<path d="M1115.5,8.4 V97 H1041" fill="none" stroke="#9a9a9a" stroke-width="1"/>
<line x1="1042" y1="17.2" x2="1075.5" y2="17.2" stroke="#60116e" stroke-width="2.5"/>
<text x="1079.4" y="22.3" font-family='"Liberation Sans", sans-serif' font-size="14" fill="#222" text-anchor="start" font-weight="normal" >1 mM</text>
<line x1="1042" y1="35.3" x2="1075.5" y2="35.3" stroke="#38c6dc" stroke-width="2.8"/>
<text x="1079.4" y="40.4" font-family='"Liberation Sans", sans-serif' font-size="14" fill="#222" text-anchor="start" font-weight="normal" >2 mM</text>
<line x1="1042" y1="53" x2="1075.5" y2="53" stroke="#f2ef2e" stroke-width="2.8"/>
<text x="1079.4" y="58.1" font-family='"Liberation Sans", sans-serif' font-size="14" fill="#222" text-anchor="start" font-weight="normal" >3 mM</text>
<line x1="1042" y1="70.9" x2="1075.5" y2="70.9" stroke="#d21a1a" stroke-width="2.5"/>
<text x="1079.4" y="76" font-family='"Liberation Sans", sans-serif' font-size="14" fill="#222" text-anchor="start" font-weight="normal" >4 mM</text>
<line x1="1042" y1="88.5" x2="1075.5" y2="88.5" stroke="#520c0c" stroke-width="2.5"/>
<text x="1079.4" y="93.6" font-family='"Liberation Sans", sans-serif' font-size="14" fill="#222" text-anchor="start" font-weight="normal" >5 mM</text>
<line x1="103.7" y1="301.8" x2="103.7" y2="524" stroke="#000" stroke-width="2.2"/>
<line x1="96.7" y1="506.9" x2="103.7" y2="506.9" stroke="#000" stroke-width="2"/>
<text x="94.4" y="509.9" font-family='"Liberation Sans", sans-serif' font-size="11.6" fill="#2b2b2b" text-anchor="end" font-weight="normal" >40</text>
<line x1="96.7" y1="475.5" x2="103.7" y2="475.5" stroke="#000" stroke-width="2"/>
<text x="94.4" y="478.5" font-family='"Liberation Sans", sans-serif' font-size="11.6" fill="#2b2b2b" text-anchor="end" font-weight="normal" >50</text>
<line x1="96.7" y1="444.1" x2="103.7" y2="444.1" stroke="#000" stroke-width="2"/>
<text x="94.4" y="447.1" font-family='"Liberation Sans", sans-serif' font-size="11.6" fill="#2b2b2b" text-anchor="end" font-weight="normal" >60</text>
<line x1="96.7" y1="412.7" x2="103.7" y2="412.7" stroke="#000" stroke-width="2"/>
<text x="94.4" y="415.7" font-family='"Liberation Sans", sans-serif' font-size="11.6" fill="#2b2b2b" text-anchor="end" font-weight="normal" >70</text>
<line x1="96.7" y1="381.3" x2="103.7" y2="381.3" stroke="#000" stroke-width="2"/>
<text x="94.4" y="384.3" font-family='"Liberation Sans", sans-serif' font-size="11.6" fill="#2b2b2b" text-anchor="end" font-weight="normal" >80</text>
<line x1="96.7" y1="349.9" x2="103.7" y2="349.9" stroke="#000" stroke-width="2"/>
<text x="94.4" y="352.9" font-family='"Liberation Sans", sans-serif' font-size="11.6" fill="#2b2b2b" text-anchor="end" font-weight="normal" >90</text>
<line x1="96.7" y1="318.5" x2="103.7" y2="318.5" stroke="#000" stroke-width="2"/>
<text x="94.4" y="321.5" font-family='"Liberation Sans", sans-serif' font-size="11.6" fill="#2b2b2b" text-anchor="end" font-weight="normal" >100</text>
<line x1="99.7" y1="522.6" x2="103.7" y2="522.6" stroke="#000" stroke-width="1.8"/>
<line x1="99.7" y1="491.2" x2="103.7" y2="491.2" stroke="#000" stroke-width="1.8"/>
<line x1="99.7" y1="459.8" x2="103.7" y2="459.8" stroke="#000" stroke-width="1.8"/>
<line x1="99.7" y1="428.4" x2="103.7" y2="428.4" stroke="#000" stroke-width="1.8"/>
<line x1="99.7" y1="397" x2="103.7" y2="397" stroke="#000" stroke-width="1.8"/>
<line x1="99.7" y1="365.6" x2="103.7" y2="365.6" stroke="#000" stroke-width="1.8"/>
<line x1="99.7" y1="334.2" x2="103.7" y2="334.2" stroke="#000" stroke-width="1.8"/>
<line x1="99.7" y1="302.8" x2="103.7" y2="302.8" stroke="#000" stroke-width="1.8"/>
<line x1="102.7" y1="523" x2="581" y2="523" stroke="#000" stroke-width="2.2"/>
<line x1="103.7" y1="523" x2="103.7" y2="530" stroke="#000" stroke-width="2"/>
<text x="103.7" y="541.4" font-family='"Liberation Sans", sans-serif' font-size="11.8" fill="#2b2b2b" text-anchor="middle" font-weight="normal" >0</text>
<line x1="190.3" y1="523" x2="190.3" y2="530" stroke="#000" stroke-width="2"/>
<text x="190.3" y="541.4" font-family='"Liberation Sans", sans-serif' font-size="11.8" fill="#2b2b2b" text-anchor="middle" font-weight="normal" >1</text>
<line x1="276.9" y1="523" x2="276.9" y2="530" stroke="#000" stroke-width="2"/>
<text x="276.9" y="541.4" font-family='"Liberation Sans", sans-serif' font-size="11.8" fill="#2b2b2b" text-anchor="middle" font-weight="normal" >2</text>
<line x1="363.5" y1="523" x2="363.5" y2="530" stroke="#000" stroke-width="2"/>
<text x="363.5" y="541.4" font-family='"Liberation Sans", sans-serif' font-size="11.8" fill="#2b2b2b" text-anchor="middle" font-weight="normal" >3</text>
<line x1="450.1" y1="523" x2="450.1" y2="530" stroke="#000" stroke-width="2"/>
<text x="450.1" y="541.4" font-family='"Liberation Sans", sans-serif' font-size="11.8" fill="#2b2b2b" text-anchor="middle" font-weight="normal" >4</text>
<line x1="536.7" y1="523" x2="536.7" y2="530" stroke="#000" stroke-width="2"/>
<text x="536.7" y="541.4" font-family='"Liberation Sans", sans-serif' font-size="11.8" fill="#2b2b2b" text-anchor="middle" font-weight="normal" >5</text>
<line x1="147" y1="523" x2="147" y2="527" stroke="#000" stroke-width="1.8"/>
<line x1="233.6" y1="523" x2="233.6" y2="527" stroke="#000" stroke-width="1.8"/>
<line x1="320.2" y1="523" x2="320.2" y2="527" stroke="#000" stroke-width="1.8"/>
<line x1="406.8" y1="523" x2="406.8" y2="527" stroke="#000" stroke-width="1.8"/>
<line x1="493.4" y1="523" x2="493.4" y2="527" stroke="#000" stroke-width="1.8"/>
<line x1="580" y1="523" x2="580" y2="527" stroke="#000" stroke-width="1.8"/>
<text transform="translate(31.5,404.5) rotate(-90)" font-family='"Liberation Sans", sans-serif' font-size="14.4" fill="#2b2b2b" text-anchor="middle" dy="0.36em">Particle Size (nm)</text>
<text x="342.1" y="565.7" font-family='"Liberation Sans", sans-serif' font-size="14" fill="#2b2b2b" text-anchor="middle" font-weight="normal" >Plant Extract (mL)</text>
<text y="322.8" font-family='"Liberation Serif", serif' font-size="25.6" fill="#0a0a0a"><tspan x="140.6">(</tspan><tspan x="148.8" font-weight="bold">c</tspan><tspan x="158.9">)</tspan></text>
<path d="M190.7,456.5 C191.4,457 193.7,458.3 195.2,459.3 C196.7,460.3 198.2,461.4 199.7,462.5 C201.2,463.6 202.7,464.8 204.2,466 C205.7,467.1 207.2,468 208.7,469.2 C210.2,470.3 211.7,471.6 213.2,472.9 C214.7,474.2 216.2,475.6 217.7,476.8 C219.2,478.1 220.7,479.3 222.2,480.5 C223.7,481.7 225.2,482.9 226.7,484.1 C228.2,485.2 229.7,486.3 231.2,487.4 C232.7,488.5 234.2,489.5 235.7,490.7 C237.2,491.8 238.7,493 240.2,494.1 C241.7,495.2 243.2,496.2 244.7,497.2 C246.2,498.1 247.7,498.9 249.2,499.8 C250.7,500.6 252.2,501.5 253.7,502.2 C255.2,502.9 256.7,503.5 258.2,504.1 C259.7,504.7 261.2,505.2 262.7,505.6 C264.2,506.1 265.7,506.4 267.2,506.6 C268.7,506.9 270.2,507.2 271.7,507.2 C273.2,507.1 274.7,506.7 276.2,506.4 C277.7,506 279.2,505.6 280.7,505 C282.2,504.4 283.7,503.6 285.2,502.9 C286.7,502.1 288.2,501.5 289.7,500.5 C291.2,499.6 292.7,498.5 294.2,497.4 C295.7,496.3 297.2,495.2 298.7,493.9 C300.2,492.7 301.7,491.2 303.2,489.7 C304.7,488.3 306.2,486.9 307.7,485.3 C309.2,483.7 310.7,482.2 312.2,480.2 C313.7,478.2 315.2,475.5 316.7,473.1 C318.2,470.8 319.7,468.4 321.2,466.2 C322.7,464 324.2,461.9 325.7,459.8 C327.2,457.7 328.7,455.6 330.2,453.5 C331.7,451.5 333.2,449.5 334.7,447.6 C336.2,445.6 337.7,443.6 339.2,441.7 C340.7,439.8 342.2,438.2 343.7,436.4 C345.2,434.7 346.7,432.9 348.2,431.3 C349.7,429.7 351.2,428.2 352.7,426.8 C354.2,425.4 355.7,424.1 357.2,422.8 C358.7,421.5 360.2,420.2 361.7,419.1 C363.2,418 364.7,417.1 366.2,416.2 C367.7,415.2 369.2,414.2 370.7,413.3 C372.2,412.5 373.7,411.7 375.2,411 C376.7,410.2 378.2,409.4 379.7,408.7 C381.2,408 382.7,407.4 384.2,406.7 C385.7,406.1 387.2,405.5 388.7,404.9 C390.2,404.3 391.7,403.7 393.2,403.1 C394.7,402.5 396.2,402 397.7,401.4 C399.2,400.8 400.7,400.2 402.2,399.6 C403.7,399 405.2,398.5 406.7,398 C408.2,397.5 409.7,396.9 411.2,396.4 C412.7,395.8 414.2,395.3 415.7,394.7 C417.2,394.1 418.7,393.5 420.2,392.9 C421.7,392.3 423.2,391.7 424.7,391.1 C426.2,390.5 427.7,389.9 429.2,389.3 C430.7,388.7 432.2,388 433.7,387.3 C435.2,386.6 436.7,385.9 438.2,385.3 C439.7,384.6 441.2,383.9 442.7,383.2 C444.2,382.6 445.7,381.9 447.2,381.2 C448.7,380.5 450.2,379.9 451.7,379.1 C453.2,378.3 454.7,377.3 456.2,376.4 C457.7,375.5 459.2,374.7 460.7,373.7 C462.2,372.8 463.7,371.8 465.2,370.8 C466.7,369.8 468.2,368.8 469.7,367.8 C471.2,366.8 472.7,365.9 474.2,365.1 C475.7,364.2 477.2,363.5 478.7,362.6 C480.2,361.7 481.7,360.6 483.2,359.6 C484.7,358.5 486.2,357.3 487.7,356.2 C489.2,355.1 490.7,354 492.2,352.9 C493.7,351.8 495.2,350.7 496.7,349.6 C498.2,348.6 499.7,347.6 501.2,346.6 C502.7,345.6 504.2,344.7 505.7,343.7 C507.2,342.7 508.7,341.7 510.2,340.6 C511.7,339.5 513.2,338.4 514.7,337.3 C516.2,336.2 517.7,335 519.2,334 C520.7,332.9 522.2,331.9 523.7,330.9 C525.2,329.9 526.7,329 528.2,328 C529.7,327 531.2,325.9 532.7,324.9 C534.2,323.9 536.5,322.3 537.2,321.7" fill="none" stroke="#000" stroke-width="2.3" stroke-linejoin="round" stroke-linecap="round" opacity="1"/>
<line x1="648" y1="301.7" x2="648" y2="523.6" stroke="#000" stroke-width="2.2"/>
<line x1="641" y1="507.8" x2="648" y2="507.8" stroke="#000" stroke-width="2"/>
<text x="638.2" y="510.8" font-family='"Liberation Sans", sans-serif' font-size="11.6" fill="#2b2b2b" text-anchor="end" font-weight="normal" >0.0</text>
<line x1="641" y1="478.5" x2="648" y2="478.5" stroke="#000" stroke-width="2"/>
<text x="638.2" y="481.5" font-family='"Liberation Sans", sans-serif' font-size="11.6" fill="#2b2b2b" text-anchor="end" font-weight="normal" >0.5</text>
<line x1="641" y1="449.2" x2="648" y2="449.2" stroke="#000" stroke-width="2"/>
<text x="638.2" y="452.2" font-family='"Liberation Sans", sans-serif' font-size="11.6" fill="#2b2b2b" text-anchor="end" font-weight="normal" >1.0</text>
<line x1="641" y1="419.9" x2="648" y2="419.9" stroke="#000" stroke-width="2"/>
<text x="638.2" y="422.9" font-family='"Liberation Sans", sans-serif' font-size="11.6" fill="#2b2b2b" text-anchor="end" font-weight="normal" >1.5</text>
<line x1="641" y1="390.6" x2="648" y2="390.6" stroke="#000" stroke-width="2"/>
<text x="638.2" y="393.6" font-family='"Liberation Sans", sans-serif' font-size="11.6" fill="#2b2b2b" text-anchor="end" font-weight="normal" >2.0</text>
<line x1="641" y1="361.3" x2="648" y2="361.3" stroke="#000" stroke-width="2"/>
<text x="638.2" y="364.3" font-family='"Liberation Sans", sans-serif' font-size="11.6" fill="#2b2b2b" text-anchor="end" font-weight="normal" >2.5</text>
<line x1="641" y1="332" x2="648" y2="332" stroke="#000" stroke-width="2"/>
<text x="638.2" y="335" font-family='"Liberation Sans", sans-serif' font-size="11.6" fill="#2b2b2b" text-anchor="end" font-weight="normal" >3.0</text>
<line x1="641" y1="302.7" x2="648" y2="302.7" stroke="#000" stroke-width="2"/>
<text x="638.2" y="305.7" font-family='"Liberation Sans", sans-serif' font-size="11.6" fill="#2b2b2b" text-anchor="end" font-weight="normal" >3.5</text>
<line x1="644" y1="522.5" x2="648" y2="522.5" stroke="#000" stroke-width="1.8"/>
<line x1="644" y1="493.2" x2="648" y2="493.2" stroke="#000" stroke-width="1.8"/>
<line x1="644" y1="463.9" x2="648" y2="463.9" stroke="#000" stroke-width="1.8"/>
<line x1="644" y1="434.6" x2="648" y2="434.6" stroke="#000" stroke-width="1.8"/>
<line x1="644" y1="405.2" x2="648" y2="405.2" stroke="#000" stroke-width="1.8"/>
<line x1="644" y1="376" x2="648" y2="376" stroke="#000" stroke-width="1.8"/>
<line x1="644" y1="346.6" x2="648" y2="346.6" stroke="#000" stroke-width="1.8"/>
<line x1="644" y1="317.4" x2="648" y2="317.4" stroke="#000" stroke-width="1.8"/>
<line x1="647" y1="522.6" x2="1125" y2="522.6" stroke="#000" stroke-width="2.2"/>
<line x1="736.6" y1="522.6" x2="736.6" y2="529.6" stroke="#000" stroke-width="2"/>
<text x="736.6" y="541.4" font-family='"Liberation Sans", sans-serif' font-size="11.8" fill="#2b2b2b" text-anchor="middle" font-weight="normal" >400</text>
<line x1="852.4" y1="522.6" x2="852.4" y2="529.6" stroke="#000" stroke-width="2"/>
<text x="852.4" y="541.4" font-family='"Liberation Sans", sans-serif' font-size="11.8" fill="#2b2b2b" text-anchor="middle" font-weight="normal" >500</text>
<line x1="968.1" y1="522.6" x2="968.1" y2="529.6" stroke="#000" stroke-width="2"/>
<text x="968.1" y="541.4" font-family='"Liberation Sans", sans-serif' font-size="11.8" fill="#2b2b2b" text-anchor="middle" font-weight="normal" >600</text>
<line x1="1083.8" y1="522.6" x2="1083.8" y2="529.6" stroke="#000" stroke-width="2"/>
<text x="1083.8" y="541.4" font-family='"Liberation Sans", sans-serif' font-size="11.8" fill="#2b2b2b" text-anchor="middle" font-weight="normal" >700</text>
<line x1="678.7" y1="522.6" x2="678.7" y2="526.6" stroke="#000" stroke-width="1.8"/>
<line x1="794.5" y1="522.6" x2="794.5" y2="526.6" stroke="#000" stroke-width="1.8"/>
<line x1="910.2" y1="522.6" x2="910.2" y2="526.6" stroke="#000" stroke-width="1.8"/>
<line x1="1026" y1="522.6" x2="1026" y2="526.6" stroke="#000" stroke-width="1.8"/>
<text transform="translate(557.8,399.5) rotate(-90)" font-family='"Liberation Sans", sans-serif' font-size="14.4" fill="#2b2b2b" text-anchor="middle" dy="0.36em">Absorbance (Abs)</text>
<text x="885.2" y="563.3" font-family='"Liberation Sans", sans-serif' font-size="14" fill="#2b2b2b" text-anchor="middle" font-weight="normal" >Wavelength (nm)</text>
<text y="317.4" font-family='"Liberation Serif", serif' font-size="25.4" fill="#0a0a0a"><tspan x="678">(</tspan><tspan x="686.6" font-weight="bold">d</tspan><tspan x="700.8">)</tspan></text>
<path d="M648.3,356.8 C649.1,358.5 651.3,364.2 652.8,366.8 C654.3,369.4 655.8,370.8 657.3,372.3 C658.8,373.8 660.4,374.7 661.9,375.7 C663.4,376.8 664.9,377.6 666.4,378.4 C667.9,379.3 669.4,380.1 670.9,380.7 C672.4,381.4 673.9,381.9 675.4,382.3 C676.9,382.8 678.4,383.2 679.9,383.6 C681.4,383.9 682.9,384.2 684.5,384.2 C686,384.3 687.5,384.2 689,384.1 C690.5,384 692,383.9 693.5,383.6 C695,383.3 696.5,382.9 698,382.4 C699.5,382 701,381.5 702.5,381 C704,380.5 705.5,380 707,379.4 C708.6,378.9 710.1,378.3 711.6,377.8 C713.1,377.2 714.6,376.6 716.1,376.1 C717.6,375.5 719.1,374.9 720.6,374.3 C722.1,373.7 723.6,373.1 725.1,372.6 C726.6,372.1 728.1,371.6 729.6,371.1 C731.1,370.6 732.7,370.2 734.2,369.8 C735.7,369.4 737.2,369 738.7,368.8 C740.2,368.5 741.7,368.3 743.2,368.2 C744.7,368 746.2,367.8 747.7,367.8 C749.2,367.8 750.7,367.9 752.2,368 C753.7,368.2 755.3,368.3 756.8,368.6 C758.3,368.9 759.8,369.3 761.3,369.8 C762.8,370.3 764.3,370.8 765.8,371.4 C767.3,372 768.8,372.7 770.3,373.4 C771.8,374.2 773.3,374.9 774.8,375.8 C776.3,376.7 777.8,377.7 779.4,378.7 C780.9,379.8 782.4,380.9 783.9,382.1 C785.4,383.3 786.9,384.6 788.4,385.9 C789.9,387.3 791.4,388.9 792.9,390.4 C794.4,392 795.9,393.5 797.4,395.1 C798.9,396.6 800.4,398.2 801.9,399.7 C803.5,401.3 805,402.9 806.5,404.5 C808,406 809.5,407.7 811,409.2 C812.5,410.7 814,412.1 815.5,413.5 C817,414.8 818.5,415.9 820,417.2 C821.5,418.5 823,420 824.5,421.4 C826,422.9 827.6,424.4 829.1,425.7 C830.6,427 832.1,428.2 833.6,429.4 C835.1,430.6 836.6,431.7 838.1,432.7 C839.6,433.7 841.1,434.6 842.6,435.5 C844.1,436.4 845.6,437.3 847.1,438.2 C848.6,439.1 850.2,440 851.7,440.9 C853.2,441.8 854.7,442.7 856.2,443.6 C857.7,444.5 859.2,445.5 860.7,446.4 C862.2,447.3 863.7,448.2 865.2,449.1 C866.7,450 868.2,450.9 869.7,451.7 C871.2,452.6 872.7,453.4 874.3,454.2 C875.8,455 877.3,455.8 878.8,456.7 C880.3,457.5 881.8,458.4 883.3,459.3 C884.8,460.1 886.3,461 887.8,461.8 C889.3,462.5 890.8,463.2 892.3,463.9 C893.8,464.6 895.3,465.3 896.8,465.9 C898.4,466.5 899.9,467.1 901.4,467.7 C902.9,468.3 904.4,468.9 905.9,469.4 C907.4,470 908.9,470.6 910.4,471.1 C911.9,471.7 913.4,472.2 914.9,472.6 C916.4,473.1 917.9,473.5 919.4,474 C920.9,474.5 922.5,474.9 924,475.4 C925.5,475.8 927,476.3 928.5,476.7 C930,477.2 931.5,477.6 933,478.1 C934.5,478.5 936,479 937.5,479.4 C939,479.8 940.5,480.3 942,480.7 C943.5,481.1 945.1,481.6 946.6,482 C948.1,482.4 949.6,482.9 951.1,483.2 C952.6,483.6 954.1,484 955.6,484.3 C957.1,484.6 958.6,484.9 960.1,485.2 C961.6,485.5 963.1,485.8 964.6,486 C966.1,486.3 967.6,486.6 969.2,486.8 C970.7,487.1 972.2,487.4 973.7,487.6 C975.2,487.9 976.7,488.2 978.2,488.4 C979.7,488.7 981.2,489 982.7,489.2 C984.2,489.5 985.7,489.7 987.2,489.9 C988.7,490.1 990.2,490.2 991.7,490.4 C993.3,490.6 994.8,490.8 996.3,491 C997.8,491.2 999.3,491.4 1000.8,491.5 C1002.3,491.7 1003.8,491.9 1005.3,492.1 C1006.8,492.2 1008.3,492.3 1009.8,492.4 C1011.3,492.6 1012.8,492.7 1014.3,492.8 C1015.8,492.9 1017.4,493 1018.9,493.1 C1020.4,493.2 1021.9,493.3 1023.4,493.4 C1024.9,493.5 1026.4,493.6 1027.9,493.7 C1029.4,493.7 1030.9,493.8 1032.4,493.9 C1033.9,494 1035.4,494.1 1036.9,494.2 C1038.4,494.3 1040,494.3 1041.5,494.4 C1043,494.5 1044.5,494.6 1046,494.7 C1047.5,494.8 1049,494.9 1050.5,495 C1052,495 1053.5,495.1 1055,495.2 C1056.5,495.3 1058,495.4 1059.5,495.5 C1061,495.5 1062.5,495.6 1064.1,495.7 C1065.6,495.8 1067.1,495.8 1068.6,495.9 C1070.1,496 1071.6,496.1 1073.1,496.1 C1074.6,496.2 1076.1,496.3 1077.6,496.4 C1079.1,496.4 1080.6,496.5 1082.1,496.6 C1083.6,496.7 1085.1,496.7 1086.6,496.8 C1088.2,496.9 1089.7,497 1091.2,497 C1092.7,497.1 1094.2,497.2 1095.7,497.3 C1097.2,497.3 1098.7,497.4 1100.2,497.5 C1101.7,497.6 1103.2,497.6 1104.7,497.7 C1106.2,497.8 1107.7,497.8 1109.2,497.9 C1110.7,498 1112.3,498.1 1113.8,498.1 C1115.3,498.2 1116.8,498.3 1118.3,498.4 C1119.8,498.4 1122,498.6 1122.8,498.6" fill="none" stroke="#520c0c" stroke-width="2.3" stroke-linejoin="round" stroke-linecap="round" opacity="1"/>
<path d="M648.3,356.2 C649.1,357.4 651.3,361.3 652.8,363.4 C654.3,365.6 655.8,367.5 657.3,369 C658.8,370.5 660.4,371.5 661.9,372.5 C663.4,373.5 664.9,374.2 666.4,374.8 C667.9,375.4 669.4,375.8 670.9,376.1 C672.4,376.5 673.9,376.8 675.4,377 C676.9,377.2 678.4,377.2 679.9,377.2 C681.4,377.2 682.9,377.2 684.5,377.1 C686,376.9 687.5,376.6 689,376.3 C690.5,375.9 692,375.5 693.5,375 C695,374.6 696.5,374.1 698,373.4 C699.5,372.8 701,372 702.5,371.2 C704,370.3 705.5,369.5 707,368.6 C708.6,367.8 710.1,366.9 711.6,366.1 C713.1,365.3 714.6,364.4 716.1,363.6 C717.6,362.8 719.1,362 720.6,361.3 C722.1,360.6 723.6,359.9 725.1,359.3 C726.6,358.7 728.1,358 729.6,357.5 C731.1,357 732.7,356.5 734.2,356.1 C735.7,355.6 737.2,355.2 738.7,354.9 C740.2,354.5 741.7,354.2 743.2,354 C744.7,353.7 746.2,353.5 747.7,353.3 C749.2,353.2 750.7,353.1 752.2,353.1 C753.7,353.2 755.3,353.3 756.8,353.6 C758.3,353.8 759.8,354.1 761.3,354.5 C762.8,354.9 764.3,355.3 765.8,355.8 C767.3,356.4 768.8,357 770.3,357.7 C771.8,358.4 773.3,359.1 774.8,360 C776.3,360.9 777.8,361.9 779.4,363 C780.9,364.1 782.4,365.3 783.9,366.6 C785.4,368 786.9,369.6 788.4,371.2 C789.9,372.9 791.4,374.8 792.9,376.6 C794.4,378.4 795.9,380.2 797.4,381.9 C798.9,383.7 800.4,385.4 801.9,387.1 C803.5,388.9 805,390.6 806.5,392.4 C808,394.1 809.5,395.9 811,397.5 C812.5,399.2 814,400.7 815.5,402.3 C817,403.8 818.5,405.3 820,406.8 C821.5,408.3 823,409.8 824.5,411.3 C826,412.9 827.6,414.4 829.1,415.9 C830.6,417.5 832.1,419.1 833.6,420.5 C835.1,421.9 836.6,423.1 838.1,424.3 C839.6,425.5 841.1,426.5 842.6,427.8 C844.1,429 845.6,430.4 847.1,431.6 C848.6,432.9 850.2,434.2 851.7,435.5 C853.2,436.7 854.7,438 856.2,439.1 C857.7,440.3 859.2,441.4 860.7,442.5 C862.2,443.5 863.7,444.5 865.2,445.5 C866.7,446.5 868.2,447.4 869.7,448.4 C871.2,449.3 872.7,450.1 874.3,451 C875.8,451.9 877.3,452.7 878.8,453.6 C880.3,454.4 881.8,455.2 883.3,456 C884.8,456.8 886.3,457.5 887.8,458.4 C889.3,459.2 890.8,460 892.3,460.9 C893.8,461.7 895.3,462.7 896.8,463.5 C898.4,464.4 899.9,465.1 901.4,465.8 C902.9,466.5 904.4,467.1 905.9,467.7 C907.4,468.4 908.9,469 910.4,469.6 C911.9,470.2 913.4,470.8 914.9,471.3 C916.4,471.8 917.9,472.3 919.4,472.8 C920.9,473.2 922.5,473.7 924,474.2 C925.5,474.7 927,475.1 928.5,475.5 C930,476 931.5,476.4 933,476.8 C934.5,477.2 936,477.6 937.5,478.1 C939,478.5 940.5,478.9 942,479.4 C943.5,479.8 945.1,480.3 946.6,480.7 C948.1,481.2 949.6,481.7 951.1,482.1 C952.6,482.5 954.1,482.8 955.6,483.2 C957.1,483.5 958.6,483.8 960.1,484.1 C961.6,484.4 963.1,484.7 964.6,485 C966.1,485.3 967.6,485.6 969.2,485.9 C970.7,486.2 972.2,486.5 973.7,486.7 C975.2,487 976.7,487.2 978.2,487.5 C979.7,487.7 981.2,487.9 982.7,488.2 C984.2,488.4 985.7,488.6 987.2,488.7 C988.7,488.9 990.2,489.1 991.7,489.3 C993.3,489.4 994.8,489.6 996.3,489.8 C997.8,489.9 999.3,490.1 1000.8,490.3 C1002.3,490.5 1003.8,490.6 1005.3,490.8 C1006.8,490.9 1008.3,491.1 1009.8,491.2 C1011.3,491.3 1012.8,491.5 1014.3,491.6 C1015.8,491.7 1017.4,491.9 1018.9,492 C1020.4,492.1 1021.9,492.2 1023.4,492.4 C1024.9,492.5 1026.4,492.6 1027.9,492.7 C1029.4,492.9 1030.9,493 1032.4,493.1 C1033.9,493.2 1035.4,493.3 1036.9,493.5 C1038.4,493.6 1040,493.7 1041.5,493.8 C1043,493.9 1044.5,494.1 1046,494.2 C1047.5,494.3 1049,494.4 1050.5,494.5 C1052,494.7 1053.5,494.8 1055,494.9 C1056.5,495 1058,495.1 1059.5,495.2 C1061,495.4 1062.5,495.5 1064.1,495.6 C1065.6,495.7 1067.1,495.7 1068.6,495.8 C1070.1,495.9 1071.6,496 1073.1,496.1 C1074.6,496.2 1076.1,496.3 1077.6,496.4 C1079.1,496.5 1080.6,496.6 1082.1,496.7 C1083.6,496.8 1085.1,496.9 1086.6,497 C1088.2,497.1 1089.7,497.2 1091.2,497.3 C1092.7,497.4 1094.2,497.5 1095.7,497.6 C1097.2,497.7 1098.7,497.8 1100.2,497.9 C1101.7,497.9 1103.2,498 1104.7,498.1 C1106.2,498.2 1107.7,498.3 1109.2,498.4 C1110.7,498.5 1112.3,498.6 1113.8,498.7 C1115.3,498.8 1116.8,498.9 1118.3,499 C1119.8,499.1 1122,499.2 1122.8,499.3" fill="none" stroke="#d21a1a" stroke-width="2.3" stroke-linejoin="round" stroke-linecap="round" opacity="1"/>
<path d="M648.3,355.5 C649.1,356.6 651.3,359.9 652.8,361.8 C654.3,363.7 655.8,365.4 657.3,366.8 C658.8,368.1 660.4,369.1 661.9,370 C663.4,370.9 664.9,371.6 666.4,372.1 C667.9,372.6 669.4,372.8 670.9,373.1 C672.4,373.4 673.9,373.6 675.4,373.7 C676.9,373.7 678.4,373.7 679.9,373.6 C681.4,373.5 682.9,373.3 684.5,373 C686,372.7 687.5,372.1 689,371.6 C690.5,371 692,370.5 693.5,369.8 C695,369.1 696.5,368.3 698,367.4 C699.5,366.5 701,365.6 702.5,364.6 C704,363.7 705.5,362.8 707,361.8 C708.6,360.9 710.1,359.9 711.6,359 C713.1,358 714.6,357.1 716.1,356.2 C717.6,355.2 719.1,354.3 720.6,353.3 C722.1,352.4 723.6,351.4 725.1,350.6 C726.6,349.8 728.1,349 729.6,348.3 C731.1,347.6 732.7,346.9 734.2,346.3 C735.7,345.7 737.2,345.2 738.7,344.8 C740.2,344.4 741.7,344.1 743.2,343.8 C744.7,343.6 746.2,343.3 747.7,343.1 C749.2,342.9 750.7,342.8 752.2,342.7 C753.7,342.6 755.3,342.5 756.8,342.6 C758.3,342.7 759.8,342.8 761.3,343 C762.8,343.3 764.3,343.5 765.8,343.9 C767.3,344.3 768.8,344.9 770.3,345.6 C771.8,346.2 773.3,346.8 774.8,347.6 C776.3,348.5 777.8,349.4 779.4,350.5 C780.9,351.5 782.4,352.7 783.9,353.9 C785.4,355.2 786.9,356.4 788.4,357.9 C789.9,359.3 791.4,360.8 792.9,362.4 C794.4,363.9 795.9,365.5 797.4,367 C798.9,368.6 800.4,370.2 801.9,371.7 C803.5,373.3 805,374.9 806.5,376.5 C808,378.2 809.5,379.7 811,381.5 C812.5,383.3 814,385.3 815.5,387.3 C817,389.2 818.5,391.3 820,393.2 C821.5,395 823,396.7 824.5,398.4 C826,400.1 827.6,401.7 829.1,403.4 C830.6,405.1 832.1,406.9 833.6,408.6 C835.1,410.2 836.6,411.9 838.1,413.4 C839.6,415 841.1,416.4 842.6,417.8 C844.1,419.3 845.6,420.6 847.1,422 C848.6,423.4 850.2,424.8 851.7,426.1 C853.2,427.5 854.7,428.8 856.2,430.2 C857.7,431.5 859.2,432.9 860.7,434.2 C862.2,435.5 863.7,436.7 865.2,437.9 C866.7,439.1 868.2,440.3 869.7,441.5 C871.2,442.6 872.7,443.7 874.3,444.8 C875.8,445.8 877.3,446.8 878.8,447.8 C880.3,448.7 881.8,449.5 883.3,450.3 C884.8,451.1 886.3,451.8 887.8,452.7 C889.3,453.6 890.8,454.6 892.3,455.7 C893.8,456.8 895.3,458.1 896.8,459.1 C898.4,460.1 899.9,461 901.4,461.8 C902.9,462.6 904.4,463.3 905.9,464.1 C907.4,464.8 908.9,465.6 910.4,466.3 C911.9,467 913.4,467.7 914.9,468.3 C916.4,469 917.9,469.5 919.4,470.1 C920.9,470.7 922.5,471.4 924,471.9 C925.5,472.4 927,472.9 928.5,473.4 C930,473.8 931.5,474.1 933,474.5 C934.5,474.9 936,475.2 937.5,475.6 C939,476 940.5,476.5 942,476.9 C943.5,477.4 945.1,477.9 946.6,478.4 C948.1,478.8 949.6,479.3 951.1,479.8 C952.6,480.2 954.1,480.6 955.6,480.9 C957.1,481.3 958.6,481.6 960.1,481.9 C961.6,482.3 963.1,482.6 964.6,482.9 C966.1,483.2 967.6,483.5 969.2,483.8 C970.7,484.1 972.2,484.4 973.7,484.6 C975.2,484.9 976.7,485.1 978.2,485.4 C979.7,485.6 981.2,485.8 982.7,486.1 C984.2,486.3 985.7,486.5 987.2,486.7 C988.7,486.9 990.2,487 991.7,487.2 C993.3,487.4 994.8,487.6 996.3,487.8 C997.8,488 999.3,488.2 1000.8,488.3 C1002.3,488.5 1003.8,488.7 1005.3,488.9 C1006.8,489.1 1008.3,489.2 1009.8,489.4 C1011.3,489.6 1012.8,489.7 1014.3,489.9 C1015.8,490 1017.4,490.2 1018.9,490.4 C1020.4,490.5 1021.9,490.6 1023.4,490.8 C1024.9,490.9 1026.4,491 1027.9,491.2 C1029.4,491.3 1030.9,491.4 1032.4,491.5 C1033.9,491.6 1035.4,491.8 1036.9,491.9 C1038.4,492 1040,492.1 1041.5,492.3 C1043,492.4 1044.5,492.5 1046,492.6 C1047.5,492.8 1049,492.9 1050.5,493 C1052,493.1 1053.5,493.3 1055,493.4 C1056.5,493.5 1058,493.6 1059.5,493.7 C1061,493.8 1062.5,493.9 1064.1,494 C1065.6,494 1067.1,494.1 1068.6,494.2 C1070.1,494.2 1071.6,494.3 1073.1,494.3 C1074.6,494.4 1076.1,494.5 1077.6,494.5 C1079.1,494.6 1080.6,494.7 1082.1,494.7 C1083.6,494.8 1085.1,494.8 1086.6,494.9 C1088.2,495 1089.7,495 1091.2,495.1 C1092.7,495.1 1094.2,495.2 1095.7,495.3 C1097.2,495.3 1098.7,495.4 1100.2,495.5 C1101.7,495.5 1103.2,495.6 1104.7,495.6 C1106.2,495.7 1107.7,495.8 1109.2,495.8 C1110.7,495.9 1112.3,496 1113.8,496 C1115.3,496.1 1116.8,496.1 1118.3,496.2 C1119.8,496.3 1122,496.4 1122.8,496.4" fill="none" stroke="#f2ef2e" stroke-width="2.7" stroke-linejoin="round" stroke-linecap="round" opacity="1"/>
<path d="M648.3,354.9 C649.1,355.9 651.3,359.1 652.8,360.9 C654.3,362.7 655.8,364.4 657.3,365.7 C658.8,367 660.4,367.9 661.9,368.8 C663.4,369.6 664.9,370.3 666.4,370.8 C667.9,371.3 669.4,371.5 670.9,371.8 C672.4,372.1 673.9,372.3 675.4,372.4 C676.9,372.4 678.4,372.4 679.9,372.3 C681.4,372.2 682.9,372 684.5,371.6 C686,371.3 687.5,370.6 689,370 C690.5,369.4 692,368.7 693.5,368 C695,367.2 696.5,366.4 698,365.5 C699.5,364.6 701,363.6 702.5,362.7 C704,361.7 705.5,360.7 707,359.7 C708.6,358.7 710.1,357.7 711.6,356.6 C713.1,355.6 714.6,354.6 716.1,353.5 C717.6,352.5 719.1,351.5 720.6,350.4 C722.1,349.4 723.6,348.3 725.1,347.4 C726.6,346.4 728.1,345.5 729.6,344.6 C731.1,343.7 732.7,342.8 734.2,342.1 C735.7,341.4 737.2,340.7 738.7,340.1 C740.2,339.6 741.7,339.3 743.2,338.9 C744.7,338.5 746.2,338.2 747.7,337.9 C749.2,337.7 750.7,337.5 752.2,337.3 C753.7,337.2 755.3,337 756.8,337 C758.3,337 759.8,337.1 761.3,337.3 C762.8,337.5 764.3,337.6 765.8,338 C767.3,338.3 768.8,338.8 770.3,339.4 C771.8,339.9 773.3,340.4 774.8,341.2 C776.3,341.9 777.8,342.8 779.4,343.7 C780.9,344.7 782.4,345.8 783.9,346.9 C785.4,348.1 786.9,349.2 788.4,350.5 C789.9,351.8 791.4,353.3 792.9,354.7 C794.4,356.1 795.9,357.6 797.4,359 C798.9,360.5 800.4,362 801.9,363.5 C803.5,365.1 805,366.7 806.5,368.3 C808,370 809.5,371.6 811,373.3 C812.5,375 814,376.9 815.5,378.7 C817,380.5 818.5,382.4 820,384.1 C821.5,385.9 823,387.7 824.5,389.4 C826,391.1 827.6,392.8 829.1,394.4 C830.6,396.1 832.1,397.6 833.6,399.2 C835.1,400.8 836.6,402.4 838.1,404.1 C839.6,405.7 841.1,407.5 842.6,409.1 C844.1,410.7 845.6,412.3 847.1,413.9 C848.6,415.4 850.2,416.9 851.7,418.4 C853.2,419.9 854.7,421.4 856.2,422.9 C857.7,424.4 859.2,425.9 860.7,427.3 C862.2,428.8 863.7,430.2 865.2,431.6 C866.7,433 868.2,434.3 869.7,435.6 C871.2,436.9 872.7,438.1 874.3,439.3 C875.8,440.5 877.3,441.7 878.8,442.8 C880.3,443.9 881.8,444.9 883.3,445.9 C884.8,447 886.3,447.9 887.8,449 C889.3,450 890.8,451 892.3,452 C893.8,453 895.3,454.1 896.8,455.1 C898.4,456 899.9,456.9 901.4,457.8 C902.9,458.7 904.4,459.5 905.9,460.3 C907.4,461.1 908.9,462 910.4,462.7 C911.9,463.5 913.4,464.2 914.9,464.9 C916.4,465.5 917.9,466.2 919.4,466.8 C920.9,467.4 922.5,468.1 924,468.7 C925.5,469.3 927,469.8 928.5,470.3 C930,470.8 931.5,471.2 933,471.7 C934.5,472.2 936,472.6 937.5,473.1 C939,473.6 940.5,474.1 942,474.6 C943.5,475.2 945.1,475.7 946.6,476.3 C948.1,476.9 949.6,477.5 951.1,478 C952.6,478.5 954.1,479 955.6,479.4 C957.1,479.9 958.6,480.2 960.1,480.7 C961.6,481.1 963.1,481.4 964.6,481.8 C966.1,482.2 967.6,482.5 969.2,482.9 C970.7,483.2 972.2,483.5 973.7,483.9 C975.2,484.2 976.7,484.5 978.2,484.8 C979.7,485 981.2,485.3 982.7,485.6 C984.2,485.8 985.7,486.1 987.2,486.3 C988.7,486.5 990.2,486.7 991.7,486.9 C993.3,487.1 994.8,487.3 996.3,487.4 C997.8,487.6 999.3,487.8 1000.8,488 C1002.3,488.2 1003.8,488.4 1005.3,488.6 C1006.8,488.8 1008.3,488.9 1009.8,489.1 C1011.3,489.3 1012.8,489.4 1014.3,489.6 C1015.8,489.7 1017.4,489.9 1018.9,490.1 C1020.4,490.2 1021.9,490.4 1023.4,490.5 C1024.9,490.6 1026.4,490.8 1027.9,490.9 C1029.4,491 1030.9,491.2 1032.4,491.3 C1033.9,491.4 1035.4,491.6 1036.9,491.7 C1038.4,491.8 1040,491.9 1041.5,492.1 C1043,492.2 1044.5,492.3 1046,492.5 C1047.5,492.6 1049,492.7 1050.5,492.9 C1052,493 1053.5,493.1 1055,493.3 C1056.5,493.4 1058,493.5 1059.5,493.6 C1061,493.7 1062.5,493.8 1064.1,493.9 C1065.6,494 1067.1,494.1 1068.6,494.1 C1070.1,494.2 1071.6,494.3 1073.1,494.4 C1074.6,494.5 1076.1,494.5 1077.6,494.6 C1079.1,494.7 1080.6,494.8 1082.1,494.9 C1083.6,494.9 1085.1,495 1086.6,495.1 C1088.2,495.2 1089.7,495.3 1091.2,495.3 C1092.7,495.4 1094.2,495.5 1095.7,495.6 C1097.2,495.6 1098.7,495.7 1100.2,495.8 C1101.7,495.9 1103.2,496 1104.7,496 C1106.2,496.1 1107.7,496.2 1109.2,496.3 C1110.7,496.4 1112.3,496.4 1113.8,496.5 C1115.3,496.6 1116.8,496.7 1118.3,496.8 C1119.8,496.8 1122,497 1122.8,497" fill="none" stroke="#38c6dc" stroke-width="2.7" stroke-linejoin="round" stroke-linecap="round" opacity="1"/>
<path d="M648.3,353.6 C649.1,354.6 651.3,358 652.8,359.8 C654.3,361.7 655.8,363.3 657.3,364.7 C658.8,366.1 660.4,367.2 661.9,368.1 C663.4,368.9 664.9,369.5 666.4,370 C667.9,370.4 669.4,370.7 670.9,370.9 C672.4,371.2 673.9,371.2 675.4,371.2 C676.9,371.2 678.4,371.1 679.9,370.9 C681.4,370.7 682.9,370.4 684.5,369.9 C686,369.5 687.5,368.9 689,368.3 C690.5,367.7 692,366.9 693.5,366.1 C695,365.4 696.5,364.6 698,363.7 C699.5,362.8 701,361.7 702.5,360.7 C704,359.7 705.5,358.6 707,357.6 C708.6,356.5 710.1,355.4 711.6,354.3 C713.1,353.1 714.6,352 716.1,350.9 C717.6,349.8 719.1,348.7 720.6,347.6 C722.1,346.6 723.6,345.5 725.1,344.5 C726.6,343.5 728.1,342.5 729.6,341.5 C731.1,340.5 732.7,339.5 734.2,338.6 C735.7,337.6 737.2,336.7 738.7,335.8 C740.2,335 741.7,334.3 743.2,333.5 C744.7,332.8 746.2,332.1 747.7,331.5 C749.2,330.9 750.7,330.4 752.2,330 C753.7,329.7 755.3,329.4 756.8,329.3 C758.3,329.2 759.8,329.3 761.3,329.5 C762.8,329.7 764.3,330 765.8,330.5 C767.3,330.9 768.8,331.5 770.3,332.2 C771.8,332.9 773.3,333.7 774.8,334.6 C776.3,335.4 777.8,336.5 779.4,337.5 C780.9,338.5 782.4,339.6 783.9,340.7 C785.4,341.9 786.9,343 788.4,344.2 C789.9,345.5 791.4,346.7 792.9,348 C794.4,349.3 795.9,350.6 797.4,352 C798.9,353.3 800.4,354.7 801.9,356.1 C803.5,357.6 805,359.1 806.5,360.6 C808,362.1 809.5,363.6 811,365.2 C812.5,366.9 814,368.6 815.5,370.4 C817,372.2 818.5,374.1 820,375.9 C821.5,377.7 823,379.5 824.5,381.2 C826,382.9 827.6,384.6 829.1,386.2 C830.6,387.9 832.1,389.5 833.6,391.2 C835.1,392.8 836.6,394.5 838.1,396.1 C839.6,397.7 841.1,399.3 842.6,400.9 C844.1,402.4 845.6,403.9 847.1,405.4 C848.6,407 850.2,408.5 851.7,410 C853.2,411.5 854.7,413 856.2,414.5 C857.7,416 859.2,417.6 860.7,419.1 C862.2,420.6 863.7,422.1 865.2,423.6 C866.7,425 868.2,426.5 869.7,428 C871.2,429.4 872.7,430.9 874.3,432.3 C875.8,433.7 877.3,435.1 878.8,436.4 C880.3,437.7 881.8,438.8 883.3,440 C884.8,441.2 886.3,442.4 887.8,443.5 C889.3,444.6 890.8,445.8 892.3,446.9 C893.8,448 895.3,449.1 896.8,450.1 C898.4,451.2 899.9,452.1 901.4,453 C902.9,454 904.4,454.9 905.9,455.8 C907.4,456.7 908.9,457.6 910.4,458.4 C911.9,459.3 913.4,460 914.9,460.7 C916.4,461.5 917.9,462.1 919.4,462.8 C920.9,463.5 922.5,464.2 924,464.8 C925.5,465.4 927,466 928.5,466.6 C930,467.2 931.5,467.7 933,468.2 C934.5,468.7 936,469.2 937.5,469.8 C939,470.3 940.5,470.9 942,471.5 C943.5,472.2 945.1,472.9 946.6,473.5 C948.1,474.2 949.6,474.9 951.1,475.4 C952.6,476 954.1,476.5 955.6,477 C957.1,477.4 958.6,477.8 960.1,478.2 C961.6,478.6 963.1,479 964.6,479.3 C966.1,479.7 967.6,480.1 969.2,480.5 C970.7,480.8 972.2,481.2 973.7,481.5 C975.2,481.9 976.7,482.2 978.2,482.5 C979.7,482.8 981.2,483.1 982.7,483.4 C984.2,483.7 985.7,484 987.2,484.3 C988.7,484.6 990.2,484.9 991.7,485.1 C993.3,485.4 994.8,485.7 996.3,485.9 C997.8,486.2 999.3,486.4 1000.8,486.6 C1002.3,486.8 1003.8,487.1 1005.3,487.3 C1006.8,487.5 1008.3,487.6 1009.8,487.8 C1011.3,488 1012.8,488.2 1014.3,488.3 C1015.8,488.5 1017.4,488.7 1018.9,488.9 C1020.4,489 1021.9,489.2 1023.4,489.3 C1024.9,489.4 1026.4,489.6 1027.9,489.7 C1029.4,489.8 1030.9,490 1032.4,490.1 C1033.9,490.3 1035.4,490.4 1036.9,490.5 C1038.4,490.7 1040,490.8 1041.5,490.9 C1043,491.1 1044.5,491.2 1046,491.3 C1047.5,491.5 1049,491.6 1050.5,491.7 C1052,491.9 1053.5,492 1055,492.2 C1056.5,492.3 1058,492.4 1059.5,492.5 C1061,492.6 1062.5,492.7 1064.1,492.8 C1065.6,492.9 1067.1,493 1068.6,493.1 C1070.1,493.2 1071.6,493.3 1073.1,493.3 C1074.6,493.4 1076.1,493.5 1077.6,493.6 C1079.1,493.7 1080.6,493.8 1082.1,493.9 C1083.6,494 1085.1,494 1086.6,494.1 C1088.2,494.2 1089.7,494.3 1091.2,494.4 C1092.7,494.5 1094.2,494.6 1095.7,494.6 C1097.2,494.7 1098.7,494.8 1100.2,494.9 C1101.7,495 1103.2,495.1 1104.7,495.2 C1106.2,495.2 1107.7,495.3 1109.2,495.4 C1110.7,495.5 1112.3,495.6 1113.8,495.7 C1115.3,495.8 1116.8,495.8 1118.3,495.9 C1119.8,496 1122,496.1 1122.8,496.2" fill="none" stroke="#60116e" stroke-width="2.3" stroke-linejoin="round" stroke-linecap="round" opacity="1"/>
<path d="M1041.3,279.5 H1115.7" fill="none" stroke="#c4c4c4" stroke-width="1"/>
<path d="M1115.7,279.5 V368.2 H1041.3" fill="none" stroke="#9a9a9a" stroke-width="1"/>
<line x1="1042.5" y1="288.2" x2="1075.9" y2="288.2" stroke="#60116e" stroke-width="2.5"/>
<text x="1079.4" y="293.3" font-family='"Liberation Sans", sans-serif' font-size="14" fill="#222" text-anchor="start" font-weight="normal" >5 mM</text>
<line x1="1042.5" y1="306.7" x2="1075.9" y2="306.7" stroke="#38c6dc" stroke-width="2.8"/>
<text x="1079.4" y="311.8" font-family='"Liberation Sans", sans-serif' font-size="14" fill="#222" text-anchor="start" font-weight="normal" >4 mM</text>
<line x1="1042.5" y1="324.2" x2="1075.9" y2="324.2" stroke="#f2ef2e" stroke-width="2.8"/>
<text x="1079.4" y="329.3" font-family='"Liberation Sans", sans-serif' font-size="14" fill="#222" text-anchor="start" font-weight="normal" >3 mM</text>
<line x1="1042.5" y1="342" x2="1075.9" y2="342" stroke="#d21a1a" stroke-width="2.5"/>
<text x="1079.4" y="347.1" font-family='"Liberation Sans", sans-serif' font-size="14" fill="#222" text-anchor="start" font-weight="normal" >2 mM</text>
<line x1="1042.5" y1="359.9" x2="1075.9" y2="359.9" stroke="#520c0c" stroke-width="2.5"/>
<text x="1079.4" y="365" font-family='"Liberation Sans", sans-serif' font-size="14" fill="#222" text-anchor="start" font-weight="normal" >1 mM</text>
<line x1="103.9" y1="574.2" x2="103.9" y2="796" stroke="#000" stroke-width="2.2"/>
<line x1="96.9" y1="776.7" x2="103.9" y2="776.7" stroke="#000" stroke-width="2"/>
<text x="94.4" y="779.7" font-family='"Liberation Sans", sans-serif' font-size="11.6" fill="#2b2b2b" text-anchor="end" font-weight="normal" >40</text>
<line x1="96.9" y1="739.9" x2="103.9" y2="739.9" stroke="#000" stroke-width="2"/>
<text x="94.4" y="742.9" font-family='"Liberation Sans", sans-serif' font-size="11.6" fill="#2b2b2b" text-anchor="end" font-weight="normal" >50</text>
<line x1="96.9" y1="703.1" x2="103.9" y2="703.1" stroke="#000" stroke-width="2"/>
<text x="94.4" y="706.1" font-family='"Liberation Sans", sans-serif' font-size="11.6" fill="#2b2b2b" text-anchor="end" font-weight="normal" >60</text>
<line x1="96.9" y1="666.3" x2="103.9" y2="666.3" stroke="#000" stroke-width="2"/>
<text x="94.4" y="669.3" font-family='"Liberation Sans", sans-serif' font-size="11.6" fill="#2b2b2b" text-anchor="end" font-weight="normal" >70</text>
<line x1="96.9" y1="629.5" x2="103.9" y2="629.5" stroke="#000" stroke-width="2"/>
<text x="94.4" y="632.5" font-family='"Liberation Sans", sans-serif' font-size="11.6" fill="#2b2b2b" text-anchor="end" font-weight="normal" >80</text>
<line x1="96.9" y1="592.7" x2="103.9" y2="592.7" stroke="#000" stroke-width="2"/>
<text x="94.4" y="595.7" font-family='"Liberation Sans", sans-serif' font-size="11.6" fill="#2b2b2b" text-anchor="end" font-weight="normal" >90</text>
<line x1="99.9" y1="795.1" x2="103.9" y2="795.1" stroke="#000" stroke-width="1.8"/>
<line x1="99.9" y1="758.3" x2="103.9" y2="758.3" stroke="#000" stroke-width="1.8"/>
<line x1="99.9" y1="721.5" x2="103.9" y2="721.5" stroke="#000" stroke-width="1.8"/>
<line x1="99.9" y1="684.7" x2="103.9" y2="684.7" stroke="#000" stroke-width="1.8"/>
<line x1="99.9" y1="647.9" x2="103.9" y2="647.9" stroke="#000" stroke-width="1.8"/>
<line x1="99.9" y1="611.1" x2="103.9" y2="611.1" stroke="#000" stroke-width="1.8"/>
<line x1="99.9" y1="574.3" x2="103.9" y2="574.3" stroke="#000" stroke-width="1.8"/>
<line x1="102.9" y1="795" x2="581" y2="795" stroke="#000" stroke-width="2.2"/>
<line x1="103.6" y1="795" x2="103.6" y2="802" stroke="#000" stroke-width="2"/>
<text x="103.6" y="814" font-family='"Liberation Sans", sans-serif' font-size="11.8" fill="#2b2b2b" text-anchor="middle" font-weight="normal" >0</text>
<line x1="190.3" y1="795" x2="190.3" y2="802" stroke="#000" stroke-width="2"/>
<text x="190.3" y="814" font-family='"Liberation Sans", sans-serif' font-size="11.8" fill="#2b2b2b" text-anchor="middle" font-weight="normal" >1</text>
<line x1="277" y1="795" x2="277" y2="802" stroke="#000" stroke-width="2"/>
<text x="277" y="814" font-family='"Liberation Sans", sans-serif' font-size="11.8" fill="#2b2b2b" text-anchor="middle" font-weight="normal" >2</text>
<line x1="363.7" y1="795" x2="363.7" y2="802" stroke="#000" stroke-width="2"/>
<text x="363.7" y="814" font-family='"Liberation Sans", sans-serif' font-size="11.8" fill="#2b2b2b" text-anchor="middle" font-weight="normal" >3</text>
<line x1="450.4" y1="795" x2="450.4" y2="802" stroke="#000" stroke-width="2"/>
<text x="450.4" y="814" font-family='"Liberation Sans", sans-serif' font-size="11.8" fill="#2b2b2b" text-anchor="middle" font-weight="normal" >4</text>
<line x1="537.1" y1="795" x2="537.1" y2="802" stroke="#000" stroke-width="2"/>
<text x="537.1" y="814" font-family='"Liberation Sans", sans-serif' font-size="11.8" fill="#2b2b2b" text-anchor="middle" font-weight="normal" >5</text>
<line x1="146.9" y1="795" x2="146.9" y2="799" stroke="#000" stroke-width="1.8"/>
<line x1="233.7" y1="795" x2="233.7" y2="799" stroke="#000" stroke-width="1.8"/>
<line x1="320.4" y1="795" x2="320.4" y2="799" stroke="#000" stroke-width="1.8"/>
<line x1="407" y1="795" x2="407" y2="799" stroke="#000" stroke-width="1.8"/>
<line x1="493.8" y1="795" x2="493.8" y2="799" stroke="#000" stroke-width="1.8"/>
<line x1="580.5" y1="795" x2="580.5" y2="799" stroke="#000" stroke-width="1.8"/>
<text transform="translate(38.2,676.5) rotate(-90)" font-family='"Liberation Sans", sans-serif' font-size="14.4" fill="#2b2b2b" text-anchor="middle" dy="0.36em">Particle Size (nm)</text>
<text x="341.7" y="836.5" font-family='"Liberation Sans", sans-serif' font-size="14" fill="#2b2b2b" text-anchor="middle" font-weight="normal" >Silver Nitrate Conc. (mM)</text>
<text y="607" font-family='"Liberation Serif", serif' font-size="27.7" fill="#0a0a0a"><tspan x="135.6">(</tspan><tspan x="144.4" font-weight="bold">e</tspan><tspan x="157.3">)</tspan></text>
<path d="M189.9,708.8 C190.7,709.4 192.9,711 194.4,712.1 C195.9,713.2 197.4,714.3 198.9,715.5 C200.4,716.7 201.9,718.1 203.4,719.5 C204.9,720.8 206.4,722.2 208,723.7 C209.5,725.2 211,726.8 212.5,728.4 C214,730.1 215.5,731.8 217,733.5 C218.5,735.1 220,736.8 221.5,738.4 C223,740.1 224.5,741.7 226,743.3 C227.5,744.9 229,746.5 230.5,748 C232,749.5 233.5,751 235,752.5 C236.5,754 238,755.5 239.5,756.9 C241,758.3 242.6,759.6 244.1,760.9 C245.6,762.2 247.1,763.6 248.6,764.7 C250.1,765.9 251.6,766.9 253.1,768 C254.6,769 256.1,770.1 257.6,771 C259.1,771.8 260.6,772.4 262.1,773 C263.6,773.6 265.1,774.1 266.6,774.5 C268.1,774.9 269.6,775.1 271.1,775.3 C272.6,775.4 274.1,775.5 275.6,775.4 C277.2,775.4 278.7,775.2 280.2,774.9 C281.7,774.6 283.2,774.1 284.7,773.6 C286.2,773 287.7,772.5 289.2,771.6 C290.7,770.8 292.2,769.5 293.7,768.3 C295.2,767.2 296.7,766.1 298.2,764.7 C299.7,763.3 301.2,761.6 302.7,760 C304.2,758.4 305.7,756.9 307.2,755.1 C308.7,753.4 310.2,751.4 311.8,749.4 C313.3,747.5 314.8,745.6 316.3,743.5 C317.8,741.4 319.3,739.1 320.8,736.8 C322.3,734.5 323.8,731.9 325.3,729.5 C326.8,727.1 328.3,724.6 329.8,722.3 C331.3,720.1 332.8,718 334.3,716 C335.8,713.9 337.3,711.8 338.8,709.9 C340.3,707.9 341.8,706 343.3,704.1 C344.8,702.3 346.4,700.5 347.9,698.8 C349.4,697.1 350.9,695.5 352.4,693.9 C353.9,692.4 355.4,691 356.9,689.6 C358.4,688.2 359.9,687 361.4,685.7 C362.9,684.4 364.4,683 365.9,681.8 C367.4,680.6 368.9,679.5 370.4,678.4 C371.9,677.3 373.4,676.3 374.9,675.3 C376.4,674.2 377.9,673.2 379.4,672.3 C380.9,671.3 382.5,670.4 384,669.5 C385.5,668.6 387,667.7 388.5,666.8 C390,665.9 391.5,665 393,664 C394.5,663.1 396,662.2 397.5,661.3 C399,660.4 400.5,659.5 402,658.7 C403.5,657.8 405,656.9 406.5,656 C408,655.1 409.5,654.1 411,653.2 C412.5,652.3 414,651.3 415.5,650.3 C417.1,649.3 418.6,648.3 420.1,647.4 C421.6,646.4 423.1,645.5 424.6,644.6 C426.1,643.7 427.6,642.8 429.1,641.9 C430.6,641 432.1,640.1 433.6,639.2 C435.1,638.4 436.6,637.5 438.1,636.7 C439.6,635.8 441.1,635 442.6,634.1 C444.1,633.3 445.6,632.4 447.1,631.6 C448.6,630.8 450.1,629.9 451.7,629.1 C453.2,628.3 454.7,627.5 456.2,626.7 C457.7,626 459.2,625.1 460.7,624.4 C462.2,623.7 463.7,623 465.2,622.3 C466.7,621.6 468.2,620.9 469.7,620.3 C471.2,619.6 472.7,619 474.2,618.3 C475.7,617.7 477.2,617 478.7,616.4 C480.2,615.8 481.7,615.2 483.2,614.6 C484.7,614 486.3,613.4 487.8,612.9 C489.3,612.3 490.8,611.7 492.3,611.1 C493.8,610.6 495.3,610 496.8,609.4 C498.3,608.8 499.8,608.2 501.3,607.6 C502.8,607 504.3,606.4 505.8,605.8 C507.3,605.2 508.8,604.5 510.3,604 C511.8,603.4 513.3,602.8 514.8,602.2 C516.3,601.6 517.8,601 519.3,600.5 C520.9,599.9 522.4,599.4 523.9,598.8 C525.4,598.3 526.9,597.8 528.4,597.3 C529.9,596.8 531.4,596.3 532.9,595.8 C534.4,595.3 536.6,594.5 537.4,594.3" fill="none" stroke="#000" stroke-width="2.3" stroke-linejoin="round" stroke-linecap="round" opacity="1"/>
</svg>
</body></html>
